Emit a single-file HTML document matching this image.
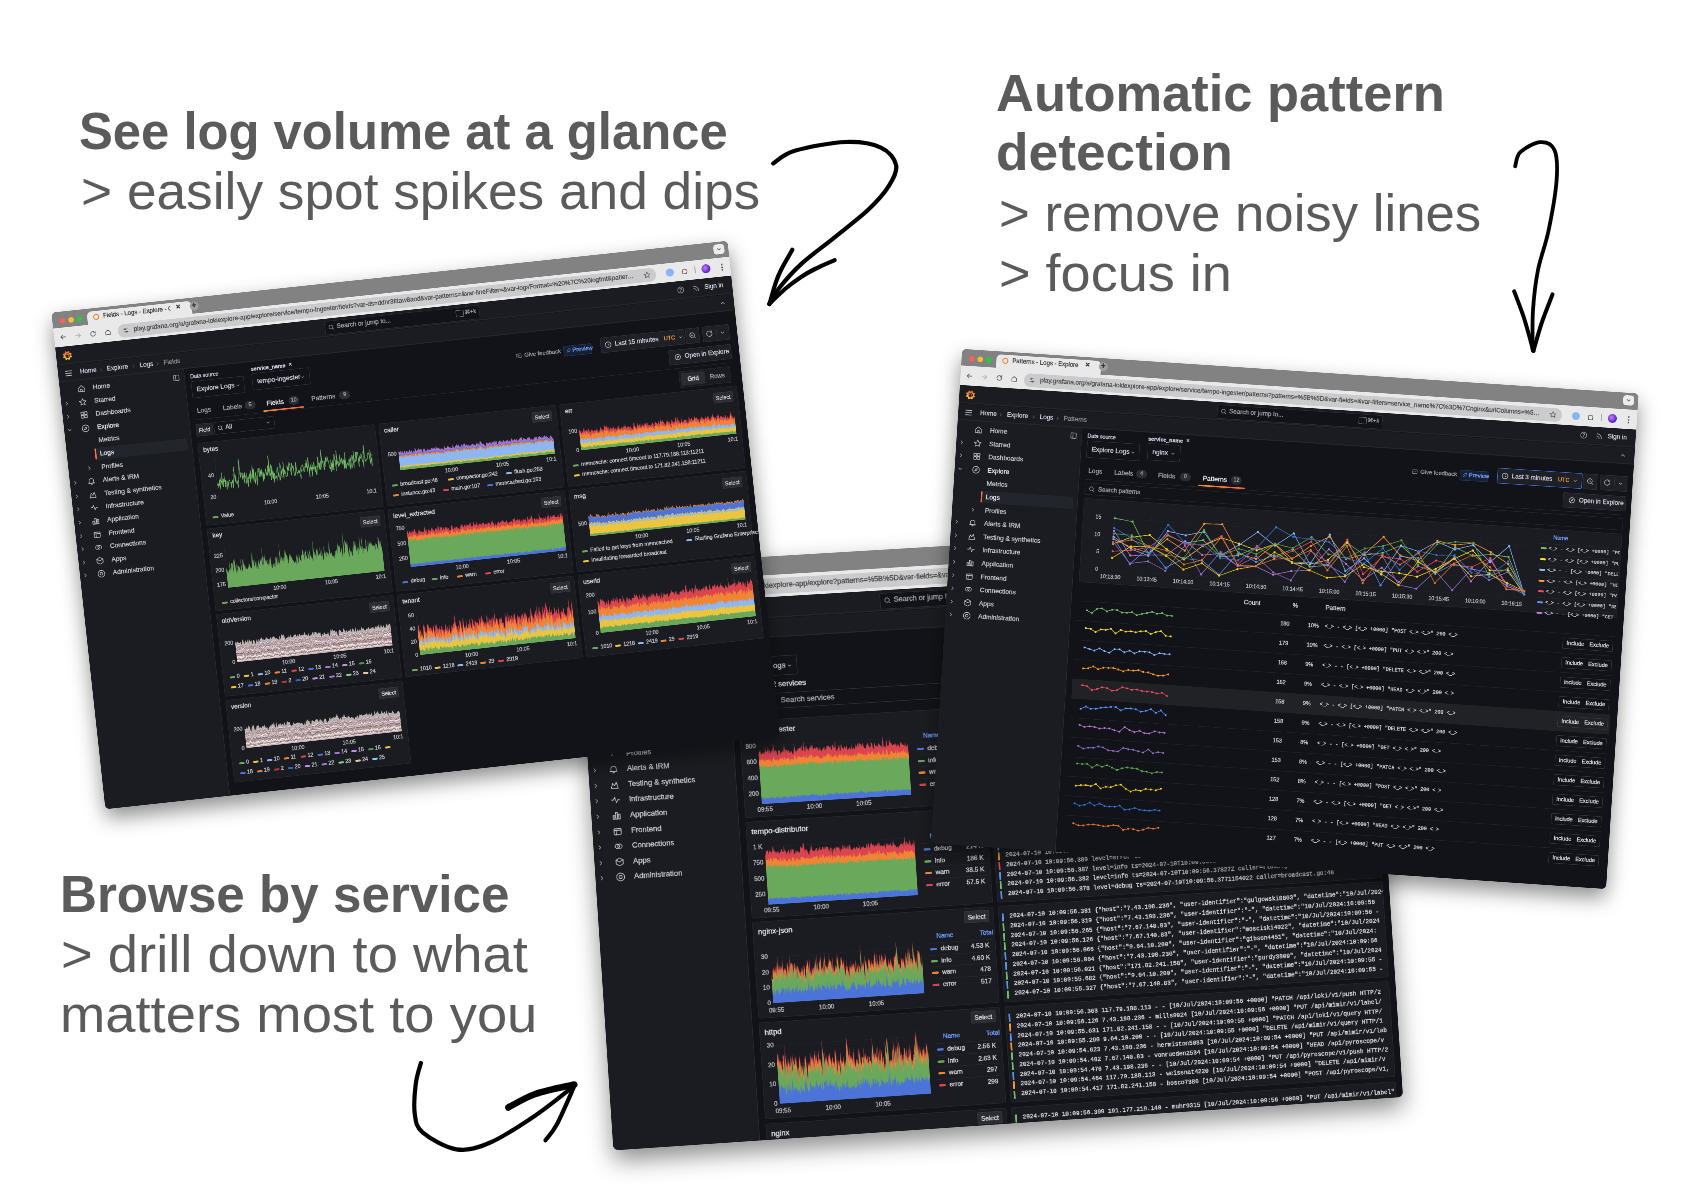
<!DOCTYPE html><html><head><meta charset="utf-8"><style>html,body{margin:0;padding:0;background:#fff}body{width:1684px;height:1190px;position:relative;overflow:hidden;font-family:"Liberation Sans",sans-serif}</style></head><body><div style="position:absolute;font-family:'Liberation Sans',sans-serif;color:#5b5b5b;white-space:nowrap;left:78.9px;top:105.6px;font-size:51.5px;line-height:51.5px;font-weight:700;transform-origin:0 0;transform:scaleX(0.9853)">See log volume at a glance</div><div style="position:absolute;font-family:'Liberation Sans',sans-serif;color:#5b5b5b;white-space:nowrap;left:81.2px;top:165.8px;font-size:51.5px;line-height:51.5px;font-weight:400;transform-origin:0 0;transform:scaleX(1.0338)">&gt; easily spot spikes and dips</div><div style="position:absolute;font-family:'Liberation Sans',sans-serif;color:#5b5b5b;white-space:nowrap;left:996.4px;top:68.1px;font-size:51.5px;line-height:51.5px;font-weight:700;transform-origin:0 0;transform:scaleX(1.0186)">Automatic pattern</div><div style="position:absolute;font-family:'Liberation Sans',sans-serif;color:#5b5b5b;white-space:nowrap;left:996.4px;top:127.4px;font-size:51.5px;line-height:51.5px;font-weight:700;transform-origin:0 0;transform:scaleX(1.0343)">detection</div><div style="position:absolute;font-family:'Liberation Sans',sans-serif;color:#5b5b5b;white-space:nowrap;left:998.9px;top:187.7px;font-size:51.5px;line-height:51.5px;font-weight:400;transform-origin:0 0;transform:scaleX(1.0241)">&gt; remove noisy lines</div><div style="position:absolute;font-family:'Liberation Sans',sans-serif;color:#5b5b5b;white-space:nowrap;left:998.8px;top:247.8px;font-size:51.5px;line-height:51.5px;font-weight:400;transform-origin:0 0;transform:scaleX(1.0498)">&gt; focus in</div><div style="position:absolute;font-family:'Liberation Sans',sans-serif;color:#5b5b5b;white-space:nowrap;left:60.4px;top:868.7px;font-size:51.5px;line-height:51.5px;font-weight:700;transform-origin:0 0;transform:scaleX(0.9935)">Browse by service</div><div style="position:absolute;font-family:'Liberation Sans',sans-serif;color:#5b5b5b;white-space:nowrap;left:61.3px;top:929.0px;font-size:51.5px;line-height:51.5px;font-weight:400;transform-origin:0 0;transform:scaleX(1.0557)">&gt; drill down to what</div><div style="position:absolute;font-family:'Liberation Sans',sans-serif;color:#5b5b5b;white-space:nowrap;left:60.2px;top:988.9px;font-size:51.5px;line-height:51.5px;font-weight:400;transform-origin:0 0;transform:scaleX(1.0556)">matters most to you</div><div style="position:absolute;left:0;top:0;width:1364px;height:1005px;transform-origin:0 0;transform:matrix3d(0.5902955433,-0.03021441675,0,8.144071518e-06,0.0381918541,0.5794704153,0,-2.78792397e-08,0,0,1,0,575,568,0,1);border-radius:9px;overflow:hidden;background:#121318;-webkit-text-stroke:0.45px currentColor;box-shadow:0 18px 40px rgba(0,0,0,0.45)"><div style="position:absolute;left:0px;top:0px;width:1364px;height:32px;background:#828282"></div><div style="position:absolute;left:15px;top:13px;width:11px;height:11px;background:#fe5f57;border-radius:50%"></div><div style="position:absolute;left:32px;top:13px;width:11px;height:11px;background:#febc2e;border-radius:50%"></div><div style="position:absolute;left:49px;top:13px;width:11px;height:11px;background:#28c840;border-radius:50%"></div><div style="position:absolute;left:70px;top:6px;width:210px;height:26px;background:#e9e9e9;border-radius:9px 9px 0 0"></div><div style="position:absolute;left:82px;top:12px;width:12px;height:12px;border:2.5px solid #f27a25;border-radius:50%;box-sizing:border-box"></div><div style="position:absolute;left:102px;top:10px;font-size:12px;line-height:14px;color:#3c3c3c;font-weight:400;white-space:nowrap;width:135px;overflow:hidden">Service - Logs - Explore - Grafana</div><div style="position:absolute;left:248px;top:8px;font-size:12px;line-height:14px;color:#444;font-weight:700;white-space:nowrap;">&#x2715;</div><div style="position:absolute;left:276px;top:8px;width:18px;height:18px;background:#9e9e9e;border-radius:50%"></div><div style="position:absolute;left:280px;top:6px;font-size:16px;line-height:18px;color:#333;font-weight:700;white-space:nowrap;">+</div><div style="position:absolute;left:1334px;top:5px;width:22px;height:20px;background:#ececec;border-radius:6px"></div><svg style="position:absolute;left:1339px;top:9px" width="12" height="12" viewBox="0 0 24 24" fill="none" stroke="#444" stroke-width="2.2" stroke-linecap="round" stroke-linejoin="round" ><path d="M6 9 L12 15 L18 9"/></svg><div style="position:absolute;left:0px;top:32px;width:1364px;height:38px;background:#e9e9e9"></div><svg style="position:absolute;left:10px;top:43.0px" width="16" height="16" viewBox="0 0 24 24" fill="none" stroke="#555" stroke-width="2" stroke-linecap="round" stroke-linejoin="round" ><path d="M19 12 H5"/><path d="M11 6 L5 12 L11 18"/></svg><svg style="position:absolute;left:40px;top:43.0px" width="16" height="16" viewBox="0 0 24 24" fill="none" stroke="#aaa" stroke-width="2" stroke-linecap="round" stroke-linejoin="round" ><path d="M5 12 H19"/><path d="M13 6 L19 12 L13 18"/></svg><svg style="position:absolute;left:70px;top:43.0px" width="16" height="16" viewBox="0 0 24 24" fill="none" stroke="#555" stroke-width="2" stroke-linecap="round" stroke-linejoin="round" ><path d="M19 12 A7 7 0 1 1 16.5 6.6"/><path d="M19 4 V9 H14"/></svg><svg style="position:absolute;left:100px;top:43.0px" width="16" height="16" viewBox="0 0 24 24" fill="none" stroke="#555" stroke-width="2" stroke-linecap="round" stroke-linejoin="round" ><path d="M5 11 L12 5 L19 11 V19 H5 Z"/></svg><div style="position:absolute;left:128px;top:38.0px;width:1086px;height:27px;background:#cbcbcd;border-radius:13px"></div><svg style="position:absolute;left:136px;top:43.0px" width="16" height="16" viewBox="0 0 24 24" fill="none" stroke="#555" stroke-width="1.8" stroke-linecap="round" stroke-linejoin="round" ><path d="M6 8 H18 M6 16 H18"/><circle cx="10" cy="8" r="2"/><circle cx="14" cy="16" r="2"/></svg><div style="position:absolute;left:160px;top:43.0px;font-size:12.5px;line-height:14.5px;color:#4a4a4a;font-weight:400;white-space:nowrap;width:1016px;overflow:hidden;text-overflow:ellipsis">play.grafana.org/a/grafana-lokiexplore-app/explore?patterns=%5B%5D&amp;var-fields=&amp;var-levels=&amp;var-patterns=&amp;var-lineFilter=&amp;var-logsFormat=&amp;var-ds=ddhr3fttaw8aod&amp;var-filters=&amp;var-all-fields=</div><svg style="position:absolute;left:1188px;top:43.0px" width="16" height="16" viewBox="0 0 24 24" fill="none" stroke="#555" stroke-width="1.8" stroke-linecap="round" stroke-linejoin="round" ><path d="M12 3 L14.7 9 L21 9.6 L16.2 13.8 L17.6 20 L12 16.7 L6.4 20 L7.8 13.8 L3 9.6 L9.3 9 Z"/></svg><div style="position:absolute;left:1234px;top:43.0px;width:16px;height:16px;background:#8ab4f8;border-radius:50%"></div><svg style="position:absolute;left:1264px;top:43.0px" width="16" height="16" viewBox="0 0 24 24" fill="none" stroke="#555" stroke-width="1.8" stroke-linecap="round" stroke-linejoin="round" ><path d="M5 8 H9 A2 2 0 0 1 13 8 H17 V12 A2 2 0 0 1 17 16 V20 H5 Z"/></svg><div style="position:absolute;left:1292px;top:44.0px;width:1.5px;height:14px;background:#aaa"></div><div style="position:absolute;left:1306px;top:42.0px;width:18px;height:18px;background:radial-gradient(circle at 40% 40%,#d07cf0,#5b2bd6 60%,#2a1a80);border-radius:50%"></div><div style="position:absolute;left:1340px;top:42.0px;font-size:15px;line-height:17px;color:#555;font-weight:700;white-space:nowrap;">&#8942;</div><div style="position:absolute;left:0px;top:70px;width:1364px;height:36px;background:#1b1c21;border-bottom:2px solid #24262b;box-sizing:border-box"></div><svg style="position:absolute;left:12px;top:78px" width="21" height="21" viewBox="0 0 24 24"><defs><linearGradient id="glg" gradientUnits="userSpaceOnUse" x1="0" y1="22" x2="0" y2="2"><stop offset="0" stop-color="#f5c342"/><stop offset="0.55" stop-color="#f99a36"/><stop offset="1" stop-color="#e8532b"/></linearGradient></defs><g fill="url(#glg)"><circle cx="12" cy="12" r="8"/><circle cx="19.70" cy="15.11" r="2.3"/><circle cx="15.24" cy="19.64" r="2.3"/><circle cx="8.89" cy="19.70" r="2.3"/><circle cx="4.36" cy="15.24" r="2.3"/><circle cx="4.30" cy="8.89" r="2.3"/><circle cx="8.76" cy="4.36" r="2.3"/><circle cx="15.11" cy="4.30" r="2.3"/><circle cx="19.64" cy="8.76" r="2.3"/></g><circle cx="12.4" cy="12.4" r="5.0" fill="#1b1c21"/><path d="M9.6 11.2 A3 3 0 1 1 12.6 15.4" fill="none" stroke="url(#glg)" stroke-width="1.4"/></svg><div style="position:absolute;left:517px;top:75px;width:330px;height:26px;background:#121318;border:1px solid #2b2d33;border-radius:2px"></div><svg style="position:absolute;left:523px;top:81px" width="14" height="14" viewBox="0 0 24 24" fill="none" stroke="#9fa3ab" stroke-width="2" stroke-linecap="round" stroke-linejoin="round" ><circle cx="11" cy="11" r="6.5"/><path d="M16 16 L20 20"/></svg><div style="position:absolute;left:541px;top:80px;font-size:12.5px;line-height:14.5px;color:#9fa3ab;font-weight:400;white-space:nowrap;">Search or jump to...</div><div style="position:absolute;left:801px;top:81px;width:14px;height:12px;border:1px solid #777;border-radius:2px"></div><div style="position:absolute;left:819px;top:80px;font-size:11px;line-height:13px;color:#9fa3ab;font-weight:400;white-space:nowrap;">&#8984;+k</div><svg style="position:absolute;left:1252px;top:80px" width="16" height="16" viewBox="0 0 24 24" fill="none" stroke="#9fa3ab" stroke-width="1.8" stroke-linecap="round" stroke-linejoin="round" ><circle cx="12" cy="12" r="9"/><path d="M9.5 9.5 A2.5 2.5 0 1 1 12 12 V13.5"/><circle cx="12" cy="17" r="0.6"/></svg><svg style="position:absolute;left:1283px;top:80px" width="16" height="16" viewBox="0 0 24 24" fill="none" stroke="#9fa3ab" stroke-width="2.2" stroke-linecap="round" stroke-linejoin="round" ><path d="M5 19 A0.5 0.5 0 0 0 5 19"/><path d="M5 12 A7 7 0 0 1 12 19"/><path d="M5 5 A14 14 0 0 1 19 19"/></svg><div style="position:absolute;left:1308px;top:80px;font-size:12.5px;line-height:14.5px;color:#ccccdc;font-weight:500;white-space:nowrap;">Sign in</div><div style="position:absolute;left:0px;top:107px;width:1364px;height:33px;background:#1b1c21;border-bottom:2px solid #24262b;box-sizing:border-box"></div><svg style="position:absolute;left:12px;top:115px" width="18" height="18" viewBox="0 0 24 24" fill="none" stroke="#ccccdc" stroke-width="2" stroke-linecap="round" stroke-linejoin="round" ><path d="M4 6 H20"/><path d="M4 12 H20"/><path d="M4 18 H20"/></svg><div style="position:absolute;left:44px;top:116px;font-size:12.5px;line-height:14.5px;color:#ccccdc;font-weight:500;white-space:nowrap;">Home</div><svg style="position:absolute;left:81px;top:119px" width="10" height="10" viewBox="0 0 24 24" fill="none" stroke="#888" stroke-width="2" stroke-linecap="round" stroke-linejoin="round" ><path d="M9 6 L15 12 L9 18"/></svg><div style="position:absolute;left:98px;top:116px;font-size:12.5px;line-height:14.5px;color:#ccccdc;font-weight:500;white-space:nowrap;">Explore</div><svg style="position:absolute;left:147px;top:119px" width="10" height="10" viewBox="0 0 24 24" fill="none" stroke="#888" stroke-width="2" stroke-linecap="round" stroke-linejoin="round" ><path d="M9 6 L15 12 L9 18"/></svg><div style="position:absolute;left:164px;top:116px;font-size:12.5px;line-height:14.5px;color:#ccccdc;font-weight:500;white-space:nowrap;">Logs</div><svg style="position:absolute;left:195px;top:119px" width="10" height="10" viewBox="0 0 24 24" fill="none" stroke="#888" stroke-width="2" stroke-linecap="round" stroke-linejoin="round" ><path d="M9 6 L15 12 L9 18"/></svg><div style="position:absolute;left:212px;top:116px;font-size:12.5px;line-height:14.5px;color:#8e8e8e;font-weight:400;white-space:nowrap;">Logs</div><svg style="position:absolute;left:1334px;top:116px" width="14" height="14" viewBox="0 0 24 24" fill="none" stroke="#9fa3ab" stroke-width="2" stroke-linecap="round" stroke-linejoin="round" ><path d="M6 15 L12 9 L18 15"/></svg><div style="position:absolute;left:250px;top:140px;width:1114px;height:865px;background:#121318"></div><div style="position:absolute;left:0px;top:140px;width:250px;height:865px;background:#1b1c21;border-right:1px solid #2b2d33"></div><svg style="position:absolute;left:226px;top:148px" width="16" height="16" viewBox="0 0 24 24" fill="none" stroke="#9fa3ab" stroke-width="1.8" stroke-linecap="round" stroke-linejoin="round" ><rect x="4" y="4" width="16" height="16" rx="2"/><path d="M10 4 V20"/></svg><svg style="position:absolute;left:34px;top:155.0px" width="18" height="18" viewBox="0 0 24 24" fill="none" stroke="#c0c4cc" stroke-width="1.7" stroke-linecap="round" stroke-linejoin="round" ><path d="M4 11 L12 4 L20 11 V20 H4 Z"/><path d="M10 20 V14 H14 V20"/></svg><div style="position:absolute;left:66px;top:156.0px;font-size:13px;line-height:15px;color:#c4c6cf;font-weight:400;white-space:nowrap;">Home</div><svg style="position:absolute;left:5px;top:184.6px" width="12" height="12" viewBox="0 0 24 24" fill="none" stroke="#9fa3ab" stroke-width="2.2" stroke-linecap="round" stroke-linejoin="round" ><path d="M9 6 L15 12 L9 18"/></svg><svg style="position:absolute;left:34px;top:181.6px" width="18" height="18" viewBox="0 0 24 24" fill="none" stroke="#c0c4cc" stroke-width="1.7" stroke-linecap="round" stroke-linejoin="round" ><path d="M12 3 L14.7 9 L21 9.6 L16.2 13.8 L17.6 20 L12 16.7 L6.4 20 L7.8 13.8 L3 9.6 L9.3 9 Z"/></svg><div style="position:absolute;left:66px;top:182.6px;font-size:13px;line-height:15px;color:#c4c6cf;font-weight:400;white-space:nowrap;">Starred</div><svg style="position:absolute;left:5px;top:211.2px" width="12" height="12" viewBox="0 0 24 24" fill="none" stroke="#9fa3ab" stroke-width="2.2" stroke-linecap="round" stroke-linejoin="round" ><path d="M9 6 L15 12 L9 18"/></svg><svg style="position:absolute;left:34px;top:208.2px" width="18" height="18" viewBox="0 0 24 24" fill="none" stroke="#c0c4cc" stroke-width="1.7" stroke-linecap="round" stroke-linejoin="round" ><rect x="4" y="4" width="7" height="7" rx="1"/><rect x="13" y="4" width="7" height="7" rx="1"/><rect x="4" y="13" width="7" height="7" rx="1"/><rect x="13" y="13" width="7" height="7" rx="1"/></svg><div style="position:absolute;left:66px;top:209.2px;font-size:13px;line-height:15px;color:#c4c6cf;font-weight:400;white-space:nowrap;">Dashboards</div><svg style="position:absolute;left:5px;top:237.8px" width="12" height="12" viewBox="0 0 24 24" fill="none" stroke="#9fa3ab" stroke-width="2.2" stroke-linecap="round" stroke-linejoin="round" ><path d="M6 9 L12 15 L18 9"/></svg><svg style="position:absolute;left:34px;top:234.8px" width="18" height="18" viewBox="0 0 24 24" fill="none" stroke="#c0c4cc" stroke-width="1.7" stroke-linecap="round" stroke-linejoin="round" ><circle cx="12" cy="12" r="9"/><path d="M15.5 8.5 L13.5 13.5 L8.5 15.5 L10.5 10.5 Z"/></svg><div style="position:absolute;left:66px;top:235.8px;font-size:13px;line-height:15px;color:#e6e6ef;font-weight:500;white-space:nowrap;">Explore</div><div style="position:absolute;left:66px;top:262.4px;font-size:13px;line-height:15px;color:#c4c6cf;font-weight:400;white-space:nowrap;">Metrics</div><div style="position:absolute;left:56px;top:285.0px;width:186px;height:24px;background:#22252b;border-radius:2px"></div><div style="position:absolute;left:56px;top:286.0px;width:3px;height:22px;background:linear-gradient(#ff8833,#f55f3e);border-radius:2px"></div><div style="position:absolute;left:66px;top:289.0px;font-size:13px;line-height:15px;color:#e6e6ef;font-weight:500;white-space:nowrap;">Logs</div><svg style="position:absolute;left:36px;top:317.6px" width="12" height="12" viewBox="0 0 24 24" fill="none" stroke="#9fa3ab" stroke-width="2.2" stroke-linecap="round" stroke-linejoin="round" ><path d="M9 6 L15 12 L9 18"/></svg><div style="position:absolute;left:66px;top:315.6px;font-size:13px;line-height:15px;color:#c4c6cf;font-weight:400;white-space:nowrap;">Profiles</div><svg style="position:absolute;left:5px;top:344.20000000000005px" width="12" height="12" viewBox="0 0 24 24" fill="none" stroke="#9fa3ab" stroke-width="2.2" stroke-linecap="round" stroke-linejoin="round" ><path d="M9 6 L15 12 L9 18"/></svg><svg style="position:absolute;left:34px;top:341.20000000000005px" width="18" height="18" viewBox="0 0 24 24" fill="none" stroke="#c0c4cc" stroke-width="1.7" stroke-linecap="round" stroke-linejoin="round" ><path d="M6 17 V11 A6 6 0 0 1 18 11 V17 Z"/><path d="M4 17 H20"/><path d="M10 20 H14"/></svg><div style="position:absolute;left:66px;top:342.20000000000005px;font-size:13px;line-height:15px;color:#c4c6cf;font-weight:400;white-space:nowrap;">Alerts &amp; IRM</div><svg style="position:absolute;left:5px;top:370.8px" width="12" height="12" viewBox="0 0 24 24" fill="none" stroke="#9fa3ab" stroke-width="2.2" stroke-linecap="round" stroke-linejoin="round" ><path d="M9 6 L15 12 L9 18"/></svg><svg style="position:absolute;left:34px;top:367.8px" width="18" height="18" viewBox="0 0 24 24" fill="none" stroke="#c0c4cc" stroke-width="1.7" stroke-linecap="round" stroke-linejoin="round" ><path d="M4 20 L8 8 L12 14 L16 6 L20 20 Z"/></svg><div style="position:absolute;left:66px;top:368.8px;font-size:13px;line-height:15px;color:#c4c6cf;font-weight:400;white-space:nowrap;">Testing &amp; synthetics</div><svg style="position:absolute;left:5px;top:397.4px" width="12" height="12" viewBox="0 0 24 24" fill="none" stroke="#9fa3ab" stroke-width="2.2" stroke-linecap="round" stroke-linejoin="round" ><path d="M9 6 L15 12 L9 18"/></svg><svg style="position:absolute;left:34px;top:394.4px" width="18" height="18" viewBox="0 0 24 24" fill="none" stroke="#c0c4cc" stroke-width="1.7" stroke-linecap="round" stroke-linejoin="round" ><path d="M3 12 H7 L10 6 L14 18 L17 12 H21"/></svg><div style="position:absolute;left:66px;top:395.4px;font-size:13px;line-height:15px;color:#c4c6cf;font-weight:400;white-space:nowrap;">Infrastructure</div><svg style="position:absolute;left:5px;top:424.0px" width="12" height="12" viewBox="0 0 24 24" fill="none" stroke="#9fa3ab" stroke-width="2.2" stroke-linecap="round" stroke-linejoin="round" ><path d="M9 6 L15 12 L9 18"/></svg><svg style="position:absolute;left:34px;top:421.0px" width="18" height="18" viewBox="0 0 24 24" fill="none" stroke="#c0c4cc" stroke-width="1.7" stroke-linecap="round" stroke-linejoin="round" ><rect x="4" y="12" width="4" height="8"/><rect x="10" y="5" width="4" height="15"/><rect x="16" y="9" width="4" height="11"/></svg><div style="position:absolute;left:66px;top:422.0px;font-size:13px;line-height:15px;color:#c4c6cf;font-weight:400;white-space:nowrap;">Application</div><svg style="position:absolute;left:5px;top:450.6px" width="12" height="12" viewBox="0 0 24 24" fill="none" stroke="#9fa3ab" stroke-width="2.2" stroke-linecap="round" stroke-linejoin="round" ><path d="M9 6 L15 12 L9 18"/></svg><svg style="position:absolute;left:34px;top:447.6px" width="18" height="18" viewBox="0 0 24 24" fill="none" stroke="#c0c4cc" stroke-width="1.7" stroke-linecap="round" stroke-linejoin="round" ><rect x="4" y="6" width="16" height="14" rx="2"/><path d="M4 10 H20"/><path d="M9 10 V20"/></svg><div style="position:absolute;left:66px;top:448.6px;font-size:13px;line-height:15px;color:#c4c6cf;font-weight:400;white-space:nowrap;">Frontend</div><svg style="position:absolute;left:5px;top:477.20000000000005px" width="12" height="12" viewBox="0 0 24 24" fill="none" stroke="#9fa3ab" stroke-width="2.2" stroke-linecap="round" stroke-linejoin="round" ><path d="M9 6 L15 12 L9 18"/></svg><svg style="position:absolute;left:34px;top:474.20000000000005px" width="18" height="18" viewBox="0 0 24 24" fill="none" stroke="#c0c4cc" stroke-width="1.7" stroke-linecap="round" stroke-linejoin="round" ><circle cx="9" cy="12" r="5"/><circle cx="15" cy="12" r="5"/></svg><div style="position:absolute;left:66px;top:475.20000000000005px;font-size:13px;line-height:15px;color:#c4c6cf;font-weight:400;white-space:nowrap;">Connections</div><svg style="position:absolute;left:5px;top:503.8px" width="12" height="12" viewBox="0 0 24 24" fill="none" stroke="#9fa3ab" stroke-width="2.2" stroke-linecap="round" stroke-linejoin="round" ><path d="M9 6 L15 12 L9 18"/></svg><svg style="position:absolute;left:34px;top:500.8px" width="18" height="18" viewBox="0 0 24 24" fill="none" stroke="#c0c4cc" stroke-width="1.7" stroke-linecap="round" stroke-linejoin="round" ><path d="M12 3 L20 7.5 V16.5 L12 21 L4 16.5 V7.5 Z"/><path d="M4 7.5 L12 12 L20 7.5"/></svg><div style="position:absolute;left:66px;top:501.8px;font-size:13px;line-height:15px;color:#c4c6cf;font-weight:400;white-space:nowrap;">Apps</div><svg style="position:absolute;left:5px;top:530.4000000000001px" width="12" height="12" viewBox="0 0 24 24" fill="none" stroke="#9fa3ab" stroke-width="2.2" stroke-linecap="round" stroke-linejoin="round" ><path d="M9 6 L15 12 L9 18"/></svg><svg style="position:absolute;left:34px;top:527.4000000000001px" width="18" height="18" viewBox="0 0 24 24" fill="none" stroke="#c0c4cc" stroke-width="1.7" stroke-linecap="round" stroke-linejoin="round" ><circle cx="12" cy="12" r="9"/><circle cx="12" cy="12" r="3.5"/></svg><div style="position:absolute;left:66px;top:528.4000000000001px;font-size:13px;line-height:15px;color:#c4c6cf;font-weight:400;white-space:nowrap;">Administration</div><div style="position:absolute;left:262px;top:154px;font-size:10.5px;line-height:12.5px;color:#ccccdc;font-weight:500;white-space:nowrap;">Data source</div><div style="position:absolute;left:262px;top:172px;width:106px;height:34px;background:#121318;border:1px solid #2f3137;border-radius:2px;box-sizing:border-box"></div><div style="position:absolute;left:272px;top:181px;font-size:13px;line-height:15px;color:#ccccdc;font-weight:500;white-space:nowrap;">Explore Logs</div><svg style="position:absolute;left:350px;top:185px" width="10" height="10" viewBox="0 0 24 24" fill="none" stroke="#ccccdc" stroke-width="2.4" stroke-linecap="round" stroke-linejoin="round" ><path d="M6 9 L12 15 L18 9"/></svg><div style="position:absolute;left:262px;top:213px;font-size:13px;line-height:15px;color:#e0e1e8;font-weight:500;white-space:nowrap;">Showing 22 services</div><div style="position:absolute;left:262px;top:236px;width:1091px;height:27px;background:#121318;border:1px solid #2f3137;border-radius:2px;box-sizing:border-box"></div><svg style="position:absolute;left:314px;top:242px" width="14" height="14" viewBox="0 0 24 24" fill="none" stroke="#9fa3ab" stroke-width="2" stroke-linecap="round" stroke-linejoin="round" ><circle cx="11" cy="11" r="6.5"/><path d="M16 16 L20 20"/></svg><div style="position:absolute;left:336px;top:241px;font-size:13px;line-height:15px;color:#9fa3ab;font-weight:400;white-space:nowrap;">Search services</div><div style="position:absolute;left:262px;top:281px;width:415px;height:167px;background:#1b1c21;border:1px solid #26282d;border-radius:3px;box-sizing:border-box"></div><div style="position:absolute;left:271px;top:291px;font-size:13px;line-height:15px;color:#e0e1e8;font-weight:500;white-space:nowrap;">tempo-ingester</div><div style="position:absolute;left:626px;top:286px;width:43px;height:21px;background:#2b2d33;border:1px solid #34363c;border-radius:2px;box-sizing:border-box;"><div style="position:absolute;left:0;right:0;top:0;bottom:0;display:flex;align-items:center;justify-content:center;font-size:11px;color:#d8d9e0;font-weight:500;white-space:nowrap">Select</div></div><div style="position:absolute;left:256px;top:318.9px;font-size:10.5px;line-height:12.5px;color:#b8bac2;font-weight:400;white-space:nowrap;width:32px;text-align:right">800</div><div style="position:absolute;left:292px;top:325.9px;width:257px;height:1px;background:#202226"></div><div style="position:absolute;left:256px;top:346.4px;font-size:10.5px;line-height:12.5px;color:#b8bac2;font-weight:400;white-space:nowrap;width:32px;text-align:right">600</div><div style="position:absolute;left:292px;top:353.4px;width:257px;height:1px;background:#202226"></div><div style="position:absolute;left:256px;top:373.9px;font-size:10.5px;line-height:12.5px;color:#b8bac2;font-weight:400;white-space:nowrap;width:32px;text-align:right">400</div><div style="position:absolute;left:292px;top:380.9px;width:257px;height:1px;background:#202226"></div><div style="position:absolute;left:256px;top:401.4px;font-size:10.5px;line-height:12.5px;color:#b8bac2;font-weight:400;white-space:nowrap;width:32px;text-align:right">200</div><div style="position:absolute;left:292px;top:408.4px;width:257px;height:1px;background:#202226"></div><div style="position:absolute;left:292px;top:316px;width:257px;height:110px"><svg width="257" height="110" viewBox="0 0 259 110" preserveAspectRatio="none" style="position:absolute;display:block;overflow:visible"><path d="M0,110 0,24 1,20 2,20 3,16 4,24 5,23 6,25 7,22 8,20 9,23 10,25 11,19 12,11 13,21 14,21 15,19 16,18 17,11 18,25 19,17 20,19 21,24 22,22 23,18 24,21 25,15 26,6 27,17 28,23 29,19 30,18 31,20 32,24 33,28 34,19 35,20 36,18 37,20 38,27 39,21 40,24 41,18 42,22 43,23 44,15 45,7 46,27 47,18 48,21 49,18 50,21 51,24 52,19 53,22 54,25 55,24 56,22 57,21 58,27 59,27 60,26 61,22 62,9 63,17 64,22 65,25 66,21 67,22 68,19 69,17 70,20 71,17 72,17 73,16 74,24 75,11 76,23 77,21 78,14 79,6 80,25 81,23 82,15 83,15 84,20 85,19 86,24 87,21 88,17 89,21 90,17 91,13 92,14 93,21 94,13 95,21 96,21 97,18 98,20 99,20 100,17 101,19 102,18 103,23 104,24 105,16 106,24 107,20 108,26 109,24 110,23 111,22 112,19 113,21 114,17 115,26 116,20 117,23 118,17 119,16 120,19 121,16 122,17 123,21 124,18 125,17 126,24 127,23 128,14 129,17 130,20 131,20 132,20 133,8 134,27 135,23 136,28 137,21 138,23 139,16 140,16 141,27 142,25 143,14 144,18 145,23 146,21 147,25 148,22 149,18 150,21 151,23 152,19 153,19 154,27 155,25 156,24 157,22 158,22 159,27 160,23 161,15 162,27 163,24 164,22 165,23 166,25 167,25 168,14 169,25 170,19 171,21 172,14 173,24 174,15 175,14 176,18 177,17 178,18 179,22 180,17 181,15 182,22 183,24 184,24 185,26 186,23 187,17 188,24 189,14 190,19 191,20 192,24 193,22 194,24 195,13 196,17 197,17 198,24 199,27 200,24 201,15 202,23 203,21 204,23 205,20 206,24 207,21 208,17 209,20 210,20 211,22 212,23 213,22 214,28 215,3 216,14 217,25 218,25 219,21 220,28 221,18 222,12 223,22 224,25 225,23 226,20 227,12 228,19 229,17 230,19 231,21 232,24 233,20 234,22 235,21 236,22 237,18 238,24 239,26 240,19 241,24 242,23 243,22 244,28 245,23 246,18 247,19 248,19 249,23 250,21 251,24 252,23 253,27 254,18 255,26 256,24 257,28 258,24 259,22 259,110Z" fill="#d9444f"/><path d="M0,110 0,35 1,34 2,33 3,35 4,33 5,33 6,34 7,33 8,34 9,35 10,37 11,32 12,35 13,35 14,34 15,35 16,34 17,34 18,36 19,33 20,36 21,40 22,37 23,33 24,36 25,31 26,30 27,35 28,37 29,34 30,36 31,34 32,37 33,39 34,35 35,35 36,34 37,31 38,35 39,34 40,34 41,32 42,34 43,37 44,31 45,31 46,37 47,35 48,34 49,33 50,34 51,34 52,32 53,38 54,39 55,34 56,36 57,36 58,35 59,37 60,37 61,33 62,29 63,30 64,34 65,36 66,37 67,32 68,29 69,33 70,33 71,31 72,33 73,34 74,33 75,33 76,34 77,34 78,29 79,32 80,34 81,38 82,29 83,35 84,36 85,32 86,36 87,30 88,30 89,33 90,31 91,29 92,31 93,38 94,32 95,36 96,35 97,35 98,34 99,34 100,33 101,32 102,33 103,33 104,38 105,34 106,38 107,36 108,39 109,37 110,35 111,37 112,31 113,35 114,34 115,37 116,32 117,32 118,33 119,29 120,31 121,30 122,31 123,35 124,37 125,30 126,38 127,37 128,36 129,34 130,36 131,33 132,36 133,29 134,36 135,37 136,39 137,33 138,36 139,33 140,32 141,37 142,32 143,32 144,31 145,38 146,35 147,34 148,35 149,34 150,31 151,37 152,34 153,32 154,37 155,36 156,36 157,33 158,36 159,38 160,37 161,33 162,38 163,34 164,36 165,33 166,36 167,38 168,31 169,38 170,35 171,34 172,30 173,33 174,34 175,32 176,34 177,32 178,35 179,35 180,36 181,35 182,38 183,34 184,35 185,37 186,38 187,33 188,36 189,30 190,32 191,35 192,35 193,36 194,35 195,31 196,34 197,30 198,35 199,37 200,37 201,30 202,35 203,36 204,38 205,33 206,37 207,32 208,31 209,35 210,38 211,36 212,39 213,33 214,37 215,28 216,32 217,39 218,36 219,38 220,37 221,30 222,28 223,35 224,38 225,41 226,37 227,38 228,32 229,34 230,32 231,33 232,37 233,36 234,36 235,36 236,35 237,30 238,39 239,36 240,31 241,35 242,37 243,34 244,38 245,36 246,35 247,34 248,33 249,39 250,31 251,33 252,37 253,35 254,32 255,39 256,37 257,36 258,38 259,34 259,110Z" fill="#ef8534"/><path d="M0,110 0,45 1,43 2,45 3,48 4,42 5,44 6,47 7,45 8,48 9,43 10,46 11,44 12,47 13,47 14,47 15,45 16,47 17,45 18,47 19,44 20,46 21,48 22,48 23,45 24,45 25,45 26,43 27,44 28,44 29,44 30,45 31,48 32,46 33,50 34,44 35,48 36,45 37,44 38,45 39,46 40,45 41,45 42,47 43,44 44,44 45,43 46,48 47,46 48,44 49,45 50,42 51,46 52,43 53,46 54,47 55,46 56,46 57,45 58,44 59,46 60,47 61,44 62,41 63,44 64,43 65,48 66,47 67,44 68,42 69,44 70,46 71,45 72,45 73,45 74,46 75,46 76,46 77,43 78,43 79,43 80,46 81,46 82,44 83,46 84,47 85,43 86,44 87,42 88,42 89,43 90,43 91,42 92,43 93,46 94,43 95,43 96,45 97,45 98,46 99,43 100,47 101,45 102,45 103,47 104,48 105,46 106,46 107,44 108,46 109,45 110,46 111,46 112,46 113,46 114,44 115,46 116,44 117,45 118,46 119,43 120,44 121,43 122,45 123,45 124,46 125,43 126,48 127,49 128,45 129,43 130,44 131,42 132,43 133,42 134,48 135,49 136,47 137,42 138,48 139,45 140,46 141,47 142,43 143,44 144,43 145,47 146,45 147,43 148,47 149,45 150,43 151,48 152,43 153,45 154,47 155,48 156,46 157,42 158,45 159,46 160,45 161,45 162,47 163,46 164,46 165,45 166,46 167,48 168,43 169,46 170,43 171,46 172,41 173,46 174,45 175,43 176,43 177,44 178,44 179,47 180,45 181,46 182,48 183,45 184,45 185,47 186,47 187,42 188,48 189,44 190,45 191,44 192,45 193,47 194,46 195,46 196,46 197,42 198,48 199,48 200,46 201,42 202,46 203,47 204,48 205,43 206,48 207,44 208,44 209,46 210,48 211,47 212,47 213,42 214,44 215,42 216,42 217,46 218,47 219,47 220,44 221,44 222,43 223,46 224,46 225,48 226,49 227,46 228,45 229,47 230,46 231,44 232,45 233,46 234,43 235,45 236,48 237,44 238,50 239,46 240,44 241,47 242,45 243,44 244,46 245,44 246,47 247,45 248,44 249,48 250,44 251,45 252,49 253,43 254,43 255,49 256,46 257,48 258,49 259,46 259,110Z" fill="#6aa85c"/><path d="M0,110 0,99 1,98 2,98 3,102 4,98 5,99 6,101 7,100 8,102 9,100 10,100 11,100 12,100 13,101 14,102 15,98 16,100 17,100 18,100 19,98 20,99 21,101 22,102 23,101 24,102 25,101 26,99 27,101 28,101 29,99 30,98 31,101 32,101 33,103 34,100 35,101 36,98 37,101 38,99 39,101 40,98 41,101 42,102 43,99 44,100 45,100 46,102 47,103 48,98 49,102 50,98 51,101 52,99 53,100 54,101 55,102 56,100 57,98 58,99 59,102 60,101 61,101 62,98 63,98 64,99 65,101 66,101 67,99 68,98 69,100 70,102 71,98 72,100 73,99 74,99 75,100 76,101 77,99 78,100 79,99 80,102 81,101 82,100 83,99 84,100 85,99 86,100 87,98 88,97 89,100 90,100 91,99 92,99 93,100 94,99 95,100 96,99 97,99 98,103 99,100 100,101 101,101 102,101 103,103 104,102 105,102 106,101 107,100 108,100 109,102 110,101 111,101 112,102 113,101 114,100 115,99 116,99 117,99 118,101 119,100 120,97 121,100 122,100 123,101 124,101 125,99 126,101 127,102 128,99 129,97 130,100 131,98 132,101 133,98 134,101 135,101 136,101 137,98 138,102 139,100 140,100 141,102 142,99 143,100 144,99 145,100 146,100 147,100 148,101 149,101 150,99 151,102 152,99 153,99 154,101 155,100 156,99 157,99 158,101 159,100 160,100 161,101 162,100 163,100 164,100 165,100 166,101 167,101 168,100 169,100 170,99 171,101 172,97 173,100 174,99 175,98 176,100 177,100 178,101 179,101 180,101 181,102 182,103 183,99 184,100 185,101 186,100 187,99 188,101 189,101 190,99 191,100 192,101 193,100 194,101 195,101 196,100 197,99 198,101 199,103 200,101 201,99 202,100 203,101 204,103 205,98 206,102 207,98 208,100 209,100 210,101 211,100 212,101 213,99 214,99 215,99 216,99 217,99 218,103 219,102 220,99 221,100 222,99 223,100 224,101 225,102 226,101 227,100 228,101 229,102 230,101 231,101 232,100 233,99 234,99 235,101 236,101 237,100 238,102 239,102 240,99 241,101 242,101 243,99 244,102 245,99 246,100 247,100 248,101 249,102 250,99 251,100 252,103 253,99 254,99 255,102 256,102 257,101 258,102 259,101 259,110Z" fill="#4c74d8"/></svg></div><div style="position:absolute;left:284.0px;top:429px;font-size:10.5px;line-height:12.5px;color:#b8bac2;font-weight:400;white-space:nowrap;">09:55</div><div style="position:absolute;left:368.81px;top:429px;font-size:10.5px;line-height:12.5px;color:#b8bac2;font-weight:400;white-space:nowrap;">10:00</div><div style="position:absolute;left:453.62px;top:429px;font-size:10.5px;line-height:12.5px;color:#b8bac2;font-weight:400;white-space:nowrap;">10:05</div><div style="position:absolute;left:576px;top:319px;font-size:11px;line-height:13px;color:#6e9fff;font-weight:500;white-space:nowrap;">Name</div><div style="position:absolute;left:642px;top:319px;font-size:11px;line-height:13px;color:#6e9fff;font-weight:500;white-space:nowrap;width:32px;text-align:right">Total</div><div style="position:absolute;left:562px;top:337.0px;width:110px;height:1px;background:#25272c"></div><div style="position:absolute;left:564px;top:346.0px;width:12px;height:4px;background:#4c74d8;border-radius:2px"></div><div style="position:absolute;left:582px;top:341.0px;font-size:11px;line-height:13px;color:#d0d1d8;font-weight:400;white-space:nowrap;">debug</div><div style="position:absolute;left:614px;top:341.0px;font-size:11px;line-height:13px;color:#d0d1d8;font-weight:400;white-space:nowrap;width:52px;text-align:right">204 K</div><div style="position:absolute;left:562px;top:357.5px;width:110px;height:1px;background:#25272c"></div><div style="position:absolute;left:564px;top:366.5px;width:12px;height:4px;background:#6aa85c;border-radius:2px"></div><div style="position:absolute;left:582px;top:361.5px;font-size:11px;line-height:13px;color:#d0d1d8;font-weight:400;white-space:nowrap;">info</div><div style="position:absolute;left:614px;top:361.5px;font-size:11px;line-height:13px;color:#d0d1d8;font-weight:400;white-space:nowrap;width:52px;text-align:right">1.2 M</div><div style="position:absolute;left:562px;top:378.0px;width:110px;height:1px;background:#25272c"></div><div style="position:absolute;left:564px;top:387.0px;width:12px;height:4px;background:#ef8534;border-radius:2px"></div><div style="position:absolute;left:582px;top:382.0px;font-size:11px;line-height:13px;color:#d0d1d8;font-weight:400;white-space:nowrap;">warn</div><div style="position:absolute;left:614px;top:382.0px;font-size:11px;line-height:13px;color:#d0d1d8;font-weight:400;white-space:nowrap;width:52px;text-align:right">41.1 K</div><div style="position:absolute;left:562px;top:398.5px;width:110px;height:1px;background:#25272c"></div><div style="position:absolute;left:564px;top:407.5px;width:12px;height:4px;background:#d9444f;border-radius:2px"></div><div style="position:absolute;left:582px;top:402.5px;font-size:11px;line-height:13px;color:#d0d1d8;font-weight:400;white-space:nowrap;">error</div><div style="position:absolute;left:614px;top:402.5px;font-size:11px;line-height:13px;color:#d0d1d8;font-weight:400;white-space:nowrap;width:52px;text-align:right">62.3 K</div><div style="position:absolute;left:685px;top:281px;width:668px;height:167px;background:#1b1c21;border:1px solid #26282d;border-radius:3px;box-sizing:border-box;overflow:hidden"><div style="position:absolute;left:5px;top:12.0px;width:3px;height:14px;background:#5794f2;border-radius:1px"></div><div style="position:absolute;left:18px;top:11.0px;font-size:10.25px;line-height:12.25px;color:#d8d9e0;font-weight:400;white-space:nowrap;font-family:'Liberation Mono',monospace">2024-07-10 10:09:56.392 level=debug ts=2024-07-10T10:09:56.391880334Z caller=broadcast.go:48 msg=&quot;Invalidating forwarded broadcast&quot;</div><div style="position:absolute;left:5px;top:28.75px;width:3px;height:14px;background:#73bf69;border-radius:1px"></div><div style="position:absolute;left:18px;top:27.75px;font-size:10.25px;line-height:12.25px;color:#d8d9e0;font-weight:400;white-space:nowrap;font-family:'Liberation Mono',monospace">2024-07-10 10:09:56.390 level=info ts=2024-07-10T10:09:56.389203Z caller=flush.go:253 msg=&quot;completing block&quot;</div><div style="position:absolute;left:5px;top:45.5px;width:3px;height:14px;background:#5794f2;border-radius:1px"></div><div style="position:absolute;left:18px;top:44.5px;font-size:10.25px;line-height:12.25px;color:#d8d9e0;font-weight:400;white-space:nowrap;font-family:'Liberation Mono',monospace">2024-07-10 10:09:56.388 level=debug ts=2024-07-10T10:09:56.38781Z caller=memcached.go:153 msg=&quot;Failed to get keys&quot;</div><div style="position:absolute;left:5px;top:62.25px;width:3px;height:14px;background:#f2495c;border-radius:1px"></div><div style="position:absolute;left:18px;top:61.25px;font-size:10.25px;line-height:12.25px;color:#d8d9e0;font-weight:400;white-space:nowrap;font-family:'Liberation Mono',monospace">2024-07-10 10:09:56.387 level=error ts=2024-07-10T10:09:56.38611Z caller=main.go:107 err=&quot;memcache: connect timeout&quot;</div><div style="position:absolute;left:5px;top:79.0px;width:3px;height:14px;background:#73bf69;border-radius:1px"></div><div style="position:absolute;left:18px;top:78.0px;font-size:10.25px;line-height:12.25px;color:#d8d9e0;font-weight:400;white-space:nowrap;font-family:'Liberation Mono',monospace">2024-07-10 10:09:56.386 level=info ts=2024-07-10T10:09:56.3851Z caller=compactor.go:242 msg=&quot;flushing&quot;</div><div style="position:absolute;left:5px;top:95.75px;width:3px;height:14px;background:#5794f2;border-radius:1px"></div><div style="position:absolute;left:18px;top:94.75px;font-size:10.25px;line-height:12.25px;color:#d8d9e0;font-weight:400;white-space:nowrap;font-family:'Liberation Mono',monospace">2024-07-10 10:09:56.385 level=debug ts=2024-07-10T10:09:56.3841Z caller=broadcast.go:48</div><div style="position:absolute;left:5px;top:112.5px;width:3px;height:14px;background:#ff9830;border-radius:1px"></div><div style="position:absolute;left:18px;top:111.5px;font-size:10.25px;line-height:12.25px;color:#d8d9e0;font-weight:400;white-space:nowrap;font-family:'Liberation Mono',monospace">2024-07-10 10:09:56.384 level=warn ts=2024-07-10T10:09:56.3831Z caller=instance.go:43</div><div style="position:absolute;left:5px;top:129.25px;width:3px;height:14px;background:#5794f2;border-radius:1px"></div><div style="position:absolute;left:18px;top:128.25px;font-size:10.25px;line-height:12.25px;color:#d8d9e0;font-weight:400;white-space:nowrap;font-family:'Liberation Mono',monospace">2024-07-10 10:09:56.383 level=debug ts=2024-07-10T10:09:56.3821Z caller=broadcast.go:48</div><div style="position:absolute;left:5px;top:146.0px;width:3px;height:14px;background:#73bf69;border-radius:1px"></div><div style="position:absolute;left:18px;top:145.0px;font-size:10.25px;line-height:12.25px;color:#d8d9e0;font-weight:400;white-space:nowrap;font-family:'Liberation Mono',monospace">2024-07-10 10:09:56.382 level=info ts=2024-07-10T10:09:56.3811Z caller=flush.go:253</div></div><div style="position:absolute;left:262px;top:455px;width:415px;height:167px;background:#1b1c21;border:1px solid #26282d;border-radius:3px;box-sizing:border-box"></div><div style="position:absolute;left:271px;top:465px;font-size:13px;line-height:15px;color:#e0e1e8;font-weight:500;white-space:nowrap;">tempo-distributor</div><div style="position:absolute;left:626px;top:460px;width:43px;height:21px;background:#2b2d33;border:1px solid #34363c;border-radius:2px;box-sizing:border-box;"><div style="position:absolute;left:0;right:0;top:0;bottom:0;display:flex;align-items:center;justify-content:center;font-size:11px;color:#d8d9e0;font-weight:500;white-space:nowrap">Select</div></div><div style="position:absolute;left:256px;top:492.9px;font-size:10.5px;line-height:12.5px;color:#b8bac2;font-weight:400;white-space:nowrap;width:32px;text-align:right">1 K</div><div style="position:absolute;left:292px;top:499.9px;width:257px;height:1px;background:#202226"></div><div style="position:absolute;left:256px;top:520.4px;font-size:10.5px;line-height:12.5px;color:#b8bac2;font-weight:400;white-space:nowrap;width:32px;text-align:right">750</div><div style="position:absolute;left:292px;top:527.4px;width:257px;height:1px;background:#202226"></div><div style="position:absolute;left:256px;top:547.9px;font-size:10.5px;line-height:12.5px;color:#b8bac2;font-weight:400;white-space:nowrap;width:32px;text-align:right">500</div><div style="position:absolute;left:292px;top:554.9px;width:257px;height:1px;background:#202226"></div><div style="position:absolute;left:256px;top:575.4px;font-size:10.5px;line-height:12.5px;color:#b8bac2;font-weight:400;white-space:nowrap;width:32px;text-align:right">250</div><div style="position:absolute;left:292px;top:582.4px;width:257px;height:1px;background:#202226"></div><div style="position:absolute;left:292px;top:490px;width:257px;height:110px"><svg width="257" height="110" viewBox="0 0 259 110" preserveAspectRatio="none" style="position:absolute;display:block;overflow:visible"><path d="M0,110 0,27 1,21 2,17 3,18 4,17 5,16 6,24 7,19 8,15 9,20 10,18 11,21 12,20 13,14 14,10 15,17 16,21 17,16 18,22 19,19 20,21 21,23 22,18 23,18 24,24 25,22 26,20 27,20 28,16 29,16 30,20 31,20 32,21 33,10 34,19 35,22 36,17 37,26 38,22 39,21 40,19 41,17 42,24 43,26 44,15 45,26 46,17 47,16 48,18 49,15 50,25 51,25 52,24 53,19 54,25 55,18 56,22 57,20 58,23 59,24 60,23 61,15 62,13 63,16 64,14 65,17 66,8 67,7 68,17 69,25 70,18 71,21 72,18 73,22 74,23 75,27 76,29 77,22 78,21 79,19 80,9 81,15 82,22 83,20 84,22 85,22 86,25 87,18 88,23 89,17 90,19 91,25 92,21 93,21 94,15 95,20 96,22 97,20 98,23 99,15 100,17 101,17 102,23 103,19 104,15 105,21 106,15 107,17 108,17 109,17 110,24 111,20 112,27 113,19 114,18 115,19 116,33 117,19 118,24 119,19 120,21 121,18 122,27 123,15 124,20 125,19 126,19 127,20 128,17 129,23 130,29 131,19 132,22 133,24 134,19 135,13 136,22 137,22 138,15 139,20 140,23 141,17 142,24 143,15 144,25 145,16 146,20 147,14 148,23 149,25 150,24 151,23 152,26 153,20 154,22 155,20 156,25 157,23 158,19 159,20 160,23 161,22 162,22 163,15 164,22 165,25 166,25 167,20 168,22 169,21 170,17 171,22 172,23 173,23 174,22 175,24 176,15 177,17 178,24 179,13 180,16 181,25 182,16 183,18 184,15 185,14 186,20 187,18 188,18 189,20 190,23 191,18 192,19 193,21 194,18 195,16 196,22 197,14 198,16 199,21 200,21 201,20 202,20 203,22 204,22 205,20 206,24 207,17 208,26 209,23 210,16 211,22 212,17 213,23 214,19 215,20 216,21 217,16 218,21 219,22 220,23 221,20 222,11 223,18 224,20 225,22 226,21 227,26 228,24 229,23 230,26 231,26 232,21 233,25 234,21 235,19 236,19 237,21 238,18 239,25 240,18 241,17 242,7 243,17 244,24 245,18 246,15 247,22 248,18 249,24 250,18 251,12 252,20 253,24 254,23 255,19 256,23 257,24 258,13 259,20 259,110Z" fill="#d9444f"/><path d="M0,110 0,39 1,34 2,32 3,33 4,33 5,28 6,36 7,34 8,30 9,30 10,31 11,34 12,36 13,31 14,29 15,30 16,33 17,30 18,30 19,32 20,33 21,35 22,34 23,34 24,37 25,32 26,30 27,36 28,36 29,30 30,39 31,33 32,30 33,33 34,33 35,36 36,36 37,37 38,38 39,35 40,33 41,33 42,35 43,38 44,29 45,39 46,33 47,31 48,33 49,30 50,37 51,38 52,37 53,33 54,33 55,33 56,40 57,34 58,34 59,37 60,36 61,33 62,30 63,32 64,32 65,32 66,34 67,33 68,33 69,36 70,34 71,34 72,33 73,35 74,33 75,36 76,36 77,35 78,34 79,34 80,35 81,35 82,32 83,32 84,33 85,31 86,34 87,33 88,32 89,29 90,33 91,36 92,37 93,35 94,28 95,33 96,35 97,34 98,34 99,28 100,30 101,32 102,36 103,35 104,33 105,32 106,33 107,36 108,32 109,32 110,35 111,29 112,37 113,34 114,31 115,33 116,42 117,32 118,34 119,33 120,37 121,34 122,37 123,32 124,32 125,34 126,31 127,35 128,34 129,34 130,38 131,32 132,35 133,32 134,35 135,33 136,38 137,35 138,31 139,35 140,36 141,34 142,34 143,33 144,35 145,33 146,36 147,29 148,36 149,37 150,33 151,37 152,36 153,29 154,35 155,35 156,38 157,38 158,35 159,35 160,37 161,34 162,32 163,29 164,34 165,35 166,38 167,33 168,37 169,35 170,34 171,36 172,36 173,34 174,36 175,34 176,37 177,32 178,35 179,29 180,28 181,35 182,33 183,31 184,35 185,33 186,37 187,33 188,32 189,32 190,36 191,31 192,34 193,31 194,28 195,31 196,39 197,29 198,28 199,34 200,35 201,35 202,33 203,34 204,30 205,32 206,36 207,34 208,37 209,40 210,35 211,32 212,32 213,33 214,36 215,33 216,33 217,31 218,33 219,36 220,33 221,32 222,33 223,31 224,29 225,33 226,36 227,35 228,36 229,38 230,40 231,36 232,35 233,33 234,34 235,37 236,36 237,36 238,39 239,34 240,32 241,30 242,32 243,33 244,35 245,32 246,30 247,34 248,34 249,34 250,33 251,34 252,31 253,33 254,32 255,34 256,35 257,39 258,36 259,34 259,110Z" fill="#ef8534"/><path d="M0,110 0,48 1,43 2,44 3,44 4,45 5,40 6,44 7,43 8,44 9,42 10,46 11,45 12,45 13,44 14,40 15,43 16,47 17,43 18,45 19,43 20,43 21,47 22,43 23,42 24,44 25,45 26,45 27,46 28,48 29,42 30,47 31,43 32,44 33,46 34,44 35,47 36,48 37,46 38,46 39,44 40,44 41,44 42,46 43,47 44,41 45,46 46,46 47,44 48,45 49,43 50,46 51,47 52,46 53,45 54,46 55,46 56,50 57,45 58,44 59,45 60,46 61,47 62,45 63,46 64,42 65,45 66,44 67,43 68,43 69,47 70,47 71,44 72,45 73,46 74,46 75,45 76,45 77,46 78,43 79,46 80,44 81,45 82,46 83,42 84,45 85,46 86,47 87,46 88,42 89,44 90,44 91,47 92,45 93,46 94,42 95,45 96,47 97,45 98,43 99,42 100,42 101,46 102,48 103,45 104,44 105,44 106,42 107,44 108,45 109,46 110,46 111,42 112,45 113,45 114,46 115,44 116,49 117,45 118,43 119,43 120,45 121,46 122,47 123,43 124,43 125,44 126,43 127,45 128,44 129,47 130,47 131,44 132,47 133,44 134,43 135,46 136,50 137,47 138,44 139,47 140,47 141,47 142,46 143,42 144,48 145,44 146,45 147,40 148,45 149,44 150,46 151,47 152,45 153,43 154,46 155,46 156,47 157,48 158,48 159,46 160,47 161,46 162,43 163,41 164,44 165,44 166,48 167,43 168,47 169,46 170,45 171,49 172,44 173,46 174,46 175,43 176,45 177,45 178,46 179,44 180,43 181,44 182,45 183,45 184,44 185,46 186,48 187,44 188,46 189,44 190,47 191,44 192,47 193,44 194,42 195,45 196,47 197,41 198,42 199,44 200,46 201,46 202,45 203,46 204,45 205,45 206,46 207,45 208,45 209,47 210,45 211,44 212,46 213,46 214,45 215,46 216,46 217,42 218,45 219,48 220,44 221,44 222,45 223,44 224,42 225,44 226,47 227,47 228,44 229,47 230,48 231,45 232,47 233,44 234,44 235,49 236,46 237,46 238,49 239,46 240,45 241,46 242,46 243,46 244,46 245,47 246,44 247,45 248,45 249,49 250,47 251,44 252,43 253,44 254,46 255,45 256,47 257,47 258,45 259,44 259,110Z" fill="#6aa85c"/><path d="M0,110 0,101 1,100 2,100 3,101 4,99 5,97 6,99 7,101 8,100 9,99 10,100 11,99 12,100 13,99 14,98 15,99 16,101 17,100 18,101 19,98 20,100 21,100 22,100 23,98 24,98 25,100 26,101 27,100 28,100 29,99 30,102 31,99 32,100 33,101 34,99 35,100 36,102 37,102 38,101 39,99 40,98 41,100 42,99 43,99 44,98 45,100 46,100 47,100 48,101 49,98 50,100 51,101 52,101 53,102 54,101 55,102 56,103 57,100 58,99 59,101 60,101 61,101 62,100 63,100 64,99 65,102 66,100 67,100 68,98 69,101 70,101 71,99 72,99 73,99 74,101 75,102 76,101 77,102 78,99 79,100 80,99 81,100 82,100 83,100 84,100 85,101 86,101 87,102 88,99 89,98 90,99 91,102 92,100 93,102 94,99 95,101 96,101 97,100 98,100 99,98 100,99 101,102 102,102 103,100 104,98 105,100 106,99 107,100 108,100 109,100 110,100 111,99 112,100 113,100 114,100 115,102 116,102 117,101 118,99 119,99 120,100 121,99 122,101 123,99 124,99 125,99 126,99 127,100 128,101 129,102 130,101 131,99 132,100 133,100 134,98 135,101 136,103 137,100 138,98 139,102 140,102 141,102 142,101 143,99 144,102 145,99 146,100 147,98 148,101 149,100 150,100 151,101 152,100 153,101 154,101 155,101 156,100 157,101 158,100 159,100 160,100 161,102 162,99 163,98 164,101 165,101 166,103 167,98 168,102 169,99 170,101 171,102 172,100 173,102 174,101 175,98 176,101 177,100 178,100 179,99 180,99 181,101 182,101 183,100 184,100 185,100 186,101 187,100 188,102 189,101 190,102 191,99 192,101 193,98 194,98 195,100 196,101 197,98 198,98 199,99 200,101 201,98 202,100 203,100 204,99 205,99 206,101 207,101 208,99 209,102 210,101 211,98 212,99 213,99 214,99 215,101 216,101 217,99 218,99 219,100 220,98 221,99 222,99 223,102 224,98 225,101 226,101 227,99 228,99 229,100 230,102 231,102 232,103 233,99 234,100 235,103 236,101 237,101 238,101 239,102 240,100 241,101 242,101 243,101 244,99 245,100 246,99 247,99 248,100 249,102 250,102 251,99 252,100 253,99 254,100 255,99 256,102 257,100 258,100 259,100 259,110Z" fill="#4c74d8"/></svg></div><div style="position:absolute;left:284.0px;top:603px;font-size:10.5px;line-height:12.5px;color:#b8bac2;font-weight:400;white-space:nowrap;">09:55</div><div style="position:absolute;left:368.81px;top:603px;font-size:10.5px;line-height:12.5px;color:#b8bac2;font-weight:400;white-space:nowrap;">10:00</div><div style="position:absolute;left:453.62px;top:603px;font-size:10.5px;line-height:12.5px;color:#b8bac2;font-weight:400;white-space:nowrap;">10:05</div><div style="position:absolute;left:576px;top:493px;font-size:11px;line-height:13px;color:#6e9fff;font-weight:500;white-space:nowrap;">Name</div><div style="position:absolute;left:642px;top:493px;font-size:11px;line-height:13px;color:#6e9fff;font-weight:500;white-space:nowrap;width:32px;text-align:right">Total</div><div style="position:absolute;left:562px;top:511.0px;width:110px;height:1px;background:#25272c"></div><div style="position:absolute;left:564px;top:520.0px;width:12px;height:4px;background:#4c74d8;border-radius:2px"></div><div style="position:absolute;left:582px;top:515.0px;font-size:11px;line-height:13px;color:#d0d1d8;font-weight:400;white-space:nowrap;">debug</div><div style="position:absolute;left:614px;top:515.0px;font-size:11px;line-height:13px;color:#d0d1d8;font-weight:400;white-space:nowrap;width:52px;text-align:right">214 K</div><div style="position:absolute;left:562px;top:531.5px;width:110px;height:1px;background:#25272c"></div><div style="position:absolute;left:564px;top:540.5px;width:12px;height:4px;background:#6aa85c;border-radius:2px"></div><div style="position:absolute;left:582px;top:535.5px;font-size:11px;line-height:13px;color:#d0d1d8;font-weight:400;white-space:nowrap;">info</div><div style="position:absolute;left:614px;top:535.5px;font-size:11px;line-height:13px;color:#d0d1d8;font-weight:400;white-space:nowrap;width:52px;text-align:right">186 K</div><div style="position:absolute;left:562px;top:552.0px;width:110px;height:1px;background:#25272c"></div><div style="position:absolute;left:564px;top:561.0px;width:12px;height:4px;background:#ef8534;border-radius:2px"></div><div style="position:absolute;left:582px;top:556.0px;font-size:11px;line-height:13px;color:#d0d1d8;font-weight:400;white-space:nowrap;">warn</div><div style="position:absolute;left:614px;top:556.0px;font-size:11px;line-height:13px;color:#d0d1d8;font-weight:400;white-space:nowrap;width:52px;text-align:right">38.5 K</div><div style="position:absolute;left:562px;top:572.5px;width:110px;height:1px;background:#25272c"></div><div style="position:absolute;left:564px;top:581.5px;width:12px;height:4px;background:#d9444f;border-radius:2px"></div><div style="position:absolute;left:582px;top:576.5px;font-size:11px;line-height:13px;color:#d0d1d8;font-weight:400;white-space:nowrap;">error</div><div style="position:absolute;left:614px;top:576.5px;font-size:11px;line-height:13px;color:#d0d1d8;font-weight:400;white-space:nowrap;width:52px;text-align:right">57.6 K</div><div style="position:absolute;left:685px;top:455px;width:668px;height:167px;background:#1b1c21;border:1px solid #26282d;border-radius:3px;box-sizing:border-box;overflow:hidden"><div style="position:absolute;left:5px;top:12.0px;width:3px;height:14px;background:#f2495c;border-radius:1px"></div><div style="position:absolute;left:18px;top:11.0px;font-size:10.25px;line-height:12.25px;color:#d8d9e0;font-weight:400;white-space:nowrap;font-family:'Liberation Mono',monospace">2024-07-10 10:09:56.398 level=error ts=2024-07-10T10:09:56.3971Z caller=main.go:107</div><div style="position:absolute;left:5px;top:28.75px;width:3px;height:14px;background:#5794f2;border-radius:1px"></div><div style="position:absolute;left:18px;top:27.75px;font-size:10.25px;line-height:12.25px;color:#d8d9e0;font-weight:400;white-space:nowrap;font-family:'Liberation Mono',monospace">2024-07-10 10:09:56.396 level=debug ts=2024-07-10T10:09:56.3951Z caller=broadcast.go:48</div><div style="position:absolute;left:5px;top:45.5px;width:3px;height:14px;background:#73bf69;border-radius:1px"></div><div style="position:absolute;left:18px;top:44.5px;font-size:10.25px;line-height:12.25px;color:#d8d9e0;font-weight:400;white-space:nowrap;font-family:'Liberation Mono',monospace">2024-07-10 10:09:56.394 level=info ts=2024-07-10T10:09:56.3931Z caller=flush.go:253</div><div style="position:absolute;left:5px;top:62.25px;width:3px;height:14px;background:#5794f2;border-radius:1px"></div><div style="position:absolute;left:18px;top:61.25px;font-size:10.25px;line-height:12.25px;color:#d8d9e0;font-weight:400;white-space:nowrap;font-family:'Liberation Mono',monospace">2024-07-10 10:09:56.392 level=debug ts=2024-07-10T10:09:56.3911Z caller=broadcast.go:48</div><div style="position:absolute;left:5px;top:79.0px;width:3px;height:14px;background:#ff9830;border-radius:1px"></div><div style="position:absolute;left:18px;top:78.0px;font-size:10.25px;line-height:12.25px;color:#d8d9e0;font-weight:400;white-space:nowrap;font-family:'Liberation Mono',monospace">2024-07-10 10:09:56.390 level=warn ts=2024-07-10T10:09:56.3891Z caller=instance.go:43</div><div style="position:absolute;left:5px;top:95.75px;width:3px;height:14px;background:#f2495c;border-radius:1px"></div><div style="position:absolute;left:18px;top:94.75px;font-size:10.25px;line-height:12.25px;color:#d8d9e0;font-weight:400;white-space:nowrap;font-family:'Liberation Mono',monospace">2024-07-10 10:09:56.389 level=error ts=2024-07-10T10:09:56.3881Z caller=main.go:107</div><div style="position:absolute;left:5px;top:112.5px;width:3px;height:14px;background:#5794f2;border-radius:1px"></div><div style="position:absolute;left:18px;top:111.5px;font-size:10.25px;line-height:12.25px;color:#d8d9e0;font-weight:400;white-space:nowrap;font-family:'Liberation Mono',monospace">2024-07-10 10:09:56.387 level=info ts=2024-07-10T10:09:56.37827Z caller=flush.go:253</div><div style="position:absolute;left:5px;top:129.25px;width:3px;height:14px;background:#73bf69;border-radius:1px"></div><div style="position:absolute;left:18px;top:128.25px;font-size:10.25px;line-height:12.25px;color:#d8d9e0;font-weight:400;white-space:nowrap;font-family:'Liberation Mono',monospace">2024-07-10 10:09:56.382 level=info ts=2024-07-10T10:09:56.37827Z caller=flush.go:253</div><div style="position:absolute;left:5px;top:146.0px;width:3px;height:14px;background:#5794f2;border-radius:1px"></div><div style="position:absolute;left:18px;top:145.0px;font-size:10.25px;line-height:12.25px;color:#d8d9e0;font-weight:400;white-space:nowrap;font-family:'Liberation Mono',monospace">2024-07-10 10:09:56.378 level=debug ts=2024-07-10T10:09:56.3771154022 caller=broadcast.go:48</div></div><div style="position:absolute;left:262px;top:628px;width:415px;height:167px;background:#1b1c21;border:1px solid #26282d;border-radius:3px;box-sizing:border-box"></div><div style="position:absolute;left:271px;top:638px;font-size:13px;line-height:15px;color:#e0e1e8;font-weight:500;white-space:nowrap;">nginx-json</div><div style="position:absolute;left:626px;top:633px;width:43px;height:21px;background:#2b2d33;border:1px solid #34363c;border-radius:2px;box-sizing:border-box;"><div style="position:absolute;left:0;right:0;top:0;bottom:0;display:flex;align-items:center;justify-content:center;font-size:11px;color:#d8d9e0;font-weight:500;white-space:nowrap">Select</div></div><div style="position:absolute;left:253px;top:683.0px;font-size:10.5px;line-height:12.5px;color:#b8bac2;font-weight:400;white-space:nowrap;width:32px;text-align:right">30</div><div style="position:absolute;left:289px;top:690.0px;width:260px;height:1px;background:#202226"></div><div style="position:absolute;left:253px;top:709.6666666666666px;font-size:10.5px;line-height:12.5px;color:#b8bac2;font-weight:400;white-space:nowrap;width:32px;text-align:right">20</div><div style="position:absolute;left:289px;top:716.6666666666666px;width:260px;height:1px;background:#202226"></div><div style="position:absolute;left:253px;top:736.3333333333334px;font-size:10.5px;line-height:12.5px;color:#b8bac2;font-weight:400;white-space:nowrap;width:32px;text-align:right">10</div><div style="position:absolute;left:289px;top:743.3333333333334px;width:260px;height:1px;background:#202226"></div><div style="position:absolute;left:253px;top:763.0px;font-size:10.5px;line-height:12.5px;color:#b8bac2;font-weight:400;white-space:nowrap;width:32px;text-align:right">0</div><div style="position:absolute;left:289px;top:770.0px;width:260px;height:1px;background:#202226"></div><div style="position:absolute;left:289px;top:678px;width:260px;height:92px"><svg width="260" height="92" viewBox="0 0 259 92" preserveAspectRatio="none" style="position:absolute;display:block;overflow:visible"><path d="M0,92 0,43 1,51 2,50 3,32 4,36 5,30 6,39 7,37 8,28 9,47 10,21 11,40 12,11 13,39 14,33 15,27 16,36 17,27 18,30 19,34 20,18 21,43 22,33 23,33 24,37 25,32 26,49 27,36 28,23 29,26 30,43 31,27 32,36 33,10 34,38 35,25 36,25 37,27 38,44 39,31 40,25 41,27 42,41 43,26 44,52 45,31 46,30 47,35 48,39 49,45 50,41 51,42 52,37 53,32 54,47 55,46 56,31 57,30 58,46 59,55 60,30 61,33 62,22 63,22 64,32 65,44 66,19 67,41 68,47 69,44 70,32 71,42 72,35 73,38 74,31 75,39 76,14 77,34 78,42 79,13 80,37 81,39 82,41 83,20 84,34 85,10 86,44 87,31 88,36 89,43 90,20 91,51 92,7 93,33 94,31 95,36 96,33 97,42 98,28 99,30 100,13 101,26 102,26 103,24 104,41 105,39 106,19 107,44 108,43 109,41 110,34 111,34 112,42 113,25 114,11 115,24 116,40 117,41 118,34 119,35 120,21 121,20 122,30 123,37 124,24 125,31 126,51 127,51 128,35 129,38 130,26 131,44 132,46 133,53 134,38 135,34 136,41 137,27 138,44 139,31 140,38 141,33 142,32 143,43 144,49 145,25 146,51 147,31 148,40 149,50 150,33 151,39 152,37 153,58 154,0 155,45 156,30 157,38 158,27 159,55 160,56 161,20 162,31 163,30 164,45 165,42 166,44 167,22 168,31 169,28 170,36 171,43 172,27 173,36 174,35 175,41 176,29 177,26 178,13 179,33 180,40 181,33 182,17 183,43 184,36 185,38 186,29 187,19 188,38 189,33 190,16 191,35 192,23 193,34 194,29 195,30 196,19 197,25 198,44 199,38 200,52 201,27 202,33 203,38 204,39 205,26 206,35 207,40 208,42 209,47 210,38 211,25 212,26 213,27 214,16 215,27 216,0 217,33 218,38 219,39 220,39 221,47 222,44 223,28 224,31 225,37 226,29 227,32 228,38 229,48 230,39 231,19 232,24 233,34 234,34 235,11 236,45 237,10 238,20 239,41 240,29 241,32 242,32 243,48 244,0 245,33 246,24 247,34 248,41 249,27 250,56 251,34 252,17 253,18 254,21 255,18 256,40 257,39 258,46 259,25 259,92Z" fill="#d9444f"/><path d="M0,92 0,47 1,51 2,51 3,36 4,44 5,34 6,43 7,41 8,39 9,47 10,27 11,48 12,19 13,51 14,37 15,34 16,44 17,34 18,37 19,39 20,24 21,46 22,47 23,36 24,39 25,34 26,50 27,47 28,29 29,35 30,48 31,37 32,46 33,15 34,43 35,29 36,26 37,28 38,48 39,35 40,33 41,34 42,45 43,30 44,59 45,37 46,35 47,38 48,41 49,49 50,47 51,49 52,40 53,36 54,49 55,50 56,34 57,34 58,52 59,56 60,36 61,38 62,27 63,26 64,38 65,48 66,30 67,46 68,50 69,49 70,37 71,49 72,45 73,44 74,39 75,42 76,19 77,39 78,46 79,19 80,42 81,45 82,43 83,26 84,40 85,15 86,47 87,31 88,40 89,52 90,27 91,56 92,20 93,39 94,36 95,40 96,39 97,44 98,33 99,36 100,21 101,31 102,29 103,27 104,49 105,44 106,24 107,52 108,45 109,47 110,40 111,37 112,43 113,26 114,19 115,32 116,47 117,47 118,38 119,38 120,24 121,26 122,33 123,45 124,31 125,40 126,55 127,54 128,42 129,45 130,35 131,47 132,53 133,59 134,43 135,36 136,48 137,33 138,52 139,37 140,45 141,39 142,35 143,45 144,56 145,29 146,53 147,36 148,42 149,53 150,37 151,45 152,39 153,61 154,2 155,49 156,38 157,43 158,31 159,62 160,63 161,27 162,35 163,36 164,46 165,50 166,51 167,26 168,32 169,36 170,42 171,46 172,34 173,41 174,37 175,46 176,36 177,34 178,18 179,40 180,44 181,37 182,20 183,46 184,39 185,45 186,33 187,21 188,40 189,39 190,21 191,43 192,33 193,42 194,32 195,33 196,26 197,29 198,44 199,41 200,56 201,35 202,41 203,40 204,43 205,32 206,44 207,45 208,46 209,55 210,43 211,30 212,31 213,32 214,22 215,34 216,0 217,39 218,41 219,44 220,47 221,47 222,47 223,33 224,34 225,42 226,33 227,37 228,40 229,54 230,45 231,28 232,28 233,39 234,42 235,19 236,48 237,20 238,22 239,44 240,35 241,40 242,34 243,53 244,2 245,34 246,31 247,38 248,49 249,29 250,61 251,46 252,18 253,19 254,25 255,22 256,43 257,45 258,51 259,26 259,92Z" fill="#ef8534"/><path d="M0,92 0,52 1,56 2,56 3,42 4,55 5,41 6,50 7,42 8,48 9,51 10,37 11,54 12,23 13,57 14,47 15,46 16,54 17,40 18,39 19,43 20,34 21,51 22,55 23,43 24,43 25,42 26,50 27,50 28,36 29,38 30,53 31,46 32,54 33,19 34,48 35,37 36,32 37,32 38,52 39,46 40,35 41,40 42,47 43,34 44,60 45,47 46,40 47,43 48,47 49,55 50,49 51,50 52,46 53,44 54,52 55,64 56,41 57,52 58,61 59,62 60,43 61,47 62,36 63,36 64,42 65,57 66,39 67,47 68,58 69,58 70,47 71,58 72,52 73,44 74,46 75,45 76,26 77,42 78,51 79,24 80,46 81,50 82,50 83,36 84,48 85,25 86,53 87,35 88,43 89,54 90,35 91,58 92,27 93,41 94,45 95,50 96,48 97,48 98,37 99,43 100,32 101,36 102,41 103,43 104,51 105,51 106,32 107,56 108,47 109,51 110,47 111,42 112,51 113,33 114,30 115,36 116,52 117,51 118,40 119,44 120,33 121,37 122,39 123,48 124,38 125,43 126,62 127,57 128,50 129,50 130,46 131,55 132,59 133,63 134,48 135,44 136,59 137,41 138,55 139,46 140,53 141,47 142,40 143,55 144,65 145,37 146,58 147,41 148,49 149,54 150,42 151,47 152,45 153,62 154,12 155,56 156,41 157,49 158,39 159,63 160,65 161,28 162,46 163,39 164,52 165,53 166,53 167,38 168,40 169,49 170,45 171,50 172,40 173,53 174,43 175,53 176,44 177,46 178,26 179,43 180,54 181,50 182,32 183,54 184,43 185,51 186,36 187,25 188,48 189,48 190,32 191,51 192,37 193,49 194,37 195,47 196,34 197,32 198,50 199,49 200,65 201,41 202,42 203,46 204,50 205,39 206,47 207,51 208,53 209,56 210,49 211,40 212,41 213,40 214,32 215,42 216,0 217,43 218,45 219,45 220,51 221,56 222,56 223,37 224,41 225,45 226,46 227,43 228,42 229,55 230,47 231,39 232,36 233,50 234,46 235,24 236,60 237,25 238,27 239,55 240,41 241,47 242,41 243,57 244,6 245,41 246,43 247,45 248,58 249,34 250,65 251,54 252,22 253,25 254,42 255,31 256,47 257,45 258,57 259,28 259,92Z" fill="#6aa85c"/><path d="M0,92 0,69 1,73 2,81 3,64 4,80 5,76 6,71 7,69 8,68 9,76 10,65 11,80 12,75 13,76 14,74 15,73 16,68 17,65 18,69 19,69 20,68 21,79 22,70 23,66 24,76 25,66 26,71 27,75 28,66 29,64 30,80 31,73 32,75 33,70 34,71 35,66 36,68 37,75 38,76 39,68 40,73 41,66 42,77 43,62 44,76 45,74 46,70 47,74 48,69 49,79 50,74 51,74 52,68 53,75 54,75 55,76 56,69 57,72 58,75 59,74 60,73 61,73 62,60 63,66 64,69 65,76 66,65 67,67 68,67 69,72 70,74 71,81 72,70 73,75 74,68 75,68 76,73 77,76 78,71 79,62 80,73 81,65 82,73 83,68 84,80 85,65 86,67 87,66 88,69 89,70 90,64 91,74 92,73 93,71 94,67 95,61 96,72 97,77 98,72 99,71 100,63 101,69 102,77 103,67 104,76 105,67 106,63 107,69 108,74 109,74 110,81 111,68 112,68 113,68 114,70 115,65 116,69 117,72 118,70 119,72 120,56 121,67 122,70 123,69 124,73 125,76 126,81 127,75 128,79 129,70 130,75 131,80 132,78 133,71 134,78 135,65 136,72 137,64 138,71 139,66 140,63 141,69 142,74 143,79 144,80 145,62 146,80 147,68 148,70 149,67 150,78 151,70 152,70 153,75 154,69 155,77 156,68 157,78 158,68 159,76 160,78 161,57 162,69 163,68 164,76 165,68 166,65 167,62 168,77 169,77 170,73 171,75 172,74 173,70 174,71 175,73 176,67 177,72 178,60 179,66 180,76 181,66 182,63 183,65 184,69 185,71 186,72 187,77 188,73 189,70 190,63 191,74 192,76 193,79 194,74 195,73 196,57 197,62 198,75 199,76 200,76 201,72 202,80 203,71 204,80 205,74 206,68 207,63 208,69 209,68 210,72 211,68 212,72 213,65 214,67 215,72 216,57 217,76 218,81 219,74 220,76 221,71 222,78 223,67 224,63 225,63 226,70 227,75 228,77 229,77 230,64 231,65 232,66 233,73 234,70 235,67 236,72 237,73 238,63 239,75 240,74 241,72 242,72 243,75 244,63 245,76 246,71 247,67 248,74 249,64 250,79 251,73 252,73 253,71 254,69 255,66 256,76 257,73 258,74 259,64 259,92Z" fill="#4c74d8"/></svg></div><div style="position:absolute;left:281.0px;top:776px;font-size:10.5px;line-height:12.5px;color:#b8bac2;font-weight:400;white-space:nowrap;">09:55</div><div style="position:absolute;left:366.8px;top:776px;font-size:10.5px;line-height:12.5px;color:#b8bac2;font-weight:400;white-space:nowrap;">10:00</div><div style="position:absolute;left:452.6px;top:776px;font-size:10.5px;line-height:12.5px;color:#b8bac2;font-weight:400;white-space:nowrap;">10:05</div><div style="position:absolute;left:576px;top:666px;font-size:11px;line-height:13px;color:#6e9fff;font-weight:500;white-space:nowrap;">Name</div><div style="position:absolute;left:642px;top:666px;font-size:11px;line-height:13px;color:#6e9fff;font-weight:500;white-space:nowrap;width:32px;text-align:right">Total</div><div style="position:absolute;left:562px;top:684.0px;width:110px;height:1px;background:#25272c"></div><div style="position:absolute;left:564px;top:693.0px;width:12px;height:4px;background:#4c74d8;border-radius:2px"></div><div style="position:absolute;left:582px;top:688.0px;font-size:11px;line-height:13px;color:#d0d1d8;font-weight:400;white-space:nowrap;">debug</div><div style="position:absolute;left:614px;top:688.0px;font-size:11px;line-height:13px;color:#d0d1d8;font-weight:400;white-space:nowrap;width:52px;text-align:right">4.53 K</div><div style="position:absolute;left:562px;top:704.5px;width:110px;height:1px;background:#25272c"></div><div style="position:absolute;left:564px;top:713.5px;width:12px;height:4px;background:#6aa85c;border-radius:2px"></div><div style="position:absolute;left:582px;top:708.5px;font-size:11px;line-height:13px;color:#d0d1d8;font-weight:400;white-space:nowrap;">info</div><div style="position:absolute;left:614px;top:708.5px;font-size:11px;line-height:13px;color:#d0d1d8;font-weight:400;white-space:nowrap;width:52px;text-align:right">4.60 K</div><div style="position:absolute;left:562px;top:725.0px;width:110px;height:1px;background:#25272c"></div><div style="position:absolute;left:564px;top:734.0px;width:12px;height:4px;background:#ef8534;border-radius:2px"></div><div style="position:absolute;left:582px;top:729.0px;font-size:11px;line-height:13px;color:#d0d1d8;font-weight:400;white-space:nowrap;">warn</div><div style="position:absolute;left:614px;top:729.0px;font-size:11px;line-height:13px;color:#d0d1d8;font-weight:400;white-space:nowrap;width:52px;text-align:right">478</div><div style="position:absolute;left:562px;top:745.5px;width:110px;height:1px;background:#25272c"></div><div style="position:absolute;left:564px;top:754.5px;width:12px;height:4px;background:#d9444f;border-radius:2px"></div><div style="position:absolute;left:582px;top:749.5px;font-size:11px;line-height:13px;color:#d0d1d8;font-weight:400;white-space:nowrap;">error</div><div style="position:absolute;left:614px;top:749.5px;font-size:11px;line-height:13px;color:#d0d1d8;font-weight:400;white-space:nowrap;width:52px;text-align:right">517</div><div style="position:absolute;left:685px;top:628px;width:668px;height:167px;background:#1b1c21;border:1px solid #26282d;border-radius:3px;box-sizing:border-box;overflow:hidden"><div style="position:absolute;left:5px;top:12.0px;width:3px;height:14px;background:#5794f2;border-radius:1px"></div><div style="position:absolute;left:18px;top:11.0px;font-size:10.25px;line-height:12.25px;color:#d8d9e0;font-weight:400;white-space:nowrap;font-family:'Liberation Mono',monospace">2024-07-10 10:09:56.381 {&quot;host&quot;:&quot;7.43.198.236&quot;, &quot;user-identifier&quot;:&quot;gulgowski8863&quot;, &quot;datetime&quot;:&quot;10/Jul/2024</div><div style="position:absolute;left:5px;top:28.75px;width:3px;height:14px;background:#73bf69;border-radius:1px"></div><div style="position:absolute;left:18px;top:27.75px;font-size:10.25px;line-height:12.25px;color:#d8d9e0;font-weight:400;white-space:nowrap;font-family:'Liberation Mono',monospace">2024-07-10 10:09:56.319 {&quot;host&quot;:&quot;7.43.198.236&quot;, &quot;user-identifier&quot;:&quot;-&quot;, &quot;datetime&quot;:&quot;10/Jul/2024:10:09:56</div><div style="position:absolute;left:5px;top:45.5px;width:3px;height:14px;background:#73bf69;border-radius:1px"></div><div style="position:absolute;left:18px;top:44.5px;font-size:10.25px;line-height:12.25px;color:#d8d9e0;font-weight:400;white-space:nowrap;font-family:'Liberation Mono',monospace">2024-07-10 10:09:56.265 {&quot;host&quot;:&quot;7.67.140.83&quot;, &quot;user-identifier&quot;:&quot;-&quot;, &quot;datetime&quot;:&quot;10/Jul/2024:10:09:56 -</div><div style="position:absolute;left:5px;top:62.25px;width:3px;height:14px;background:#73bf69;border-radius:1px"></div><div style="position:absolute;left:18px;top:61.25px;font-size:10.25px;line-height:12.25px;color:#d8d9e0;font-weight:400;white-space:nowrap;font-family:'Liberation Mono',monospace">2024-07-10 10:09:56.126 {&quot;host&quot;:&quot;7.67.140.83&quot;, &quot;user-identifier&quot;:&quot;mosciski4022&quot;, &quot;datetime&quot;:&quot;10/Jul/2024</div><div style="position:absolute;left:5px;top:79.0px;width:3px;height:14px;background:#5794f2;border-radius:1px"></div><div style="position:absolute;left:18px;top:78.0px;font-size:10.25px;line-height:12.25px;color:#d8d9e0;font-weight:400;white-space:nowrap;font-family:'Liberation Mono',monospace">2024-07-10 10:09:56.066 {&quot;host&quot;:&quot;9.64.10.200&quot;, &quot;user-identifier&quot;:&quot;gibson4451&quot;, &quot;datetime&quot;:&quot;10/Jul/2024:</div><div style="position:absolute;left:5px;top:95.75px;width:3px;height:14px;background:#5794f2;border-radius:1px"></div><div style="position:absolute;left:18px;top:94.75px;font-size:10.25px;line-height:12.25px;color:#d8d9e0;font-weight:400;white-space:nowrap;font-family:'Liberation Mono',monospace">2024-07-10 10:09:56.064 {&quot;host&quot;:&quot;7.43.198.236&quot;, &quot;user-identifier&quot;:&quot;-&quot;, &quot;datetime&quot;:&quot;10/Jul/2024:10:09:56</div><div style="position:absolute;left:5px;top:112.5px;width:3px;height:14px;background:#73bf69;border-radius:1px"></div><div style="position:absolute;left:18px;top:111.5px;font-size:10.25px;line-height:12.25px;color:#d8d9e0;font-weight:400;white-space:nowrap;font-family:'Liberation Mono',monospace">2024-07-10 10:09:56.021 {&quot;host&quot;:&quot;171.82.241.158&quot;, &quot;user-identifier&quot;:&quot;purdy3809&quot;, &quot;datetime&quot;:&quot;10/Jul/2024</div><div style="position:absolute;left:5px;top:129.25px;width:3px;height:14px;background:#5794f2;border-radius:1px"></div><div style="position:absolute;left:18px;top:128.25px;font-size:10.25px;line-height:12.25px;color:#d8d9e0;font-weight:400;white-space:nowrap;font-family:'Liberation Mono',monospace">2024-07-10 10:09:55.682 {&quot;host&quot;:&quot;9.64.10.200&quot;, &quot;user-identifier&quot;:&quot;-&quot;, &quot;datetime&quot;:&quot;10/Jul/2024:10:09:55 -</div><div style="position:absolute;left:5px;top:146.0px;width:3px;height:14px;background:#73bf69;border-radius:1px"></div><div style="position:absolute;left:18px;top:145.0px;font-size:10.25px;line-height:12.25px;color:#d8d9e0;font-weight:400;white-space:nowrap;font-family:'Liberation Mono',monospace">2024-07-10 10:09:55.327 {&quot;host&quot;:&quot;7.67.140.83&quot;, &quot;user-identifier&quot;:&quot;-&quot;, &quot;datetime&quot;:&quot;10/Jul/2024:10:09:55 -</div></div><div style="position:absolute;left:262px;top:802px;width:415px;height:167px;background:#1b1c21;border:1px solid #26282d;border-radius:3px;box-sizing:border-box"></div><div style="position:absolute;left:271px;top:812px;font-size:13px;line-height:15px;color:#e0e1e8;font-weight:500;white-space:nowrap;">httpd</div><div style="position:absolute;left:626px;top:807px;width:43px;height:21px;background:#2b2d33;border:1px solid #34363c;border-radius:2px;box-sizing:border-box;"><div style="position:absolute;left:0;right:0;top:0;bottom:0;display:flex;align-items:center;justify-content:center;font-size:11px;color:#d8d9e0;font-weight:500;white-space:nowrap">Select</div></div><div style="position:absolute;left:253px;top:836.0px;font-size:10.5px;line-height:12.5px;color:#b8bac2;font-weight:400;white-space:nowrap;width:32px;text-align:right">30</div><div style="position:absolute;left:289px;top:843.0px;width:260px;height:1px;background:#202226"></div><div style="position:absolute;left:253px;top:869.6666666666666px;font-size:10.5px;line-height:12.5px;color:#b8bac2;font-weight:400;white-space:nowrap;width:32px;text-align:right">20</div><div style="position:absolute;left:289px;top:876.6666666666666px;width:260px;height:1px;background:#202226"></div><div style="position:absolute;left:253px;top:903.3333333333334px;font-size:10.5px;line-height:12.5px;color:#b8bac2;font-weight:400;white-space:nowrap;width:32px;text-align:right">10</div><div style="position:absolute;left:289px;top:910.3333333333334px;width:260px;height:1px;background:#202226"></div><div style="position:absolute;left:253px;top:937.0px;font-size:10.5px;line-height:12.5px;color:#b8bac2;font-weight:400;white-space:nowrap;width:32px;text-align:right">0</div><div style="position:absolute;left:289px;top:944.0px;width:260px;height:1px;background:#202226"></div><div style="position:absolute;left:289px;top:831px;width:260px;height:113px"><svg width="260" height="113" viewBox="0 0 259 113" preserveAspectRatio="none" style="position:absolute;display:block;overflow:visible"><path d="M0,113 0,37 1,30 2,25 3,45 4,36 5,42 6,39 7,41 8,53 9,55 10,33 11,29 12,32 13,79 14,10 15,50 16,40 17,63 18,35 19,46 20,35 21,51 22,49 23,40 24,30 25,60 26,45 27,29 28,40 29,47 30,47 31,31 32,45 33,34 34,70 35,44 36,68 37,46 38,37 39,33 40,62 41,50 42,49 43,62 44,71 45,42 46,60 47,41 48,33 49,34 50,65 51,74 52,45 53,50 54,46 55,44 56,52 57,38 58,28 59,42 60,32 61,46 62,37 63,52 64,33 65,24 66,53 67,26 68,48 69,42 70,49 71,20 72,39 73,43 74,40 75,48 76,60 77,53 78,6 79,30 80,32 81,61 82,26 83,47 84,31 85,47 86,43 87,54 88,36 89,36 90,31 91,40 92,45 93,60 94,43 95,38 96,47 97,49 98,51 99,31 100,24 101,40 102,65 103,48 104,40 105,55 106,44 107,71 108,43 109,31 110,48 111,46 112,53 113,43 114,38 115,61 116,43 117,60 118,39 119,27 120,6 121,10 122,41 123,36 124,38 125,24 126,47 127,40 128,42 129,46 130,39 131,26 132,49 133,55 134,58 135,44 136,46 137,45 138,54 139,54 140,26 141,31 142,40 143,53 144,56 145,41 146,42 147,55 148,41 149,25 150,47 151,40 152,35 153,50 154,45 155,40 156,57 157,39 158,44 159,41 160,56 161,53 162,37 163,33 164,9 165,40 166,49 167,37 168,36 169,39 170,45 171,26 172,57 173,25 174,43 175,51 176,29 177,57 178,31 179,34 180,56 181,44 182,45 183,68 184,57 185,56 186,15 187,33 188,41 189,10 190,19 191,48 192,54 193,50 194,50 195,49 196,55 197,38 198,29 199,54 200,12 201,49 202,45 203,19 204,57 205,24 206,50 207,10 208,56 209,24 210,19 211,42 212,45 213,38 214,45 215,63 216,41 217,44 218,31 219,31 220,51 221,45 222,28 223,54 224,54 225,44 226,32 227,45 228,25 229,47 230,55 231,53 232,56 233,45 234,43 235,44 236,22 237,33 238,14 239,0 240,44 241,11 242,57 243,26 244,54 245,28 246,43 247,43 248,51 249,38 250,36 251,30 252,51 253,32 254,41 255,47 256,25 257,30 258,50 259,34 259,113Z" fill="#d9444f"/><path d="M0,113 0,40 1,41 2,28 3,48 4,41 5,52 6,42 7,47 8,59 9,57 10,40 11,40 12,42 13,83 14,24 15,54 16,43 17,71 18,41 19,48 20,43 21,66 22,52 23,47 24,35 25,64 26,53 27,33 28,43 29,48 30,50 31,34 32,53 33,42 34,74 35,51 36,75 37,54 38,41 39,42 40,65 41,54 42,51 43,63 44,71 45,45 46,66 47,46 48,39 49,38 50,68 51,82 52,47 53,55 54,51 55,51 56,58 57,49 58,40 59,49 60,35 61,56 62,45 63,61 64,34 65,31 66,55 67,35 68,50 69,47 70,51 71,39 72,43 73,48 74,45 75,52 76,73 77,62 78,13 79,34 80,39 81,69 82,32 83,52 84,38 85,56 86,47 87,60 88,39 89,43 90,37 91,47 92,45 93,60 94,50 95,39 96,50 97,55 98,60 99,45 100,27 101,49 102,69 103,59 104,46 105,58 106,53 107,80 108,45 109,38 110,54 111,50 112,53 113,49 114,47 115,67 116,45 117,63 118,47 119,36 120,17 121,20 122,42 123,47 124,47 125,31 126,50 127,44 128,50 129,53 130,54 131,36 132,54 133,59 134,61 135,53 136,50 137,51 138,54 139,69 140,35 141,37 142,51 143,55 144,59 145,42 146,43 147,55 148,43 149,39 150,52 151,42 152,41 153,52 154,53 155,44 156,59 157,43 158,54 159,45 160,65 161,55 162,48 163,38 164,18 165,43 166,49 167,46 168,44 169,42 170,46 171,40 172,65 173,33 174,51 175,59 176,40 177,66 178,40 179,38 180,63 181,52 182,50 183,70 184,61 185,61 186,20 187,36 188,45 189,11 190,20 191,53 192,65 193,55 194,51 195,51 196,60 197,52 198,39 199,64 200,17 201,53 202,56 203,25 204,62 205,34 206,62 207,21 208,59 209,30 210,23 211,50 212,55 213,50 214,50 215,67 216,49 217,50 218,37 219,36 220,53 221,47 222,45 223,55 224,55 225,47 226,42 227,51 228,32 229,53 230,64 231,59 232,59 233,50 234,50 235,47 236,24 237,42 238,34 239,3 240,44 241,20 242,58 243,34 244,56 245,35 246,44 247,47 248,54 249,43 250,39 251,33 252,59 253,41 254,51 255,56 256,33 257,30 258,52 259,39 259,113Z" fill="#ef8534"/><path d="M0,113 0,52 1,55 2,37 3,53 4,46 5,61 6,53 7,61 8,67 9,61 10,50 11,49 12,51 13,86 14,33 15,62 16,49 17,76 18,48 19,58 20,54 21,72 22,59 23,51 24,40 25,77 26,63 27,41 28,49 29,55 30,60 31,41 32,60 33,56 34,79 35,52 36,85 37,63 38,49 39,50 40,72 41,65 42,65 43,73 44,77 45,54 46,71 47,52 48,47 49,47 50,77 51,86 52,62 53,59 54,60 55,61 56,61 57,59 58,49 59,60 60,46 61,60 62,53 63,70 64,46 65,54 66,62 67,48 68,64 69,55 70,53 71,49 72,48 73,71 74,53 75,56 76,75 77,66 78,24 79,42 80,44 81,72 82,37 83,59 84,45 85,61 86,52 87,68 88,50 89,54 90,49 91,57 92,53 93,61 94,59 95,50 96,64 97,68 98,71 99,56 100,42 101,62 102,78 103,65 104,58 105,70 106,66 107,85 108,54 109,47 110,60 111,57 112,64 113,64 114,53 115,72 116,49 117,67 118,55 119,48 120,33 121,32 122,53 123,59 124,57 125,43 126,62 127,57 128,64 129,60 130,62 131,42 132,58 133,68 134,67 135,56 136,58 137,57 138,64 139,79 140,36 141,46 142,59 143,65 144,71 145,53 146,58 147,63 148,56 149,43 150,53 151,49 152,53 153,64 154,58 155,46 156,61 157,45 158,60 159,57 160,71 161,64 162,54 163,47 164,28 165,54 166,57 167,56 168,48 169,51 170,59 171,48 172,71 173,40 174,64 175,70 176,52 177,71 178,51 179,47 180,71 181,57 182,64 183,75 184,68 185,64 186,32 187,61 188,54 189,24 190,22 191,59 192,68 193,62 194,58 195,60 196,71 197,60 198,46 199,71 200,27 201,61 202,69 203,31 204,69 205,44 206,70 207,28 208,67 209,43 210,34 211,64 212,63 213,52 214,58 215,78 216,56 217,58 218,41 219,44 220,58 221,56 222,57 223,62 224,64 225,54 226,51 227,58 228,43 229,61 230,72 231,68 232,65 233,58 234,60 235,58 236,30 237,55 238,42 239,13 240,60 241,31 242,68 243,43 244,57 245,48 246,55 247,62 248,61 249,58 250,53 251,43 252,69 253,48 254,59 255,64 256,41 257,45 258,56 259,49 259,113Z" fill="#6aa85c"/><path d="M0,113 0,82 1,86 2,78 3,96 4,86 5,81 6,80 7,87 8,87 9,86 10,88 11,81 12,97 13,99 14,77 15,90 16,89 17,93 18,77 19,92 20,86 21,87 22,100 23,77 24,69 25,93 26,93 27,88 28,86 29,90 30,90 31,86 32,93 33,94 34,93 35,89 36,101 37,91 38,82 39,92 40,94 41,93 42,89 43,95 44,95 45,77 46,84 47,69 48,90 49,88 50,95 51,97 52,91 53,95 54,81 55,78 56,90 57,85 58,88 59,89 60,84 61,97 62,79 63,92 64,83 65,76 66,88 67,81 68,93 69,85 70,89 71,83 72,81 73,94 74,89 75,77 76,95 77,92 78,78 79,82 80,78 81,90 82,72 83,91 84,79 85,90 86,77 87,90 88,81 89,77 90,88 91,83 92,89 93,90 94,83 95,87 96,97 97,80 98,94 99,78 100,88 101,91 102,91 103,100 104,90 105,90 106,92 107,98 108,88 109,84 110,87 111,91 112,90 113,84 114,94 115,92 116,82 117,93 118,78 119,92 120,93 121,95 122,95 123,91 124,94 125,90 126,93 127,89 128,99 129,87 130,92 131,96 132,91 133,95 134,93 135,81 136,88 137,88 138,90 139,97 140,82 141,82 142,88 143,89 144,92 145,79 146,79 147,89 148,78 149,80 150,84 151,92 152,80 153,84 154,94 155,82 156,98 157,97 158,91 159,88 160,93 161,81 162,80 163,83 164,92 165,84 166,80 167,90 168,90 169,83 170,86 171,89 172,97 173,85 174,94 175,95 176,76 177,88 178,86 179,84 180,94 181,86 182,91 183,92 184,87 185,88 186,89 187,95 188,83 189,85 190,62 191,84 192,96 193,92 194,90 195,83 196,93 197,84 198,86 199,82 200,78 201,86 202,99 203,89 204,89 205,88 206,96 207,94 208,90 209,95 210,87 211,89 212,91 213,94 214,89 215,91 216,87 217,80 218,94 219,81 220,83 221,82 222,89 223,86 224,86 225,89 226,87 227,84 228,78 229,81 230,87 231,90 232,93 233,96 234,84 235,86 236,77 237,93 238,83 239,91 240,90 241,75 242,94 243,87 244,95 245,76 246,86 247,83 248,85 249,89 250,86 251,87 252,91 253,83 254,83 255,89 256,93 257,89 258,85 259,86 259,113Z" fill="#4c74d8"/></svg></div><div style="position:absolute;left:281.0px;top:950px;font-size:10.5px;line-height:12.5px;color:#b8bac2;font-weight:400;white-space:nowrap;">09:55</div><div style="position:absolute;left:366.8px;top:950px;font-size:10.5px;line-height:12.5px;color:#b8bac2;font-weight:400;white-space:nowrap;">10:00</div><div style="position:absolute;left:452.6px;top:950px;font-size:10.5px;line-height:12.5px;color:#b8bac2;font-weight:400;white-space:nowrap;">10:05</div><div style="position:absolute;left:576px;top:840px;font-size:11px;line-height:13px;color:#6e9fff;font-weight:500;white-space:nowrap;">Name</div><div style="position:absolute;left:642px;top:840px;font-size:11px;line-height:13px;color:#6e9fff;font-weight:500;white-space:nowrap;width:32px;text-align:right">Total</div><div style="position:absolute;left:562px;top:858.0px;width:110px;height:1px;background:#25272c"></div><div style="position:absolute;left:564px;top:867.0px;width:12px;height:4px;background:#4c74d8;border-radius:2px"></div><div style="position:absolute;left:582px;top:862.0px;font-size:11px;line-height:13px;color:#d0d1d8;font-weight:400;white-space:nowrap;">debug</div><div style="position:absolute;left:614px;top:862.0px;font-size:11px;line-height:13px;color:#d0d1d8;font-weight:400;white-space:nowrap;width:52px;text-align:right">2.56 K</div><div style="position:absolute;left:562px;top:878.5px;width:110px;height:1px;background:#25272c"></div><div style="position:absolute;left:564px;top:887.5px;width:12px;height:4px;background:#6aa85c;border-radius:2px"></div><div style="position:absolute;left:582px;top:882.5px;font-size:11px;line-height:13px;color:#d0d1d8;font-weight:400;white-space:nowrap;">info</div><div style="position:absolute;left:614px;top:882.5px;font-size:11px;line-height:13px;color:#d0d1d8;font-weight:400;white-space:nowrap;width:52px;text-align:right">2.63 K</div><div style="position:absolute;left:562px;top:899.0px;width:110px;height:1px;background:#25272c"></div><div style="position:absolute;left:564px;top:908.0px;width:12px;height:4px;background:#ef8534;border-radius:2px"></div><div style="position:absolute;left:582px;top:903.0px;font-size:11px;line-height:13px;color:#d0d1d8;font-weight:400;white-space:nowrap;">warn</div><div style="position:absolute;left:614px;top:903.0px;font-size:11px;line-height:13px;color:#d0d1d8;font-weight:400;white-space:nowrap;width:52px;text-align:right">297</div><div style="position:absolute;left:562px;top:919.5px;width:110px;height:1px;background:#25272c"></div><div style="position:absolute;left:564px;top:928.5px;width:12px;height:4px;background:#d9444f;border-radius:2px"></div><div style="position:absolute;left:582px;top:923.5px;font-size:11px;line-height:13px;color:#d0d1d8;font-weight:400;white-space:nowrap;">error</div><div style="position:absolute;left:614px;top:923.5px;font-size:11px;line-height:13px;color:#d0d1d8;font-weight:400;white-space:nowrap;width:52px;text-align:right">299</div><div style="position:absolute;left:685px;top:802px;width:668px;height:167px;background:#1b1c21;border:1px solid #26282d;border-radius:3px;box-sizing:border-box;overflow:hidden"><div style="position:absolute;left:5px;top:12.0px;width:3px;height:14px;background:#5794f2;border-radius:1px"></div><div style="position:absolute;left:18px;top:11.0px;font-size:10.25px;line-height:12.25px;color:#d8d9e0;font-weight:400;white-space:nowrap;font-family:'Liberation Mono',monospace">2024-07-10 10:09:56.363 117.79.188.113 - - [10/Jul/2024:10:09:56 +0000] &quot;PATCH /api/loki/v1/push HTTP/2</div><div style="position:absolute;left:5px;top:28.75px;width:3px;height:14px;background:#ff9830;border-radius:1px"></div><div style="position:absolute;left:18px;top:27.75px;font-size:10.25px;line-height:12.25px;color:#d8d9e0;font-weight:400;white-space:nowrap;font-family:'Liberation Mono',monospace">2024-07-10 10:09:56.126 7.43.198.236 - mills9924 [10/Jul/2024:10:09:56 +0000] &quot;PUT /api/mimir/v1/label/</div><div style="position:absolute;left:5px;top:45.5px;width:3px;height:14px;background:#5794f2;border-radius:1px"></div><div style="position:absolute;left:18px;top:44.5px;font-size:10.25px;line-height:12.25px;color:#d8d9e0;font-weight:400;white-space:nowrap;font-family:'Liberation Mono',monospace">2024-07-10 10:09:55.631 171.82.241.158 - - [10/Jul/2024:10:09:55 +0000] &quot;PATCH /api/loki/v1/query HTTP/</div><div style="position:absolute;left:5px;top:62.25px;width:3px;height:14px;background:#ff9830;border-radius:1px"></div><div style="position:absolute;left:18px;top:61.25px;font-size:10.25px;line-height:12.25px;color:#d8d9e0;font-weight:400;white-space:nowrap;font-family:'Liberation Mono',monospace">2024-07-10 10:09:55.290 9.64.10.200 - - [10/Jul/2024:10:09:55 +0000] &quot;DELETE /api/mimir/v1/query HTTP/1</div><div style="position:absolute;left:5px;top:79.0px;width:3px;height:14px;background:#73bf69;border-radius:1px"></div><div style="position:absolute;left:18px;top:78.0px;font-size:10.25px;line-height:12.25px;color:#d8d9e0;font-weight:400;white-space:nowrap;font-family:'Liberation Mono',monospace">2024-07-10 10:09:54.623 7.43.198.236 - hermiston5033 [10/Jul/2024:10:09:54 +0000] &quot;PUT /api/mimir/v1/lab</div><div style="position:absolute;left:5px;top:95.75px;width:3px;height:14px;background:#73bf69;border-radius:1px"></div><div style="position:absolute;left:18px;top:94.75px;font-size:10.25px;line-height:12.25px;color:#d8d9e0;font-weight:400;white-space:nowrap;font-family:'Liberation Mono',monospace">2024-07-10 10:09:54.482 7.67.140.83 - vonrueden2534 [10/Jul/2024:10:09:54 +0000] &quot;HEAD /api/pyroscope/v</div><div style="position:absolute;left:5px;top:112.5px;width:3px;height:14px;background:#5794f2;border-radius:1px"></div><div style="position:absolute;left:18px;top:111.5px;font-size:10.25px;line-height:12.25px;color:#d8d9e0;font-weight:400;white-space:nowrap;font-family:'Liberation Mono',monospace">2024-07-10 10:09:54.476 7.43.198.236 - - [10/Jul/2024:10:09:54 +0000] &quot;PUT /api/pyroscope/v1/push HTTP/2</div><div style="position:absolute;left:5px;top:129.25px;width:3px;height:14px;background:#ff9830;border-radius:1px"></div><div style="position:absolute;left:18px;top:128.25px;font-size:10.25px;line-height:12.25px;color:#d8d9e0;font-weight:400;white-space:nowrap;font-family:'Liberation Mono',monospace">2024-07-10 10:09:54.464 117.79.188.113 - weissnat4220 [10/Jul/2024:10:09:54 +0000] &quot;DELETE /api/mimir/v</div><div style="position:absolute;left:5px;top:146.0px;width:3px;height:14px;background:#73bf69;border-radius:1px"></div><div style="position:absolute;left:18px;top:145.0px;font-size:10.25px;line-height:12.25px;color:#d8d9e0;font-weight:400;white-space:nowrap;font-family:'Liberation Mono',monospace">2024-07-10 10:09:54.417 171.82.241.158 - bosco7380 [10/Jul/2024:10:09:54 +0000] &quot;POST /api/pyroscope/v1,</div></div><div style="position:absolute;left:262px;top:977px;width:415px;height:167px;background:#1b1c21;border:1px solid #26282d;border-radius:3px;box-sizing:border-box"></div><div style="position:absolute;left:271px;top:987px;font-size:13px;line-height:15px;color:#e0e1e8;font-weight:500;white-space:nowrap;">nginx</div><div style="position:absolute;left:626px;top:982px;width:43px;height:21px;background:#2b2d33;border:1px solid #34363c;border-radius:2px;box-sizing:border-box;"><div style="position:absolute;left:0;right:0;top:0;bottom:0;display:flex;align-items:center;justify-content:center;font-size:11px;color:#d8d9e0;font-weight:500;white-space:nowrap">Select</div></div><div style="position:absolute;left:253px;top:1011.0px;font-size:10.5px;line-height:12.5px;color:#b8bac2;font-weight:400;white-space:nowrap;width:32px;text-align:right">30</div><div style="position:absolute;left:289px;top:1018.0px;width:260px;height:1px;background:#202226"></div><div style="position:absolute;left:253px;top:1044.6666666666667px;font-size:10.5px;line-height:12.5px;color:#b8bac2;font-weight:400;white-space:nowrap;width:32px;text-align:right">20</div><div style="position:absolute;left:289px;top:1051.6666666666667px;width:260px;height:1px;background:#202226"></div><div style="position:absolute;left:253px;top:1078.3333333333333px;font-size:10.5px;line-height:12.5px;color:#b8bac2;font-weight:400;white-space:nowrap;width:32px;text-align:right">10</div><div style="position:absolute;left:289px;top:1085.3333333333333px;width:260px;height:1px;background:#202226"></div><div style="position:absolute;left:253px;top:1112.0px;font-size:10.5px;line-height:12.5px;color:#b8bac2;font-weight:400;white-space:nowrap;width:32px;text-align:right">0</div><div style="position:absolute;left:289px;top:1119.0px;width:260px;height:1px;background:#202226"></div><div style="position:absolute;left:289px;top:1006px;width:260px;height:113px"><svg width="260" height="113" viewBox="0 0 259 113" preserveAspectRatio="none" style="position:absolute;display:block;overflow:visible"><path d="M0,113 0,79 1,52 2,50 3,23 4,41 5,65 6,60 7,31 8,42 9,43 10,41 11,52 12,49 13,41 14,44 15,48 16,29 17,41 18,5 19,27 20,41 21,13 22,50 23,38 24,33 25,41 26,39 27,47 28,51 29,55 30,69 31,42 32,52 33,24 34,63 35,57 36,45 37,56 38,42 39,28 40,65 41,32 42,48 43,32 44,47 45,50 46,29 47,22 48,53 49,36 50,59 51,39 52,44 53,54 54,47 55,47 56,45 57,41 58,39 59,46 60,52 61,40 62,14 63,37 64,44 65,46 66,58 67,29 68,55 69,61 70,37 71,30 72,19 73,32 74,41 75,55 76,38 77,27 78,40 79,47 80,30 81,32 82,50 83,43 84,40 85,58 86,64 87,63 88,49 89,39 90,39 91,52 92,33 93,49 94,21 95,31 96,35 97,51 98,53 99,39 100,49 101,48 102,47 103,59 104,37 105,32 106,53 107,67 108,37 109,38 110,64 111,47 112,20 113,54 114,55 115,68 116,45 117,52 118,49 119,21 120,49 121,36 122,59 123,71 124,60 125,54 126,66 127,62 128,38 129,47 130,21 131,45 132,60 133,6 134,37 135,36 136,53 137,40 138,56 139,60 140,74 141,44 142,56 143,61 144,57 145,27 146,57 147,43 148,36 149,47 150,58 151,49 152,49 153,50 154,39 155,48 156,16 157,15 158,38 159,40 160,56 161,47 162,34 163,31 164,12 165,32 166,68 167,16 168,41 169,30 170,37 171,62 172,50 173,30 174,27 175,34 176,25 177,69 178,65 179,43 180,16 181,54 182,23 183,27 184,48 185,41 186,34 187,63 188,30 189,41 190,33 191,37 192,51 193,21 194,7 195,12 196,31 197,40 198,44 199,61 200,27 201,53 202,54 203,59 204,55 205,39 206,57 207,14 208,28 209,37 210,47 211,53 212,60 213,35 214,63 215,50 216,47 217,48 218,59 219,38 220,37 221,35 222,53 223,58 224,0 225,50 226,31 227,37 228,28 229,49 230,56 231,36 232,48 233,60 234,41 235,43 236,5 237,27 238,38 239,53 240,48 241,57 242,25 243,21 244,52 245,11 246,36 247,42 248,35 249,42 250,52 251,20 252,23 253,0 254,47 255,49 256,63 257,22 258,58 259,23 259,113Z" fill="#d9444f"/><path d="M0,113 0,81 1,58 2,56 3,28 4,45 5,74 6,67 7,38 8,51 9,46 10,42 11,59 12,59 13,51 14,50 15,58 16,36 17,50 18,9 19,32 20,46 21,18 22,54 23,42 24,38 25,48 26,41 27,50 28,56 29,64 30,74 31,47 32,60 33,31 34,66 35,64 36,50 37,59 38,48 39,30 40,67 41,35 42,58 43,39 44,54 45,60 46,34 47,32 48,57 49,43 50,66 51,42 52,48 53,62 54,52 55,59 56,47 57,41 58,50 59,49 60,57 61,46 62,19 63,43 64,45 65,53 66,62 67,35 68,58 69,62 70,39 71,41 72,28 73,38 74,49 75,64 76,44 77,35 78,43 79,49 80,33 81,42 82,51 83,48 84,50 85,66 86,69 87,66 88,51 89,49 90,47 91,55 92,38 93,58 94,28 95,40 96,43 97,57 98,61 99,49 100,56 101,60 102,55 103,68 104,42 105,39 106,55 107,70 108,46 109,45 110,70 111,52 112,30 113,62 114,63 115,71 116,59 117,54 118,57 119,25 120,50 121,45 122,67 123,72 124,63 125,57 126,75 127,65 128,42 129,55 130,24 131,52 132,62 133,12 134,47 135,41 136,55 137,44 138,65 139,60 140,82 141,52 142,56 143,63 144,61 145,36 146,65 147,46 148,44 149,49 150,63 151,53 152,54 153,54 154,50 155,51 156,22 157,22 158,48 159,47 160,63 161,53 162,35 163,33 164,16 165,41 166,72 167,25 168,48 169,41 170,43 171,69 172,57 173,36 174,32 175,41 176,35 177,73 178,71 179,49 180,19 181,60 182,31 183,29 184,51 185,48 186,43 187,66 188,35 189,52 190,37 191,44 192,58 193,28 194,19 195,18 196,33 197,49 198,47 199,66 200,34 201,61 202,57 203,76 204,58 205,41 206,59 207,21 208,28 209,53 210,53 211,56 212,62 213,41 214,70 215,53 216,60 217,51 218,70 219,43 220,38 221,35 222,55 223,63 224,3 225,56 226,43 227,43 228,31 229,52 230,60 231,47 232,51 233,65 234,44 235,43 236,9 237,32 238,45 239,57 240,49 241,64 242,45 243,37 244,56 245,27 246,42 247,48 248,40 249,49 250,59 251,31 252,30 253,6 254,53 255,53 256,69 257,28 258,64 259,32 259,113Z" fill="#ef8534"/><path d="M0,113 0,86 1,62 2,59 3,36 4,56 5,81 6,74 7,50 8,53 9,57 10,49 11,69 12,68 13,64 14,56 15,68 16,44 17,58 18,19 19,45 20,57 21,25 22,58 23,46 24,43 25,58 26,54 27,57 28,67 29,74 30,84 31,56 32,61 33,38 34,72 35,74 36,62 37,67 38,54 39,37 40,68 41,43 42,65 43,51 44,60 45,67 46,43 47,46 48,66 49,59 50,70 51,52 52,62 53,70 54,63 55,64 56,54 57,54 58,58 59,59 60,66 61,65 62,23 63,62 64,54 65,59 66,72 67,44 68,68 69,67 70,48 71,45 72,39 73,47 74,55 75,75 76,52 77,48 78,49 79,56 80,44 81,48 82,65 83,50 84,56 85,73 86,76 87,70 88,58 89,55 90,54 91,63 92,46 93,67 94,32 95,47 96,48 97,61 98,65 99,60 100,63 101,62 102,63 103,75 104,44 105,46 106,68 107,76 108,58 109,52 110,78 111,63 112,35 113,72 114,69 115,71 116,59 117,59 118,63 119,27 120,65 121,64 122,75 123,83 124,66 125,58 126,84 127,79 128,43 129,63 130,39 131,61 132,73 133,36 134,59 135,45 136,58 137,57 138,75 139,69 140,88 141,57 142,63 143,67 144,64 145,48 146,74 147,54 148,48 149,51 150,69 151,61 152,58 153,59 154,60 155,55 156,47 157,31 158,59 159,56 160,66 161,63 162,42 163,40 164,36 165,45 166,78 167,30 168,54 169,52 170,56 171,76 172,59 173,54 174,37 175,50 176,55 177,78 178,79 179,59 180,30 181,68 182,43 183,36 184,56 185,52 186,49 187,69 188,44 189,53 190,46 191,62 192,71 193,51 194,30 195,22 196,42 197,57 198,54 199,68 200,49 201,67 202,65 203,80 204,72 205,51 206,66 207,29 208,43 209,57 210,67 211,66 212,74 213,53 214,80 215,67 216,72 217,59 218,83 219,48 220,49 221,52 222,65 223,72 224,23 225,66 226,48 227,46 228,32 229,64 230,64 231,56 232,58 233,70 234,51 235,47 236,20 237,47 238,58 239,60 240,60 241,67 242,51 243,44 244,57 245,37 246,54 247,60 248,47 249,56 250,66 251,42 252,37 253,14 254,56 255,63 256,77 257,37 258,70 259,37 259,113Z" fill="#6aa85c"/><path d="M0,113 0,101 1,96 2,91 3,94 4,90 5,99 6,97 7,89 8,80 9,94 10,83 11,83 12,94 13,91 14,86 15,87 16,85 17,79 18,84 19,83 20,84 21,84 22,87 23,80 24,86 25,90 26,80 27,87 28,99 29,86 30,98 31,94 32,90 33,79 34,86 35,93 36,88 37,87 38,95 39,87 40,91 41,80 42,95 43,100 44,94 45,94 46,89 47,83 48,89 49,92 50,87 51,95 52,92 53,96 54,82 55,96 56,81 57,91 58,82 59,96 60,98 61,90 62,81 63,84 64,88 65,82 66,95 67,80 68,86 69,89 70,80 71,79 72,79 73,87 74,87 75,94 76,90 77,95 78,83 79,87 80,88 81,81 82,85 83,86 84,90 85,94 86,92 87,91 88,89 89,87 90,78 91,83 92,89 93,94 94,85 95,72 96,82 97,82 98,97 99,92 100,90 101,91 102,79 103,87 104,88 105,94 106,96 107,91 108,100 109,75 110,90 111,92 112,94 113,82 114,86 115,88 116,86 117,86 118,95 119,90 120,91 121,88 122,99 123,98 124,97 125,86 126,100 127,89 128,91 129,84 130,88 131,92 132,94 133,61 134,89 135,87 136,82 137,89 138,93 139,90 140,98 141,84 142,92 143,90 144,83 145,84 146,99 147,93 148,89 149,80 150,97 151,82 152,92 153,100 154,85 155,90 156,77 157,92 158,95 159,86 160,85 161,92 162,77 163,72 164,69 165,69 166,95 167,54 168,81 169,82 170,81 171,91 172,82 173,85 174,79 175,71 176,89 177,94 178,93 179,92 180,71 181,95 182,82 183,81 184,82 185,81 186,78 187,86 188,86 189,86 190,80 191,79 192,85 193,84 194,68 195,84 196,71 197,83 198,90 199,90 200,84 201,91 202,89 203,95 204,83 205,78 206,86 207,90 208,83 209,96 210,94 211,98 212,95 213,90 214,92 215,81 216,96 217,87 218,97 219,71 220,82 221,86 222,91 223,94 224,97 225,87 226,81 227,92 228,66 229,90 230,76 231,86 232,89 233,96 234,82 235,80 236,81 237,85 238,75 239,89 240,86 241,94 242,89 243,85 244,84 245,88 246,80 247,80 248,80 249,94 250,80 251,86 252,87 253,81 254,84 255,88 256,88 257,81 258,86 259,79 259,113Z" fill="#4c74d8"/></svg></div><div style="position:absolute;left:281.0px;top:1125px;font-size:10.5px;line-height:12.5px;color:#b8bac2;font-weight:400;white-space:nowrap;">09:55</div><div style="position:absolute;left:366.8px;top:1125px;font-size:10.5px;line-height:12.5px;color:#b8bac2;font-weight:400;white-space:nowrap;">10:00</div><div style="position:absolute;left:452.6px;top:1125px;font-size:10.5px;line-height:12.5px;color:#b8bac2;font-weight:400;white-space:nowrap;">10:05</div><div style="position:absolute;left:576px;top:1015px;font-size:11px;line-height:13px;color:#6e9fff;font-weight:500;white-space:nowrap;">Name</div><div style="position:absolute;left:642px;top:1015px;font-size:11px;line-height:13px;color:#6e9fff;font-weight:500;white-space:nowrap;width:32px;text-align:right">Total</div><div style="position:absolute;left:562px;top:1033.0px;width:110px;height:1px;background:#25272c"></div><div style="position:absolute;left:564px;top:1042.0px;width:12px;height:4px;background:#4c74d8;border-radius:2px"></div><div style="position:absolute;left:582px;top:1037.0px;font-size:11px;line-height:13px;color:#d0d1d8;font-weight:400;white-space:nowrap;">debug</div><div style="position:absolute;left:614px;top:1037.0px;font-size:11px;line-height:13px;color:#d0d1d8;font-weight:400;white-space:nowrap;width:52px;text-align:right">2.1 K</div><div style="position:absolute;left:562px;top:1053.5px;width:110px;height:1px;background:#25272c"></div><div style="position:absolute;left:564px;top:1062.5px;width:12px;height:4px;background:#6aa85c;border-radius:2px"></div><div style="position:absolute;left:582px;top:1057.5px;font-size:11px;line-height:13px;color:#d0d1d8;font-weight:400;white-space:nowrap;">info</div><div style="position:absolute;left:614px;top:1057.5px;font-size:11px;line-height:13px;color:#d0d1d8;font-weight:400;white-space:nowrap;width:52px;text-align:right">2.2 K</div><div style="position:absolute;left:562px;top:1074.0px;width:110px;height:1px;background:#25272c"></div><div style="position:absolute;left:564px;top:1083.0px;width:12px;height:4px;background:#ef8534;border-radius:2px"></div><div style="position:absolute;left:582px;top:1078.0px;font-size:11px;line-height:13px;color:#d0d1d8;font-weight:400;white-space:nowrap;">warn</div><div style="position:absolute;left:614px;top:1078.0px;font-size:11px;line-height:13px;color:#d0d1d8;font-weight:400;white-space:nowrap;width:52px;text-align:right">240</div><div style="position:absolute;left:562px;top:1094.5px;width:110px;height:1px;background:#25272c"></div><div style="position:absolute;left:564px;top:1103.5px;width:12px;height:4px;background:#d9444f;border-radius:2px"></div><div style="position:absolute;left:582px;top:1098.5px;font-size:11px;line-height:13px;color:#d0d1d8;font-weight:400;white-space:nowrap;">error</div><div style="position:absolute;left:614px;top:1098.5px;font-size:11px;line-height:13px;color:#d0d1d8;font-weight:400;white-space:nowrap;width:52px;text-align:right">251</div><div style="position:absolute;left:685px;top:977px;width:668px;height:167px;background:#1b1c21;border:1px solid #26282d;border-radius:3px;box-sizing:border-box;overflow:hidden"><div style="position:absolute;left:5px;top:12.0px;width:3px;height:14px;background:#73bf69;border-radius:1px"></div><div style="position:absolute;left:18px;top:11.0px;font-size:10.25px;line-height:12.25px;color:#d8d9e0;font-weight:400;white-space:nowrap;font-family:'Liberation Mono',monospace">2024-07-10 10:09:56.399 191.177.219.140 - muhr9315 [10/Jul/2024:10:09:56 +0000] &quot;PUT /api/mimir/v1/label&quot;</div><div style="position:absolute;left:5px;top:28.75px;width:3px;height:14px;background:#5794f2;border-radius:1px"></div><div style="position:absolute;left:18px;top:27.75px;font-size:10.25px;line-height:12.25px;color:#d8d9e0;font-weight:400;white-space:nowrap;font-family:'Liberation Mono',monospace">2024-07-10 10:09:56.301 7.43.198.236 - - [10/Jul/2024:10:09:56 +0000] &quot;GET /api/loki/v1/push HTTP/2&quot;</div></div></div><div style="position:absolute;left:0;top:0;width:1362px;height:998px;transform-origin:0 0;transform:matrix3d(0.4982716046,-0.05209787622,0,2.569422876e-06,0.05429854571,0.4990564281,0,1.805780617e-06,0,0,1,0,51.4,312.6,0,1);border-radius:9px;overflow:hidden;background:#121318;-webkit-text-stroke:0.45px currentColor;box-shadow:0 18px 40px rgba(0,0,0,0.45)"><div style="position:absolute;left:0px;top:0px;width:1362px;height:32px;background:#828282"></div><div style="position:absolute;left:15px;top:13px;width:11px;height:11px;background:#fe5f57;border-radius:50%"></div><div style="position:absolute;left:32px;top:13px;width:11px;height:11px;background:#febc2e;border-radius:50%"></div><div style="position:absolute;left:49px;top:13px;width:11px;height:11px;background:#28c840;border-radius:50%"></div><div style="position:absolute;left:70px;top:6px;width:210px;height:26px;background:#e9e9e9;border-radius:9px 9px 0 0"></div><div style="position:absolute;left:82px;top:12px;width:12px;height:12px;border:2.5px solid #f27a25;border-radius:50%;box-sizing:border-box"></div><div style="position:absolute;left:102px;top:10px;font-size:12px;line-height:14px;color:#3c3c3c;font-weight:400;white-space:nowrap;width:135px;overflow:hidden">Fields - Logs - Explore - Grafana</div><div style="position:absolute;left:248px;top:8px;font-size:12px;line-height:14px;color:#444;font-weight:700;white-space:nowrap;">&#x2715;</div><div style="position:absolute;left:276px;top:8px;width:18px;height:18px;background:#9e9e9e;border-radius:50%"></div><div style="position:absolute;left:280px;top:6px;font-size:16px;line-height:18px;color:#333;font-weight:700;white-space:nowrap;">+</div><div style="position:absolute;left:1332px;top:5px;width:22px;height:20px;background:#ececec;border-radius:6px"></div><svg style="position:absolute;left:1337px;top:9px" width="12" height="12" viewBox="0 0 24 24" fill="none" stroke="#444" stroke-width="2.2" stroke-linecap="round" stroke-linejoin="round" ><path d="M6 9 L12 15 L18 9"/></svg><div style="position:absolute;left:0px;top:32px;width:1362px;height:38px;background:#e9e9e9"></div><svg style="position:absolute;left:10px;top:43.0px" width="16" height="16" viewBox="0 0 24 24" fill="none" stroke="#555" stroke-width="2" stroke-linecap="round" stroke-linejoin="round" ><path d="M19 12 H5"/><path d="M11 6 L5 12 L11 18"/></svg><svg style="position:absolute;left:40px;top:43.0px" width="16" height="16" viewBox="0 0 24 24" fill="none" stroke="#aaa" stroke-width="2" stroke-linecap="round" stroke-linejoin="round" ><path d="M5 12 H19"/><path d="M13 6 L19 12 L13 18"/></svg><svg style="position:absolute;left:70px;top:43.0px" width="16" height="16" viewBox="0 0 24 24" fill="none" stroke="#555" stroke-width="2" stroke-linecap="round" stroke-linejoin="round" ><path d="M19 12 A7 7 0 1 1 16.5 6.6"/><path d="M19 4 V9 H14"/></svg><svg style="position:absolute;left:100px;top:43.0px" width="16" height="16" viewBox="0 0 24 24" fill="none" stroke="#555" stroke-width="2" stroke-linecap="round" stroke-linejoin="round" ><path d="M5 11 L12 5 L19 11 V19 H5 Z"/></svg><div style="position:absolute;left:128px;top:38.0px;width:1084px;height:27px;background:#cbcbcd;border-radius:13px"></div><svg style="position:absolute;left:136px;top:43.0px" width="16" height="16" viewBox="0 0 24 24" fill="none" stroke="#555" stroke-width="1.8" stroke-linecap="round" stroke-linejoin="round" ><path d="M6 8 H18 M6 16 H18"/><circle cx="10" cy="8" r="2"/><circle cx="14" cy="16" r="2"/></svg><div style="position:absolute;left:160px;top:43.0px;font-size:12.5px;line-height:14.5px;color:#4a4a4a;font-weight:400;white-space:nowrap;width:1014px;overflow:hidden;text-overflow:ellipsis">play.grafana.org/a/grafana-lokiexplore-app/explore/service/tempo-ingester/fields?var-ds=ddhr3fttaw8aod&amp;var-patterns=&amp;var-lineFilter=&amp;var-logsFormat=%20%7C%20logfmt&amp;patterns=%5B%5D&amp;var-fields=&amp;var-levels=&amp;var-filters=service</div><svg style="position:absolute;left:1186px;top:43.0px" width="16" height="16" viewBox="0 0 24 24" fill="none" stroke="#555" stroke-width="1.8" stroke-linecap="round" stroke-linejoin="round" ><path d="M12 3 L14.7 9 L21 9.6 L16.2 13.8 L17.6 20 L12 16.7 L6.4 20 L7.8 13.8 L3 9.6 L9.3 9 Z"/></svg><div style="position:absolute;left:1232px;top:43.0px;width:16px;height:16px;background:#8ab4f8;border-radius:50%"></div><svg style="position:absolute;left:1262px;top:43.0px" width="16" height="16" viewBox="0 0 24 24" fill="none" stroke="#555" stroke-width="1.8" stroke-linecap="round" stroke-linejoin="round" ><path d="M5 8 H9 A2 2 0 0 1 13 8 H17 V12 A2 2 0 0 1 17 16 V20 H5 Z"/></svg><div style="position:absolute;left:1290px;top:44.0px;width:1.5px;height:14px;background:#aaa"></div><div style="position:absolute;left:1304px;top:42.0px;width:18px;height:18px;background:radial-gradient(circle at 40% 40%,#d07cf0,#5b2bd6 60%,#2a1a80);border-radius:50%"></div><div style="position:absolute;left:1338px;top:42.0px;font-size:15px;line-height:17px;color:#555;font-weight:700;white-space:nowrap;">&#8942;</div><div style="position:absolute;left:0px;top:70px;width:1362px;height:36px;background:#1b1c21;border-bottom:2px solid #24262b;box-sizing:border-box"></div><svg style="position:absolute;left:12px;top:78px" width="21" height="21" viewBox="0 0 24 24"><defs><linearGradient id="glg" gradientUnits="userSpaceOnUse" x1="0" y1="22" x2="0" y2="2"><stop offset="0" stop-color="#f5c342"/><stop offset="0.55" stop-color="#f99a36"/><stop offset="1" stop-color="#e8532b"/></linearGradient></defs><g fill="url(#glg)"><circle cx="12" cy="12" r="8"/><circle cx="19.70" cy="15.11" r="2.3"/><circle cx="15.24" cy="19.64" r="2.3"/><circle cx="8.89" cy="19.70" r="2.3"/><circle cx="4.36" cy="15.24" r="2.3"/><circle cx="4.30" cy="8.89" r="2.3"/><circle cx="8.76" cy="4.36" r="2.3"/><circle cx="15.11" cy="4.30" r="2.3"/><circle cx="19.64" cy="8.76" r="2.3"/></g><circle cx="12.4" cy="12.4" r="5.0" fill="#1b1c21"/><path d="M9.6 11.2 A3 3 0 1 1 12.6 15.4" fill="none" stroke="url(#glg)" stroke-width="1.4"/></svg><div style="position:absolute;left:540px;top:75px;width:310px;height:26px;background:#121318;border:1px solid #2b2d33;border-radius:2px"></div><svg style="position:absolute;left:546px;top:81px" width="14" height="14" viewBox="0 0 24 24" fill="none" stroke="#9fa3ab" stroke-width="2" stroke-linecap="round" stroke-linejoin="round" ><circle cx="11" cy="11" r="6.5"/><path d="M16 16 L20 20"/></svg><div style="position:absolute;left:564px;top:80px;font-size:12.5px;line-height:14.5px;color:#9fa3ab;font-weight:400;white-space:nowrap;">Search or jump to...</div><div style="position:absolute;left:804px;top:81px;width:14px;height:12px;border:1px solid #777;border-radius:2px"></div><div style="position:absolute;left:822px;top:80px;font-size:11px;line-height:13px;color:#9fa3ab;font-weight:400;white-space:nowrap;">&#8984;+k</div><svg style="position:absolute;left:1250px;top:80px" width="16" height="16" viewBox="0 0 24 24" fill="none" stroke="#9fa3ab" stroke-width="1.8" stroke-linecap="round" stroke-linejoin="round" ><circle cx="12" cy="12" r="9"/><path d="M9.5 9.5 A2.5 2.5 0 1 1 12 12 V13.5"/><circle cx="12" cy="17" r="0.6"/></svg><svg style="position:absolute;left:1281px;top:80px" width="16" height="16" viewBox="0 0 24 24" fill="none" stroke="#9fa3ab" stroke-width="2.2" stroke-linecap="round" stroke-linejoin="round" ><path d="M5 19 A0.5 0.5 0 0 0 5 19"/><path d="M5 12 A7 7 0 0 1 12 19"/><path d="M5 5 A14 14 0 0 1 19 19"/></svg><div style="position:absolute;left:1306px;top:80px;font-size:12.5px;line-height:14.5px;color:#ccccdc;font-weight:500;white-space:nowrap;">Sign in</div><div style="position:absolute;left:0px;top:107px;width:1362px;height:33px;background:#1b1c21;border-bottom:2px solid #24262b;box-sizing:border-box"></div><svg style="position:absolute;left:12px;top:115px" width="18" height="18" viewBox="0 0 24 24" fill="none" stroke="#ccccdc" stroke-width="2" stroke-linecap="round" stroke-linejoin="round" ><path d="M4 6 H20"/><path d="M4 12 H20"/><path d="M4 18 H20"/></svg><div style="position:absolute;left:44px;top:116px;font-size:12.5px;line-height:14.5px;color:#ccccdc;font-weight:500;white-space:nowrap;">Home</div><svg style="position:absolute;left:81px;top:119px" width="10" height="10" viewBox="0 0 24 24" fill="none" stroke="#888" stroke-width="2" stroke-linecap="round" stroke-linejoin="round" ><path d="M9 6 L15 12 L9 18"/></svg><div style="position:absolute;left:98px;top:116px;font-size:12.5px;line-height:14.5px;color:#ccccdc;font-weight:500;white-space:nowrap;">Explore</div><svg style="position:absolute;left:147px;top:119px" width="10" height="10" viewBox="0 0 24 24" fill="none" stroke="#888" stroke-width="2" stroke-linecap="round" stroke-linejoin="round" ><path d="M9 6 L15 12 L9 18"/></svg><div style="position:absolute;left:164px;top:116px;font-size:12.5px;line-height:14.5px;color:#ccccdc;font-weight:500;white-space:nowrap;">Logs</div><svg style="position:absolute;left:195px;top:119px" width="10" height="10" viewBox="0 0 24 24" fill="none" stroke="#888" stroke-width="2" stroke-linecap="round" stroke-linejoin="round" ><path d="M9 6 L15 12 L9 18"/></svg><div style="position:absolute;left:212px;top:116px;font-size:12.5px;line-height:14.5px;color:#8e8e8e;font-weight:400;white-space:nowrap;">Fields</div><svg style="position:absolute;left:1332px;top:116px" width="14" height="14" viewBox="0 0 24 24" fill="none" stroke="#9fa3ab" stroke-width="2" stroke-linecap="round" stroke-linejoin="round" ><path d="M6 15 L12 9 L18 15"/></svg><div style="position:absolute;left:250px;top:140px;width:1112px;height:858px;background:#121318"></div><div style="position:absolute;left:0px;top:140px;width:250px;height:858px;background:#1b1c21;border-right:1px solid #2b2d33"></div><svg style="position:absolute;left:226px;top:148px" width="16" height="16" viewBox="0 0 24 24" fill="none" stroke="#9fa3ab" stroke-width="1.8" stroke-linecap="round" stroke-linejoin="round" ><rect x="4" y="4" width="16" height="16" rx="2"/><path d="M10 4 V20"/></svg><svg style="position:absolute;left:34px;top:148.0px" width="18" height="18" viewBox="0 0 24 24" fill="none" stroke="#c0c4cc" stroke-width="1.7" stroke-linecap="round" stroke-linejoin="round" ><path d="M4 11 L12 4 L20 11 V20 H4 Z"/><path d="M10 20 V14 H14 V20"/></svg><div style="position:absolute;left:66px;top:149.0px;font-size:13px;line-height:15px;color:#c4c6cf;font-weight:400;white-space:nowrap;">Home</div><svg style="position:absolute;left:5px;top:177.6px" width="12" height="12" viewBox="0 0 24 24" fill="none" stroke="#9fa3ab" stroke-width="2.2" stroke-linecap="round" stroke-linejoin="round" ><path d="M9 6 L15 12 L9 18"/></svg><svg style="position:absolute;left:34px;top:174.6px" width="18" height="18" viewBox="0 0 24 24" fill="none" stroke="#c0c4cc" stroke-width="1.7" stroke-linecap="round" stroke-linejoin="round" ><path d="M12 3 L14.7 9 L21 9.6 L16.2 13.8 L17.6 20 L12 16.7 L6.4 20 L7.8 13.8 L3 9.6 L9.3 9 Z"/></svg><div style="position:absolute;left:66px;top:175.6px;font-size:13px;line-height:15px;color:#c4c6cf;font-weight:400;white-space:nowrap;">Starred</div><svg style="position:absolute;left:5px;top:204.2px" width="12" height="12" viewBox="0 0 24 24" fill="none" stroke="#9fa3ab" stroke-width="2.2" stroke-linecap="round" stroke-linejoin="round" ><path d="M9 6 L15 12 L9 18"/></svg><svg style="position:absolute;left:34px;top:201.2px" width="18" height="18" viewBox="0 0 24 24" fill="none" stroke="#c0c4cc" stroke-width="1.7" stroke-linecap="round" stroke-linejoin="round" ><rect x="4" y="4" width="7" height="7" rx="1"/><rect x="13" y="4" width="7" height="7" rx="1"/><rect x="4" y="13" width="7" height="7" rx="1"/><rect x="13" y="13" width="7" height="7" rx="1"/></svg><div style="position:absolute;left:66px;top:202.2px;font-size:13px;line-height:15px;color:#c4c6cf;font-weight:400;white-space:nowrap;">Dashboards</div><svg style="position:absolute;left:5px;top:230.8px" width="12" height="12" viewBox="0 0 24 24" fill="none" stroke="#9fa3ab" stroke-width="2.2" stroke-linecap="round" stroke-linejoin="round" ><path d="M6 9 L12 15 L18 9"/></svg><svg style="position:absolute;left:34px;top:227.8px" width="18" height="18" viewBox="0 0 24 24" fill="none" stroke="#c0c4cc" stroke-width="1.7" stroke-linecap="round" stroke-linejoin="round" ><circle cx="12" cy="12" r="9"/><path d="M15.5 8.5 L13.5 13.5 L8.5 15.5 L10.5 10.5 Z"/></svg><div style="position:absolute;left:66px;top:228.8px;font-size:13px;line-height:15px;color:#e6e6ef;font-weight:500;white-space:nowrap;">Explore</div><div style="position:absolute;left:66px;top:255.39999999999998px;font-size:13px;line-height:15px;color:#c4c6cf;font-weight:400;white-space:nowrap;">Metrics</div><div style="position:absolute;left:56px;top:278.0px;width:186px;height:24px;background:#22252b;border-radius:2px"></div><div style="position:absolute;left:56px;top:279.0px;width:3px;height:22px;background:linear-gradient(#ff8833,#f55f3e);border-radius:2px"></div><div style="position:absolute;left:66px;top:282.0px;font-size:13px;line-height:15px;color:#e6e6ef;font-weight:500;white-space:nowrap;">Logs</div><svg style="position:absolute;left:36px;top:310.6px" width="12" height="12" viewBox="0 0 24 24" fill="none" stroke="#9fa3ab" stroke-width="2.2" stroke-linecap="round" stroke-linejoin="round" ><path d="M9 6 L15 12 L9 18"/></svg><div style="position:absolute;left:66px;top:308.6px;font-size:13px;line-height:15px;color:#c4c6cf;font-weight:400;white-space:nowrap;">Profiles</div><svg style="position:absolute;left:5px;top:337.20000000000005px" width="12" height="12" viewBox="0 0 24 24" fill="none" stroke="#9fa3ab" stroke-width="2.2" stroke-linecap="round" stroke-linejoin="round" ><path d="M9 6 L15 12 L9 18"/></svg><svg style="position:absolute;left:34px;top:334.20000000000005px" width="18" height="18" viewBox="0 0 24 24" fill="none" stroke="#c0c4cc" stroke-width="1.7" stroke-linecap="round" stroke-linejoin="round" ><path d="M6 17 V11 A6 6 0 0 1 18 11 V17 Z"/><path d="M4 17 H20"/><path d="M10 20 H14"/></svg><div style="position:absolute;left:66px;top:335.20000000000005px;font-size:13px;line-height:15px;color:#c4c6cf;font-weight:400;white-space:nowrap;">Alerts &amp; IRM</div><svg style="position:absolute;left:5px;top:363.8px" width="12" height="12" viewBox="0 0 24 24" fill="none" stroke="#9fa3ab" stroke-width="2.2" stroke-linecap="round" stroke-linejoin="round" ><path d="M9 6 L15 12 L9 18"/></svg><svg style="position:absolute;left:34px;top:360.8px" width="18" height="18" viewBox="0 0 24 24" fill="none" stroke="#c0c4cc" stroke-width="1.7" stroke-linecap="round" stroke-linejoin="round" ><path d="M4 20 L8 8 L12 14 L16 6 L20 20 Z"/></svg><div style="position:absolute;left:66px;top:361.8px;font-size:13px;line-height:15px;color:#c4c6cf;font-weight:400;white-space:nowrap;">Testing &amp; synthetics</div><svg style="position:absolute;left:5px;top:390.4px" width="12" height="12" viewBox="0 0 24 24" fill="none" stroke="#9fa3ab" stroke-width="2.2" stroke-linecap="round" stroke-linejoin="round" ><path d="M9 6 L15 12 L9 18"/></svg><svg style="position:absolute;left:34px;top:387.4px" width="18" height="18" viewBox="0 0 24 24" fill="none" stroke="#c0c4cc" stroke-width="1.7" stroke-linecap="round" stroke-linejoin="round" ><path d="M3 12 H7 L10 6 L14 18 L17 12 H21"/></svg><div style="position:absolute;left:66px;top:388.4px;font-size:13px;line-height:15px;color:#c4c6cf;font-weight:400;white-space:nowrap;">Infrastructure</div><svg style="position:absolute;left:5px;top:417.0px" width="12" height="12" viewBox="0 0 24 24" fill="none" stroke="#9fa3ab" stroke-width="2.2" stroke-linecap="round" stroke-linejoin="round" ><path d="M9 6 L15 12 L9 18"/></svg><svg style="position:absolute;left:34px;top:414.0px" width="18" height="18" viewBox="0 0 24 24" fill="none" stroke="#c0c4cc" stroke-width="1.7" stroke-linecap="round" stroke-linejoin="round" ><rect x="4" y="12" width="4" height="8"/><rect x="10" y="5" width="4" height="15"/><rect x="16" y="9" width="4" height="11"/></svg><div style="position:absolute;left:66px;top:415.0px;font-size:13px;line-height:15px;color:#c4c6cf;font-weight:400;white-space:nowrap;">Application</div><svg style="position:absolute;left:5px;top:443.6px" width="12" height="12" viewBox="0 0 24 24" fill="none" stroke="#9fa3ab" stroke-width="2.2" stroke-linecap="round" stroke-linejoin="round" ><path d="M9 6 L15 12 L9 18"/></svg><svg style="position:absolute;left:34px;top:440.6px" width="18" height="18" viewBox="0 0 24 24" fill="none" stroke="#c0c4cc" stroke-width="1.7" stroke-linecap="round" stroke-linejoin="round" ><rect x="4" y="6" width="16" height="14" rx="2"/><path d="M4 10 H20"/><path d="M9 10 V20"/></svg><div style="position:absolute;left:66px;top:441.6px;font-size:13px;line-height:15px;color:#c4c6cf;font-weight:400;white-space:nowrap;">Frontend</div><svg style="position:absolute;left:5px;top:470.20000000000005px" width="12" height="12" viewBox="0 0 24 24" fill="none" stroke="#9fa3ab" stroke-width="2.2" stroke-linecap="round" stroke-linejoin="round" ><path d="M9 6 L15 12 L9 18"/></svg><svg style="position:absolute;left:34px;top:467.20000000000005px" width="18" height="18" viewBox="0 0 24 24" fill="none" stroke="#c0c4cc" stroke-width="1.7" stroke-linecap="round" stroke-linejoin="round" ><circle cx="9" cy="12" r="5"/><circle cx="15" cy="12" r="5"/></svg><div style="position:absolute;left:66px;top:468.20000000000005px;font-size:13px;line-height:15px;color:#c4c6cf;font-weight:400;white-space:nowrap;">Connections</div><svg style="position:absolute;left:5px;top:496.8px" width="12" height="12" viewBox="0 0 24 24" fill="none" stroke="#9fa3ab" stroke-width="2.2" stroke-linecap="round" stroke-linejoin="round" ><path d="M9 6 L15 12 L9 18"/></svg><svg style="position:absolute;left:34px;top:493.8px" width="18" height="18" viewBox="0 0 24 24" fill="none" stroke="#c0c4cc" stroke-width="1.7" stroke-linecap="round" stroke-linejoin="round" ><path d="M12 3 L20 7.5 V16.5 L12 21 L4 16.5 V7.5 Z"/><path d="M4 7.5 L12 12 L20 7.5"/></svg><div style="position:absolute;left:66px;top:494.8px;font-size:13px;line-height:15px;color:#c4c6cf;font-weight:400;white-space:nowrap;">Apps</div><svg style="position:absolute;left:5px;top:523.4000000000001px" width="12" height="12" viewBox="0 0 24 24" fill="none" stroke="#9fa3ab" stroke-width="2.2" stroke-linecap="round" stroke-linejoin="round" ><path d="M9 6 L15 12 L9 18"/></svg><svg style="position:absolute;left:34px;top:520.4000000000001px" width="18" height="18" viewBox="0 0 24 24" fill="none" stroke="#c0c4cc" stroke-width="1.7" stroke-linecap="round" stroke-linejoin="round" ><circle cx="12" cy="12" r="9"/><circle cx="12" cy="12" r="3.5"/></svg><div style="position:absolute;left:66px;top:521.4000000000001px;font-size:13px;line-height:15px;color:#c4c6cf;font-weight:400;white-space:nowrap;">Administration</div><svg style="position:absolute;left:914px;top:178px" width="14" height="14" viewBox="0 0 24 24" fill="none" stroke="#8e8e8e" stroke-width="1.6" stroke-linecap="round" stroke-linejoin="round" ><rect x="4" y="5" width="16" height="13" rx="1.5"/><path d="M8 10 H16 M8 13 H13"/></svg><div style="position:absolute;left:932px;top:178px;font-size:11.5px;line-height:13.5px;color:#9a9ca3;font-weight:400;white-space:nowrap;">Give feedback</div><div style="position:absolute;left:1011px;top:175px;width:57px;height:21px;background:#172033;border:1px solid #23395c;border-radius:2px;box-sizing:border-box"></div><svg style="position:absolute;left:1015px;top:179px" width="12" height="12" viewBox="0 0 24 24" fill="none" stroke="#6e9fff" stroke-width="1.8" stroke-linecap="round" stroke-linejoin="round" ><path d="M5 19 L9 15"/><path d="M14 4 C19 4 20 5 20 10 L13 17 L7 11 Z"/></svg><div style="position:absolute;left:1029px;top:178px;font-size:11.5px;line-height:13.5px;color:#6e9fff;font-weight:500;white-space:nowrap;">Preview</div><div style="position:absolute;left:1086px;top:166px;width:170px;height:31px;background:#1e2025;border:1.5px solid #2f3137;border-radius:2px;box-sizing:border-box"></div><svg style="position:absolute;left:1094px;top:174px" width="15" height="15" viewBox="0 0 24 24" fill="none" stroke="#ccccdc" stroke-width="1.8" stroke-linecap="round" stroke-linejoin="round" ><circle cx="12" cy="12" r="9"/><path d="M12 7 V12 L15 14"/></svg><div style="position:absolute;left:1115px;top:174px;font-size:12.5px;line-height:14.5px;color:#ccccdc;font-weight:500;white-space:nowrap;">Last 15 minutes</div><div style="position:absolute;left:1214.0px;top:175px;font-size:11px;line-height:13px;color:#f5a33c;font-weight:500;white-space:nowrap;">UTC</div><svg style="position:absolute;left:1243.0px;top:177px" width="10" height="10" viewBox="0 0 24 24" fill="none" stroke="#ccccdc" stroke-width="2.4" stroke-linecap="round" stroke-linejoin="round" ><path d="M6 9 L12 15 L18 9"/></svg><div style="position:absolute;left:1258px;top:166px;width:28px;height:31px;background:#1e2025;border:1px solid #2f3137;box-sizing:border-box"></div><svg style="position:absolute;left:1264px;top:173px" width="16" height="16" viewBox="0 0 24 24" fill="none" stroke="#ccccdc" stroke-width="1.8" stroke-linecap="round" stroke-linejoin="round" ><circle cx="11" cy="11" r="7"/><path d="M8 11 H14"/><path d="M16 16 L20 20"/></svg><div style="position:absolute;left:1292px;top:166px;width:54px;height:31px;background:#1e2025;border:1px solid #2f3137;box-sizing:border-box"></div><svg style="position:absolute;left:1298px;top:173px" width="16" height="16" viewBox="0 0 24 24" fill="none" stroke="#ccccdc" stroke-width="1.8" stroke-linecap="round" stroke-linejoin="round" ><path d="M20 12 A8 8 0 1 1 17.5 6.2"/><path d="M20 4 V9 H15"/></svg><div style="position:absolute;left:1320px;top:168px;width:1px;height:27px;background:#2f3137"></div><svg style="position:absolute;left:1327px;top:176px" width="11" height="11" viewBox="0 0 24 24" fill="none" stroke="#ccccdc" stroke-width="2.4" stroke-linecap="round" stroke-linejoin="round" ><path d="M6 9 L12 15 L18 9"/></svg><div style="position:absolute;left:1220px;top:206px;width:126px;height:30px;background:#1e2025;border:1px solid #2f3137;border-radius:2px;box-sizing:border-box"></div><svg style="position:absolute;left:1230px;top:213px" width="16" height="16" viewBox="0 0 24 24" fill="none" stroke="#ccccdc" stroke-width="1.8" stroke-linecap="round" stroke-linejoin="round" ><circle cx="12" cy="12" r="8"/><path d="M15 9 L13 13 L9 15 L11 11 Z"/></svg><div style="position:absolute;left:1252px;top:213px;font-size:12.5px;line-height:14.5px;color:#ccccdc;font-weight:500;white-space:nowrap;">Open in Explore</div><div style="position:absolute;left:262px;top:150px;font-size:10.5px;line-height:12.5px;color:#ccccdc;font-weight:500;white-space:nowrap;">Data source</div><div style="position:absolute;left:262px;top:166px;width:106px;height:34px;background:#121318;border:1px solid #2f3137;border-radius:2px;box-sizing:border-box"></div><div style="position:absolute;left:272px;top:175px;font-size:13px;line-height:15px;color:#ccccdc;font-weight:500;white-space:nowrap;">Explore Logs</div><svg style="position:absolute;left:350px;top:179px" width="10" height="10" viewBox="0 0 24 24" fill="none" stroke="#ccccdc" stroke-width="2.4" stroke-linecap="round" stroke-linejoin="round" ><path d="M6 9 L12 15 L18 9"/></svg><div style="position:absolute;left:384px;top:148px;font-size:10.5px;line-height:12.5px;color:#ccccdc;font-weight:600;white-space:nowrap;">service_name</div><div style="position:absolute;left:460px;top:146px;font-size:12px;line-height:14px;color:#ccccdc;font-weight:400;white-space:nowrap;">&#215;</div><div style="position:absolute;left:384px;top:163px;width:116px;height:34px;background:#121318;border:1px solid #2f3137;border-radius:2px;box-sizing:border-box"></div><div style="position:absolute;left:394px;top:172px;font-size:13px;line-height:15px;color:#ccccdc;font-weight:500;white-space:nowrap;">tempo-ingester</div><svg style="position:absolute;left:480px;top:176px" width="10" height="10" viewBox="0 0 24 24" fill="none" stroke="#ccccdc" stroke-width="2.4" stroke-linecap="round" stroke-linejoin="round" ><path d="M6 9 L12 15 L18 9"/></svg><div style="position:absolute;left:268px;top:218px;font-size:13px;line-height:15px;color:#9fa3ab;font-weight:500;white-space:nowrap;">Logs</div><div style="position:absolute;left:320px;top:218px;font-size:13px;line-height:15px;color:#9fa3ab;font-weight:500;white-space:nowrap;">Labels</div><div style="position:absolute;left:363.8px;top:217px;width:22px;height:17px;background:#2b2d33;border-radius:9px"></div><div style="position:absolute;left:363.8px;top:218px;font-size:10.5px;line-height:12.5px;color:#9fa3ab;font-weight:500;white-space:nowrap;width:22px;text-align:center">5</div><div style="position:absolute;left:408px;top:218px;font-size:13px;line-height:15px;color:#e6e6ef;font-weight:500;white-space:nowrap;">Fields</div><div style="position:absolute;left:451.8px;top:217px;width:22px;height:17px;background:#2b2d33;border-radius:9px"></div><div style="position:absolute;left:451.8px;top:218px;font-size:10.5px;line-height:12.5px;color:#9fa3ab;font-weight:500;white-space:nowrap;width:22px;text-align:center">10</div><div style="position:absolute;left:400px;top:239px;width:81.8px;height:3px;background:linear-gradient(90deg,#ff8833,#f55f3e);border-radius:2px"></div><div style="position:absolute;left:498px;top:218px;font-size:13px;line-height:15px;color:#9fa3ab;font-weight:500;white-space:nowrap;">Patterns</div><div style="position:absolute;left:554.4px;top:217px;width:22px;height:17px;background:#2b2d33;border-radius:9px"></div><div style="position:absolute;left:554.4px;top:218px;font-size:10.5px;line-height:12.5px;color:#9fa3ab;font-weight:500;white-space:nowrap;width:22px;text-align:center">9</div><div style="position:absolute;left:262px;top:243px;width:1084px;height:1px;background:#25272c"></div><div style="position:absolute;left:262px;top:252px;width:34px;height:25px;background:#22252b;border:1px solid #2f3137;border-radius:2px;box-sizing:border-box;"><div style="position:absolute;left:0;right:0;top:0;bottom:0;display:flex;align-items:center;justify-content:center;font-size:10.5px;color:#ccccdc;font-weight:500;white-space:nowrap">Field</div></div><div style="position:absolute;left:298px;top:252px;width:122px;height:25px;background:#121318;border:1px solid #2f3137;border-radius:2px;box-sizing:border-box"></div><svg style="position:absolute;left:304px;top:258px" width="13" height="13" viewBox="0 0 24 24" fill="none" stroke="#ccccdc" stroke-width="2" stroke-linecap="round" stroke-linejoin="round" ><circle cx="11" cy="11" r="6.5"/><path d="M16 16 L20 20"/></svg><div style="position:absolute;left:321px;top:257px;font-size:12px;line-height:14px;color:#ccccdc;font-weight:500;white-space:nowrap;">All</div><svg style="position:absolute;left:402px;top:259px" width="10" height="10" viewBox="0 0 24 24" fill="none" stroke="#ccccdc" stroke-width="2.4" stroke-linecap="round" stroke-linejoin="round" ><path d="M6 9 L12 15 L18 9"/></svg><div style="position:absolute;left:1236px;top:250px;width:104px;height:33px;background:#1b1c21;border:1px solid #25272c;border-radius:2px;box-sizing:border-box"></div><div style="position:absolute;left:1240px;top:254px;width:48px;height:25px;background:#2b2d33;border:1px solid #2b2d33;border-radius:2px;box-sizing:border-box;"><div style="position:absolute;left:0;right:0;top:0;bottom:0;display:flex;align-items:center;justify-content:center;font-size:12px;color:#e6e6ef;font-weight:500;white-space:nowrap">Grid</div></div><div style="position:absolute;left:1298px;top:260px;font-size:12px;line-height:14px;color:#9fa3ab;font-weight:500;white-space:nowrap;">Rows</div><div style="position:absolute;left:262px;top:290px;width:357px;height:166px;background:#1b1c21;border:1px solid #26282d;border-radius:3px;box-sizing:border-box"></div><div style="position:absolute;left:272px;top:298px;font-size:12.5px;line-height:14.5px;color:#d8d9e0;font-weight:500;white-space:nowrap;">bytes</div><div style="position:absolute;left:292px;top:322px;width:315px;height:90px;border-left:1px solid #25272c"></div><div style="position:absolute;left:292px;top:322px;width:315px;height:90px"><svg width="315" height="90" viewBox="0 0 315 90" style="position:absolute;display:block;overflow:visible"><path d="M0.0,52.5 L0.9,53.0 L1.9,60.6 L2.8,51.5 L3.7,57.4 L4.6,56.7 L5.6,46.3 L6.5,64.4 L7.4,40.9 L8.4,47.8 L9.3,47.9 L10.2,56.4 L11.2,32.1 L12.1,60.5 L13.0,58.8 L13.9,44.4 L14.9,49.9 L15.8,40.0 L16.7,60.7 L17.7,47.6 L18.6,47.2 L19.5,66.0 L20.4,58.4 L21.4,50.8 L22.3,50.8 L23.2,62.3 L24.2,49.4 L25.1,49.7 L26.0,47.6 L26.9,53.1 L27.9,52.9 L28.8,63.7 L29.7,52.8 L30.7,54.5 L31.6,49.5 L32.5,64.8 L33.5,46.2 L34.4,35.5 L35.3,30.7 L36.2,23.1 L37.2,53.6 L38.1,39.6 L39.0,54.4 L40.0,56.5 L40.9,50.7 L41.8,65.9 L42.7,59.0 L43.7,51.9 L44.6,46.6 L45.5,41.9 L46.5,32.9 L47.4,8.1 L48.3,45.4 L49.2,42.8 L50.2,35.0 L51.1,38.0 L52.0,49.5 L53.0,40.3 L53.9,37.1 L54.8,50.0 L55.8,57.9 L56.7,34.9 L57.6,40.3 L58.5,46.1 L59.5,59.1 L60.4,53.0 L61.3,38.3 L62.3,65.0 L63.2,62.7 L64.1,45.2 L65.0,49.8 L66.0,44.9 L66.9,39.7 L67.8,58.7 L68.8,32.9 L69.7,38.9 L70.6,52.4 L71.5,47.9 L72.5,47.0 L73.4,23.2 L74.3,56.5 L75.3,31.0 L76.2,57.2 L77.1,60.8 L78.1,45.0 L79.0,37.5 L79.9,47.1 L80.8,64.1 L81.8,47.2 L82.7,47.5 L83.6,39.6 L84.6,31.7 L85.5,30.7 L86.4,45.3 L87.3,48.9 L88.3,31.0 L89.2,47.2 L90.1,35.2 L91.1,47.0 L92.0,33.1 L92.9,43.6 L93.8,57.9 L94.8,40.4 L95.7,53.7 L96.6,44.2 L97.6,44.0 L98.5,41.3 L99.4,33.0 L100.4,40.5 L101.3,48.1 L102.2,41.5 L103.1,47.1 L104.1,29.2 L105.0,27.4 L105.9,48.2 L106.9,8.1 L107.8,46.7 L108.7,43.8 L109.6,56.4 L110.6,26.0 L111.5,51.8 L112.4,29.6 L113.4,55.0 L114.3,40.0 L115.2,62.7 L116.2,43.5 L117.1,48.2 L118.0,54.7 L118.9,53.0 L119.9,50.0 L120.8,59.2 L121.7,40.7 L122.7,35.1 L123.6,32.3 L124.5,52.3 L125.4,43.7 L126.4,59.2 L127.3,58.3 L128.2,41.6 L129.2,24.9 L130.1,32.1 L131.0,54.1 L131.9,41.1 L132.9,36.1 L133.8,42.8 L134.7,57.5 L135.7,23.3 L136.6,47.1 L137.5,39.9 L138.5,44.0 L139.4,53.2 L140.3,53.6 L141.2,51.7 L142.2,51.4 L143.1,31.4 L144.0,40.8 L145.0,34.4 L145.9,42.5 L146.8,30.3 L147.7,25.1 L148.7,30.4 L149.6,43.7 L150.5,51.7 L151.5,36.8 L152.4,27.4 L153.3,36.4 L154.2,36.6 L155.2,32.6 L156.1,53.2 L157.0,51.3 L158.0,53.1 L158.9,42.5 L159.8,34.2 L160.8,26.2 L161.7,51.3 L162.6,47.5 L163.5,49.1 L164.5,46.5 L165.4,43.4 L166.3,49.2 L167.3,44.0 L168.2,55.5 L169.1,60.3 L170.0,38.3 L171.0,45.5 L171.9,46.7 L172.8,34.4 L173.8,33.1 L174.7,33.8 L175.6,45.0 L176.5,47.3 L177.5,46.8 L178.4,37.1 L179.3,39.8 L180.3,31.3 L181.2,38.9 L182.1,24.8 L183.1,47.9 L184.0,37.4 L184.9,38.9 L185.8,19.9 L186.8,60.0 L187.7,40.9 L188.6,46.7 L189.6,34.5 L190.5,43.8 L191.4,40.4 L192.3,58.5 L193.3,32.6 L194.2,46.1 L195.1,41.0 L196.1,44.0 L197.0,29.8 L197.9,43.7 L198.8,50.5 L199.8,38.6 L200.7,55.9 L201.6,54.9 L202.6,38.5 L203.5,39.2 L204.4,46.4 L205.4,20.8 L206.3,35.1 L207.2,46.0 L208.1,32.9 L209.1,44.6 L210.0,47.5 L210.9,30.3 L211.9,42.4 L212.8,6.5 L213.7,35.9 L214.6,29.2 L215.6,32.2 L216.5,45.9 L217.4,48.1 L218.4,29.8 L219.3,41.2 L220.2,33.3 L221.2,22.2 L222.1,32.7 L223.0,28.3 L223.9,26.9 L224.9,22.0 L225.8,33.3 L226.7,30.8 L227.7,43.0 L228.6,47.4 L229.5,43.6 L230.4,53.2 L231.4,29.4 L232.3,50.1 L233.2,34.9 L234.2,50.5 L235.1,30.2 L236.0,49.5 L236.9,33.9 L237.9,28.6 L238.8,19.0 L239.7,27.4 L240.7,52.4 L241.6,31.1 L242.5,40.0 L243.5,12.5 L244.4,35.0 L245.3,40.0 L246.2,45.6 L247.2,34.1 L248.1,42.4 L249.0,38.1 L250.0,21.1 L250.9,38.5 L251.8,37.7 L252.7,27.8 L253.7,29.7 L254.6,41.3 L255.5,35.0 L256.5,30.2 L257.4,50.5 L258.3,33.1 L259.2,48.3 L260.2,17.9 L261.1,50.6 L262.0,42.4 L263.0,41.0 L263.9,42.3 L264.8,38.7 L265.8,42.0 L266.7,47.5 L267.6,32.7 L268.5,32.4 L269.5,52.3 L270.4,27.3 L271.3,31.8 L272.3,51.1 L273.2,47.5 L274.1,25.3 L275.0,25.7 L276.0,40.7 L276.9,49.9 L277.8,17.2 L278.8,39.4 L279.7,36.2 L280.6,38.0 L281.5,23.9 L282.5,19.8 L283.4,38.0 L284.3,20.3 L285.3,22.3 L286.2,19.5 L287.1,49.3 L288.1,32.2 L289.0,38.2 L289.9,27.5 L290.8,31.0 L291.8,33.1 L292.7,23.7 L293.6,28.1 L294.6,39.0 L295.5,41.7 L296.4,52.3 L297.3,19.4 L298.3,24.1 L299.2,6.7 L300.1,40.2 L301.1,37.0 L302.0,38.4 L302.9,37.6 L303.8,34.7 L304.8,35.9 L305.7,23.4 L306.6,24.5 L307.6,24.7 L308.5,23.5 L309.4,33.1 L310.4,45.3 L311.3,17.9 L312.2,28.5 L313.1,50.4 L314.1,34.7 L315.0,26.6" fill="none" stroke="#73bf69" stroke-width="1.1" stroke-linejoin="round"/></svg></div><div style="position:absolute;left:262px;top:351.0px;font-size:10.5px;line-height:12.5px;color:#b8bac2;font-weight:400;white-space:nowrap;width:26px;text-align:right">40</div><div style="position:absolute;left:262px;top:394.2px;font-size:10.5px;line-height:12.5px;color:#b8bac2;font-weight:400;white-space:nowrap;width:26px;text-align:right">20</div><div style="position:absolute;left:381.95px;top:416px;font-size:10.5px;line-height:12.5px;color:#b8bac2;font-weight:400;white-space:nowrap;">10:00</div><div style="position:absolute;left:485.9px;top:416px;font-size:10.5px;line-height:12.5px;color:#b8bac2;font-weight:400;white-space:nowrap;">10:05</div><div style="position:absolute;left:588.275px;top:416px;font-size:10.5px;line-height:12.5px;color:#b8bac2;font-weight:400;white-space:nowrap;">10:1</div><div style="position:absolute;left:276px;top:439px;width:12px;height:4px;background:#6aa85c;border-radius:2px"></div><div style="position:absolute;left:293px;top:433px;font-size:10.5px;line-height:12.5px;color:#c4c6cf;font-weight:400;white-space:nowrap;">Value</div><div style="position:absolute;left:626px;top:290px;width:358px;height:166px;background:#1b1c21;border:1px solid #26282d;border-radius:3px;box-sizing:border-box"></div><div style="position:absolute;left:636px;top:298px;font-size:12.5px;line-height:14.5px;color:#d8d9e0;font-weight:500;white-space:nowrap;">caller</div><div style="position:absolute;left:934px;top:300px;width:40px;height:21px;background:#2b2d33;border:1px solid #34363c;border-radius:2px;box-sizing:border-box;"><div style="position:absolute;left:0;right:0;top:0;bottom:0;display:flex;align-items:center;justify-content:center;font-size:10.5px;color:#d0d1d8;font-weight:500;white-space:nowrap">Select</div></div><div style="position:absolute;left:660px;top:340px;width:312px;height:47px;border-left:1px solid #25272c"></div><div style="position:absolute;left:660px;top:340px;width:312px;height:47px"><svg width="312" height="47" viewBox="0 0 279 47" preserveAspectRatio="none" style="position:absolute;display:block;overflow:visible"><path d="M0,47 0,11 1,10 2,10 3,12 4,9 5,9 6,13 7,13 8,8 9,15 10,11 11,10 12,10 13,15 14,10 15,10 16,14 17,10 18,12 19,12 20,8 21,9 22,13 23,11 24,10 25,14 26,16 27,11 28,12 29,13 30,5 31,8 32,11 33,12 34,11 35,11 36,6 37,10 38,10 39,9 40,10 41,10 42,10 43,15 44,15 45,8 46,13 47,9 48,10 49,15 50,12 51,15 52,13 53,8 54,13 55,12 56,12 57,14 58,12 59,9 60,10 61,12 62,9 63,11 64,10 65,9 66,12 67,12 68,6 69,11 70,10 71,10 72,11 73,12 74,13 75,10 76,16 77,14 78,11 79,14 80,12 81,16 82,12 83,7 84,12 85,13 86,12 87,13 88,10 89,9 90,11 91,10 92,12 93,13 94,12 95,14 96,14 97,13 98,7 99,13 100,12 101,15 102,11 103,10 104,10 105,7 106,11 107,10 108,11 109,8 110,13 111,15 112,12 113,11 114,8 115,15 116,10 117,10 118,8 119,6 120,10 121,12 122,11 123,10 124,13 125,11 126,9 127,15 128,12 129,13 130,13 131,11 132,11 133,10 134,10 135,9 136,13 137,12 138,12 139,14 140,10 141,10 142,7 143,13 144,13 145,9 146,13 147,6 148,7 149,7 150,10 151,12 152,13 153,12 154,13 155,14 156,18 157,16 158,14 159,9 160,12 161,12 162,11 163,14 164,11 165,10 166,13 167,8 168,15 169,11 170,11 171,13 172,8 173,9 174,11 175,12 176,8 177,10 178,16 179,15 180,12 181,11 182,10 183,9 184,10 185,13 186,11 187,14 188,11 189,8 190,10 191,12 192,12 193,13 194,10 195,12 196,8 197,9 198,14 199,12 200,11 201,12 202,14 203,10 204,9 205,5 206,12 207,12 208,11 209,10 210,9 211,12 212,12 213,9 214,11 215,15 216,12 217,12 218,9 219,10 220,7 221,9 222,6 223,11 224,13 225,11 226,9 227,12 228,10 229,12 230,11 231,15 232,9 233,10 234,10 235,9 236,10 237,9 238,13 239,15 240,12 241,13 242,16 243,13 244,14 245,12 246,9 247,9 248,12 249,9 250,12 251,15 252,10 253,11 254,8 255,10 256,11 257,11 258,13 259,9 260,13 261,13 262,10 263,9 264,8 265,11 266,12 267,9 268,12 269,12 270,14 271,14 272,16 273,12 274,9 275,12 276,12 277,15 278,16 279,10 279,47Z" fill="#a874d4"/><path d="M0,47 0,15 1,16 2,17 3,15 4,16 5,15 6,16 7,19 8,15 9,18 10,16 11,16 12,13 13,19 14,15 15,14 16,19 17,17 18,17 19,17 20,13 21,16 22,19 23,16 24,15 25,16 26,21 27,15 28,16 29,17 30,12 31,15 32,18 33,18 34,15 35,15 36,12 37,15 38,14 39,15 40,16 41,15 42,16 43,19 44,19 45,15 46,17 47,14 48,15 49,18 50,15 51,18 52,17 53,14 54,18 55,16 56,17 57,18 58,18 59,15 60,16 61,17 62,16 63,16 64,17 65,16 66,16 67,15 68,12 69,17 70,16 71,16 72,17 73,16 74,18 75,17 76,20 77,18 78,16 79,19 80,18 81,21 82,16 83,14 84,17 85,17 86,17 87,16 88,15 89,15 90,17 91,15 92,18 93,16 94,16 95,17 96,18 97,17 98,13 99,19 100,17 101,19 102,16 103,15 104,14 105,11 106,15 107,15 108,16 109,16 110,18 111,17 112,17 113,13 114,13 115,18 116,12 117,14 118,15 119,12 120,17 121,16 122,15 123,17 124,17 125,16 126,13 127,18 128,18 129,18 130,19 131,17 132,18 133,15 134,14 135,11 136,16 137,16 138,17 139,18 140,17 141,15 142,13 143,18 144,18 145,13 146,17 147,12 148,13 149,13 150,16 151,16 152,19 153,18 154,18 155,19 156,21 157,20 158,19 159,13 160,17 161,18 162,17 163,17 164,14 165,17 166,18 167,12 168,18 169,15 170,17 171,17 172,12 173,13 174,16 175,18 176,14 177,15 178,19 179,18 180,17 181,16 182,15 183,15 184,18 185,20 186,17 187,17 188,16 189,14 190,16 191,15 192,18 193,17 194,14 195,18 196,15 197,16 198,19 199,17 200,17 201,17 202,17 203,15 204,15 205,13 206,18 207,16 208,13 209,16 210,16 211,16 212,15 213,15 214,16 215,18 216,15 217,17 218,15 219,16 220,12 221,14 222,13 223,16 224,20 225,15 226,15 227,17 228,15 229,17 230,15 231,18 232,15 233,16 234,16 235,14 236,15 237,14 238,17 239,20 240,16 241,17 242,20 243,17 244,19 245,18 246,16 247,17 248,18 249,14 250,16 251,19 252,15 253,16 254,14 255,14 256,15 257,16 258,17 259,14 260,17 261,18 262,16 263,15 264,14 265,15 266,14 267,12 268,15 269,15 270,18 271,18 272,19 273,16 274,15 275,16 276,17 277,20 278,20 279,14 279,47Z" fill="#4c74d8"/><path d="M0,47 0,17 1,18 2,19 3,18 4,18 5,17 6,17 7,21 8,17 9,19 10,18 11,19 12,15 13,21 14,17 15,16 16,20 17,18 18,18 19,18 20,16 21,17 22,20 23,17 24,17 25,17 26,22 27,17 28,18 29,18 30,14 31,17 32,19 33,20 34,18 35,18 36,14 37,17 38,16 39,16 40,18 41,17 42,19 43,20 44,20 45,18 46,20 47,15 48,16 49,18 50,17 51,20 52,18 53,16 54,20 55,18 56,19 57,19 58,19 59,18 60,18 61,17 62,18 63,18 64,19 65,19 66,19 67,18 68,14 69,19 70,18 71,18 72,19 73,18 74,21 75,18 76,22 77,20 78,18 79,20 80,21 81,23 82,18 83,15 84,20 85,18 86,18 87,20 88,16 89,17 90,18 91,16 92,20 93,20 94,19 95,18 96,20 97,19 98,15 99,20 100,19 101,21 102,17 103,18 104,16 105,15 106,17 107,18 108,18 109,18 110,20 111,19 112,18 113,17 114,17 115,21 116,14 117,17 118,17 119,14 120,19 121,19 122,17 123,19 124,19 125,19 126,16 127,19 128,20 129,18 130,20 131,18 132,20 133,18 134,16 135,14 136,18 137,17 138,19 139,21 140,20 141,18 142,17 143,20 144,20 145,16 146,18 147,14 148,16 149,16 150,19 151,19 152,20 153,20 154,19 155,21 156,22 157,21 158,21 159,16 160,18 161,18 162,19 163,19 164,16 165,18 166,20 167,15 168,20 169,18 170,18 171,20 172,15 173,15 174,18 175,19 176,16 177,18 178,20 179,20 180,19 181,18 182,18 183,18 184,20 185,21 186,17 187,19 188,18 189,15 190,17 191,18 192,20 193,19 194,17 195,20 196,17 197,18 198,21 199,19 200,19 201,19 202,19 203,16 204,18 205,14 206,19 207,18 208,16 209,18 210,17 211,17 212,17 213,17 214,18 215,19 216,17 217,19 218,17 219,18 220,14 221,17 222,14 223,18 224,21 225,17 226,16 227,18 228,17 229,19 230,16 231,20 232,17 233,17 234,18 235,16 236,18 237,16 238,19 239,21 240,18 241,18 242,22 243,20 244,22 245,20 246,18 247,17 248,20 249,16 250,18 251,20 252,17 253,19 254,16 255,15 256,17 257,19 258,19 259,17 260,19 261,19 262,18 263,17 264,16 265,19 266,18 267,14 268,17 269,18 270,20 271,20 272,20 273,19 274,18 275,18 276,19 277,22 278,21 279,15 279,47Z" fill="#ef8534"/><path d="M0,47 0,19 1,21 2,21 3,20 4,20 5,20 6,19 7,24 8,20 9,23 10,21 11,22 12,18 13,24 14,20 15,20 16,22 17,20 18,22 19,20 20,20 21,20 22,23 23,20 24,21 25,21 26,24 27,21 28,21 29,22 30,18 31,20 32,22 33,22 34,22 35,21 36,18 37,20 38,20 39,19 40,21 41,20 42,21 43,23 44,23 45,21 46,22 47,18 48,20 49,21 50,20 51,22 52,20 53,19 54,23 55,21 56,22 57,22 58,22 59,21 60,21 61,21 62,20 63,22 64,21 65,21 66,23 67,22 68,17 69,23 70,20 71,21 72,21 73,21 74,23 75,22 76,24 77,23 78,21 79,22 80,24 81,25 82,21 83,19 84,24 85,21 86,20 87,21 88,20 89,19 90,22 91,20 92,22 93,22 94,22 95,20 96,23 97,22 98,18 99,23 100,22 101,23 102,21 103,21 104,19 105,18 106,20 107,21 108,20 109,22 110,24 111,21 112,22 113,20 114,20 115,24 116,18 117,20 118,21 119,18 120,21 121,21 122,20 123,22 124,21 125,21 126,20 127,22 128,23 129,22 130,23 131,20 132,22 133,21 134,19 135,17 136,22 137,21 138,22 139,24 140,23 141,21 142,21 143,22 144,22 145,18 146,21 147,18 148,18 149,18 150,23 151,22 152,23 153,23 154,21 155,23 156,25 157,25 158,23 159,19 160,22 161,22 162,23 163,22 164,19 165,20 166,22 167,18 168,22 169,22 170,22 171,22 172,19 173,18 174,21 175,22 176,19 177,20 178,23 179,22 180,23 181,21 182,21 183,20 184,23 185,23 186,21 187,22 188,21 189,18 190,21 191,21 192,21 193,22 194,21 195,22 196,20 197,21 198,23 199,22 200,23 201,22 202,23 203,18 204,20 205,18 206,22 207,21 208,20 209,20 210,21 211,20 212,19 213,20 214,21 215,22 216,21 217,22 218,21 219,22 220,19 221,20 222,17 223,21 224,23 225,21 226,20 227,21 228,20 229,21 230,19 231,22 232,19 233,20 234,21 235,19 236,21 237,18 238,21 239,24 240,22 241,20 242,23 243,24 244,24 245,23 246,20 247,21 248,23 249,19 250,20 251,22 252,19 253,21 254,20 255,20 256,21 257,22 258,22 259,20 260,22 261,23 262,22 263,19 264,18 265,22 266,20 267,17 268,20 269,22 270,22 271,22 272,22 273,22 274,21 275,21 276,22 277,24 278,23 279,18 279,47Z" fill="#8db6f5"/><path d="M0,47 0,40 1,42 2,38 3,39 4,39 5,39 6,38 7,40 8,40 9,38 10,41 11,40 12,38 13,39 14,40 15,39 16,39 17,37 18,39 19,38 20,38 21,39 22,39 23,37 24,40 25,39 26,42 27,39 28,37 29,39 30,37 31,40 32,39 33,39 34,40 35,39 36,38 37,37 38,39 39,37 40,38 41,39 42,39 43,40 44,39 45,40 46,40 47,39 48,39 49,39 50,39 51,39 52,40 53,39 54,40 55,39 56,38 57,38 58,39 59,37 60,39 61,40 62,39 63,38 64,39 65,41 66,40 67,39 68,37 69,41 70,39 71,39 72,40 73,40 74,39 75,39 76,40 77,41 78,39 79,39 80,40 81,40 82,39 83,37 84,41 85,40 86,38 87,39 88,38 89,39 90,40 91,39 92,39 93,40 94,40 95,39 96,40 97,39 98,37 99,40 100,38 101,41 102,39 103,38 104,37 105,37 106,37 107,40 108,40 109,40 110,41 111,41 112,40 113,38 114,38 115,40 116,38 117,41 118,41 119,37 120,40 121,40 122,38 123,38 124,39 125,41 126,40 127,39 128,40 129,40 130,41 131,40 132,39 133,39 134,39 135,37 136,41 137,40 138,39 139,39 140,41 141,41 142,40 143,39 144,39 145,38 146,40 147,37 148,38 149,39 150,40 151,40 152,40 153,40 154,40 155,40 156,41 157,40 158,41 159,39 160,40 161,39 162,41 163,40 164,38 165,40 166,41 167,38 168,40 169,40 170,39 171,40 172,37 173,38 174,39 175,39 176,38 177,39 178,39 179,40 180,39 181,40 182,39 183,39 184,40 185,38 186,38 187,38 188,38 189,38 190,39 191,39 192,37 193,40 194,39 195,41 196,38 197,40 198,41 199,39 200,41 201,41 202,41 203,38 204,39 205,39 206,40 207,39 208,40 209,40 210,39 211,38 212,38 213,38 214,37 215,40 216,39 217,41 218,38 219,38 220,39 221,38 222,36 223,40 224,41 225,39 226,39 227,40 228,40 229,39 230,37 231,39 232,39 233,38 234,38 235,37 236,40 237,37 238,39 239,40 240,40 241,39 242,40 243,41 244,42 245,39 246,40 247,37 248,39 249,39 250,38 251,40 252,39 253,39 254,38 255,38 256,38 257,41 258,41 259,39 260,40 261,41 262,39 263,38 264,38 265,39 266,38 267,37 268,37 269,39 270,39 271,39 272,40 273,38 274,40 275,40 276,37 277,41 278,39 279,37 279,47Z" fill="#ecc53f"/><path d="M0,47 0,43 1,44 2,40 3,41 4,42 5,42 6,41 7,43 8,43 9,42 10,43 11,43 12,40 13,42 14,43 15,42 16,43 17,40 18,42 19,42 20,42 21,41 22,43 23,40 24,42 25,42 26,44 27,42 28,40 29,42 30,41 31,43 32,43 33,42 34,43 35,41 36,42 37,41 38,43 39,41 40,42 41,42 42,42 43,43 44,42 45,42 46,44 47,42 48,42 49,42 50,42 51,42 52,42 53,43 54,42 55,42 56,41 57,41 58,41 59,41 60,42 61,42 62,42 63,41 64,43 65,43 66,43 67,41 68,41 69,43 70,43 71,42 72,42 73,42 74,42 75,42 76,43 77,44 78,42 79,42 80,43 81,43 82,43 83,41 84,43 85,43 86,42 87,41 88,41 89,42 90,44 91,42 92,43 93,43 94,42 95,41 96,43 97,42 98,41 99,43 100,41 101,43 102,43 103,42 104,41 105,41 106,42 107,42 108,43 109,43 110,44 111,43 112,43 113,40 114,41 115,43 116,42 117,43 118,43 119,42 120,42 121,43 122,41 123,41 124,42 125,43 126,42 127,42 128,43 129,43 130,44 131,43 132,43 133,43 134,42 135,41 136,43 137,42 138,43 139,42 140,43 141,44 142,43 143,41 144,41 145,41 146,42 147,41 148,41 149,42 150,42 151,43 152,43 153,43 154,42 155,43 156,44 157,43 158,43 159,41 160,42 161,42 162,43 163,43 164,42 165,43 166,44 167,41 168,42 169,43 170,41 171,42 172,40 173,41 174,42 175,42 176,41 177,42 178,43 179,43 180,41 181,43 182,42 183,43 184,43 185,42 186,42 187,41 188,41 189,42 190,42 191,41 192,40 193,43 194,42 195,43 196,41 197,43 198,43 199,43 200,44 201,43 202,43 203,41 204,42 205,42 206,43 207,41 208,42 209,42 210,42 211,41 212,42 213,41 214,41 215,43 216,42 217,44 218,41 219,41 220,41 221,42 222,40 223,43 224,44 225,42 226,41 227,43 228,42 229,43 230,41 231,43 232,41 233,41 234,41 235,42 236,43 237,41 238,43 239,43 240,43 241,42 242,43 243,43 244,44 245,41 246,44 247,41 248,42 249,42 250,41 251,43 252,41 253,42 254,40 255,41 256,42 257,44 258,44 259,42 260,43 261,44 262,42 263,41 264,41 265,42 266,41 267,41 268,41 269,42 270,42 271,42 272,42 273,41 274,42 275,43 276,41 277,43 278,42 279,41 279,47Z" fill="#6aa85c"/></svg></div><div style="position:absolute;left:630px;top:347.1px;font-size:10.5px;line-height:12.5px;color:#b8bac2;font-weight:400;white-space:nowrap;width:26px;text-align:right">500</div><div style="position:absolute;left:748.96px;top:391px;font-size:10.5px;line-height:12.5px;color:#b8bac2;font-weight:400;white-space:nowrap;">10:00</div><div style="position:absolute;left:851.9200000000001px;top:391px;font-size:10.5px;line-height:12.5px;color:#b8bac2;font-weight:400;white-space:nowrap;">10:05</div><div style="position:absolute;left:953.3199999999999px;top:391px;font-size:10.5px;line-height:12.5px;color:#b8bac2;font-weight:400;white-space:nowrap;">10:1</div><div style="position:absolute;left:640px;top:414px;width:12px;height:4px;background:#6aa85c;border-radius:2px"></div><div style="position:absolute;left:657px;top:408px;font-size:10.5px;line-height:12.5px;color:#c4c6cf;font-weight:400;white-space:nowrap;">broadcast.go:48</div><div style="position:absolute;left:753px;top:414px;width:12px;height:4px;background:#ecc53f;border-radius:2px"></div><div style="position:absolute;left:770px;top:408px;font-size:10.5px;line-height:12.5px;color:#c4c6cf;font-weight:400;white-space:nowrap;">compactor.go:242</div><div style="position:absolute;left:870px;top:414px;width:12px;height:4px;background:#8db6f5;border-radius:2px"></div><div style="position:absolute;left:887px;top:408px;font-size:10.5px;line-height:12.5px;color:#c4c6cf;font-weight:400;white-space:nowrap;">flush.go:253</div><div style="position:absolute;left:640px;top:434px;width:12px;height:4px;background:#ef8534;border-radius:2px"></div><div style="position:absolute;left:657px;top:428px;font-size:10.5px;line-height:12.5px;color:#c4c6cf;font-weight:400;white-space:nowrap;">instance.go:43</div><div style="position:absolute;left:741px;top:434px;width:12px;height:4px;background:#d9444f;border-radius:2px"></div><div style="position:absolute;left:758px;top:428px;font-size:10.5px;line-height:12.5px;color:#c4c6cf;font-weight:400;white-space:nowrap;">main.go:107</div><div style="position:absolute;left:830px;top:434px;width:12px;height:4px;background:#4c74d8;border-radius:2px"></div><div style="position:absolute;left:847px;top:428px;font-size:10.5px;line-height:12.5px;color:#c4c6cf;font-weight:400;white-space:nowrap;">memcached.go:153</div><div style="position:absolute;left:991px;top:290px;width:359px;height:166px;background:#1b1c21;border:1px solid #26282d;border-radius:3px;box-sizing:border-box"></div><div style="position:absolute;left:1001px;top:298px;font-size:12.5px;line-height:14.5px;color:#d8d9e0;font-weight:500;white-space:nowrap;">err</div><div style="position:absolute;left:1300px;top:300px;width:40px;height:21px;background:#2b2d33;border:1px solid #34363c;border-radius:2px;box-sizing:border-box;"><div style="position:absolute;left:0;right:0;top:0;bottom:0;display:flex;align-items:center;justify-content:center;font-size:10.5px;color:#d0d1d8;font-weight:500;white-space:nowrap">Select</div></div><div style="position:absolute;left:1025px;top:340px;width:314px;height:46px;border-left:1px solid #25272c"></div><div style="position:absolute;left:1025px;top:340px;width:314px;height:46px"><svg width="314" height="46" viewBox="0 0 279 46" preserveAspectRatio="none" style="position:absolute;display:block;overflow:visible"><path d="M0,46 0,1 1,6 2,7 3,9 4,12 5,7 6,10 7,8 8,5 9,1 10,11 11,9 12,7 13,6 14,8 15,10 16,6 17,4 18,8 19,14 20,11 21,9 22,6 23,9 24,8 25,10 26,11 27,10 28,8 29,10 30,9 31,5 32,13 33,7 34,15 35,10 36,9 37,15 38,7 39,3 40,10 41,7 42,10 43,11 44,11 45,0 46,3 47,4 48,4 49,6 50,0 51,6 52,12 53,5 54,12 55,9 56,4 57,13 58,8 59,9 60,9 61,10 62,5 63,12 64,9 65,11 66,6 67,14 68,11 69,8 70,4 71,7 72,12 73,9 74,13 75,10 76,8 77,9 78,13 79,7 80,9 81,3 82,12 83,8 84,4 85,13 86,11 87,7 88,10 89,9 90,8 91,16 92,8 93,11 94,13 95,14 96,14 97,10 98,2 99,3 100,10 101,11 102,16 103,10 104,9 105,3 106,8 107,11 108,5 109,9 110,12 111,4 112,15 113,4 114,11 115,8 116,14 117,8 118,5 119,9 120,3 121,7 122,11 123,4 124,12 125,9 126,10 127,10 128,14 129,9 130,10 131,5 132,6 133,9 134,15 135,12 136,6 137,5 138,6 139,8 140,9 141,10 142,7 143,4 144,11 145,11 146,0 147,7 148,7 149,4 150,3 151,8 152,7 153,10 154,13 155,13 156,9 157,7 158,4 159,7 160,11 161,5 162,8 163,12 164,14 165,13 166,4 167,5 168,10 169,10 170,11 171,8 172,11 173,2 174,0 175,9 176,11 177,0 178,7 179,6 180,11 181,13 182,12 183,10 184,2 185,12 186,10 187,11 188,7 189,8 190,7 191,7 192,7 193,14 194,14 195,7 196,14 197,2 198,5 199,8 200,9 201,6 202,5 203,7 204,12 205,9 206,9 207,0 208,8 209,6 210,6 211,5 212,8 213,8 214,9 215,14 216,15 217,4 218,9 219,10 220,4 221,10 222,6 223,10 224,9 225,11 226,7 227,5 228,11 229,8 230,9 231,4 232,5 233,9 234,12 235,13 236,10 237,5 238,8 239,6 240,0 241,7 242,8 243,11 244,9 245,9 246,15 247,7 248,5 249,7 250,1 251,10 252,11 253,9 254,8 255,7 256,9 257,10 258,12 259,10 260,9 261,12 262,7 263,7 264,12 265,14 266,11 267,8 268,15 269,9 270,13 271,4 272,0 273,10 274,6 275,12 276,14 277,14 278,9 279,15 279,46Z" fill="#d9444f"/><path d="M0,46 0,14 1,12 2,11 3,14 4,15 5,15 6,16 7,14 8,11 9,10 10,16 11,16 12,14 13,10 14,11 15,17 16,13 17,15 18,16 19,19 20,20 21,18 22,14 23,15 24,14 25,16 26,16 27,15 28,16 29,15 30,15 31,9 32,17 33,12 34,16 35,15 36,14 37,17 38,12 39,5 40,16 41,14 42,14 43,18 44,15 45,5 46,15 47,12 48,12 49,13 50,10 51,15 52,17 53,12 54,18 55,19 56,10 57,17 58,14 59,16 60,13 61,14 62,13 63,20 64,16 65,20 66,15 67,18 68,15 69,14 70,12 71,14 72,14 73,15 74,16 75,15 76,13 77,16 78,17 79,13 80,15 81,12 82,17 83,15 84,13 85,17 86,18 87,13 88,18 89,15 90,17 91,19 92,16 93,19 94,16 95,17 96,20 97,17 98,16 99,11 100,13 101,15 102,19 103,18 104,16 105,10 106,14 107,17 108,13 109,14 110,16 111,11 112,19 113,11 114,14 115,15 116,17 117,14 118,7 119,13 120,15 121,13 122,18 123,13 124,19 125,15 126,14 127,12 128,17 129,17 130,17 131,15 132,15 133,18 134,19 135,18 136,13 137,13 138,11 139,14 140,15 141,15 142,14 143,15 144,18 145,15 146,3 147,14 148,16 149,14 150,13 151,16 152,15 153,17 154,17 155,16 156,16 157,12 158,10 159,14 160,18 161,12 162,16 163,19 164,19 165,21 166,11 167,13 168,15 169,16 170,16 171,12 172,18 173,11 174,9 175,19 176,17 177,11 178,15 179,12 180,15 181,16 182,16 183,12 184,11 185,15 186,19 187,14 188,13 189,17 190,12 191,14 192,15 193,18 194,17 195,12 196,18 197,14 198,13 199,14 200,13 201,15 202,11 203,12 204,17 205,13 206,13 207,3 208,12 209,14 210,16 211,10 212,16 213,14 214,13 215,19 216,19 217,10 218,15 219,14 220,10 221,13 222,11 223,13 224,17 225,20 226,14 227,10 228,16 229,16 230,13 231,11 232,13 233,15 234,16 235,16 236,16 237,14 238,12 239,13 240,6 241,9 242,13 243,17 244,13 245,17 246,18 247,15 248,11 249,13 250,12 251,19 252,15 253,17 254,13 255,15 256,15 257,15 258,18 259,16 260,15 261,16 262,15 263,17 264,18 265,19 266,15 267,16 268,17 269,14 270,19 271,12 272,6 273,17 274,15 275,16 276,21 277,19 278,15 279,18 279,46Z" fill="#ef8534"/><path d="M0,46 0,27 1,26 2,22 3,22 4,24 5,25 6,26 7,25 8,23 9,23 10,24 11,27 12,25 13,22 14,22 15,24 16,25 17,23 18,24 19,26 20,28 21,30 22,23 23,23 24,26 25,26 26,26 27,26 28,24 29,25 30,26 31,24 32,24 33,25 34,25 35,25 36,21 37,25 38,25 39,23 40,28 41,26 42,27 43,24 44,28 45,24 46,24 47,23 48,21 49,25 50,24 51,23 52,23 53,24 54,25 55,27 56,24 57,27 58,24 59,26 60,22 61,27 62,25 63,27 64,26 65,29 66,25 67,27 68,24 69,26 70,23 71,24 72,25 73,25 74,24 75,25 76,24 77,24 78,27 79,23 80,23 81,22 82,23 83,25 84,23 85,27 86,26 87,23 88,24 89,25 90,27 91,26 92,26 93,28 94,25 95,23 96,28 97,27 98,25 99,23 100,25 101,24 102,29 103,25 104,26 105,23 106,24 107,24 108,25 109,27 110,27 111,25 112,29 113,23 114,24 115,25 116,25 117,26 118,21 119,24 120,23 121,24 122,23 123,24 124,26 125,27 126,23 127,25 128,25 129,27 130,25 131,26 132,24 133,25 134,25 135,25 136,23 137,26 138,23 139,21 140,24 141,25 142,23 143,24 144,26 145,25 146,22 147,26 148,25 149,25 150,26 151,25 152,23 153,26 154,27 155,25 156,26 157,25 158,19 159,23 160,26 161,24 162,27 163,28 164,27 165,29 166,24 167,24 168,25 169,26 170,28 171,26 172,26 173,21 174,20 175,27 176,24 177,23 178,25 179,26 180,26 181,25 182,24 183,23 184,23 185,25 186,27 187,23 188,25 189,24 190,26 191,26 192,24 193,25 194,23 195,26 196,24 197,24 198,21 199,25 200,24 201,25 202,24 203,21 204,27 205,25 206,25 207,21 208,24 209,25 210,27 211,23 212,27 213,22 214,24 215,29 216,26 217,22 218,24 219,25 220,25 221,24 222,22 223,26 224,23 225,27 226,25 227,23 228,25 229,27 230,25 231,27 232,25 233,25 234,28 235,29 236,26 237,23 238,23 239,25 240,22 241,20 242,21 243,27 244,26 245,28 246,28 247,24 248,24 249,24 250,23 251,25 252,27 253,26 254,25 255,25 256,27 257,24 258,28 259,27 260,25 261,27 262,26 263,28 264,26 265,26 266,29 267,26 268,31 269,25 270,27 271,26 272,26 273,25 274,27 275,24 276,29 277,28 278,25 279,29 279,46Z" fill="#8db6f5"/><path d="M0,46 0,34 1,32 2,29 3,31 4,30 5,32 6,35 7,32 8,30 9,31 10,33 11,34 12,31 13,32 14,30 15,31 16,32 17,30 18,32 19,34 20,34 21,35 22,30 23,32 24,31 25,32 26,33 27,34 28,32 29,31 30,31 31,33 32,32 33,30 34,32 35,32 36,30 37,33 38,31 39,30 40,34 41,33 42,34 43,32 44,32 45,32 46,31 47,30 48,30 49,33 50,33 51,29 52,30 53,30 54,31 55,34 56,33 57,35 58,32 59,33 60,30 61,34 62,31 63,33 64,31 65,35 66,31 67,33 68,30 69,34 70,31 71,30 72,31 73,33 74,31 75,32 76,31 77,32 78,35 79,32 80,30 81,31 82,31 83,32 84,30 85,32 86,34 87,32 88,31 89,32 90,34 91,33 92,33 93,35 94,31 95,32 96,33 97,33 98,33 99,30 100,32 101,32 102,34 103,32 104,34 105,29 106,31 107,32 108,35 109,33 110,33 111,33 112,35 113,33 114,31 115,33 116,31 117,32 118,29 119,32 120,30 121,31 122,31 123,30 124,31 125,32 126,30 127,32 128,31 129,33 130,32 131,30 132,32 133,34 134,33 135,32 136,31 137,32 138,32 139,29 140,31 141,32 142,31 143,32 144,34 145,32 146,30 147,33 148,32 149,33 150,32 151,32 152,30 153,32 154,32 155,33 156,32 157,32 158,29 159,32 160,34 161,30 162,32 163,35 164,33 165,34 166,31 167,30 168,33 169,31 170,35 171,34 172,32 173,30 174,30 175,34 176,31 177,31 178,31 179,32 180,32 181,31 182,29 183,32 184,31 185,31 186,33 187,30 188,32 189,30 190,33 191,34 192,33 193,32 194,31 195,33 196,32 197,32 198,29 199,33 200,32 201,31 202,31 203,30 204,33 205,32 206,31 207,30 208,30 209,31 210,32 211,29 212,32 213,30 214,30 215,35 216,32 217,30 218,33 219,33 220,32 221,30 222,30 223,32 224,29 225,32 226,31 227,32 228,31 229,31 230,30 231,32 232,33 233,33 234,34 235,34 236,34 237,29 238,30 239,33 240,32 241,30 242,30 243,32 244,34 245,34 246,33 247,32 248,31 249,31 250,31 251,33 252,34 253,33 254,31 255,31 256,32 257,32 258,34 259,32 260,32 261,32 262,34 263,34 264,32 265,32 266,35 267,33 268,35 269,31 270,33 271,33 272,33 273,30 274,33 275,33 276,36 277,33 278,33 279,33 279,46Z" fill="#ecc53f"/><path d="M0,46 0,40 1,38 2,39 3,40 4,41 5,40 6,42 7,41 8,41 9,39 10,41 11,42 12,41 13,39 14,39 15,40 16,40 17,40 18,40 19,41 20,40 21,42 22,40 23,39 24,39 25,38 26,40 27,40 28,40 29,39 30,39 31,40 32,39 33,40 34,40 35,41 36,39 37,41 38,39 39,40 40,41 41,41 42,41 43,42 44,39 45,40 46,40 47,39 48,40 49,40 50,41 51,39 52,41 53,40 54,40 55,41 56,40 57,41 58,39 59,41 60,39 61,40 62,40 63,41 64,40 65,40 66,40 67,40 68,38 69,40 70,39 71,39 72,39 73,40 74,39 75,39 76,40 77,39 78,41 79,39 80,39 81,40 82,40 83,41 84,40 85,40 86,41 87,39 88,40 89,41 90,40 91,42 92,41 93,41 94,40 95,41 96,40 97,41 98,40 99,39 100,40 101,40 102,41 103,39 104,39 105,38 106,41 107,40 108,42 109,40 110,38 111,40 112,41 113,40 114,42 115,39 116,39 117,39 118,40 119,40 120,40 121,42 122,41 123,38 124,41 125,39 126,39 127,40 128,42 129,41 130,40 131,40 132,40 133,41 134,40 135,41 136,40 137,39 138,41 139,40 140,40 141,41 142,41 143,41 144,41 145,40 146,40 147,39 148,41 149,40 150,39 151,41 152,39 153,41 154,40 155,41 156,40 157,41 158,39 159,39 160,40 161,40 162,40 163,41 164,41 165,41 166,40 167,38 168,41 169,41 170,42 171,42 172,41 173,38 174,39 175,40 176,40 177,40 178,41 179,41 180,41 181,39 182,38 183,39 184,39 185,39 186,40 187,39 188,41 189,40 190,41 191,41 192,40 193,41 194,39 195,41 196,40 197,40 198,38 199,39 200,39 201,39 202,41 203,38 204,41 205,39 206,39 207,40 208,39 209,39 210,41 211,38 212,39 213,39 214,38 215,41 216,41 217,40 218,42 219,39 220,41 221,39 222,39 223,41 224,39 225,40 226,40 227,41 228,40 229,41 230,39 231,40 232,41 233,40 234,41 235,41 236,42 237,39 238,39 239,41 240,40 241,40 242,38 243,41 244,41 245,41 246,41 247,40 248,40 249,41 250,40 251,40 252,41 253,41 254,40 255,39 256,41 257,40 258,41 259,40 260,40 261,40 262,41 263,40 264,41 265,41 266,41 267,42 268,41 269,39 270,40 271,41 272,39 273,38 274,42 275,41 276,42 277,40 278,41 279,40 279,46Z" fill="#6aa85c"/></svg></div><div style="position:absolute;left:995px;top:339.9px;font-size:10.5px;line-height:12.5px;color:#b8bac2;font-weight:400;white-space:nowrap;width:26px;text-align:right">100</div><div style="position:absolute;left:995px;top:379.0px;font-size:10.5px;line-height:12.5px;color:#b8bac2;font-weight:400;white-space:nowrap;width:26px;text-align:right">0</div><div style="position:absolute;left:1114.62px;top:390px;font-size:10.5px;line-height:12.5px;color:#b8bac2;font-weight:400;white-space:nowrap;">10:00</div><div style="position:absolute;left:1218.24px;top:390px;font-size:10.5px;line-height:12.5px;color:#b8bac2;font-weight:400;white-space:nowrap;">10:05</div><div style="position:absolute;left:1320.29px;top:390px;font-size:10.5px;line-height:12.5px;color:#b8bac2;font-weight:400;white-space:nowrap;">10:1</div><div style="position:absolute;left:1005px;top:413px;width:12px;height:4px;background:#6aa85c;border-radius:2px"></div><div style="position:absolute;left:1022px;top:407px;font-size:10.5px;line-height:12.5px;color:#c4c6cf;font-weight:400;white-space:nowrap;">memcache: connect timeout to 117.79.188.113:11211</div><div style="position:absolute;left:1005px;top:433px;width:12px;height:4px;background:#ecc53f;border-radius:2px"></div><div style="position:absolute;left:1022px;top:427px;font-size:10.5px;line-height:12.5px;color:#c4c6cf;font-weight:400;white-space:nowrap;">memcache: connect timeout to 171.82.241.158:11211</div><div style="position:absolute;left:262px;top:462px;width:357px;height:166px;background:#1b1c21;border:1px solid #26282d;border-radius:3px;box-sizing:border-box"></div><div style="position:absolute;left:272px;top:470px;font-size:12.5px;line-height:14.5px;color:#d8d9e0;font-weight:500;white-space:nowrap;">key</div><div style="position:absolute;left:569px;top:472px;width:40px;height:21px;background:#2b2d33;border:1px solid #34363c;border-radius:2px;box-sizing:border-box;"><div style="position:absolute;left:0;right:0;top:0;bottom:0;display:flex;align-items:center;justify-content:center;font-size:10.5px;color:#d0d1d8;font-weight:500;white-space:nowrap">Select</div></div><div style="position:absolute;left:292px;top:494px;width:315px;height:90px;border-left:1px solid #25272c"></div><div style="position:absolute;left:292px;top:494px;width:315px;height:90px"><svg width="315" height="90" viewBox="0 0 279 90" preserveAspectRatio="none" style="position:absolute;display:block;overflow:visible"><path d="M0,90 0,48 1,57 2,54 3,61 4,58 5,54 6,54 7,37 8,59 9,53 10,42 11,41 12,42 13,63 14,34 15,39 16,32 17,51 18,66 19,42 20,62 21,46 22,51 23,48 24,53 25,56 26,61 27,34 28,55 29,61 30,41 31,35 32,49 33,47 34,56 35,49 36,58 37,54 38,58 39,52 40,55 41,44 42,48 43,53 44,57 45,56 46,54 47,20 48,43 49,31 50,48 51,57 52,39 53,46 54,59 55,42 56,59 57,59 58,32 59,52 60,48 61,44 62,43 63,39 64,37 65,55 66,15 67,55 68,35 69,42 70,30 71,48 72,39 73,50 74,52 75,42 76,55 77,53 78,42 79,43 80,36 81,58 82,60 83,54 84,47 85,60 86,50 87,59 88,51 89,40 90,37 91,43 92,57 93,36 94,56 95,50 96,55 97,12 98,49 99,45 100,38 101,43 102,51 103,41 104,49 105,40 106,31 107,26 108,36 109,38 110,39 111,56 112,47 113,46 114,38 115,36 116,39 117,44 118,41 119,49 120,50 121,52 122,55 123,54 124,51 125,59 126,43 127,38 128,45 129,57 130,45 131,37 132,49 133,51 134,53 135,41 136,40 137,37 138,30 139,31 140,55 141,35 142,43 143,30 144,44 145,47 146,50 147,32 148,42 149,53 150,31 151,44 152,42 153,49 154,47 155,58 156,39 157,13 158,45 159,37 160,42 161,53 162,37 163,31 164,31 165,43 166,48 167,39 168,46 169,27 170,49 171,44 172,32 173,56 174,53 175,49 176,26 177,43 178,38 179,51 180,39 181,41 182,42 183,42 184,53 185,15 186,36 187,45 188,44 189,41 190,49 191,51 192,50 193,45 194,55 195,47 196,39 197,43 198,35 199,48 200,34 201,23 202,32 203,30 204,29 205,45 206,42 207,26 208,54 209,49 210,36 211,0 212,53 213,39 214,19 215,22 216,27 217,30 218,21 219,48 220,56 221,29 222,47 223,42 224,42 225,50 226,55 227,36 228,41 229,32 230,23 231,34 232,23 233,40 234,47 235,28 236,53 237,39 238,37 239,44 240,14 241,39 242,31 243,50 244,10 245,52 246,40 247,40 248,41 249,42 250,42 251,20 252,39 253,50 254,37 255,27 256,44 257,24 258,39 259,25 260,39 261,31 262,34 263,39 264,36 265,38 266,37 267,47 268,31 269,37 270,34 271,43 272,47 273,21 274,22 275,37 276,29 277,28 278,44 279,40 279,90Z" fill="#6aa85c"/></svg></div><div style="position:absolute;left:262px;top:512.2px;font-size:10.5px;line-height:12.5px;color:#b8bac2;font-weight:400;white-space:nowrap;width:26px;text-align:right">225</div><div style="position:absolute;left:262px;top:541.0px;font-size:10.5px;line-height:12.5px;color:#b8bac2;font-weight:400;white-space:nowrap;width:26px;text-align:right">200</div><div style="position:absolute;left:262px;top:569.8px;font-size:10.5px;line-height:12.5px;color:#b8bac2;font-weight:400;white-space:nowrap;width:26px;text-align:right">175</div><div style="position:absolute;left:381.95px;top:588px;font-size:10.5px;line-height:12.5px;color:#b8bac2;font-weight:400;white-space:nowrap;">10:00</div><div style="position:absolute;left:485.9px;top:588px;font-size:10.5px;line-height:12.5px;color:#b8bac2;font-weight:400;white-space:nowrap;">10:05</div><div style="position:absolute;left:588.275px;top:588px;font-size:10.5px;line-height:12.5px;color:#b8bac2;font-weight:400;white-space:nowrap;">10:1</div><div style="position:absolute;left:276px;top:611px;width:12px;height:4px;background:#6aa85c;border-radius:2px"></div><div style="position:absolute;left:293px;top:605px;font-size:10.5px;line-height:12.5px;color:#c4c6cf;font-weight:400;white-space:nowrap;">collectors/compactor</div><div style="position:absolute;left:626px;top:462px;width:358px;height:166px;background:#1b1c21;border:1px solid #26282d;border-radius:3px;box-sizing:border-box"></div><div style="position:absolute;left:636px;top:470px;font-size:12.5px;line-height:14.5px;color:#d8d9e0;font-weight:500;white-space:nowrap;">level_extracted</div><div style="position:absolute;left:934px;top:472px;width:40px;height:21px;background:#2b2d33;border:1px solid #34363c;border-radius:2px;box-sizing:border-box;"><div style="position:absolute;left:0;right:0;top:0;bottom:0;display:flex;align-items:center;justify-content:center;font-size:10.5px;color:#d0d1d8;font-weight:500;white-space:nowrap">Select</div></div><div style="position:absolute;left:660px;top:494px;width:314px;height:88px;border-left:1px solid #25272c"></div><div style="position:absolute;left:660px;top:494px;width:314px;height:88px"><svg width="314" height="88" viewBox="0 0 279 88" preserveAspectRatio="none" style="position:absolute;display:block;overflow:visible"><path d="M0,88 0,17 1,15 2,19 3,23 4,17 5,16 6,18 7,22 8,16 9,22 10,16 11,15 12,19 13,12 14,14 15,17 16,25 17,18 18,24 19,23 20,20 21,16 22,13 23,21 24,18 25,21 26,18 27,22 28,20 29,20 30,20 31,15 32,10 33,16 34,23 35,15 36,25 37,23 38,14 39,19 40,17 41,21 42,21 43,18 44,13 45,21 46,15 47,17 48,21 49,21 50,21 51,17 52,15 53,17 54,23 55,14 56,11 57,16 58,22 59,14 60,16 61,14 62,15 63,17 64,24 65,14 66,19 67,20 68,20 69,16 70,16 71,16 72,21 73,17 74,18 75,20 76,24 77,21 78,23 79,15 80,15 81,12 82,22 83,22 84,20 85,18 86,22 87,18 88,17 89,18 90,19 91,20 92,21 93,22 94,23 95,21 96,16 97,16 98,16 99,11 100,17 101,19 102,20 103,15 104,15 105,19 106,19 107,15 108,15 109,18 110,15 111,19 112,12 113,18 114,11 115,21 116,19 117,20 118,20 119,13 120,11 121,18 122,17 123,17 124,19 125,12 126,15 127,23 128,18 129,17 130,16 131,18 132,18 133,13 134,22 135,14 136,17 137,16 138,15 139,21 140,16 141,18 142,19 143,18 144,21 145,14 146,16 147,17 148,17 149,19 150,22 151,14 152,17 153,12 154,17 155,18 156,22 157,24 158,17 159,22 160,23 161,23 162,18 163,19 164,15 165,20 166,20 167,16 168,19 169,17 170,16 171,12 172,17 173,16 174,19 175,19 176,18 177,19 178,14 179,17 180,21 181,17 182,25 183,19 184,19 185,19 186,18 187,17 188,21 189,21 190,14 191,14 192,15 193,11 194,20 195,18 196,16 197,18 198,17 199,14 200,19 201,18 202,15 203,23 204,17 205,21 206,16 207,24 208,14 209,18 210,16 211,20 212,19 213,16 214,24 215,25 216,12 217,15 218,19 219,19 220,18 221,12 222,17 223,12 224,11 225,18 226,27 227,19 228,18 229,17 230,19 231,22 232,19 233,17 234,20 235,22 236,20 237,8 238,17 239,18 240,18 241,19 242,16 243,22 244,22 245,17 246,20 247,20 248,15 249,21 250,25 251,17 252,17 253,12 254,15 255,22 256,20 257,15 258,18 259,19 260,16 261,18 262,15 263,16 264,14 265,17 266,19 267,20 268,19 269,20 270,18 271,14 272,20 273,21 274,19 275,7 276,16 277,19 278,12 279,22 279,88Z" fill="#d9444f"/><path d="M0,88 0,25 1,27 2,27 3,29 4,26 5,24 6,28 7,28 8,25 9,30 10,27 11,24 12,27 13,24 14,24 15,27 16,30 17,26 18,29 19,28 20,28 21,28 22,26 23,26 24,26 25,29 26,23 27,27 28,29 29,28 30,26 31,27 32,26 33,23 34,28 35,28 36,29 37,27 38,26 39,26 40,26 41,28 42,27 43,23 44,23 45,27 46,23 47,23 48,27 49,29 50,29 51,26 52,25 53,25 54,30 55,25 56,26 57,26 58,28 59,25 60,27 61,28 62,23 63,22 64,31 65,23 66,26 67,27 68,26 69,24 70,23 71,26 72,25 73,25 74,30 75,30 76,30 77,29 78,28 79,23 80,24 81,24 82,28 83,29 84,27 85,26 86,31 87,27 88,25 89,25 90,26 91,30 92,27 93,29 94,29 95,29 96,23 97,25 98,23 99,22 100,27 101,24 102,28 103,26 104,27 105,28 106,28 107,23 108,23 109,28 110,24 111,27 112,25 113,25 114,24 115,29 116,28 117,27 118,26 119,22 120,21 121,28 122,26 123,25 124,30 125,27 126,24 127,29 128,28 129,27 130,25 131,25 132,26 133,24 134,29 135,27 136,26 137,24 138,26 139,30 140,25 141,27 142,24 143,24 144,28 145,23 146,26 147,24 148,26 149,27 150,28 151,26 152,25 153,26 154,23 155,27 156,29 157,28 158,24 159,28 160,29 161,27 162,25 163,25 164,27 165,28 166,28 167,27 168,25 169,25 170,25 171,25 172,26 173,24 174,28 175,27 176,28 177,27 178,24 179,25 180,25 181,23 182,28 183,26 184,26 185,28 186,28 187,25 188,29 189,30 190,23 191,26 192,23 193,23 194,28 195,26 196,26 197,26 198,26 199,26 200,24 201,26 202,27 203,31 204,27 205,28 206,27 207,29 208,25 209,25 210,26 211,28 212,27 213,26 214,32 215,31 216,26 217,25 218,29 219,28 220,27 221,27 222,26 223,24 224,25 225,23 226,31 227,27 228,26 229,27 230,28 231,30 232,26 233,27 234,28 235,29 236,28 237,22 238,27 239,28 240,28 241,28 242,27 243,27 244,29 245,26 246,26 247,27 248,27 249,28 250,31 251,24 252,27 253,25 254,27 255,29 256,28 257,24 258,25 259,27 260,24 261,24 262,26 263,26 264,23 265,27 266,27 267,24 268,27 269,27 270,25 271,23 272,27 273,27 274,26 275,21 276,26 277,25 278,24 279,29 279,88Z" fill="#ef8534"/><path d="M0,88 0,33 1,33 2,32 3,36 4,33 5,31 6,34 7,35 8,34 9,35 10,35 11,34 12,33 13,32 14,33 15,36 16,37 17,35 18,38 19,36 20,37 21,35 22,34 23,35 24,36 25,37 26,33 27,35 28,38 29,35 30,34 31,34 32,34 33,32 34,35 35,33 36,34 37,34 38,35 39,35 40,35 41,35 42,34 43,32 44,32 45,35 46,32 47,31 48,35 49,36 50,36 51,33 52,32 53,33 54,36 55,33 56,35 57,35 58,34 59,34 60,36 61,36 62,32 63,30 64,37 65,34 66,36 67,34 68,36 69,33 70,32 71,34 72,35 73,35 74,36 75,35 76,37 77,36 78,36 79,32 80,33 81,34 82,36 83,35 84,34 85,34 86,37 87,36 88,34 89,33 90,34 91,35 92,34 93,35 94,35 95,37 96,33 97,34 98,32 99,31 100,33 101,34 102,34 103,35 104,33 105,36 106,36 107,33 108,32 109,35 110,32 111,34 112,34 113,33 114,33 115,35 116,35 117,36 118,36 119,31 120,30 121,35 122,35 123,31 124,35 125,33 126,32 127,34 128,34 129,34 130,33 131,32 132,35 133,34 134,36 135,34 136,32 137,34 138,36 139,36 140,34 141,33 142,32 143,33 144,36 145,32 146,32 147,34 148,33 149,34 150,36 151,34 152,33 153,33 154,32 155,38 156,36 157,34 158,33 159,36 160,36 161,33 162,35 163,34 164,35 165,36 166,36 167,36 168,35 169,32 170,31 171,33 172,35 173,33 174,36 175,35 176,36 177,36 178,33 179,34 180,34 181,33 182,35 183,33 184,34 185,34 186,36 187,32 188,36 189,37 190,33 191,34 192,33 193,32 194,34 195,33 196,34 197,34 198,34 199,32 200,33 201,32 202,34 203,37 204,35 205,35 206,35 207,36 208,33 209,33 210,34 211,35 212,36 213,32 214,39 215,37 216,35 217,34 218,35 219,36 220,33 221,33 222,32 223,33 224,34 225,32 226,37 227,34 228,33 229,34 230,35 231,36 232,34 233,34 234,34 235,37 236,35 237,31 238,35 239,35 240,35 241,35 242,35 243,33 244,36 245,35 246,35 247,37 248,36 249,36 250,37 251,33 252,33 253,33 254,34 255,37 256,37 257,33 258,35 259,33 260,33 261,31 262,34 263,34 264,33 265,33 266,34 267,33 268,36 269,33 270,33 271,33 272,34 273,34 274,34 275,29 276,34 277,32 278,33 279,35 279,88Z" fill="#6aa85c"/><path d="M0,88 0,83 1,83 2,81 3,83 4,82 5,81 6,83 7,83 8,82 9,82 10,83 11,83 12,83 13,81 14,81 15,82 16,83 17,81 18,83 19,82 20,83 21,82 22,82 23,82 24,83 25,83 26,82 27,81 28,83 29,81 30,81 31,82 32,83 33,81 34,83 35,83 36,81 37,83 38,83 39,83 40,81 41,82 42,82 43,81 44,81 45,83 46,82 47,81 48,82 49,82 50,83 51,80 52,82 53,82 54,83 55,82 56,82 57,81 58,82 59,82 60,82 61,83 62,82 63,81 64,83 65,82 66,82 67,82 68,84 69,82 70,82 71,81 72,83 73,83 74,82 75,82 76,83 77,82 78,83 79,81 80,82 81,81 82,83 83,83 84,80 85,82 86,83 87,82 88,83 89,83 90,81 91,82 92,84 93,83 94,82 95,84 96,81 97,81 98,82 99,81 100,81 101,82 102,82 103,82 104,83 105,83 106,83 107,82 108,80 109,83 110,82 111,80 112,83 113,81 114,81 115,83 116,82 117,83 118,83 119,81 120,80 121,82 122,82 123,80 124,82 125,82 126,81 127,82 128,82 129,82 130,83 131,82 132,83 133,80 134,82 135,83 136,81 137,81 138,83 139,82 140,82 141,82 142,82 143,81 144,84 145,80 146,82 147,82 148,82 149,82 150,84 151,81 152,81 153,81 154,81 155,84 156,82 157,82 158,81 159,84 160,83 161,81 162,83 163,83 164,83 165,82 166,83 167,83 168,82 169,80 170,81 171,82 172,82 173,81 174,83 175,81 176,83 177,83 178,82 179,82 180,82 181,82 182,83 183,82 184,81 185,81 186,83 187,82 188,83 189,83 190,83 191,82 192,81 193,81 194,81 195,81 196,82 197,82 198,83 199,83 200,84 201,81 202,84 203,83 204,83 205,82 206,82 207,82 208,81 209,82 210,82 211,83 212,84 213,83 214,84 215,84 216,82 217,83 218,82 219,83 220,81 221,82 222,80 223,81 224,82 225,81 226,83 227,81 228,82 229,82 230,83 231,82 232,82 233,82 234,80 235,84 236,82 237,81 238,82 239,82 240,83 241,81 242,81 243,84 244,83 245,83 246,82 247,82 248,81 249,83 250,83 251,81 252,81 253,81 254,84 255,84 256,82 257,82 258,82 259,82 260,82 261,82 262,82 263,82 264,80 265,82 266,83 267,83 268,84 269,82 270,83 271,81 272,82 273,81 274,82 275,80 276,82 277,80 278,81 279,81 279,88Z" fill="#4c74d8"/></svg></div><div style="position:absolute;left:630px;top:495.8px;font-size:10.5px;line-height:12.5px;color:#b8bac2;font-weight:400;white-space:nowrap;width:26px;text-align:right">750</div><div style="position:absolute;left:630px;top:526.6px;font-size:10.5px;line-height:12.5px;color:#b8bac2;font-weight:400;white-space:nowrap;width:26px;text-align:right">500</div><div style="position:absolute;left:630px;top:557.4px;font-size:10.5px;line-height:12.5px;color:#b8bac2;font-weight:400;white-space:nowrap;width:26px;text-align:right">250</div><div style="position:absolute;left:749.62px;top:586px;font-size:10.5px;line-height:12.5px;color:#b8bac2;font-weight:400;white-space:nowrap;">10:00</div><div style="position:absolute;left:853.24px;top:586px;font-size:10.5px;line-height:12.5px;color:#b8bac2;font-weight:400;white-space:nowrap;">10:05</div><div style="position:absolute;left:955.29px;top:586px;font-size:10.5px;line-height:12.5px;color:#b8bac2;font-weight:400;white-space:nowrap;">10:1</div><div style="position:absolute;left:640px;top:609px;width:12px;height:4px;background:#4c74d8;border-radius:2px"></div><div style="position:absolute;left:657px;top:603px;font-size:10.5px;line-height:12.5px;color:#c4c6cf;font-weight:400;white-space:nowrap;">debug</div><div style="position:absolute;left:699px;top:609px;width:12px;height:4px;background:#6aa85c;border-radius:2px"></div><div style="position:absolute;left:716px;top:603px;font-size:10.5px;line-height:12.5px;color:#c4c6cf;font-weight:400;white-space:nowrap;">info</div><div style="position:absolute;left:750px;top:609px;width:12px;height:4px;background:#ef8534;border-radius:2px"></div><div style="position:absolute;left:767px;top:603px;font-size:10.5px;line-height:12.5px;color:#c4c6cf;font-weight:400;white-space:nowrap;">warn</div><div style="position:absolute;left:807px;top:609px;width:12px;height:4px;background:#d9444f;border-radius:2px"></div><div style="position:absolute;left:824px;top:603px;font-size:10.5px;line-height:12.5px;color:#c4c6cf;font-weight:400;white-space:nowrap;">error</div><div style="position:absolute;left:991px;top:462px;width:359px;height:166px;background:#1b1c21;border:1px solid #26282d;border-radius:3px;box-sizing:border-box"></div><div style="position:absolute;left:1001px;top:470px;font-size:12.5px;line-height:14.5px;color:#d8d9e0;font-weight:500;white-space:nowrap;">msg</div><div style="position:absolute;left:1300px;top:472px;width:40px;height:21px;background:#2b2d33;border:1px solid #34363c;border-radius:2px;box-sizing:border-box;"><div style="position:absolute;left:0;right:0;top:0;bottom:0;display:flex;align-items:center;justify-content:center;font-size:10.5px;color:#d0d1d8;font-weight:500;white-space:nowrap">Select</div></div><div style="position:absolute;left:1025px;top:512px;width:314px;height:47px;border-left:1px solid #25272c"></div><div style="position:absolute;left:1025px;top:512px;width:314px;height:47px"><svg width="314" height="47" viewBox="0 0 279 47" preserveAspectRatio="none" style="position:absolute;display:block;overflow:visible"><path d="M0,47 0,8 1,6 2,8 3,7 4,3 5,3 6,7 7,11 8,6 9,11 10,6 11,10 12,7 13,10 14,5 15,5 16,3 17,7 18,7 19,4 20,10 21,6 22,13 23,9 24,10 25,7 26,9 27,9 28,10 29,7 30,13 31,9 32,10 33,13 34,10 35,6 36,10 37,3 38,8 39,11 40,8 41,11 42,8 43,7 44,7 45,6 46,10 47,11 48,10 49,4 50,6 51,10 52,8 53,9 54,11 55,8 56,12 57,13 58,7 59,9 60,10 61,7 62,7 63,8 64,8 65,12 66,8 67,12 68,14 69,9 70,9 71,9 72,7 73,6 74,11 75,7 76,9 77,8 78,9 79,11 80,4 81,5 82,8 83,8 84,8 85,4 86,9 87,8 88,7 89,9 90,7 91,7 92,7 93,10 94,8 95,12 96,10 97,10 98,6 99,7 100,8 101,9 102,8 103,8 104,5 105,3 106,9 107,8 108,5 109,8 110,10 111,9 112,8 113,7 114,8 115,7 116,10 117,6 118,7 119,6 120,12 121,9 122,11 123,10 124,5 125,6 126,8 127,10 128,10 129,8 130,7 131,9 132,11 133,7 134,12 135,11 136,9 137,5 138,6 139,8 140,7 141,3 142,6 143,9 144,9 145,3 146,10 147,4 148,7 149,8 150,6 151,3 152,6 153,8 154,10 155,7 156,10 157,11 158,7 159,3 160,8 161,7 162,9 163,7 164,5 165,11 166,8 167,8 168,8 169,6 170,6 171,9 172,11 173,7 174,7 175,9 176,13 177,4 178,8 179,8 180,9 181,10 182,9 183,3 184,7 185,10 186,8 187,12 188,11 189,6 190,8 191,6 192,7 193,8 194,8 195,9 196,9 197,6 198,8 199,7 200,9 201,10 202,6 203,6 204,9 205,5 206,9 207,7 208,9 209,12 210,7 211,10 212,11 213,9 214,8 215,8 216,7 217,4 218,8 219,10 220,8 221,8 222,11 223,7 224,9 225,11 226,8 227,6 228,9 229,8 230,5 231,7 232,7 233,9 234,7 235,6 236,9 237,9 238,8 239,5 240,11 241,7 242,8 243,11 244,10 245,10 246,8 247,12 248,8 249,9 250,7 251,8 252,8 253,8 254,9 255,11 256,7 257,8 258,9 259,9 260,10 261,12 262,9 263,7 264,7 265,8 266,9 267,7 268,7 269,7 270,6 271,9 272,10 273,8 274,7 275,9 276,7 277,4 278,8 279,8 279,47Z" fill="#ef8534"/><path d="M0,47 0,11 1,8 2,9 3,8 4,6 5,6 6,8 7,13 8,8 9,12 10,8 11,13 12,8 13,12 14,7 15,7 16,6 17,10 18,9 19,6 20,12 21,9 22,14 23,11 24,12 25,10 26,11 27,11 28,12 29,9 30,15 31,10 32,12 33,15 34,12 35,7 36,11 37,5 38,10 39,13 40,10 41,14 42,10 43,9 44,9 45,8 46,12 47,13 48,13 49,6 50,8 51,12 52,9 53,11 54,11 55,10 56,14 57,15 58,9 59,10 60,12 61,9 62,9 63,11 64,11 65,14 66,11 67,15 68,15 69,12 70,12 71,11 72,9 73,9 74,14 75,8 76,10 77,11 78,12 79,11 80,7 81,7 82,9 83,9 84,10 85,8 86,11 87,10 88,10 89,11 90,9 91,8 92,9 93,12 94,10 95,14 96,11 97,11 98,9 99,9 100,10 101,11 102,9 103,9 104,8 105,5 106,11 107,10 108,7 109,10 110,11 111,10 112,11 113,9 114,11 115,10 116,11 117,8 118,9 119,9 120,14 121,11 122,13 123,11 124,6 125,7 126,9 127,11 128,11 129,10 130,8 131,11 132,12 133,9 134,14 135,13 136,10 137,7 138,8 139,10 140,10 141,4 142,8 143,11 144,12 145,6 146,11 147,6 148,9 149,9 150,8 151,6 152,7 153,9 154,13 155,9 156,12 157,12 158,9 159,6 160,10 161,10 162,10 163,9 164,8 165,12 166,10 167,10 168,9 169,9 170,8 171,11 172,13 173,8 174,9 175,10 176,14 177,7 178,10 179,10 180,10 181,11 182,10 183,5 184,9 185,11 186,10 187,14 188,12 189,8 190,10 191,9 192,9 193,9 194,10 195,11 196,10 197,9 198,10 199,9 200,12 201,12 202,8 203,8 204,11 205,8 206,12 207,10 208,10 209,13 210,10 211,13 212,13 213,10 214,10 215,9 216,9 217,7 218,10 219,11 220,9 221,10 222,14 223,9 224,12 225,11 226,10 227,8 228,11 229,9 230,8 231,9 232,9 233,10 234,9 235,8 236,11 237,11 238,11 239,7 240,12 241,9 242,9 243,13 244,13 245,13 246,11 247,14 248,10 249,11 250,10 251,11 252,11 253,9 254,12 255,12 256,9 257,11 258,11 259,10 260,13 261,13 262,11 263,8 264,10 265,10 266,11 267,10 268,9 269,9 270,9 271,12 272,14 273,10 274,9 275,10 276,10 277,7 278,11 279,10 279,47Z" fill="#4c74d8"/><path d="M0,47 0,23 1,21 2,22 3,21 4,19 5,19 6,22 7,22 8,19 9,22 10,19 11,22 12,21 13,22 14,21 15,20 16,19 17,23 18,22 19,19 20,24 21,22 22,25 23,22 24,23 25,24 26,21 27,22 28,24 29,22 30,26 31,22 32,22 33,26 34,24 35,21 36,21 37,20 38,23 39,23 40,21 41,25 42,22 43,21 44,22 45,20 46,24 47,24 48,24 49,20 50,20 51,22 52,22 53,23 54,23 55,23 56,24 57,25 58,22 59,21 60,24 61,21 62,19 63,21 64,24 65,25 66,21 67,25 68,25 69,22 70,23 71,22 72,23 73,22 74,25 75,22 76,21 77,23 78,24 79,24 80,21 81,20 82,23 83,23 84,22 85,19 86,23 87,22 88,23 89,23 90,21 91,20 92,20 93,23 94,23 95,25 96,23 97,22 98,20 99,21 100,22 101,22 102,23 103,23 104,21 105,19 106,24 107,21 108,21 109,25 110,23 111,22 112,21 113,21 114,23 115,24 116,21 117,23 118,22 119,22 120,25 121,25 122,24 123,22 124,18 125,20 126,23 127,22 128,21 129,19 130,21 131,23 132,23 133,22 134,26 135,22 136,22 137,19 138,22 139,21 140,22 141,19 142,20 143,22 144,22 145,21 146,24 147,21 148,20 149,20 150,18 151,19 152,22 153,22 154,23 155,21 156,22 157,23 158,23 159,19 160,23 161,21 162,22 163,21 164,19 165,24 166,22 167,21 168,20 169,21 170,22 171,23 172,24 173,20 174,21 175,22 176,24 177,20 178,21 179,23 180,22 181,24 182,22 183,18 184,21 185,22 186,20 187,23 188,23 189,22 190,22 191,20 192,23 193,23 194,23 195,21 196,21 197,22 198,21 199,22 200,23 201,21 202,18 203,20 204,23 205,22 206,24 207,21 208,22 209,25 210,22 211,23 212,24 213,21 214,23 215,21 216,21 217,19 218,20 219,24 220,21 221,23 222,24 223,23 224,23 225,23 226,23 227,22 228,25 229,22 230,20 231,20 232,23 233,24 234,23 235,22 236,24 237,25 238,24 239,21 240,23 241,22 242,21 243,23 244,24 245,26 246,25 247,23 248,23 249,24 250,22 251,22 252,22 253,19 254,23 255,23 256,23 257,23 258,22 259,24 260,24 261,23 262,23 263,23 264,21 265,23 266,23 267,21 268,22 269,20 270,20 271,24 272,23 273,21 274,21 275,23 276,23 277,20 278,22 279,23 279,47Z" fill="#ecc53f"/><path d="M0,47 0,25 1,23 2,24 3,24 4,22 5,21 6,25 7,24 8,22 9,24 10,21 11,23 12,23 13,25 14,23 15,22 16,22 17,25 18,24 19,21 20,25 21,24 22,26 23,25 24,25 25,26 26,23 27,25 28,25 29,24 30,27 31,24 32,24 33,27 34,26 35,23 36,24 37,23 38,25 39,25 40,23 41,27 42,23 43,23 44,24 45,22 46,26 47,25 48,25 49,22 50,21 51,23 52,23 53,25 54,24 55,25 56,25 57,27 58,24 59,23 60,26 61,24 62,22 63,23 64,25 65,26 66,23 67,27 68,27 69,24 70,25 71,24 72,25 73,24 74,26 75,23 76,23 77,25 78,26 79,24 80,23 81,23 82,25 83,24 84,24 85,21 86,26 87,24 88,24 89,24 90,24 91,21 92,22 93,25 94,25 95,26 96,25 97,23 98,23 99,24 100,24 101,23 102,24 103,25 104,24 105,21 106,27 107,23 108,23 109,28 110,24 111,24 112,24 113,23 114,24 115,26 116,23 117,25 118,24 119,24 120,27 121,26 122,25 123,24 124,21 125,23 126,25 127,24 128,22 129,22 130,24 131,26 132,25 133,24 134,27 135,25 136,23 137,21 138,24 139,24 140,23 141,20 142,22 143,24 144,24 145,23 146,25 147,24 148,22 149,23 150,21 151,20 152,23 153,25 154,25 155,23 156,24 157,24 158,24 159,21 160,25 161,24 162,24 163,23 164,21 165,25 166,24 167,24 168,22 169,22 170,24 171,25 172,25 173,22 174,24 175,23 176,25 177,21 178,22 179,25 180,24 181,26 182,23 183,21 184,22 185,24 186,23 187,24 188,24 189,24 190,24 191,22 192,24 193,25 194,24 195,23 196,23 197,24 198,24 199,24 200,25 201,23 202,21 203,23 204,25 205,24 206,27 207,23 208,24 209,26 210,24 211,26 212,26 213,24 214,25 215,23 216,23 217,21 218,23 219,25 220,24 221,25 222,26 223,25 224,25 225,25 226,24 227,24 228,27 229,24 230,22 231,22 232,24 233,26 234,25 235,23 236,25 237,26 238,25 239,24 240,26 241,23 242,23 243,25 244,26 245,27 246,26 247,25 248,25 249,26 250,24 251,24 252,23 253,23 254,24 255,25 256,25 257,26 258,23 259,25 260,26 261,25 262,26 263,24 264,24 265,26 266,25 267,23 268,24 269,22 270,23 271,25 272,25 273,23 274,23 275,24 276,26 277,21 278,25 279,25 279,47Z" fill="#8db6f5"/><path d="M0,47 0,28 1,26 2,27 3,26 4,25 5,25 6,28 7,27 8,25 9,26 10,24 11,27 12,27 13,28 14,27 15,26 16,25 17,27 18,27 19,24 20,28 21,28 22,29 23,28 24,27 25,28 26,26 27,28 28,27 29,26 30,29 31,27 32,28 33,30 34,28 35,26 36,26 37,26 38,27 39,28 40,27 41,29 42,26 43,26 44,28 45,24 46,28 47,27 48,27 49,25 50,26 51,26 52,26 53,27 54,27 55,28 56,27 57,29 58,26 59,27 60,29 61,26 62,25 63,27 64,27 65,28 66,25 67,30 68,29 69,27 70,28 71,28 72,29 73,27 74,29 75,27 76,26 77,27 78,29 79,28 80,25 81,27 82,27 83,27 84,27 85,24 86,28 87,28 88,27 89,27 90,27 91,25 92,24 93,28 94,27 95,29 96,27 97,28 98,26 99,26 100,26 101,26 102,28 103,28 104,26 105,25 106,29 107,27 108,26 109,30 110,27 111,28 112,27 113,26 114,28 115,28 116,26 117,28 118,28 119,27 120,30 121,29 122,28 123,28 124,24 125,25 126,28 127,28 128,25 129,26 130,27 131,28 132,28 133,27 134,29 135,29 136,26 137,24 138,28 139,28 140,26 141,24 142,25 143,26 144,26 145,26 146,28 147,26 148,26 149,26 150,25 151,23 152,26 153,28 154,28 155,27 156,26 157,28 158,28 159,25 160,28 161,26 162,27 163,27 164,26 165,27 166,26 167,28 168,26 169,25 170,28 171,27 172,27 173,25 174,26 175,25 176,29 177,24 178,26 179,27 180,27 181,28 182,27 183,25 184,26 185,28 186,25 187,27 188,27 189,28 190,27 191,24 192,27 193,28 194,26 195,26 196,26 197,28 198,28 199,26 200,27 201,26 202,25 203,26 204,29 205,27 206,29 207,27 208,27 209,28 210,27 211,30 212,28 213,26 214,28 215,26 216,27 217,24 218,26 219,26 220,27 221,28 222,28 223,27 224,28 225,27 226,27 227,27 228,29 229,26 230,25 231,25 232,28 233,29 234,29 235,26 236,27 237,30 238,28 239,26 240,28 241,25 242,26 243,27 244,28 245,30 246,28 247,27 248,27 249,30 250,26 251,27 252,27 253,26 254,28 255,27 256,27 257,28 258,27 259,28 260,30 261,28 262,28 263,27 264,26 265,30 266,29 267,27 268,26 269,25 270,26 271,27 272,27 273,26 274,26 275,26 276,29 277,25 278,28 279,29 279,47Z" fill="#ecc53f"/><path d="M0,47 0,43 1,42 2,43 3,42 4,43 5,42 6,43 7,43 8,42 9,42 10,42 11,43 12,43 13,43 14,42 15,43 16,42 17,42 18,42 19,42 20,43 21,43 22,43 23,43 24,43 25,43 26,42 27,43 28,44 29,43 30,44 31,43 32,44 33,44 34,42 35,42 36,42 37,43 38,43 39,44 40,43 41,43 42,43 43,43 44,44 45,42 46,43 47,43 48,43 49,42 50,43 51,44 52,43 53,43 54,43 55,42 56,43 57,44 58,43 59,44 60,43 61,43 62,42 63,42 64,43 65,43 66,43 67,44 68,44 69,44 70,44 71,42 72,44 73,43 74,43 75,43 76,42 77,43 78,43 79,43 80,43 81,43 82,43 83,42 84,43 85,42 86,44 87,42 88,42 89,43 90,42 91,42 92,43 93,43 94,42 95,43 96,43 97,43 98,43 99,43 100,42 101,42 102,42 103,44 104,42 105,42 106,43 107,42 108,43 109,44 110,43 111,43 112,43 113,43 114,43 115,44 116,42 117,43 118,43 119,43 120,43 121,44 122,42 123,44 124,43 125,43 126,43 127,43 128,43 129,43 130,43 131,43 132,43 133,43 134,43 135,43 136,43 137,42 138,43 139,43 140,42 141,42 142,43 143,43 144,44 145,44 146,43 147,42 148,44 149,44 150,42 151,42 152,43 153,44 154,43 155,43 156,44 157,43 158,44 159,43 160,44 161,44 162,44 163,43 164,43 165,44 166,42 167,43 168,42 169,42 170,43 171,44 172,42 173,43 174,43 175,42 176,44 177,43 178,43 179,43 180,43 181,43 182,44 183,42 184,44 185,43 186,43 187,42 188,44 189,42 190,43 191,42 192,43 193,43 194,43 195,43 196,43 197,43 198,44 199,43 200,42 201,43 202,43 203,43 204,44 205,43 206,43 207,43 208,42 209,43 210,44 211,44 212,43 213,43 214,43 215,43 216,43 217,42 218,43 219,44 220,44 221,42 222,44 223,42 224,43 225,42 226,43 227,43 228,43 229,43 230,42 231,44 232,43 233,43 234,43 235,44 236,43 237,44 238,44 239,44 240,43 241,42 242,44 243,44 244,43 245,43 246,43 247,44 248,43 249,44 250,42 251,43 252,42 253,43 254,43 255,42 256,42 257,43 258,42 259,43 260,44 261,43 262,44 263,43 264,44 265,44 266,43 267,44 268,43 269,43 270,43 271,43 272,43 273,43 274,42 275,42 276,43 277,43 278,43 279,44 279,47Z" fill="#6aa85c"/></svg></div><div style="position:absolute;left:995px;top:526.15px;font-size:10.5px;line-height:12.5px;color:#b8bac2;font-weight:400;white-space:nowrap;width:26px;text-align:right">500</div><div style="position:absolute;left:1114.62px;top:563px;font-size:10.5px;line-height:12.5px;color:#b8bac2;font-weight:400;white-space:nowrap;">10:00</div><div style="position:absolute;left:1218.24px;top:563px;font-size:10.5px;line-height:12.5px;color:#b8bac2;font-weight:400;white-space:nowrap;">10:05</div><div style="position:absolute;left:1320.29px;top:563px;font-size:10.5px;line-height:12.5px;color:#b8bac2;font-weight:400;white-space:nowrap;">10:1</div><div style="position:absolute;left:1005px;top:586px;width:12px;height:4px;background:#6aa85c;border-radius:2px"></div><div style="position:absolute;left:1022px;top:580px;font-size:10.5px;line-height:12.5px;color:#c4c6cf;font-weight:400;white-space:nowrap;">Failed to get keys from memcached</div><div style="position:absolute;left:1216px;top:586px;width:12px;height:4px;background:#8db6f5;border-radius:2px"></div><div style="position:absolute;left:1233px;top:580px;font-size:10.5px;line-height:12.5px;color:#c4c6cf;font-weight:400;white-space:nowrap;">Starting Grafana Enterprise</div><div style="position:absolute;left:1005px;top:606px;width:12px;height:4px;background:#ecc53f;border-radius:2px"></div><div style="position:absolute;left:1022px;top:600px;font-size:10.5px;line-height:12.5px;color:#c4c6cf;font-weight:400;white-space:nowrap;">Invalidating forwarded broadcast</div><div style="position:absolute;left:262px;top:634px;width:357px;height:166px;background:#1b1c21;border:1px solid #26282d;border-radius:3px;box-sizing:border-box"></div><div style="position:absolute;left:272px;top:642px;font-size:12.5px;line-height:14.5px;color:#d8d9e0;font-weight:500;white-space:nowrap;">oldVersion</div><div style="position:absolute;left:569px;top:644px;width:40px;height:21px;background:#2b2d33;border:1px solid #34363c;border-radius:2px;box-sizing:border-box;"><div style="position:absolute;left:0;right:0;top:0;bottom:0;display:flex;align-items:center;justify-content:center;font-size:10.5px;color:#d0d1d8;font-weight:500;white-space:nowrap">Select</div></div><div style="position:absolute;left:294px;top:682px;width:313px;height:52px;border-left:1px solid #25272c"></div><div style="position:absolute;left:294px;top:682px;width:313px;height:52px"><svg width="313" height="52" viewBox="0 0 199 52" preserveAspectRatio="none" style="position:absolute;display:block;overflow:visible"><path d="M0,52 0,9 1,17 2,12 3,11 4,13 5,14 6,14 7,12 8,19 9,11 10,8 11,15 12,17 13,9 14,14 15,15 16,9 17,16 18,7 19,13 20,14 21,11 22,20 23,12 24,11 25,15 26,20 27,14 28,10 29,21 30,10 31,16 32,10 33,10 34,8 35,13 36,11 37,14 38,13 39,12 40,8 41,11 42,12 43,12 44,14 45,9 46,11 47,13 48,10 49,7 50,12 51,9 52,14 53,12 54,15 55,14 56,18 57,8 58,16 59,9 60,5 61,10 62,6 63,10 64,18 65,14 66,15 67,13 68,14 69,9 70,16 71,8 72,13 73,14 74,15 75,11 76,10 77,9 78,10 79,17 80,10 81,14 82,9 83,9 84,14 85,12 86,11 87,13 88,11 89,5 90,12 91,12 92,12 93,16 94,8 95,16 96,15 97,13 98,13 99,9 100,8 101,15 102,8 103,9 104,9 105,13 106,12 107,10 108,12 109,10 110,22 111,14 112,14 113,17 114,10 115,14 116,16 117,15 118,15 119,11 120,19 121,19 122,11 123,5 124,12 125,7 126,10 127,10 128,10 129,14 130,11 131,22 132,21 133,9 134,10 135,11 136,14 137,14 138,14 139,7 140,10 141,17 142,11 143,13 144,16 145,13 146,13 147,14 148,10 149,17 150,11 151,9 152,14 153,17 154,7 155,18 156,15 157,12 158,16 159,15 160,11 161,18 162,7 163,13 164,11 165,13 166,17 167,15 168,14 169,11 170,16 171,9 172,14 173,15 174,11 175,14 176,11 177,12 178,16 179,13 180,10 181,13 182,9 183,13 184,7 185,15 186,13 187,7 188,13 189,14 190,9 191,14 192,16 193,13 194,7 195,11 196,12 197,9 198,8 199,12 199,52Z" fill="#c9b89a"/><path d="M0,52 0,11 1,18 2,15 3,14 4,15 5,16 6,16 7,14 8,20 9,14 10,12 11,18 12,21 13,10 14,17 15,17 16,12 17,19 18,11 19,15 20,16 21,15 22,21 23,15 24,14 25,18 26,22 27,17 28,14 29,23 30,14 31,19 32,13 33,13 34,10 35,15 36,12 37,16 38,14 39,13 40,9 41,14 42,15 43,13 44,16 45,11 46,12 47,15 48,12 49,11 50,15 51,10 52,15 53,15 54,17 55,16 56,21 57,10 58,17 59,11 60,6 61,11 62,9 63,14 64,20 65,17 66,17 67,15 68,16 69,11 70,18 71,10 72,15 73,16 74,19 75,14 76,13 77,11 78,11 79,18 80,11 81,16 82,11 83,12 84,15 85,13 86,11 87,15 88,12 89,7 90,15 91,16 92,14 93,18 94,11 95,18 96,19 97,16 98,15 99,12 100,10 101,16 102,12 103,11 104,12 105,15 106,14 107,12 108,12 109,13 110,23 111,15 112,14 113,19 114,12 115,16 116,17 117,19 118,17 119,13 120,22 121,20 122,13 123,8 124,15 125,8 126,12 127,12 128,12 129,18 130,12 131,22 132,22 133,10 134,12 135,14 136,14 137,16 138,16 139,10 140,13 141,20 142,12 143,16 144,17 145,17 146,17 147,15 148,11 149,19 150,14 151,12 152,15 153,19 154,10 155,19 156,16 157,14 158,19 159,18 160,13 161,22 162,10 163,15 164,13 165,15 166,19 167,18 168,16 169,14 170,17 171,11 172,16 173,16 174,13 175,16 176,12 177,13 178,18 179,16 180,12 181,14 182,11 183,15 184,9 185,18 186,14 187,10 188,15 189,16 190,13 191,15 192,17 193,15 194,10 195,14 196,15 197,11 198,11 199,15 199,52Z" fill="#a9b3c9"/><path d="M0,52 0,15 1,22 2,17 3,17 4,15 5,16 6,17 7,15 8,21 9,16 10,14 11,21 12,23 13,13 14,20 15,20 16,15 17,20 18,15 19,17 20,19 21,17 22,22 23,18 24,16 25,19 26,24 27,19 28,16 29,25 30,17 31,21 32,15 33,15 34,12 35,17 36,14 37,19 38,17 39,16 40,12 41,16 42,19 43,17 44,19 45,14 46,15 47,17 48,14 49,13 50,17 51,12 52,16 53,18 54,20 55,18 56,22 57,13 58,19 59,14 60,10 61,13 62,12 63,16 64,22 65,17 66,17 67,15 68,20 69,13 70,21 71,14 72,17 73,18 74,21 75,16 76,14 77,14 78,13 79,21 80,15 81,19 82,14 83,14 84,17 85,15 86,13 87,17 88,13 89,10 90,17 91,16 92,16 93,20 94,14 95,19 96,22 97,19 98,17 99,13 100,12 101,18 102,15 103,14 104,13 105,18 106,16 107,15 108,16 109,16 110,24 111,17 112,15 113,22 114,13 115,18 116,17 117,20 118,19 119,16 120,24 121,23 122,14 123,12 124,18 125,12 126,16 127,13 128,14 129,19 130,16 131,25 132,24 133,12 134,15 135,15 136,15 137,18 138,19 139,13 140,16 141,22 142,15 143,17 144,18 145,19 146,20 147,19 148,13 149,19 150,17 151,14 152,18 153,21 154,12 155,21 156,19 157,17 158,21 159,20 160,16 161,24 162,14 163,17 164,16 165,17 166,21 167,18 168,18 169,16 170,18 171,12 172,19 173,19 174,15 175,19 176,12 177,15 178,19 179,16 180,14 181,16 182,13 183,17 184,9 185,20 186,15 187,12 188,17 189,19 190,15 191,17 192,20 193,17 194,13 195,17 196,18 197,13 198,13 199,17 199,52Z" fill="#b8a0a8"/><path d="M0,52 0,17 1,22 2,19 3,19 4,19 5,18 6,19 7,16 8,23 9,16 10,17 11,23 12,25 13,15 14,22 15,22 16,19 17,21 18,17 19,19 20,21 21,19 22,23 23,19 24,18 25,21 26,26 27,20 28,18 29,27 30,19 31,23 32,17 33,17 34,15 35,21 36,18 37,20 38,19 39,18 40,15 41,19 42,20 43,19 44,22 45,17 46,18 47,19 48,15 49,14 50,19 51,14 52,18 53,21 54,22 55,21 56,25 57,17 58,21 59,16 60,11 61,16 62,15 63,20 64,23 65,20 66,19 67,18 68,22 69,16 70,24 71,16 72,21 73,20 74,23 75,20 76,16 77,17 78,16 79,23 80,17 81,20 82,16 83,16 84,18 85,17 86,14 87,19 88,17 89,13 90,19 91,18 92,17 93,21 94,18 95,21 96,24 97,22 98,20 99,16 100,14 101,21 102,16 103,16 104,16 105,20 106,17 107,16 108,19 109,17 110,26 111,20 112,17 113,24 114,15 115,20 116,20 117,23 118,21 119,17 120,25 121,26 122,17 123,14 124,19 125,15 126,18 127,16 128,17 129,20 130,18 131,27 132,25 133,15 134,19 135,18 136,18 137,19 138,20 139,16 140,17 141,23 142,17 143,19 144,19 145,22 146,22 147,21 148,15 149,22 150,20 151,17 152,19 153,22 154,14 155,23 156,21 157,18 158,22 159,24 160,19 161,25 162,16 163,19 164,19 165,18 166,22 167,20 168,20 169,18 170,21 171,15 172,19 173,20 174,17 175,21 176,14 177,17 178,22 179,18 180,16 181,18 182,15 183,19 184,12 185,22 186,17 187,15 188,19 189,20 190,17 191,18 192,21 193,19 194,15 195,19 196,19 197,16 198,16 199,19 199,52Z" fill="#e4d4d0"/><path d="M0,52 0,19 1,24 2,23 3,20 4,22 5,21 6,20 7,18 8,24 9,18 10,20 11,25 12,28 13,18 14,23 15,24 16,22 17,24 18,18 19,21 20,23 21,20 22,25 23,23 24,19 25,22 26,27 27,23 28,21 29,28 30,22 31,25 32,20 33,21 34,16 35,22 36,19 37,22 38,23 39,19 40,18 41,21 42,21 43,20 44,24 45,17 46,21 47,22 48,18 49,18 50,21 51,18 52,19 53,23 54,26 55,25 56,27 57,20 58,22 59,19 60,15 61,19 62,18 63,23 64,25 65,22 66,23 67,20 68,22 69,19 70,26 71,20 72,23 73,22 74,27 75,23 76,19 77,18 78,19 79,26 80,20 81,21 82,19 83,18 84,21 85,20 86,17 87,22 88,18 89,16 90,20 91,22 92,20 93,23 94,19 95,21 96,27 97,25 98,23 99,17 100,17 101,24 102,18 103,17 104,19 105,21 106,20 107,18 108,21 109,20 110,27 111,22 112,20 113,26 114,18 115,21 116,21 117,24 118,23 119,19 120,28 121,29 122,19 123,16 124,23 125,18 126,20 127,20 128,18 129,22 130,22 131,29 132,26 133,19 134,21 135,21 136,20 137,22 138,20 139,17 140,20 141,26 142,20 143,20 144,21 145,24 146,24 147,25 148,18 149,24 150,21 151,21 152,22 153,24 154,17 155,25 156,23 157,21 158,24 159,25 160,22 161,27 162,19 163,19 164,21 165,20 166,24 167,22 168,22 169,18 170,23 171,17 172,22 173,22 174,20 175,23 176,17 177,19 178,23 179,20 180,18 181,20 182,19 183,21 184,15 185,23 186,20 187,17 188,23 189,23 190,20 191,19 192,22 193,22 194,18 195,21 196,20 197,16 198,18 199,21 199,52Z" fill="#8a7a86"/><path d="M0,52 0,21 1,25 2,25 3,23 4,24 5,23 6,23 7,20 8,25 9,20 10,22 11,27 12,29 13,21 14,25 15,25 16,23 17,27 18,20 19,24 20,25 21,25 22,28 23,27 24,21 25,24 26,28 27,25 28,24 29,29 30,26 31,27 32,21 33,22 34,18 35,25 36,21 37,24 38,23 39,22 40,20 41,22 42,22 43,22 44,25 45,20 46,23 47,25 48,20 49,20 50,23 51,21 52,21 53,27 54,27 55,27 56,29 57,21 58,24 59,21 60,18 61,19 62,20 63,26 64,27 65,23 66,26 67,22 68,25 69,22 70,27 71,21 72,27 73,26 74,29 75,26 76,22 77,20 78,21 79,28 80,22 81,23 82,21 83,21 84,23 85,22 86,19 87,23 88,20 89,18 90,23 91,23 92,23 93,24 94,22 95,23 96,31 97,26 98,24 99,19 100,19 101,26 102,20 103,20 104,22 105,22 106,23 107,20 108,23 109,22 110,29 111,24 112,23 113,27 114,21 115,24 116,23 117,26 118,25 119,21 120,29 121,30 122,21 123,19 124,25 125,20 126,24 127,22 128,22 129,23 130,25 131,30 132,27 133,22 134,23 135,23 136,23 137,25 138,22 139,21 140,21 141,28 142,22 143,21 144,25 145,25 146,25 147,26 148,20 149,26 150,24 151,23 152,25 153,25 154,20 155,27 156,25 157,24 158,26 159,27 160,22 161,29 162,21 163,22 164,22 165,24 166,27 167,24 168,23 169,21 170,25 171,21 172,24 173,23 174,21 175,24 176,19 177,22 178,25 179,21 180,20 181,23 182,20 183,24 184,17 185,25 186,22 187,21 188,24 189,25 190,23 191,22 192,24 193,23 194,21 195,22 196,22 197,20 198,21 199,23 199,52Z" fill="#cdb5b8"/><path d="M0,52 0,23 1,27 2,27 3,27 4,27 5,24 6,26 7,22 8,27 9,21 10,23 11,29 12,31 13,22 14,27 15,27 16,25 17,29 18,23 19,25 20,27 21,27 22,29 23,28 24,22 25,27 26,31 27,27 28,27 29,31 30,28 31,30 32,22 33,25 34,20 35,26 36,23 37,25 38,26 39,23 40,23 41,25 42,25 43,23 44,27 45,22 46,27 47,28 48,23 49,23 50,25 51,24 52,24 53,28 54,29 55,29 56,31 57,24 58,26 59,23 60,20 61,23 62,23 63,27 64,29 65,25 66,29 67,24 68,27 69,24 70,29 71,25 72,28 73,28 74,33 75,27 76,25 77,24 78,24 79,30 80,25 81,25 82,23 83,23 84,24 85,24 86,21 87,26 88,24 89,21 90,25 91,27 92,26 93,27 94,24 95,25 96,33 97,27 98,27 99,21 100,22 101,28 102,23 103,22 104,24 105,25 106,25 107,22 108,25 109,24 110,31 111,26 112,25 113,28 114,22 115,25 116,26 117,29 118,26 119,24 120,30 121,31 122,25 123,22 124,26 125,22 126,25 127,25 128,25 129,25 130,28 131,31 132,29 133,24 134,25 135,24 136,26 137,27 138,25 139,23 140,24 141,30 142,24 143,25 144,26 145,25 146,28 147,26 148,22 149,28 150,26 151,24 152,26 153,27 154,23 155,29 156,25 157,27 158,28 159,28 160,24 161,31 162,24 163,25 164,25 165,26 166,30 167,26 168,24 169,22 170,26 171,23 172,25 173,25 174,23 175,25 176,21 177,25 178,28 179,24 180,23 181,27 182,23 183,25 184,20 185,28 186,24 187,24 188,28 189,28 190,25 191,25 192,26 193,27 194,24 195,26 196,26 197,23 198,24 199,24 199,52Z" fill="#967e84"/><path d="M0,52 0,26 1,30 2,30 3,28 4,29 5,28 6,28 7,23 8,28 9,25 10,25 11,31 12,33 13,25 14,29 15,29 16,27 17,31 18,26 19,28 20,28 21,30 22,30 23,30 24,24 25,30 26,32 27,28 28,29 29,32 30,31 31,33 32,25 33,27 34,22 35,27 36,25 37,27 38,29 39,26 40,26 41,27 42,27 43,26 44,29 45,25 46,29 47,31 48,26 49,24 50,28 51,27 52,25 53,30 54,31 55,32 56,33 57,27 58,28 59,24 60,23 61,25 62,25 63,29 64,32 65,28 66,30 67,26 68,28 69,26 70,31 71,27 72,30 73,29 74,36 75,29 76,26 77,26 78,26 79,32 80,26 81,28 82,26 83,26 84,28 85,26 86,24 87,28 88,26 89,24 90,29 91,29 92,28 93,30 94,25 95,28 96,35 97,30 98,28 99,24 100,23 101,29 102,25 103,25 104,25 105,27 106,27 107,26 108,28 109,27 110,32 111,27 112,27 113,30 114,25 115,26 116,27 117,31 118,28 119,27 120,32 121,32 122,26 123,25 124,29 125,25 126,27 127,28 128,27 129,29 130,31 131,32 132,30 133,27 134,28 135,28 136,28 137,30 138,28 139,25 140,25 141,32 142,27 143,27 144,30 145,27 146,30 147,28 148,24 149,29 150,27 151,28 152,27 153,29 154,26 155,30 156,28 157,30 158,30 159,29 160,28 161,32 162,25 163,25 164,28 165,27 166,33 167,28 168,25 169,24 170,28 171,26 172,26 173,26 174,26 175,29 176,25 177,27 178,29 179,26 180,26 181,30 182,26 183,27 184,22 185,30 186,26 187,24 188,29 189,31 190,27 191,28 192,28 193,28 194,26 195,28 196,28 197,26 198,27 199,26 199,52Z" fill="#f0e8e6"/><path d="M0,52 0,28 1,32 2,31 3,29 4,31 5,31 6,32 7,26 8,31 9,26 10,29 11,33 12,34 13,28 14,32 15,32 16,30 17,31 18,28 19,31 20,31 21,34 22,32 23,31 24,27 25,32 26,34 27,31 28,31 29,34 30,33 31,34 32,28 33,29 34,24 35,30 36,28 37,28 38,32 39,29 40,28 41,30 42,28 43,27 44,31 45,27 46,32 47,34 48,29 49,26 50,29 51,30 52,27 53,32 54,34 55,35 56,35 57,28 58,29 59,27 60,25 61,26 62,27 63,30 64,35 65,30 66,33 67,27 68,31 69,28 70,33 71,28 72,32 73,31 74,37 75,32 76,28 77,27 78,28 79,33 80,28 81,30 82,29 83,28 84,29 85,27 86,26 87,29 88,29 89,26 90,31 91,30 92,31 93,32 94,27 95,30 96,37 97,32 98,30 99,26 100,26 101,32 102,28 103,28 104,29 105,28 106,30 107,28 108,30 109,30 110,33 111,31 112,29 113,32 114,27 115,27 116,29 117,34 118,31 119,29 120,34 121,35 122,29 123,28 124,31 125,29 126,30 127,29 128,30 129,31 130,33 131,33 132,33 133,29 134,30 135,30 136,29 137,32 138,31 139,28 140,28 141,34 142,30 143,29 144,31 145,29 146,31 147,31 148,26 149,31 150,29 151,28 152,29 153,31 154,28 155,33 156,30 157,32 158,33 159,32 160,30 161,35 162,28 163,29 164,28 165,30 166,35 167,30 168,27 169,27 170,30 171,29 172,29 173,29 174,28 175,30 176,27 177,28 178,31 179,28 180,26 181,33 182,29 183,28 184,25 185,32 186,27 187,25 188,32 189,34 190,30 191,31 192,32 193,29 194,29 195,32 196,32 197,28 198,30 199,30 199,52Z" fill="#b09597"/><path d="M0,52 0,31 1,32 2,33 3,32 4,33 5,32 6,34 7,29 8,32 9,29 10,31 11,37 12,36 13,32 14,35 15,34 16,31 17,34 18,31 19,35 20,33 21,36 22,35 23,32 24,28 25,34 26,36 27,33 28,32 29,35 30,34 31,36 32,32 33,32 34,27 35,34 36,29 37,31 38,34 39,31 40,29 41,31 42,28 43,30 44,33 45,29 46,34 47,35 48,30 49,29 50,31 51,31 52,29 53,34 54,36 55,36 56,37 57,31 58,31 59,30 60,28 61,30 62,30 63,33 64,37 65,33 66,35 67,29 68,33 69,30 70,35 71,30 72,34 73,35 74,39 75,34 76,31 77,29 78,30 79,36 80,29 81,32 82,30 83,30 84,31 85,31 86,27 87,31 88,31 89,28 90,34 91,33 92,35 93,36 94,30 95,33 96,38 97,33 98,32 99,30 100,29 101,33 102,31 103,31 104,32 105,29 106,33 107,30 108,32 109,33 110,36 111,33 112,31 113,34 114,29 115,28 116,33 117,36 118,35 119,32 120,36 121,36 122,32 123,31 124,33 125,31 126,31 127,31 128,33 129,33 130,34 131,35 132,36 133,32 134,31 135,32 136,32 137,36 138,32 139,30 140,31 141,37 142,32 143,31 144,35 145,32 146,33 147,34 148,27 149,33 150,32 151,31 152,31 153,34 154,32 155,35 156,32 157,34 158,34 159,33 160,32 161,36 162,31 163,32 164,31 165,33 166,37 167,32 168,30 169,30 170,33 171,31 172,33 173,32 174,30 175,32 176,30 177,32 178,32 179,30 180,28 181,34 182,32 183,31 184,28 185,33 186,30 187,26 188,32 189,36 190,32 191,33 192,34 193,31 194,31 195,34 196,36 197,31 198,33 199,33 199,52Z" fill="#dccbca"/><path d="M0,52 0,33 1,34 2,34 3,34 4,35 5,34 6,34 7,33 8,35 9,32 10,33 11,38 12,37 13,35 14,37 15,35 16,32 17,36 18,32 19,36 20,35 21,37 22,37 23,35 24,31 25,36 26,38 27,36 28,34 29,37 30,37 31,39 32,34 33,34 34,30 35,37 36,31 37,35 38,37 39,35 40,31 41,33 42,31 43,33 44,35 45,32 46,37 47,36 48,33 49,32 50,33 51,35 52,32 53,36 54,39 55,38 56,38 57,32 58,32 59,34 60,31 61,33 62,32 63,35 64,40 65,35 66,36 67,33 68,34 69,32 70,36 71,32 72,37 73,38 74,40 75,34 76,32 77,32 78,32 79,39 80,32 81,35 82,33 83,32 84,33 85,33 86,29 87,33 88,33 89,31 90,36 91,35 92,37 93,38 94,33 95,34 96,40 97,36 98,35 99,32 100,30 101,35 102,33 103,33 104,35 105,32 106,35 107,32 108,35 109,34 110,37 111,36 112,33 113,37 114,31 115,31 116,36 117,37 118,36 119,35 120,40 121,37 122,34 123,32 124,36 125,33 126,33 127,34 128,37 129,34 130,36 131,35 132,37 133,34 134,35 135,34 136,34 137,38 138,34 139,33 140,33 141,38 142,33 143,33 144,37 145,35 146,35 147,35 148,29 149,34 150,34 151,34 152,34 153,36 154,33 155,35 156,33 157,37 158,35 159,34 160,35 161,38 162,34 163,35 164,32 165,34 166,38 167,35 168,33 169,31 170,36 171,34 172,34 173,34 174,33 175,35 176,32 177,33 178,36 179,33 180,30 181,35 182,35 183,34 184,30 185,35 186,33 187,28 188,33 189,38 190,34 191,35 192,37 193,35 194,31 195,36 196,36 197,34 198,36 199,35 199,52Z" fill="#7a686c"/><path d="M0,52 0,36 1,35 2,37 3,36 4,36 5,36 6,36 7,36 8,37 9,35 10,35 11,40 12,38 13,36 14,39 15,37 16,36 17,38 18,34 19,39 20,38 21,38 22,41 23,37 24,34 25,38 26,40 27,38 28,37 29,39 30,39 31,40 32,37 33,36 34,33 35,38 36,34 37,37 38,38 39,37 40,34 41,37 42,35 43,35 44,38 45,36 46,39 47,38 48,36 49,33 50,34 51,37 52,35 53,38 54,39 55,39 56,38 57,35 58,34 59,36 60,32 61,35 62,36 63,37 64,40 65,36 66,40 67,35 68,36 69,34 70,37 71,35 72,39 73,39 74,42 75,36 76,34 77,35 78,35 79,40 80,35 81,36 82,35 83,36 84,35 85,36 86,32 87,34 88,36 89,33 90,38 91,38 92,39 93,39 94,33 95,36 96,42 97,37 98,36 99,34 100,33 101,36 102,36 103,35 104,37 105,34 106,38 107,34 108,36 109,37 110,40 111,37 112,37 113,39 114,34 115,34 116,37 117,38 118,39 119,36 120,41 121,39 122,35 123,34 124,39 125,36 126,35 127,36 128,39 129,36 130,37 131,37 132,40 133,37 134,37 135,37 136,36 137,41 138,35 139,35 140,35 141,40 142,36 143,36 144,38 145,37 146,37 147,36 148,31 149,38 150,36 151,36 152,37 153,39 154,37 155,37 156,36 157,38 158,38 159,35 160,36 161,40 162,37 163,36 164,35 165,38 166,40 167,37 168,35 169,35 170,36 171,37 172,36 173,38 174,36 175,36 176,34 177,34 178,38 179,36 180,32 181,37 182,37 183,38 184,33 185,38 186,36 187,31 188,36 189,40 190,36 191,38 192,41 193,38 194,33 195,39 196,38 197,35 198,40 199,39 199,52Z" fill="#bca3a6"/><path d="M0,52 0,38 1,38 2,40 3,38 4,39 5,37 6,38 7,39 8,38 9,39 10,39 11,42 12,41 13,40 14,40 15,39 16,39 17,41 18,37 19,43 20,41 21,40 22,41 23,40 24,36 25,41 26,42 27,41 28,39 29,41 30,41 31,42 32,39 33,38 34,34 35,40 36,37 37,41 38,41 39,37 40,36 41,39 42,37 43,38 44,42 45,39 46,42 47,41 48,37 49,35 50,37 51,39 52,38 53,40 54,40 55,42 56,41 57,37 58,36 59,38 60,34 61,37 62,39 63,40 64,42 65,40 66,43 67,39 68,39 69,36 70,40 71,38 72,41 73,41 74,43 75,39 76,37 77,39 78,38 79,41 80,38 81,38 82,38 83,37 84,38 85,38 86,36 87,37 88,39 89,37 90,40 91,40 92,41 93,41 94,36 95,38 96,43 97,39 98,40 99,37 100,36 101,39 102,38 103,38 104,39 105,38 106,40 107,37 108,39 109,39 110,42 111,39 112,38 113,41 114,38 115,36 116,39 117,40 118,41 119,40 120,43 121,41 122,36 123,37 124,40 125,37 126,37 127,37 128,41 129,38 130,40 131,39 132,42 133,38 134,38 135,39 136,39 137,43 138,37 139,38 140,38 141,41 142,39 143,39 144,39 145,38 146,38 147,38 148,34 149,41 150,38 151,39 152,40 153,40 154,40 155,38 156,39 157,40 158,41 159,36 160,39 161,41 162,39 163,38 164,37 165,40 166,41 167,38 168,38 169,37 170,40 171,39 172,40 173,40 174,37 175,38 176,38 177,36 178,38 179,38 180,35 181,38 182,39 183,39 184,35 185,41 186,38 187,33 188,38 189,42 190,38 191,39 192,42 193,41 194,37 195,41 196,39 197,38 198,41 199,41 199,52Z" fill="#a48a8d"/><path d="M0,52 0,41 1,40 2,41 3,39 4,41 5,41 6,41 7,43 8,39 9,39 10,41 11,45 12,43 13,40 14,42 15,41 16,41 17,42 18,40 19,44 20,43 21,42 22,43 23,41 24,39 25,43 26,44 27,43 28,41 29,42 30,43 31,43 32,42 33,40 34,36 35,42 36,40 37,41 38,42 39,40 40,39 41,42 42,40 43,40 44,42 45,42 46,43 47,44 48,40 49,38 50,39 51,42 52,39 53,41 54,43 55,44 56,43 57,38 58,39 59,40 60,38 61,41 62,41 63,41 64,45 65,41 66,45 67,40 68,41 69,40 70,41 71,39 72,42 73,43 74,45 75,41 76,40 77,41 78,41 79,42 80,40 81,41 82,41 83,38 84,39 85,41 86,38 87,39 88,41 89,39 90,44 91,43 92,43 93,43 94,40 95,42 96,44 97,41 98,41 99,40 100,39 101,42 102,41 103,40 104,42 105,39 106,43 107,40 108,42 109,41 110,44 111,41 112,40 113,41 114,41 115,39 116,40 117,41 118,41 119,42 120,43 121,44 122,38 123,39 124,41 125,40 126,41 127,40 128,43 129,41 130,43 131,42 132,44 133,40 134,40 135,40 136,40 137,43 138,40 139,39 140,40 141,43 142,42 143,40 144,40 145,41 146,40 147,41 148,37 149,42 150,41 151,42 152,43 153,42 154,43 155,39 156,40 157,42 158,43 159,39 160,40 161,42 162,41 163,41 164,41 165,41 166,42 167,40 168,41 169,40 170,42 171,42 172,41 173,43 174,40 175,41 176,39 177,38 178,41 179,41 180,38 181,42 182,41 183,41 184,38 185,43 186,41 187,36 188,41 189,44 190,41 191,42 192,43 193,42 194,38 195,43 196,42 197,41 198,43 199,42 199,52Z" fill="#f5f0f0"/><path d="M0,52 0,43 1,44 2,43 3,41 4,44 5,44 6,44 7,44 8,43 9,42 10,42 11,47 12,46 13,42 14,42 15,43 16,42 17,43 18,43 19,45 20,44 21,44 22,45 23,44 24,42 25,45 26,45 27,45 28,44 29,44 30,45 31,45 32,44 33,43 34,40 35,44 36,42 37,44 38,44 39,42 40,41 41,44 42,42 43,43 44,44 45,44 46,45 47,46 48,43 49,42 50,42 51,45 52,40 53,43 54,45 55,45 56,45 57,40 58,42 59,43 60,41 61,42 62,44 63,44 64,47 65,43 66,46 67,41 68,43 69,42 70,44 71,41 72,44 73,44 74,47 75,43 76,43 77,44 78,43 79,44 80,43 81,43 82,42 83,40 84,41 85,44 86,40 87,41 88,43 89,42 90,46 91,46 92,45 93,45 94,43 95,43 96,46 97,43 98,44 99,42 100,43 101,45 102,44 103,43 104,43 105,42 106,46 107,42 108,44 109,45 110,45 111,44 112,42 113,44 114,42 115,41 116,42 117,42 118,43 119,44 120,45 121,45 122,42 123,42 124,42 125,42 126,42 127,42 128,45 129,41 130,45 131,44 132,45 133,42 134,43 135,44 136,43 137,45 138,42 139,42 140,44 141,45 142,43 143,42 144,44 145,42 146,43 147,44 148,41 149,45 150,43 151,44 152,45 153,43 154,44 155,41 156,43 157,44 158,44 159,42 160,42 161,43 162,43 163,43 164,43 165,43 166,43 167,42 168,42 169,40 170,44 171,43 172,43 173,45 174,43 175,42 176,43 177,41 178,44 179,44 180,40 181,44 182,44 183,43 184,40 185,43 186,43 187,39 188,43 189,44 190,44 191,45 192,45 193,44 194,41 195,45 196,45 197,43 198,45 199,45 199,52Z" fill="#d6c0bd"/><path d="M0,52 0,45 1,46 2,46 3,44 4,46 5,47 6,46 7,47 8,44 9,45 10,44 11,49 12,47 13,44 14,45 15,45 16,44 17,46 18,44 19,47 20,47 21,45 22,46 23,46 24,45 25,47 26,46 27,48 28,45 29,45 30,48 31,46 32,47 33,44 34,42 35,45 36,45 37,47 38,46 39,44 40,43 41,46 42,44 43,46 44,46 45,47 46,47 47,48 48,45 49,43 50,44 51,45 52,43 53,45 54,47 55,47 56,46 57,43 58,44 59,46 60,43 61,45 62,45 63,46 64,49 65,46 66,47 67,45 68,46 69,45 70,46 71,44 72,46 73,46 74,48 75,45 76,46 77,45 78,46 79,46 80,46 81,46 82,46 83,44 84,44 85,46 86,42 87,44 88,46 89,44 90,48 91,48 92,45 93,47 94,45 95,45 96,47 97,45 98,47 99,44 100,45 101,46 102,45 103,46 104,45 105,44 106,47 107,45 108,46 109,46 110,49 111,46 112,44 113,45 114,45 115,43 116,44 117,45 118,45 119,45 120,47 121,49 122,45 123,45 124,44 125,44 126,45 127,45 128,48 129,44 130,47 131,47 132,47 133,44 134,46 135,46 136,44 137,46 138,43 139,45 140,47 141,47 142,46 143,44 144,46 145,46 146,45 147,46 148,43 149,46 150,45 151,46 152,47 153,46 154,45 155,43 156,45 157,46 158,47 159,44 160,44 161,46 162,46 163,45 164,45 165,45 166,47 167,46 168,46 169,43 170,45 171,45 172,47 173,47 174,44 175,44 176,46 177,45 178,45 179,46 180,42 181,46 182,46 183,46 184,44 185,45 186,46 187,43 188,45 189,47 190,47 191,45 192,46 193,47 194,44 195,47 196,47 197,46 198,47 199,45 199,52Z" fill="#8c7678"/><path d="M0,52 0,48 1,48 2,47 3,47 4,48 5,49 6,47 7,49 8,47 9,47 10,46 11,49 12,49 13,47 14,49 15,46 16,47 17,49 18,45 19,49 20,50 21,47 22,49 23,48 24,48 25,48 26,47 27,50 28,48 29,47 30,49 31,47 32,49 33,46 34,46 35,49 36,46 37,48 38,49 39,47 40,46 41,48 42,46 43,49 44,49 45,48 46,50 47,48 48,47 49,46 50,46 51,47 52,47 53,46 54,49 55,49 56,48 57,46 58,47 59,49 60,47 61,47 62,46 63,47 64,50 65,47 66,49 67,47 68,49 69,48 70,48 71,46 72,47 73,48 74,49 75,48 76,48 77,46 78,46 79,48 80,48 81,48 82,48 83,47 84,47 85,49 86,44 87,48 88,49 89,46 90,50 91,49 92,49 93,49 94,47 95,47 96,47 97,48 98,49 99,47 100,47 101,49 102,47 103,47 104,49 105,47 106,49 107,48 108,48 109,47 110,50 111,48 112,47 113,47 114,48 115,46 116,47 117,48 118,48 119,47 120,49 121,50 122,47 123,47 124,48 125,47 126,47 127,48 128,50 129,47 130,47 131,49 132,50 133,47 134,48 135,48 136,47 137,48 138,46 139,48 140,48 141,49 142,47 143,47 144,49 145,47 146,48 147,49 148,46 149,47 150,47 151,49 152,49 153,48 154,48 155,46 156,46 157,48 158,49 159,46 160,45 161,47 162,48 163,47 164,47 165,47 166,50 167,48 168,48 169,45 170,48 171,47 172,49 173,50 174,46 175,48 176,47 177,48 178,47 179,47 180,45 181,49 182,49 183,48 184,47 185,48 186,47 187,45 188,47 189,49 190,48 191,48 192,47 193,48 194,48 195,48 196,49 197,48 198,49 199,48 199,52Z" fill="#eadfe0"/><path d="M0,52 0,50 1,50 2,51 3,50 4,50 5,50 6,48 7,50 8,50 9,50 10,48 11,51 12,51 13,49 14,51 15,49 16,50 17,50 18,49 19,50 20,51 21,48 22,50 23,50 24,50 25,51 26,50 27,51 28,50 29,50 30,51 31,50 32,51 33,49 34,50 35,51 36,49 37,50 38,50 39,50 40,48 41,49 42,48 43,51 44,51 45,51 46,51 47,51 48,49 49,49 50,49 51,49 52,50 53,49 54,50 55,51 56,49 57,49 58,49 59,51 60,50 61,50 62,50 63,49 64,51 65,48 66,50 67,50 68,50 69,49 70,51 71,49 72,50 73,50 74,50 75,49 76,50 77,49 78,49 79,51 80,50 81,50 82,49 83,50 84,49 85,49 86,48 87,49 88,50 89,50 90,52 91,50 92,51 93,51 94,48 95,48 96,51 97,50 98,50 99,49 100,49 101,50 102,50 103,49 104,50 105,49 106,50 107,50 108,50 109,50 110,51 111,49 112,48 113,50 114,50 115,48 116,50 117,50 118,50 119,49 120,50 121,50 122,49 123,49 124,49 125,50 126,51 127,50 128,51 129,49 130,49 131,50 132,51 133,50 134,50 135,50 136,51 137,50 138,48 139,51 140,51 141,50 142,50 143,48 144,51 145,50 146,49 147,50 148,49 149,50 150,49 151,50 152,50 153,51 154,48 155,49 156,50 157,50 158,50 159,49 160,48 161,49 162,49 163,51 164,49 165,49 166,51 167,51 168,50 169,49 170,50 171,50 172,50 173,51 174,49 175,49 176,49 177,51 178,50 179,50 180,49 181,51 182,50 183,50 184,49 185,50 186,50 187,48 188,49 189,50 190,49 191,50 192,50 193,49 194,51 195,49 196,50 197,49 198,50 199,50 199,52Z" fill="#c4aeb0"/></svg></div><div style="position:absolute;left:264px;top:688.0px;font-size:10.5px;line-height:12.5px;color:#b8bac2;font-weight:400;white-space:nowrap;width:26px;text-align:right">200</div><div style="position:absolute;left:264px;top:727.0px;font-size:10.5px;line-height:12.5px;color:#b8bac2;font-weight:400;white-space:nowrap;width:26px;text-align:right">0</div><div style="position:absolute;left:383.29px;top:738px;font-size:10.5px;line-height:12.5px;color:#b8bac2;font-weight:400;white-space:nowrap;">10:00</div><div style="position:absolute;left:486.58000000000004px;top:738px;font-size:10.5px;line-height:12.5px;color:#b8bac2;font-weight:400;white-space:nowrap;">10:05</div><div style="position:absolute;left:588.3050000000001px;top:738px;font-size:10.5px;line-height:12.5px;color:#b8bac2;font-weight:400;white-space:nowrap;">10:1</div><div style="position:absolute;left:276px;top:761px;width:11px;height:4px;background:#6aa85c;border-radius:2px"></div><div style="position:absolute;left:290px;top:755px;font-size:10.5px;line-height:12.5px;color:#c4c6cf;font-weight:400;white-space:nowrap;">0</div><div style="position:absolute;left:304px;top:761px;width:11px;height:4px;background:#ecc53f;border-radius:2px"></div><div style="position:absolute;left:318px;top:755px;font-size:10.5px;line-height:12.5px;color:#c4c6cf;font-weight:400;white-space:nowrap;">1</div><div style="position:absolute;left:332px;top:761px;width:11px;height:4px;background:#8db6f5;border-radius:2px"></div><div style="position:absolute;left:346px;top:755px;font-size:10.5px;line-height:12.5px;color:#c4c6cf;font-weight:400;white-space:nowrap;">10</div><div style="position:absolute;left:366px;top:761px;width:11px;height:4px;background:#ef8534;border-radius:2px"></div><div style="position:absolute;left:380px;top:755px;font-size:10.5px;line-height:12.5px;color:#c4c6cf;font-weight:400;white-space:nowrap;">11</div><div style="position:absolute;left:400px;top:761px;width:11px;height:4px;background:#d9444f;border-radius:2px"></div><div style="position:absolute;left:414px;top:755px;font-size:10.5px;line-height:12.5px;color:#c4c6cf;font-weight:400;white-space:nowrap;">12</div><div style="position:absolute;left:434px;top:761px;width:11px;height:4px;background:#4c74d8;border-radius:2px"></div><div style="position:absolute;left:448px;top:755px;font-size:10.5px;line-height:12.5px;color:#c4c6cf;font-weight:400;white-space:nowrap;">13</div><div style="position:absolute;left:468px;top:761px;width:11px;height:4px;background:#a874d4;border-radius:2px"></div><div style="position:absolute;left:482px;top:755px;font-size:10.5px;line-height:12.5px;color:#c4c6cf;font-weight:400;white-space:nowrap;">14</div><div style="position:absolute;left:502px;top:761px;width:11px;height:4px;background:#bf8fe0;border-radius:2px"></div><div style="position:absolute;left:516px;top:755px;font-size:10.5px;line-height:12.5px;color:#c4c6cf;font-weight:400;white-space:nowrap;">15</div><div style="position:absolute;left:536px;top:761px;width:11px;height:4px;background:#4f9a47;border-radius:2px"></div><div style="position:absolute;left:550px;top:755px;font-size:10.5px;line-height:12.5px;color:#c4c6cf;font-weight:400;white-space:nowrap;">16</div><div style="position:absolute;left:276px;top:781px;width:11px;height:4px;background:#ecc53f;border-radius:2px"></div><div style="position:absolute;left:290px;top:775px;font-size:10.5px;line-height:12.5px;color:#c4c6cf;font-weight:400;white-space:nowrap;">17</div><div style="position:absolute;left:310px;top:781px;width:11px;height:4px;background:#4c74d8;border-radius:2px"></div><div style="position:absolute;left:324px;top:775px;font-size:10.5px;line-height:12.5px;color:#c4c6cf;font-weight:400;white-space:nowrap;">18</div><div style="position:absolute;left:344px;top:781px;width:11px;height:4px;background:#ef8534;border-radius:2px"></div><div style="position:absolute;left:358px;top:775px;font-size:10.5px;line-height:12.5px;color:#c4c6cf;font-weight:400;white-space:nowrap;">19</div><div style="position:absolute;left:378px;top:781px;width:11px;height:4px;background:#c4303f;border-radius:2px"></div><div style="position:absolute;left:392px;top:775px;font-size:10.5px;line-height:12.5px;color:#c4c6cf;font-weight:400;white-space:nowrap;">2</div><div style="position:absolute;left:406px;top:781px;width:11px;height:4px;background:#2f66c4;border-radius:2px"></div><div style="position:absolute;left:420px;top:775px;font-size:10.5px;line-height:12.5px;color:#c4c6cf;font-weight:400;white-space:nowrap;">20</div><div style="position:absolute;left:440px;top:781px;width:11px;height:4px;background:#bf8fe0;border-radius:2px"></div><div style="position:absolute;left:454px;top:775px;font-size:10.5px;line-height:12.5px;color:#c4c6cf;font-weight:400;white-space:nowrap;">21</div><div style="position:absolute;left:474px;top:781px;width:11px;height:4px;background:#a874d4;border-radius:2px"></div><div style="position:absolute;left:488px;top:775px;font-size:10.5px;line-height:12.5px;color:#c4c6cf;font-weight:400;white-space:nowrap;">22</div><div style="position:absolute;left:508px;top:781px;width:11px;height:4px;background:#8ccf86;border-radius:2px"></div><div style="position:absolute;left:522px;top:775px;font-size:10.5px;line-height:12.5px;color:#c4c6cf;font-weight:400;white-space:nowrap;">23</div><div style="position:absolute;left:542px;top:781px;width:11px;height:4px;background:#e9cb92;border-radius:2px"></div><div style="position:absolute;left:556px;top:775px;font-size:10.5px;line-height:12.5px;color:#c4c6cf;font-weight:400;white-space:nowrap;">24</div><div style="position:absolute;left:626px;top:634px;width:358px;height:166px;background:#1b1c21;border:1px solid #26282d;border-radius:3px;box-sizing:border-box"></div><div style="position:absolute;left:636px;top:642px;font-size:12.5px;line-height:14.5px;color:#d8d9e0;font-weight:500;white-space:nowrap;">tenant</div><div style="position:absolute;left:934px;top:644px;width:40px;height:21px;background:#2b2d33;border:1px solid #34363c;border-radius:2px;box-sizing:border-box;"><div style="position:absolute;left:0;right:0;top:0;bottom:0;display:flex;align-items:center;justify-content:center;font-size:10.5px;color:#d0d1d8;font-weight:500;white-space:nowrap">Select</div></div><div style="position:absolute;left:660px;top:679px;width:314px;height:80px;border-left:1px solid #25272c"></div><div style="position:absolute;left:660px;top:679px;width:314px;height:80px"><svg width="314" height="80" viewBox="0 0 279 80" preserveAspectRatio="none" style="position:absolute;display:block;overflow:visible"><path d="M0,80 0,32 1,29 2,18 3,24 4,44 5,29 6,31 7,45 8,36 9,51 10,37 11,17 12,24 13,24 14,35 15,38 16,36 17,32 18,16 19,22 20,22 21,29 22,29 23,28 24,27 25,30 26,37 27,33 28,24 29,25 30,37 31,46 32,19 33,31 34,21 35,26 36,33 37,29 38,39 39,24 40,36 41,33 42,34 43,26 44,29 45,40 46,32 47,42 48,35 49,33 50,27 51,22 52,39 53,36 54,28 55,41 56,32 57,25 58,44 59,37 60,39 61,27 62,29 63,33 64,26 65,25 66,23 67,21 68,6 69,28 70,31 71,32 72,44 73,29 74,31 75,37 76,17 77,22 78,22 79,45 80,38 81,29 82,14 83,22 84,38 85,34 86,33 87,35 88,19 89,37 90,37 91,29 92,29 93,32 94,16 95,25 96,34 97,41 98,18 99,19 100,25 101,35 102,34 103,23 104,23 105,28 106,29 107,26 108,27 109,31 110,36 111,16 112,22 113,32 114,19 115,22 116,14 117,22 118,27 119,27 120,30 121,33 122,28 123,34 124,28 125,13 126,31 127,17 128,39 129,17 130,32 131,23 132,35 133,16 134,40 135,23 136,19 137,25 138,30 139,2 140,35 141,23 142,24 143,23 144,29 145,42 146,34 147,24 148,26 149,22 150,28 151,20 152,34 153,34 154,33 155,45 156,38 157,31 158,14 159,25 160,18 161,33 162,26 163,13 164,26 165,32 166,19 167,26 168,31 169,22 170,20 171,27 172,31 173,21 174,19 175,16 176,34 177,40 178,30 179,25 180,22 181,20 182,29 183,26 184,24 185,34 186,23 187,21 188,29 189,19 190,22 191,30 192,14 193,21 194,23 195,18 196,25 197,39 198,27 199,31 200,28 201,25 202,41 203,25 204,10 205,12 206,30 207,25 208,32 209,33 210,20 211,27 212,19 213,16 214,29 215,2 216,28 217,28 218,20 219,9 220,20 221,9 222,37 223,24 224,29 225,17 226,8 227,25 228,13 229,11 230,38 231,1 232,6 233,10 234,16 235,22 236,23 237,25 238,6 239,24 240,23 241,17 242,27 243,32 244,24 245,31 246,13 247,15 248,26 249,20 250,18 251,27 252,28 253,21 254,10 255,33 256,39 257,26 258,24 259,24 260,19 261,29 262,16 263,18 264,31 265,32 266,30 267,34 268,30 269,27 270,16 271,18 272,17 273,0 274,22 275,24 276,34 277,19 278,0 279,22 279,80Z" fill="#d9444f"/><path d="M0,80 0,39 1,33 2,30 3,36 4,48 5,32 6,43 7,45 8,41 9,51 10,44 11,26 12,35 13,31 14,44 15,47 16,36 17,43 18,26 19,30 20,35 21,33 22,40 23,34 24,33 25,37 26,42 27,35 28,31 29,35 30,48 31,47 32,33 33,43 34,33 35,48 36,41 37,39 38,48 39,30 40,41 41,49 42,44 43,36 44,34 45,40 46,46 47,47 48,41 49,39 50,36 51,36 52,43 53,47 54,37 55,43 56,35 57,39 58,47 59,46 60,43 61,38 62,36 63,38 64,35 65,33 66,33 67,33 68,24 69,38 70,36 71,46 72,51 73,39 74,44 75,40 76,35 77,25 78,29 79,46 80,49 81,42 82,29 83,32 84,38 85,42 86,39 87,41 88,30 89,40 90,37 91,35 92,38 93,39 94,27 95,40 96,36 97,43 98,40 99,29 100,33 101,38 102,46 103,43 104,34 105,46 106,51 107,29 108,37 109,34 110,41 111,26 112,36 113,40 114,30 115,28 116,25 117,34 118,37 119,34 120,41 121,37 122,38 123,46 124,41 125,27 126,38 127,31 128,45 129,31 130,38 131,35 132,42 133,32 134,50 135,31 136,24 137,36 138,40 139,27 140,43 141,30 142,24 143,35 144,33 145,47 146,43 147,43 148,35 149,32 150,38 151,31 152,41 153,42 154,45 155,47 156,47 157,44 158,29 159,34 160,30 161,46 162,28 163,32 164,32 165,39 166,26 167,29 168,41 169,35 170,34 171,37 172,39 173,32 174,27 175,26 176,39 177,41 178,47 179,40 180,33 181,30 182,45 183,39 184,41 185,47 186,38 187,30 188,37 189,34 190,28 191,42 192,29 193,32 194,33 195,24 196,32 197,48 198,38 199,40 200,39 201,31 202,45 203,34 204,23 205,26 206,43 207,41 208,40 209,40 210,33 211,39 212,25 213,27 214,36 215,31 216,40 217,44 218,31 219,38 220,31 221,34 222,41 223,34 224,34 225,35 226,23 227,33 228,31 229,34 230,42 231,23 232,22 233,26 234,31 235,28 236,33 237,39 238,31 239,29 240,29 241,30 242,43 243,46 244,32 245,47 246,36 247,47 248,39 249,36 250,31 251,39 252,37 253,37 254,27 255,37 256,44 257,37 258,42 259,38 260,27 261,39 262,34 263,30 264,37 265,36 266,36 267,39 268,44 269,40 270,31 271,41 272,34 273,29 274,30 275,25 276,43 277,30 278,21 279,39 279,80Z" fill="#ef8534"/><path d="M0,80 0,53 1,53 2,49 3,50 4,57 5,41 6,53 7,55 8,53 9,57 10,54 11,39 12,47 13,52 14,54 15,57 16,48 17,54 18,43 19,48 20,48 21,55 22,47 23,48 24,48 25,48 26,48 27,50 28,43 29,46 30,55 31,58 32,47 33,52 34,46 35,55 36,55 37,46 38,54 39,51 40,53 41,54 42,55 43,48 44,50 45,50 46,58 47,60 48,49 49,56 50,50 51,50 52,58 53,59 54,50 55,52 56,47 57,54 58,58 59,56 60,53 61,45 62,45 63,48 64,50 65,52 66,46 67,46 68,43 69,52 70,49 71,52 72,60 73,53 74,54 75,52 76,47 77,41 78,49 79,53 80,58 81,60 82,43 83,40 84,55 85,48 86,52 87,53 88,43 89,58 90,47 91,47 92,53 93,51 94,49 95,53 96,44 97,53 98,49 99,42 100,52 101,52 102,55 103,52 104,47 105,59 106,61 107,49 108,49 109,46 110,53 111,42 112,48 113,45 114,47 115,48 116,40 117,53 118,48 119,47 120,51 121,49 122,47 123,51 124,60 125,47 126,51 127,46 128,56 129,45 130,51 131,47 132,54 133,44 134,61 135,51 136,43 137,49 138,52 139,45 140,53 141,48 142,43 143,51 144,47 145,55 146,56 147,55 148,51 149,45 150,51 151,51 152,54 153,55 154,58 155,62 156,60 157,55 158,47 159,47 160,46 161,58 162,48 163,48 164,44 165,55 166,40 167,43 168,54 169,53 170,54 171,49 172,48 173,43 174,50 175,45 176,54 177,52 178,59 179,53 180,50 181,50 182,54 183,52 184,51 185,54 186,54 187,47 188,49 189,46 190,42 191,52 192,41 193,49 194,47 195,45 196,47 197,58 198,56 199,60 200,55 201,49 202,53 203,53 204,53 205,44 206,55 207,49 208,50 209,53 210,50 211,53 212,41 213,47 214,42 215,41 216,51 217,54 218,41 219,54 220,47 221,50 222,56 223,52 224,51 225,49 226,49 227,50 228,47 229,45 230,54 231,40 232,43 233,43 234,50 235,47 236,54 237,53 238,52 239,39 240,48 241,47 242,53 243,57 244,54 245,56 246,46 247,57 248,53 249,49 250,43 251,55 252,54 253,50 254,41 255,52 256,58 257,56 258,54 259,47 260,42 261,48 262,47 263,46 264,52 265,50 266,51 267,52 268,55 269,51 270,45 271,59 272,49 273,42 274,50 275,48 276,54 277,48 278,48 279,49 279,80Z" fill="#8db6f5"/><path d="M0,80 0,56 1,60 2,54 3,53 4,62 5,50 6,61 7,60 8,61 9,63 10,65 11,48 12,56 13,58 14,55 15,63 16,55 17,60 18,50 19,58 20,55 21,57 22,52 23,57 24,58 25,57 26,54 27,57 28,54 29,51 30,57 31,62 32,53 33,62 34,52 35,59 36,58 37,54 38,58 39,61 40,55 41,56 42,59 43,52 44,58 45,56 46,60 47,65 48,56 49,62 50,57 51,55 52,63 53,62 54,61 55,63 56,58 57,63 58,60 59,63 60,58 61,55 62,55 63,58 64,56 65,61 66,52 67,51 68,53 69,57 70,59 71,55 72,66 73,56 74,61 75,59 76,58 77,51 78,59 79,59 80,63 81,63 82,51 83,48 84,62 85,56 86,58 87,60 88,53 89,62 90,55 91,53 92,57 93,56 94,57 95,61 96,54 97,56 98,53 99,49 100,58 101,60 102,57 103,59 104,59 105,65 106,65 107,56 108,57 109,53 110,56 111,54 112,53 113,54 114,55 115,60 116,52 117,60 118,52 119,56 120,56 121,54 122,50 123,56 124,63 125,55 126,56 127,58 128,60 129,54 130,58 131,57 132,62 133,55 134,65 135,60 136,53 137,59 138,60 139,51 140,58 141,54 142,53 143,54 144,57 145,59 146,58 147,63 148,62 149,54 150,60 151,60 152,56 153,58 154,66 155,65 156,64 157,60 158,54 159,57 160,52 161,66 162,55 163,54 164,49 165,64 166,50 167,49 168,63 169,64 170,59 171,58 172,59 173,52 174,59 175,56 176,57 177,61 178,63 179,63 180,60 181,57 182,62 183,58 184,60 185,58 186,61 187,54 188,57 189,55 190,51 191,60 192,47 193,58 194,57 195,52 196,54 197,63 198,60 199,64 200,60 201,53 202,58 203,62 204,57 205,49 206,61 207,60 208,56 209,63 210,57 211,60 212,51 213,54 214,50 215,52 216,56 217,63 218,49 219,58 220,56 221,58 222,60 223,57 224,59 225,58 226,57 227,58 228,57 229,57 230,58 231,49 232,51 233,50 234,60 235,55 236,56 237,57 238,61 239,48 240,57 241,55 242,58 243,62 244,60 245,60 246,56 247,61 248,59 249,60 250,51 251,57 252,60 253,56 254,54 255,61 256,64 257,61 258,60 259,55 260,50 261,56 262,56 263,56 264,60 265,58 266,59 267,62 268,61 269,60 270,56 271,64 272,56 273,53 274,60 275,57 276,61 277,51 278,55 279,53 279,80Z" fill="#ecc53f"/><path d="M0,80 0,71 1,71 2,70 3,70 4,73 5,67 6,73 7,70 8,73 9,72 10,73 11,65 12,67 13,69 14,66 15,73 16,72 17,70 18,68 19,67 20,68 21,72 22,65 23,72 24,69 25,69 26,68 27,72 28,66 29,65 30,71 31,70 32,69 33,74 34,71 35,72 36,71 37,68 38,67 39,69 40,69 41,71 42,71 43,69 44,70 45,67 46,70 47,73 48,70 49,70 50,69 51,70 52,71 53,72 54,70 55,72 56,68 57,70 58,74 59,75 60,70 61,69 62,71 63,69 64,70 65,73 66,70 67,68 68,68 69,68 70,70 71,72 72,73 73,72 74,73 75,70 76,69 77,67 78,68 79,72 80,72 81,71 82,70 83,66 84,74 85,69 86,70 87,70 88,68 89,72 90,67 91,71 92,70 93,66 94,67 95,69 96,69 97,67 98,72 99,67 100,71 101,69 102,67 103,68 104,70 105,74 106,74 107,72 108,73 109,71 110,68 111,68 112,69 113,66 114,70 115,74 116,69 117,72 118,71 119,67 120,72 121,69 122,69 123,72 124,74 125,69 126,72 127,67 128,73 129,70 130,67 131,71 132,73 133,73 134,73 135,74 136,70 137,69 138,71 139,69 140,68 141,70 142,69 143,69 144,70 145,66 146,69 147,73 148,71 149,68 150,73 151,71 152,71 153,68 154,73 155,75 156,73 157,72 158,69 159,69 160,69 161,73 162,72 163,68 164,68 165,73 166,65 167,65 168,70 169,72 170,67 171,72 172,75 173,67 174,68 175,66 176,68 177,72 178,72 179,72 180,72 181,70 182,75 183,66 184,72 185,73 186,72 187,71 188,71 189,67 190,70 191,71 192,66 193,70 194,73 195,69 196,67 197,74 198,68 199,72 200,70 201,67 202,67 203,71 204,68 205,68 206,68 207,70 208,66 209,72 210,69 211,71 212,67 213,70 214,67 215,68 216,69 217,72 218,65 219,70 220,67 221,72 222,70 223,72 224,68 225,71 226,67 227,68 228,67 229,69 230,72 231,67 232,67 233,66 234,71 235,73 236,71 237,71 238,69 239,65 240,67 241,73 242,71 243,71 244,68 245,71 246,72 247,69 248,68 249,74 250,69 251,73 252,69 253,70 254,70 255,70 256,73 257,73 258,70 259,69 260,66 261,69 262,71 263,68 264,68 265,69 266,70 267,75 268,70 269,73 270,69 271,73 272,70 273,67 274,68 275,69 276,74 277,68 278,67 279,67 279,80Z" fill="#6aa85c"/></svg></div><div style="position:absolute;left:630px;top:672.0px;font-size:10.5px;line-height:12.5px;color:#b8bac2;font-weight:400;white-space:nowrap;width:26px;text-align:right">60</div><div style="position:absolute;left:630px;top:698.64px;font-size:10.5px;line-height:12.5px;color:#b8bac2;font-weight:400;white-space:nowrap;width:26px;text-align:right">40</div><div style="position:absolute;left:630px;top:725.36px;font-size:10.5px;line-height:12.5px;color:#b8bac2;font-weight:400;white-space:nowrap;width:26px;text-align:right">20</div><div style="position:absolute;left:630px;top:752.0px;font-size:10.5px;line-height:12.5px;color:#b8bac2;font-weight:400;white-space:nowrap;width:26px;text-align:right">0</div><div style="position:absolute;left:749.62px;top:763px;font-size:10.5px;line-height:12.5px;color:#b8bac2;font-weight:400;white-space:nowrap;">10:00</div><div style="position:absolute;left:853.24px;top:763px;font-size:10.5px;line-height:12.5px;color:#b8bac2;font-weight:400;white-space:nowrap;">10:05</div><div style="position:absolute;left:955.29px;top:763px;font-size:10.5px;line-height:12.5px;color:#b8bac2;font-weight:400;white-space:nowrap;">10:1</div><div style="position:absolute;left:640px;top:786px;width:12px;height:4px;background:#6aa85c;border-radius:2px"></div><div style="position:absolute;left:657px;top:780px;font-size:10.5px;line-height:12.5px;color:#c4c6cf;font-weight:400;white-space:nowrap;">1010</div><div style="position:absolute;left:686px;top:786px;width:12px;height:4px;background:#ecc53f;border-radius:2px"></div><div style="position:absolute;left:703px;top:780px;font-size:10.5px;line-height:12.5px;color:#c4c6cf;font-weight:400;white-space:nowrap;">1218</div><div style="position:absolute;left:732px;top:786px;width:12px;height:4px;background:#8db6f5;border-radius:2px"></div><div style="position:absolute;left:749px;top:780px;font-size:10.5px;line-height:12.5px;color:#c4c6cf;font-weight:400;white-space:nowrap;">2419</div><div style="position:absolute;left:778px;top:786px;width:12px;height:4px;background:#ef8534;border-radius:2px"></div><div style="position:absolute;left:795px;top:780px;font-size:10.5px;line-height:12.5px;color:#c4c6cf;font-weight:400;white-space:nowrap;">29</div><div style="position:absolute;left:814px;top:786px;width:12px;height:4px;background:#d9444f;border-radius:2px"></div><div style="position:absolute;left:831px;top:780px;font-size:10.5px;line-height:12.5px;color:#c4c6cf;font-weight:400;white-space:nowrap;">2919</div><div style="position:absolute;left:991px;top:634px;width:359px;height:166px;background:#1b1c21;border:1px solid #26282d;border-radius:3px;box-sizing:border-box"></div><div style="position:absolute;left:1001px;top:642px;font-size:12.5px;line-height:14.5px;color:#d8d9e0;font-weight:500;white-space:nowrap;">userid</div><div style="position:absolute;left:1300px;top:644px;width:40px;height:21px;background:#2b2d33;border:1px solid #34363c;border-radius:2px;box-sizing:border-box;"><div style="position:absolute;left:0;right:0;top:0;bottom:0;display:flex;align-items:center;justify-content:center;font-size:10.5px;color:#d0d1d8;font-weight:500;white-space:nowrap">Select</div></div><div style="position:absolute;left:1025px;top:668px;width:314px;height:86px;border-left:1px solid #25272c"></div><div style="position:absolute;left:1025px;top:668px;width:314px;height:86px"><svg width="314" height="86" viewBox="0 0 279 86" preserveAspectRatio="none" style="position:absolute;display:block;overflow:visible"><path d="M0,86 0,29 1,20 2,22 3,31 4,27 5,21 6,17 7,22 8,20 9,24 10,17 11,24 12,20 13,27 14,32 15,26 16,24 17,30 18,30 19,20 20,22 21,33 22,29 23,31 24,24 25,25 26,21 27,26 28,20 29,19 30,28 31,25 32,19 33,25 34,27 35,18 36,21 37,28 38,31 39,24 40,21 41,22 42,22 43,30 44,20 45,31 46,15 47,25 48,22 49,33 50,27 51,35 52,24 53,21 54,17 55,30 56,24 57,23 58,25 59,26 60,26 61,29 62,22 63,23 64,23 65,23 66,24 67,14 68,22 69,20 70,20 71,16 72,21 73,23 74,28 75,28 76,17 77,24 78,26 79,27 80,21 81,25 82,16 83,17 84,26 85,21 86,28 87,18 88,26 89,32 90,27 91,19 92,26 93,18 94,27 95,26 96,21 97,17 98,27 99,22 100,18 101,19 102,25 103,23 104,21 105,30 106,19 107,18 108,25 109,18 110,28 111,21 112,27 113,32 114,22 115,17 116,30 117,28 118,27 119,21 120,19 121,23 122,24 123,25 124,22 125,23 126,20 127,26 128,31 129,26 130,23 131,22 132,21 133,13 134,19 135,21 136,19 137,20 138,26 139,21 140,23 141,18 142,26 143,18 144,28 145,25 146,26 147,27 148,21 149,22 150,19 151,20 152,23 153,16 154,22 155,16 156,21 157,24 158,20 159,9 160,10 161,23 162,24 163,17 164,24 165,21 166,19 167,16 168,24 169,25 170,16 171,17 172,17 173,30 174,22 175,14 176,25 177,8 178,19 179,18 180,18 181,22 182,23 183,21 184,19 185,23 186,25 187,19 188,21 189,20 190,19 191,14 192,25 193,17 194,21 195,15 196,16 197,15 198,18 199,24 200,24 201,23 202,9 203,22 204,19 205,22 206,25 207,15 208,18 209,16 210,19 211,15 212,11 213,22 214,15 215,20 216,14 217,16 218,20 219,22 220,18 221,20 222,10 223,19 224,16 225,18 226,22 227,21 228,23 229,25 230,16 231,19 232,22 233,18 234,23 235,23 236,2 237,22 238,19 239,16 240,21 241,17 242,20 243,18 244,16 245,14 246,18 247,4 248,24 249,16 250,14 251,24 252,19 253,17 254,17 255,9 256,16 257,14 258,14 259,17 260,28 261,17 262,15 263,20 264,12 265,25 266,25 267,16 268,27 269,21 270,12 271,15 272,20 273,20 274,16 275,19 276,9 277,14 278,14 279,21 279,86Z" fill="#d9444f"/><path d="M0,86 0,43 1,34 2,32 3,43 4,40 5,36 6,31 7,35 8,33 9,39 10,36 11,36 12,37 13,39 14,41 15,36 16,37 17,39 18,38 19,34 20,34 21,42 22,40 23,42 24,40 25,40 26,38 27,36 28,34 29,33 30,37 31,36 32,37 33,38 34,38 35,35 36,41 37,39 38,42 39,37 40,36 41,36 42,33 43,38 44,31 45,40 46,32 47,40 48,36 49,41 50,37 51,44 52,41 53,37 54,34 55,42 56,39 57,39 58,36 59,40 60,38 61,39 62,34 63,36 64,35 65,38 66,36 67,34 68,35 69,38 70,37 71,33 72,33 73,33 74,43 75,40 76,34 77,36 78,40 79,41 80,34 81,39 82,32 83,31 84,37 85,32 86,37 87,41 88,39 89,44 90,43 91,37 92,36 93,40 94,38 95,38 96,35 97,33 98,43 99,33 100,34 101,36 102,38 103,35 104,36 105,38 106,39 107,34 108,38 109,32 110,36 111,36 112,38 113,41 114,36 115,31 116,41 117,40 118,37 119,30 120,37 121,38 122,37 123,39 124,36 125,37 126,37 127,36 128,40 129,39 130,37 131,32 132,38 133,32 134,33 135,38 136,35 137,34 138,43 139,36 140,40 141,34 142,41 143,30 144,41 145,35 146,38 147,38 148,32 149,37 150,36 151,33 152,41 153,29 154,40 155,33 156,33 157,35 158,34 159,26 160,37 161,38 162,38 163,33 164,37 165,36 166,35 167,36 168,38 169,39 170,34 171,31 172,35 173,40 174,34 175,35 176,37 177,31 178,33 179,34 180,37 181,40 182,35 183,34 184,36 185,35 186,38 187,36 188,36 189,33 190,35 191,30 192,36 193,35 194,35 195,31 196,31 197,33 198,33 199,34 200,36 201,35 202,32 203,34 204,37 205,35 206,38 207,32 208,34 209,35 210,33 211,32 212,29 213,36 214,33 215,34 216,32 217,29 218,36 219,34 220,28 221,33 222,30 223,33 224,33 225,33 226,36 227,38 228,39 229,37 230,30 231,32 232,38 233,29 234,34 235,34 236,26 237,36 238,34 239,32 240,37 241,37 242,36 243,33 244,29 245,30 246,34 247,31 248,35 249,42 250,34 251,36 252,31 253,34 254,35 255,29 256,31 257,31 258,28 259,34 260,40 261,33 262,33 263,31 264,36 265,40 266,38 267,32 268,37 269,37 270,27 271,27 272,36 273,32 274,31 275,35 276,35 277,33 278,30 279,38 279,86Z" fill="#ef8534"/><path d="M0,86 0,59 1,51 2,48 3,57 4,54 5,54 6,47 7,51 8,47 9,50 10,54 11,51 12,50 13,54 14,53 15,53 16,53 17,54 18,53 19,50 20,48 21,55 22,55 23,55 24,54 25,54 26,55 27,53 28,48 29,51 30,51 31,53 32,51 33,55 34,56 35,50 36,56 37,54 38,53 39,49 40,52 41,49 42,51 43,54 44,48 45,56 46,48 47,54 48,52 49,53 50,53 51,56 52,58 53,49 54,51 55,55 56,54 57,54 58,53 59,55 60,53 61,54 62,47 63,49 64,52 65,55 66,52 67,50 68,50 69,53 70,49 71,51 72,51 73,51 74,55 75,54 76,50 77,53 78,53 79,55 80,51 81,51 82,48 83,50 84,53 85,48 86,53 87,54 88,52 89,55 90,55 91,50 92,52 93,51 94,52 95,53 96,54 97,51 98,56 99,51 100,47 101,50 102,53 103,53 104,52 105,50 106,52 107,50 108,52 109,48 110,51 111,55 112,53 113,54 114,51 115,51 116,55 117,53 118,54 119,51 120,51 121,53 122,55 123,54 124,53 125,52 126,50 127,51 128,54 129,53 130,53 131,52 132,51 133,46 134,51 135,52 136,50 137,50 138,55 139,50 140,55 141,53 142,54 143,49 144,55 145,52 146,54 147,52 148,50 149,52 150,49 151,50 152,55 153,47 154,54 155,50 156,50 157,49 158,47 159,46 160,54 161,54 162,50 163,50 164,51 165,51 166,55 167,50 168,50 169,56 170,50 171,47 172,52 173,53 174,49 175,52 176,54 177,49 178,49 179,51 180,52 181,56 182,51 183,49 184,53 185,52 186,55 187,52 188,51 189,48 190,54 191,45 192,52 193,54 194,54 195,50 196,49 197,53 198,48 199,48 200,51 201,52 202,53 203,54 204,52 205,52 206,52 207,50 208,52 209,54 210,53 211,51 212,48 213,53 214,48 215,49 216,50 217,47 218,51 219,51 220,45 221,48 222,49 223,49 224,51 225,49 226,55 227,53 228,55 229,54 230,49 231,52 232,52 233,48 234,50 235,52 236,45 237,51 238,52 239,50 240,55 241,50 242,52 243,49 244,47 245,49 246,53 247,48 248,53 249,57 250,49 251,51 252,48 253,52 254,52 255,50 256,52 257,50 258,48 259,52 260,54 261,51 262,51 263,51 264,53 265,55 266,52 267,50 268,55 269,52 270,47 271,46 272,53 273,50 274,48 275,52 276,53 277,50 278,51 279,53 279,86Z" fill="#8db6f5"/><path d="M0,86 0,67 1,60 2,60 3,64 4,65 5,63 6,58 7,59 8,59 9,60 10,62 11,60 12,60 13,61 14,63 15,61 16,63 17,63 18,62 19,59 20,60 21,65 22,65 23,63 24,61 25,62 26,63 27,63 28,58 29,59 30,62 31,64 32,61 33,65 34,65 35,60 36,65 37,62 38,62 39,61 40,62 41,57 42,62 43,62 44,60 45,64 46,60 47,66 48,62 49,61 50,59 51,63 52,66 53,60 54,62 55,64 56,66 57,63 58,62 59,62 60,61 61,62 62,59 63,62 64,61 65,65 66,62 67,60 68,60 69,64 70,60 71,60 72,58 73,61 74,65 75,62 76,62 77,62 78,64 79,63 80,61 81,60 82,60 83,60 84,61 85,59 86,64 87,64 88,61 89,65 90,64 91,61 92,63 93,62 94,64 95,63 96,61 97,63 98,63 99,60 100,58 101,63 102,63 103,62 104,63 105,63 106,63 107,61 108,61 109,61 110,62 111,64 112,64 113,65 114,63 115,60 116,64 117,66 118,64 119,59 120,63 121,65 122,65 123,64 124,63 125,60 126,59 127,60 128,64 129,64 130,63 131,63 132,61 133,57 134,60 135,65 136,62 137,61 138,64 139,61 140,65 141,62 142,63 143,61 144,64 145,62 146,66 147,62 148,61 149,59 150,59 151,59 152,63 153,60 154,63 155,60 156,63 157,60 158,58 159,59 160,62 161,62 162,59 163,62 164,61 165,63 166,63 167,58 168,60 169,66 170,60 171,59 172,62 173,62 174,61 175,62 176,63 177,63 178,62 179,63 180,64 181,64 182,62 183,61 184,63 185,63 186,64 187,64 188,64 189,61 190,63 191,59 192,62 193,63 194,64 195,61 196,61 197,65 198,60 199,62 200,62 201,61 202,63 203,66 204,63 205,62 206,65 207,64 208,64 209,65 210,63 211,63 212,59 213,63 214,62 215,63 216,62 217,59 218,62 219,61 220,59 221,62 222,62 223,61 224,61 225,59 226,64 227,64 228,63 229,63 230,61 231,63 232,65 233,63 234,62 235,63 236,59 237,63 238,63 239,63 240,66 241,61 242,65 243,60 244,61 245,63 246,64 247,61 248,65 249,66 250,61 251,64 252,60 253,63 254,62 255,60 256,64 257,64 258,62 259,63 260,65 261,64 262,62 263,64 264,63 265,64 266,63 267,62 268,64 269,65 270,62 271,59 272,64 273,62 274,61 275,63 276,64 277,63 278,65 279,62 279,86Z" fill="#ecc53f"/><path d="M0,86 0,77 1,74 2,76 3,77 4,76 5,75 6,74 7,73 8,73 9,76 10,77 11,75 12,74 13,75 14,75 15,76 16,76 17,73 18,74 19,74 20,74 21,76 22,77 23,76 24,76 25,76 26,76 27,76 28,72 29,73 30,75 31,74 32,76 33,76 34,76 35,75 36,76 37,77 38,75 39,76 40,74 41,72 42,76 43,75 44,73 45,76 46,75 47,77 48,75 49,74 50,75 51,75 52,76 53,73 54,74 55,75 56,77 57,74 58,75 59,75 60,76 61,75 62,74 63,74 64,75 65,77 66,75 67,74 68,75 69,75 70,75 71,75 72,73 73,74 74,77 75,73 76,75 77,76 78,76 79,75 80,74 81,75 82,74 83,72 84,75 85,75 86,76 87,78 88,77 89,76 90,77 91,76 92,74 93,75 94,76 95,77 96,74 97,76 98,75 99,73 100,73 101,74 102,73 103,75 104,75 105,76 106,75 107,73 108,74 109,74 110,76 111,76 112,76 113,75 114,73 115,75 116,76 117,77 118,76 119,75 120,76 121,77 122,76 123,77 124,74 125,72 126,75 127,74 128,76 129,75 130,76 131,76 132,73 133,73 134,75 135,76 136,74 137,76 138,76 139,75 140,77 141,75 142,76 143,75 144,76 145,74 146,76 147,75 148,74 149,72 150,75 151,73 152,76 153,74 154,75 155,74 156,77 157,76 158,74 159,75 160,75 161,73 162,74 163,75 164,75 165,75 166,76 167,74 168,75 169,77 170,75 171,74 172,74 173,75 174,75 175,76 176,76 177,77 178,77 179,75 180,75 181,75 182,77 183,76 184,75 185,75 186,76 187,76 188,75 189,76 190,76 191,74 192,76 193,75 194,75 195,74 196,73 197,78 198,73 199,74 200,75 201,74 202,73 203,76 204,76 205,75 206,75 207,75 208,75 209,77 210,75 211,77 212,74 213,76 214,76 215,73 216,73 217,73 218,74 219,74 220,73 221,77 222,74 223,76 224,75 225,73 226,75 227,76 228,75 229,75 230,76 231,77 232,77 233,76 234,75 235,75 236,74 237,76 238,74 239,76 240,76 241,73 242,76 243,75 244,75 245,75 246,76 247,74 248,75 249,76 250,76 251,74 252,74 253,76 254,74 255,74 256,75 257,74 258,76 259,76 260,76 261,73 262,76 263,74 264,75 265,76 266,74 267,75 268,74 269,76 270,75 271,74 272,75 273,75 274,73 275,75 276,76 277,74 278,77 279,76 279,86Z" fill="#6aa85c"/></svg></div><div style="position:absolute;left:995px;top:669.6px;font-size:10.5px;line-height:12.5px;color:#b8bac2;font-weight:400;white-space:nowrap;width:26px;text-align:right">200</div><div style="position:absolute;left:995px;top:704.0px;font-size:10.5px;line-height:12.5px;color:#b8bac2;font-weight:400;white-space:nowrap;width:26px;text-align:right">100</div><div style="position:absolute;left:995px;top:747.0px;font-size:10.5px;line-height:12.5px;color:#b8bac2;font-weight:400;white-space:nowrap;width:26px;text-align:right">0</div><div style="position:absolute;left:1114.62px;top:758px;font-size:10.5px;line-height:12.5px;color:#b8bac2;font-weight:400;white-space:nowrap;">10:00</div><div style="position:absolute;left:1218.24px;top:758px;font-size:10.5px;line-height:12.5px;color:#b8bac2;font-weight:400;white-space:nowrap;">10:05</div><div style="position:absolute;left:1320.29px;top:758px;font-size:10.5px;line-height:12.5px;color:#b8bac2;font-weight:400;white-space:nowrap;">10:1</div><div style="position:absolute;left:1005px;top:781px;width:12px;height:4px;background:#6aa85c;border-radius:2px"></div><div style="position:absolute;left:1022px;top:775px;font-size:10.5px;line-height:12.5px;color:#c4c6cf;font-weight:400;white-space:nowrap;">1010</div><div style="position:absolute;left:1051px;top:781px;width:12px;height:4px;background:#ecc53f;border-radius:2px"></div><div style="position:absolute;left:1068px;top:775px;font-size:10.5px;line-height:12.5px;color:#c4c6cf;font-weight:400;white-space:nowrap;">1218</div><div style="position:absolute;left:1097px;top:781px;width:12px;height:4px;background:#8db6f5;border-radius:2px"></div><div style="position:absolute;left:1114px;top:775px;font-size:10.5px;line-height:12.5px;color:#c4c6cf;font-weight:400;white-space:nowrap;">2419</div><div style="position:absolute;left:1143px;top:781px;width:12px;height:4px;background:#ef8534;border-radius:2px"></div><div style="position:absolute;left:1160px;top:775px;font-size:10.5px;line-height:12.5px;color:#c4c6cf;font-weight:400;white-space:nowrap;">29</div><div style="position:absolute;left:1179px;top:781px;width:12px;height:4px;background:#d9444f;border-radius:2px"></div><div style="position:absolute;left:1196px;top:775px;font-size:10.5px;line-height:12.5px;color:#c4c6cf;font-weight:400;white-space:nowrap;">2919</div><div style="position:absolute;left:262px;top:807px;width:357px;height:166px;background:#1b1c21;border:1px solid #26282d;border-radius:3px;box-sizing:border-box"></div><div style="position:absolute;left:272px;top:815px;font-size:12.5px;line-height:14.5px;color:#d8d9e0;font-weight:500;white-space:nowrap;">version</div><div style="position:absolute;left:569px;top:817px;width:40px;height:21px;background:#2b2d33;border:1px solid #34363c;border-radius:2px;box-sizing:border-box;"><div style="position:absolute;left:0;right:0;top:0;bottom:0;display:flex;align-items:center;justify-content:center;font-size:10.5px;color:#d0d1d8;font-weight:500;white-space:nowrap">Select</div></div><div style="position:absolute;left:294px;top:855px;width:313px;height:52px;border-left:1px solid #25272c"></div><div style="position:absolute;left:294px;top:855px;width:313px;height:52px"><svg width="313" height="52" viewBox="0 0 199 52" preserveAspectRatio="none" style="position:absolute;display:block;overflow:visible"><path d="M0,52 0,13 1,14 2,14 3,10 4,14 5,11 6,6 7,12 8,22 9,16 10,6 11,13 12,6 13,21 14,16 15,15 16,9 17,10 18,8 19,15 20,13 21,14 22,15 23,11 24,12 25,13 26,9 27,15 28,16 29,14 30,21 31,16 32,15 33,11 34,15 35,10 36,10 37,11 38,6 39,18 40,15 41,5 42,17 43,13 44,11 45,12 46,9 47,14 48,12 49,11 50,15 51,9 52,10 53,18 54,12 55,5 56,10 57,9 58,9 59,17 60,17 61,16 62,16 63,10 64,14 65,14 66,13 67,13 68,12 69,13 70,12 71,14 72,15 73,13 74,15 75,17 76,20 77,13 78,19 79,7 80,13 81,8 82,12 83,10 84,16 85,21 86,12 87,10 88,13 89,13 90,14 91,11 92,10 93,9 94,11 95,15 96,14 97,8 98,13 99,13 100,16 101,19 102,9 103,12 104,10 105,15 106,19 107,16 108,15 109,9 110,14 111,8 112,13 113,11 114,8 115,11 116,10 117,9 118,7 119,3 120,9 121,13 122,15 123,11 124,17 125,10 126,11 127,10 128,4 129,11 130,11 131,13 132,13 133,9 134,11 135,13 136,15 137,12 138,15 139,12 140,17 141,18 142,13 143,17 144,11 145,11 146,16 147,12 148,9 149,11 150,9 151,13 152,11 153,12 154,11 155,10 156,11 157,8 158,12 159,13 160,7 161,13 162,12 163,8 164,16 165,14 166,15 167,5 168,13 169,7 170,13 171,5 172,11 173,13 174,12 175,13 176,6 177,11 178,13 179,9 180,10 181,14 182,7 183,11 184,19 185,9 186,13 187,13 188,12 189,14 190,8 191,12 192,16 193,14 194,16 195,14 196,12 197,11 198,11 199,15 199,52Z" fill="#c9b89a"/><path d="M0,52 0,16 1,17 2,16 3,12 4,17 5,15 6,8 7,14 8,24 9,19 10,10 11,16 12,9 13,22 14,17 15,16 16,13 17,12 18,10 19,17 20,15 21,17 22,16 23,12 24,15 25,14 26,12 27,17 28,17 29,17 30,23 31,18 32,17 33,12 34,18 35,12 36,12 37,14 38,9 39,20 40,18 41,7 42,19 43,15 44,12 45,13 46,10 47,15 48,14 49,13 50,17 51,12 52,13 53,20 54,15 55,7 56,13 57,11 58,9 59,18 60,18 61,18 62,18 63,11 64,17 65,15 66,14 67,14 68,14 69,15 70,14 71,16 72,18 73,15 74,17 75,19 76,23 77,15 78,22 79,11 80,14 81,10 82,14 83,14 84,19 85,23 86,15 87,13 88,16 89,16 90,17 91,15 92,13 93,13 94,13 95,18 96,15 97,10 98,13 99,16 100,19 101,21 102,11 103,15 104,13 105,17 106,20 107,19 108,17 109,12 110,16 111,9 112,15 113,14 114,11 115,13 116,12 117,11 118,10 119,6 120,12 121,14 122,16 123,15 124,19 125,12 126,13 127,12 128,8 129,13 130,14 131,16 132,16 133,12 134,15 135,16 136,18 137,14 138,17 139,14 140,17 141,20 142,15 143,18 144,13 145,13 146,18 147,15 148,12 149,14 150,10 151,16 152,12 153,16 154,13 155,13 156,14 157,9 158,13 159,14 160,9 161,15 162,15 163,11 164,18 165,15 166,16 167,9 168,16 169,10 170,14 171,8 172,14 173,15 174,14 175,14 176,8 177,14 178,16 179,11 180,12 181,17 182,10 183,14 184,19 185,11 186,15 187,15 188,13 189,16 190,10 191,12 192,18 193,17 194,17 195,16 196,15 197,14 198,14 199,17 199,52Z" fill="#a9b3c9"/><path d="M0,52 0,17 1,20 2,17 3,13 4,19 5,16 6,12 7,16 8,28 9,21 10,12 11,17 12,13 13,25 14,18 15,19 16,14 17,15 18,12 19,18 20,17 21,18 22,18 23,15 24,17 25,15 26,14 27,20 28,19 29,21 30,23 31,19 32,18 33,13 34,21 35,14 36,14 37,16 38,11 39,21 40,19 41,11 42,23 43,17 44,15 45,14 46,12 47,17 48,16 49,14 50,19 51,14 52,15 53,21 54,18 55,10 56,15 57,13 58,12 59,20 60,21 61,19 62,20 63,14 64,19 65,17 66,17 67,16 68,15 69,17 70,16 71,19 72,21 73,18 74,19 75,20 76,25 77,17 78,24 79,14 80,17 81,12 82,16 83,16 84,22 85,26 86,17 87,16 88,18 89,19 90,19 91,17 92,14 93,14 94,16 95,19 96,18 97,13 98,14 99,18 100,21 101,23 102,14 103,18 104,16 105,18 106,22 107,21 108,20 109,15 110,19 111,13 112,18 113,17 114,15 115,15 116,15 117,15 118,13 119,9 120,13 121,17 122,17 123,17 124,22 125,16 126,15 127,14 128,9 129,14 130,15 131,19 132,17 133,13 134,16 135,18 136,19 137,15 138,19 139,16 140,20 141,23 142,18 143,20 144,15 145,17 146,18 147,16 148,15 149,16 150,12 151,17 152,13 153,17 154,16 155,16 156,16 157,12 158,14 159,15 160,12 161,18 162,18 163,13 164,22 165,18 166,19 167,12 168,19 169,13 170,16 171,11 172,16 173,18 174,15 175,16 176,10 177,17 178,20 179,15 180,14 181,19 182,11 183,16 184,21 185,13 186,16 187,15 188,16 189,18 190,11 191,14 192,19 193,19 194,20 195,19 196,16 197,17 198,15 199,19 199,52Z" fill="#b8a0a8"/><path d="M0,52 0,18 1,21 2,19 3,14 4,21 5,17 6,14 7,19 8,30 9,22 10,14 11,21 12,15 13,26 14,21 15,21 16,16 17,18 18,15 19,20 20,21 21,21 22,20 23,17 24,18 25,16 26,16 27,21 28,21 29,23 30,25 31,22 32,21 33,15 34,22 35,15 36,15 37,18 38,14 39,23 40,21 41,13 42,25 43,18 44,16 45,17 46,15 47,18 48,18 49,17 50,20 51,18 52,18 53,24 54,20 55,13 56,18 57,16 58,15 59,23 60,22 61,21 62,23 63,16 64,21 65,17 66,20 67,19 68,18 69,18 70,19 71,22 72,22 73,21 74,21 75,23 76,26 77,19 78,26 79,17 80,20 81,15 82,17 83,17 84,23 85,28 86,19 87,19 88,20 89,21 90,20 91,18 92,17 93,16 94,18 95,21 96,21 97,16 98,17 99,19 100,23 101,26 102,17 103,19 104,18 105,21 106,24 107,23 108,21 109,17 110,20 111,15 112,20 113,18 114,17 115,19 116,17 117,17 118,16 119,11 120,16 121,18 122,20 123,20 124,24 125,18 126,17 127,16 128,11 129,16 130,18 131,22 132,20 133,16 134,19 135,19 136,21 137,18 138,22 139,18 140,22 141,25 142,20 143,23 144,18 145,20 146,20 147,19 148,18 149,18 150,14 151,19 152,17 153,18 154,19 155,19 156,19 157,15 158,17 159,17 160,13 161,19 162,20 163,16 164,23 165,20 166,21 167,14 168,20 169,16 170,19 171,14 172,18 173,20 174,18 175,19 176,13 177,20 178,21 179,18 180,17 181,21 182,14 183,18 184,23 185,14 186,17 187,19 188,19 189,21 190,15 191,17 192,20 193,21 194,23 195,20 196,19 197,19 198,17 199,21 199,52Z" fill="#e4d4d0"/><path d="M0,52 0,22 1,23 2,21 3,17 4,23 5,19 6,16 7,21 8,31 9,24 10,16 11,23 12,18 13,27 14,22 15,22 16,19 17,19 18,18 19,20 20,23 21,24 22,23 23,18 24,20 25,18 26,18 27,23 28,22 29,26 30,27 31,23 32,24 33,17 34,26 35,17 36,18 37,20 38,16 39,25 40,23 41,15 42,26 43,20 44,19 45,19 46,19 47,20 48,20 49,19 50,22 51,21 52,19 53,26 54,22 55,15 56,21 57,19 58,19 59,27 60,24 61,23 62,26 63,19 64,23 65,18 66,22 67,21 68,19 69,21 70,20 71,23 72,25 73,23 74,23 75,24 76,27 77,20 78,28 79,19 80,23 81,18 82,19 83,18 84,24 85,29 86,22 87,22 88,23 89,24 90,23 91,21 92,21 93,19 94,19 95,22 96,22 97,20 98,18 99,22 100,24 101,29 102,18 103,21 104,21 105,22 106,25 107,26 108,23 109,20 110,21 111,18 112,22 113,19 114,19 115,21 116,18 117,20 118,18 119,14 120,17 121,20 122,22 123,21 124,27 125,21 126,21 127,18 128,13 129,18 130,21 131,24 132,21 133,18 134,22 135,22 136,24 137,20 138,24 139,20 140,23 141,26 142,23 143,25 144,19 145,21 146,22 147,20 148,21 149,19 150,17 151,22 152,20 153,19 154,22 155,20 156,21 157,18 158,19 159,19 160,14 161,20 162,23 163,19 164,25 165,22 166,22 167,16 168,24 169,19 170,22 171,16 172,20 173,22 174,22 175,21 176,15 177,22 178,22 179,21 180,20 181,23 182,17 183,20 184,24 185,16 186,19 187,20 188,21 189,23 190,17 191,20 192,24 193,23 194,24 195,23 196,21 197,21 198,20 199,22 199,52Z" fill="#8a7a86"/><path d="M0,52 0,24 1,26 2,24 3,18 4,25 5,22 6,18 7,24 8,32 9,24 10,19 11,27 12,19 13,29 14,23 15,24 16,22 17,21 18,21 19,23 20,26 21,26 22,25 23,20 24,23 25,20 26,21 27,25 28,25 29,29 30,29 31,25 32,26 33,19 34,27 35,19 36,21 37,24 38,19 39,26 40,24 41,17 42,28 43,23 44,22 45,23 46,20 47,22 48,21 49,21 50,24 51,23 52,21 53,28 54,25 55,16 56,22 57,22 58,22 59,28 60,25 61,23 62,28 63,21 64,24 65,21 66,25 67,22 68,20 69,23 70,23 71,27 72,29 73,26 74,25 75,27 76,28 77,23 78,29 79,23 80,25 81,19 82,22 83,21 84,27 85,31 86,25 87,25 88,24 89,25 90,26 91,24 92,22 93,22 94,20 95,24 96,24 97,21 98,19 99,23 100,26 101,31 102,19 103,24 104,22 105,24 106,26 107,27 108,25 109,22 110,24 111,20 112,24 113,21 114,22 115,21 116,21 117,22 118,21 119,18 120,18 121,23 122,24 123,23 124,29 125,24 126,22 127,20 128,15 129,19 130,25 131,26 132,24 133,20 134,23 135,24 136,24 137,24 138,25 139,21 140,24 141,27 142,25 143,27 144,21 145,24 146,24 147,22 148,23 149,22 150,20 151,24 152,22 153,21 154,25 155,23 156,23 157,20 158,20 159,22 160,17 161,22 162,24 163,22 164,28 165,24 166,24 167,20 168,25 169,22 170,24 171,20 172,23 173,24 174,24 175,23 176,16 177,25 178,26 179,24 180,22 181,24 182,20 183,22 184,27 185,18 186,22 187,23 188,24 189,24 190,19 191,21 192,25 193,25 194,26 195,25 196,23 197,22 198,23 199,24 199,52Z" fill="#cdb5b8"/><path d="M0,52 0,27 1,29 2,27 3,21 4,27 5,24 6,20 7,27 8,33 9,27 10,23 11,28 12,22 13,32 14,24 15,25 16,25 17,23 18,24 19,26 20,28 21,27 22,26 23,23 24,26 25,24 26,23 27,26 28,26 29,29 30,30 31,27 32,28 33,20 34,29 35,22 36,23 37,25 38,22 39,28 40,26 41,20 42,30 43,23 44,25 45,24 46,23 47,23 48,24 49,24 50,25 51,26 52,24 53,32 54,27 55,19 56,25 57,24 58,24 59,30 60,27 61,25 62,31 63,24 64,25 65,24 66,27 67,26 68,23 69,26 70,25 71,29 72,31 73,28 74,26 75,28 76,31 77,26 78,30 79,25 80,27 81,22 82,24 83,23 84,29 85,34 86,26 87,27 88,28 89,28 90,28 91,26 92,25 93,23 94,23 95,26 96,25 97,25 98,21 99,24 100,27 101,31 102,21 103,25 104,26 105,26 106,27 107,28 108,28 109,24 110,25 111,22 112,25 113,23 114,24 115,25 116,23 117,25 118,23 119,20 120,21 121,25 122,26 123,26 124,31 125,26 126,24 127,22 128,19 129,22 130,27 131,28 132,26 133,23 134,26 135,25 136,27 137,26 138,27 139,24 140,27 141,29 142,26 143,30 144,24 145,27 146,26 147,25 148,25 149,25 150,22 151,26 152,23 153,23 154,27 155,26 156,26 157,22 158,23 159,25 160,20 161,24 162,27 163,23 164,30 165,25 166,28 167,23 168,28 169,23 170,27 171,24 172,25 173,26 174,26 175,25 176,18 177,26 178,27 179,25 180,23 181,26 182,23 183,24 184,28 185,21 186,23 187,25 188,26 189,27 190,20 191,23 192,27 193,26 194,26 195,27 196,24 197,24 198,25 199,25 199,52Z" fill="#967e84"/><path d="M0,52 0,28 1,30 2,29 3,24 4,29 5,25 6,22 7,29 8,35 9,30 10,25 11,30 12,23 13,33 14,25 15,28 16,27 17,27 18,26 19,27 20,29 21,29 22,27 23,26 24,29 25,26 26,25 27,27 28,28 29,31 30,33 31,30 32,29 33,24 34,30 35,25 36,26 37,28 38,24 39,31 40,29 41,23 42,32 43,26 44,27 45,27 46,26 47,26 48,27 49,24 50,28 51,28 52,26 53,33 54,31 55,21 56,27 57,26 58,26 59,33 60,29 61,26 62,33 63,26 64,27 65,27 66,29 67,27 68,24 69,29 70,29 71,31 72,34 73,30 74,28 75,30 76,33 77,28 78,32 79,26 80,30 81,24 82,26 83,25 84,31 85,35 86,30 87,30 88,30 89,31 90,29 91,26 92,27 93,26 94,27 95,27 96,29 97,27 98,24 99,26 100,31 101,32 102,23 103,28 104,29 105,29 106,29 107,30 108,31 109,26 110,29 111,25 112,26 113,25 114,25 115,28 116,25 117,27 118,26 119,23 120,25 121,28 122,28 123,28 124,33 125,29 126,27 127,24 128,22 129,25 130,28 131,30 132,30 133,26 134,29 135,26 136,30 137,28 138,28 139,25 140,30 141,30 142,27 143,32 144,25 145,29 146,28 147,27 148,28 149,25 150,24 151,30 152,26 153,26 154,29 155,26 156,29 157,24 158,25 159,27 160,24 161,28 162,29 163,24 164,31 165,27 166,31 167,27 168,29 169,26 170,29 171,26 172,28 173,29 174,28 175,26 176,21 177,27 178,28 179,28 180,26 181,29 182,26 183,27 184,31 185,25 186,27 187,27 188,28 189,28 190,22 191,26 192,28 193,28 194,28 195,28 196,27 197,27 198,26 199,25 199,52Z" fill="#f0e8e6"/><path d="M0,52 0,31 1,32 2,30 3,26 4,31 5,27 6,25 7,32 8,36 9,33 10,26 11,34 12,27 13,35 14,27 15,30 16,29 17,29 18,28 19,29 20,32 21,31 22,31 23,29 24,31 25,28 26,28 27,31 28,31 29,32 30,33 31,32 32,31 33,27 34,32 35,28 36,28 37,30 38,26 39,32 40,30 41,26 42,33 43,29 44,31 45,30 46,29 47,29 48,28 49,28 50,31 51,29 52,28 53,36 54,32 55,24 56,31 57,29 58,29 59,35 60,30 61,27 62,34 63,27 64,28 65,29 66,31 67,30 68,26 69,31 70,32 71,34 72,35 73,32 74,31 75,31 76,36 77,32 78,33 79,30 80,31 81,26 82,29 83,28 84,32 85,37 86,32 87,33 88,32 89,33 90,29 91,28 92,29 93,28 94,29 95,30 96,32 97,29 98,26 99,28 100,33 101,33 102,26 103,31 104,32 105,31 106,32 107,31 108,32 109,30 110,30 111,28 112,28 113,29 114,29 115,30 116,28 117,30 118,28 119,24 120,28 121,30 122,30 123,30 124,35 125,31 126,29 127,27 128,26 129,27 130,30 131,33 132,32 133,28 134,31 135,29 136,31 137,30 138,30 139,26 140,31 141,31 142,29 143,33 144,28 145,30 146,31 147,29 148,30 149,29 150,26 151,32 152,30 153,29 154,31 155,29 156,30 157,26 158,27 159,29 160,27 161,30 162,31 163,27 164,33 165,29 166,33 167,29 168,31 169,28 170,31 171,28 172,30 173,31 174,30 175,28 176,23 177,28 178,29 179,30 180,28 181,31 182,27 183,27 184,32 185,28 186,30 187,30 188,30 189,30 190,23 191,27 192,32 193,30 194,31 195,30 196,30 197,29 198,28 199,27 199,52Z" fill="#b09597"/><path d="M0,52 0,33 1,33 2,31 3,28 4,34 5,30 6,27 7,32 8,38 9,34 10,29 11,36 12,30 13,36 14,29 15,31 16,31 17,31 18,31 19,30 20,33 21,32 22,32 23,32 24,32 25,31 26,30 27,33 28,34 29,35 30,35 31,35 32,33 33,30 34,34 35,30 36,30 37,32 38,29 39,35 40,32 41,28 42,36 43,32 44,33 45,33 46,33 47,32 48,31 49,30 50,32 51,32 52,31 53,37 54,33 55,26 56,34 57,31 58,32 59,38 60,33 61,31 62,37 63,31 64,29 65,31 66,33 67,33 68,30 69,32 70,35 71,36 72,36 73,34 74,31 75,32 76,39 77,34 78,35 79,31 80,33 81,28 82,33 83,32 84,33 85,38 86,34 87,36 88,34 89,36 90,33 91,31 92,32 93,30 94,31 95,32 96,35 97,31 98,28 99,31 100,36 101,34 102,29 103,32 104,32 105,32 106,35 107,34 108,35 109,32 110,32 111,31 112,31 113,31 114,31 115,31 116,31 117,32 118,29 119,28 120,30 121,32 122,32 123,33 124,37 125,33 126,30 127,29 128,27 129,30 130,32 131,34 132,33 133,32 134,34 135,32 136,33 137,34 138,32 139,29 140,33 141,34 142,29 143,34 144,29 145,32 146,33 147,31 148,32 149,32 150,28 151,35 152,32 153,31 154,34 155,31 156,32 157,28 158,30 159,32 160,31 161,32 162,35 163,28 164,36 165,33 166,34 167,31 168,32 169,31 170,33 171,31 172,32 173,32 174,33 175,31 176,26 177,31 178,30 179,32 180,31 181,34 182,30 183,31 184,35 185,30 186,32 187,31 188,31 189,31 190,26 191,29 192,33 193,33 194,32 195,33 196,32 197,32 198,30 199,28 199,52Z" fill="#dccbca"/><path d="M0,52 0,36 1,36 2,33 3,31 4,35 5,33 6,30 7,36 8,39 9,36 10,31 11,37 12,33 13,38 14,31 15,34 16,33 17,34 18,34 19,32 20,35 21,35 22,33 23,33 24,35 25,34 26,33 27,35 28,35 29,36 30,36 31,37 32,34 33,32 34,35 35,32 36,32 37,34 38,31 39,36 40,34 41,32 42,37 43,34 44,35 45,36 46,34 47,35 48,33 49,31 50,35 51,33 52,32 53,39 54,37 55,29 56,36 57,33 58,35 59,41 60,37 61,33 62,37 63,33 64,32 65,33 66,34 67,35 68,32 69,36 70,36 71,38 72,40 73,35 74,33 75,35 76,40 77,36 78,37 79,33 80,35 81,31 82,33 83,33 84,37 85,40 86,38 87,39 88,35 89,37 90,35 91,34 92,34 93,33 94,33 95,35 96,37 97,33 98,30 99,34 100,38 101,36 102,31 103,35 104,35 105,35 106,36 107,35 108,37 109,35 110,35 111,34 112,34 113,33 114,33 115,34 116,34 117,33 118,31 119,30 120,34 121,34 122,33 123,34 124,39 125,34 126,33 127,31 128,29 129,32 130,33 131,35 132,35 133,34 134,36 135,33 136,35 137,36 138,35 139,31 140,34 141,38 142,32 143,35 144,32 145,35 146,35 147,33 148,34 149,35 150,31 151,36 152,33 153,33 154,36 155,32 156,35 157,30 158,33 159,34 160,33 161,34 162,37 163,30 164,37 165,35 166,36 167,33 168,35 169,34 170,37 171,33 172,34 173,34 174,35 175,34 176,29 177,33 178,32 179,35 180,34 181,37 182,33 183,34 184,37 185,33 186,34 187,33 188,34 189,33 190,30 191,32 192,35 193,35 194,34 195,36 196,34 197,35 198,33 199,30 199,52Z" fill="#7a686c"/><path d="M0,52 0,38 1,38 2,36 3,35 4,37 5,33 6,33 7,37 8,40 9,38 10,35 11,39 12,36 13,41 14,34 15,37 16,35 17,36 18,37 19,36 20,37 21,35 22,35 23,35 24,38 25,36 26,36 27,37 28,37 29,37 30,38 31,39 32,34 33,34 34,37 35,34 36,34 37,34 38,35 39,37 40,36 41,34 42,39 43,37 44,37 45,37 46,35 47,37 48,36 49,34 50,37 51,37 52,35 53,40 54,37 55,32 56,37 57,35 58,37 59,42 60,39 61,34 62,39 63,34 64,34 65,35 66,37 67,36 68,34 69,38 70,37 71,41 72,41 73,39 74,36 75,37 76,41 77,37 78,38 79,35 80,37 81,34 82,36 83,37 84,39 85,42 86,40 87,41 88,36 89,39 90,38 91,36 92,38 93,36 94,35 95,38 96,38 97,35 98,33 99,35 100,40 101,37 102,33 103,38 104,37 105,38 106,38 107,38 108,39 109,37 110,36 111,36 112,36 113,35 114,37 115,36 116,36 117,35 118,35 119,33 120,36 121,37 122,36 123,37 124,40 125,36 126,35 127,33 128,31 129,34 130,34 131,37 132,38 133,35 134,37 135,35 136,37 137,38 138,37 139,33 140,36 141,39 142,35 143,37 144,36 145,37 146,37 147,35 148,36 149,37 150,35 151,38 152,36 153,36 154,38 155,34 156,37 157,34 158,35 159,38 160,37 161,36 162,38 163,32 164,39 165,36 166,39 167,36 168,37 169,35 170,37 171,35 172,36 173,37 174,37 175,36 176,32 177,35 178,33 179,36 180,35 181,39 182,37 183,37 184,39 185,36 186,35 187,35 188,36 189,35 190,32 191,34 192,37 193,39 194,37 195,39 196,36 197,38 198,35 199,32 199,52Z" fill="#bca3a6"/><path d="M0,52 0,39 1,39 2,38 3,38 4,40 5,36 6,35 7,38 8,41 9,38 10,38 11,42 12,39 13,42 14,37 15,40 16,36 17,39 18,40 19,39 20,39 21,37 22,37 23,38 24,41 25,39 26,36 27,39 28,39 29,41 30,39 31,40 32,37 33,37 34,40 35,36 36,36 37,36 38,38 39,40 40,37 41,37 42,40 43,39 44,40 45,38 46,38 47,38 48,37 49,37 50,39 51,39 52,38 53,43 54,39 55,35 56,39 57,37 58,40 59,44 60,41 61,36 62,41 63,37 64,36 65,36 66,40 67,39 68,37 69,40 70,40 71,42 72,44 73,41 74,38 75,38 76,43 77,39 78,41 79,36 80,38 81,37 82,38 83,39 84,42 85,44 86,42 87,42 88,38 89,41 90,40 91,39 92,40 93,39 94,39 95,39 96,41 97,36 98,37 99,38 100,42 101,39 102,36 103,41 104,39 105,39 106,40 107,39 108,41 109,40 110,40 111,38 112,39 113,37 114,38 115,37 116,38 117,38 118,38 119,36 120,39 121,40 122,39 123,40 124,41 125,38 126,37 127,37 128,35 129,37 130,37 131,40 132,39 133,38 134,38 135,38 136,40 137,39 138,39 139,34 140,39 141,41 142,38 143,38 144,39 145,38 146,40 147,38 148,39 149,41 150,38 151,40 152,39 153,39 154,40 155,36 156,38 157,37 158,39 159,39 160,39 161,38 162,41 163,34 164,41 165,38 166,40 167,38 168,39 169,38 170,41 171,39 172,40 173,38 174,40 175,39 176,35 177,39 178,35 179,39 180,38 181,41 182,40 183,40 184,42 185,39 186,38 187,37 188,39 189,38 190,35 191,37 192,39 193,41 194,39 195,41 196,39 197,39 198,39 199,35 199,52Z" fill="#a48a8d"/><path d="M0,52 0,42 1,41 2,40 3,41 4,43 5,38 6,37 7,41 8,42 9,42 10,40 11,44 12,42 13,43 14,39 15,41 16,39 17,42 18,42 19,40 20,40 21,40 22,40 23,40 24,43 25,42 26,39 27,41 28,40 29,43 30,41 31,43 32,40 33,39 34,42 35,39 36,38 37,40 38,40 39,43 40,40 41,39 42,44 43,42 44,41 45,39 46,39 47,39 48,40 49,39 50,42 51,42 52,40 53,44 54,41 55,37 56,43 57,39 58,43 59,47 60,42 61,38 62,43 63,39 64,38 65,38 66,41 67,42 68,39 69,42 70,42 71,43 72,45 73,44 74,41 75,41 76,46 77,42 78,43 79,38 80,41 81,39 82,42 83,41 84,43 85,44 86,43 87,43 88,40 89,42 90,42 91,40 92,42 93,40 94,40 95,41 96,44 97,39 98,40 99,40 100,43 101,41 102,39 103,42 104,42 105,41 106,41 107,41 108,44 109,42 110,43 111,40 112,43 113,39 114,40 115,41 116,42 117,39 118,40 119,38 120,41 121,42 122,41 123,41 124,42 125,38 126,39 127,40 128,37 129,39 130,40 131,43 132,40 133,39 134,41 135,41 136,42 137,43 138,41 139,37 140,42 141,43 142,41 143,40 144,41 145,40 146,42 147,41 148,41 149,42 150,39 151,43 152,41 153,40 154,42 155,39 156,40 157,40 158,42 159,42 160,41 161,39 162,43 163,36 164,43 165,40 166,41 167,40 168,41 169,41 170,45 171,42 172,42 173,41 174,42 175,41 176,38 177,42 178,38 179,42 180,39 181,43 182,42 183,41 184,43 185,42 186,42 187,40 188,41 189,40 190,37 191,41 192,41 193,43 194,42 195,42 196,41 197,42 198,41 199,38 199,52Z" fill="#f5f0f0"/><path d="M0,52 0,44 1,44 2,41 3,44 4,45 5,40 6,41 7,43 8,44 9,43 10,41 11,46 12,43 13,45 14,42 15,44 16,42 17,44 18,44 19,41 20,42 21,42 22,42 23,43 24,45 25,44 26,41 27,42 28,43 29,44 30,44 31,45 32,42 33,41 34,43 35,41 36,40 37,42 38,42 39,44 40,42 41,43 42,46 43,44 44,44 45,42 46,42 47,42 48,42 49,41 50,44 51,44 52,44 53,44 54,43 55,40 56,45 57,40 58,44 59,48 60,44 61,41 62,44 63,42 64,41 65,40 66,42 67,45 68,42 69,44 70,44 71,44 72,46 73,46 74,43 75,43 76,48 77,43 78,44 79,40 80,42 81,42 82,43 83,42 84,46 85,47 86,45 87,44 88,43 89,44 90,45 91,42 92,43 93,43 94,43 95,43 96,46 97,41 98,42 99,43 100,45 101,43 102,41 103,45 104,44 105,43 106,43 107,42 108,45 109,44 110,45 111,42 112,44 113,41 114,43 115,42 116,44 117,42 118,43 119,41 120,43 121,44 122,43 123,44 124,45 125,40 126,41 127,42 128,40 129,42 130,41 131,44 132,42 133,41 134,43 135,43 136,43 137,43 138,44 139,40 140,43 141,44 142,42 143,41 144,44 145,42 146,42 147,44 148,43 149,43 150,42 151,44 152,44 153,43 154,45 155,41 156,42 157,44 158,44 159,44 160,45 161,42 162,44 163,40 164,46 165,42 166,43 167,42 168,44 169,44 170,46 171,43 172,44 173,43 174,45 175,43 176,39 177,44 178,41 179,44 180,42 181,44 182,43 183,42 184,45 185,43 186,44 187,43 188,43 189,42 190,40 191,42 192,44 193,47 194,44 195,46 196,41 197,44 198,43 199,41 199,52Z" fill="#d6c0bd"/><path d="M0,52 0,47 1,45 2,45 3,46 4,46 5,43 6,43 7,44 8,46 9,46 10,44 11,48 12,46 13,49 14,45 15,46 16,44 17,46 18,45 19,44 20,44 21,44 22,45 23,44 24,47 25,46 26,45 27,44 28,44 29,46 30,45 31,47 32,45 33,44 34,47 35,45 36,44 37,43 38,45 39,45 40,45 41,45 42,48 43,46 44,45 45,45 46,45 47,45 48,45 49,43 50,47 51,46 52,45 53,45 54,45 55,43 56,46 57,42 58,45 59,48 60,48 61,44 62,46 63,44 64,44 65,44 66,46 67,47 68,44 69,46 70,47 71,47 72,47 73,46 74,45 75,45 76,49 77,46 78,45 79,43 80,45 81,45 82,46 83,44 84,47 85,49 86,47 87,46 88,45 89,45 90,46 91,46 92,47 93,46 94,45 95,45 96,48 97,43 98,44 99,46 100,46 101,45 102,44 103,46 104,48 105,45 106,45 107,45 108,46 109,48 110,47 111,45 112,47 113,44 114,45 115,44 116,47 117,45 118,45 119,45 120,45 121,46 122,45 123,46 124,47 125,44 126,44 127,45 128,44 129,45 130,45 131,44 132,43 133,43 134,45 135,46 136,46 137,46 138,47 139,43 140,45 141,47 142,44 143,44 144,46 145,46 146,45 147,46 148,46 149,45 150,45 151,45 152,47 153,45 154,47 155,43 156,45 157,46 158,45 159,46 160,46 161,45 162,46 163,42 164,47 165,44 166,45 167,45 168,46 169,46 170,47 171,46 172,46 173,45 174,47 175,45 176,42 177,47 178,45 179,47 180,45 181,45 182,46 183,44 184,47 185,46 186,47 187,45 188,45 189,44 190,43 191,45 192,46 193,48 194,45 195,49 196,45 197,46 198,46 199,44 199,52Z" fill="#8c7678"/><path d="M0,52 0,48 1,46 2,48 3,48 4,48 5,46 6,46 7,46 8,46 9,48 10,48 11,50 12,49 13,50 14,47 15,47 16,48 17,48 18,47 19,48 20,46 21,47 22,46 23,46 24,48 25,47 26,47 27,46 28,46 29,47 30,48 31,48 32,47 33,46 34,48 35,46 36,47 37,46 38,47 39,46 40,47 41,48 42,48 43,48 44,49 45,47 46,47 47,46 48,47 49,46 50,48 51,49 52,47 53,49 54,48 55,46 56,48 57,46 58,48 59,49 60,48 61,48 62,48 63,46 64,47 65,47 66,48 67,48 68,48 69,47 70,49 71,48 72,49 73,48 74,47 75,47 76,50 77,49 78,47 79,46 80,48 81,46 82,49 83,47 84,49 85,49 86,49 87,49 88,47 89,49 90,48 91,47 92,48 93,49 94,48 95,47 96,48 97,46 98,47 99,48 100,48 101,48 102,46 103,48 104,50 105,48 106,47 107,46 108,48 109,49 110,48 111,47 112,49 113,46 114,48 115,47 116,48 117,47 118,46 119,49 120,48 121,49 122,47 123,47 124,48 125,46 126,46 127,48 128,47 129,47 130,47 131,46 132,45 133,45 134,48 135,48 136,48 137,49 138,49 139,47 140,47 141,49 142,48 143,46 144,49 145,49 146,49 147,48 148,49 149,48 150,47 151,48 152,48 153,48 154,49 155,46 156,48 157,48 158,47 159,47 160,48 161,48 162,47 163,45 164,48 165,47 166,47 167,48 168,50 169,48 170,47 171,48 172,50 173,49 174,50 175,47 176,46 177,49 178,47 179,49 180,48 181,47 182,49 183,47 184,49 185,48 186,50 187,48 188,47 189,45 190,46 191,48 192,47 193,48 194,47 195,50 196,48 197,47 198,49 199,47 199,52Z" fill="#eadfe0"/><path d="M0,52 0,51 1,48 2,49 3,50 4,50 5,49 6,49 7,50 8,50 9,50 10,50 11,51 12,51 13,51 14,50 15,50 16,50 17,50 18,49 19,49 20,49 21,50 22,50 23,49 24,50 25,50 26,50 27,49 28,49 29,49 30,50 31,50 32,49 33,49 34,50 35,50 36,51 37,49 38,49 39,49 40,49 41,49 42,50 43,51 44,51 45,50 46,50 47,50 48,50 49,50 50,50 51,51 52,49 53,51 54,50 55,49 56,51 57,50 58,49 59,51 60,50 61,49 62,49 63,50 64,50 65,49 66,49 67,50 68,51 69,49 70,49 71,49 72,51 73,50 74,48 75,50 76,51 77,52 78,50 79,49 80,51 81,49 82,50 83,48 84,50 85,51 86,49 87,50 88,50 89,51 90,51 91,49 92,51 93,50 94,49 95,50 96,49 97,50 98,49 99,50 100,50 101,49 102,49 103,50 104,51 105,50 106,49 107,49 108,50 109,50 110,51 111,50 112,50 113,49 114,49 115,50 116,49 117,50 118,49 119,51 120,50 121,51 122,49 123,49 124,49 125,49 126,49 127,51 128,50 129,50 130,48 131,49 132,48 133,49 134,50 135,50 136,50 137,50 138,50 139,48 140,49 141,51 142,50 143,50 144,50 145,50 146,51 147,50 148,52 149,50 150,49 151,50 152,49 153,50 154,50 155,49 156,50 157,49 158,50 159,49 160,51 161,50 162,50 163,49 164,49 165,50 166,48 167,48 168,51 169,49 170,50 171,50 172,51 173,50 174,51 175,49 176,49 177,50 178,50 179,50 180,49 181,50 182,49 183,50 184,51 185,49 186,51 187,50 188,49 189,48 190,50 191,50 192,49 193,51 194,50 195,51 196,50 197,49 198,50 199,50 199,52Z" fill="#c4aeb0"/></svg></div><div style="position:absolute;left:264px;top:861.0px;font-size:10.5px;line-height:12.5px;color:#b8bac2;font-weight:400;white-space:nowrap;width:26px;text-align:right">200</div><div style="position:absolute;left:264px;top:900.0px;font-size:10.5px;line-height:12.5px;color:#b8bac2;font-weight:400;white-space:nowrap;width:26px;text-align:right">0</div><div style="position:absolute;left:383.29px;top:911px;font-size:10.5px;line-height:12.5px;color:#b8bac2;font-weight:400;white-space:nowrap;">10:00</div><div style="position:absolute;left:486.58000000000004px;top:911px;font-size:10.5px;line-height:12.5px;color:#b8bac2;font-weight:400;white-space:nowrap;">10:05</div><div style="position:absolute;left:588.3050000000001px;top:911px;font-size:10.5px;line-height:12.5px;color:#b8bac2;font-weight:400;white-space:nowrap;">10:1</div><div style="position:absolute;left:276px;top:934px;width:11px;height:4px;background:#6aa85c;border-radius:2px"></div><div style="position:absolute;left:290px;top:928px;font-size:10.5px;line-height:12.5px;color:#c4c6cf;font-weight:400;white-space:nowrap;">0</div><div style="position:absolute;left:304px;top:934px;width:11px;height:4px;background:#ecc53f;border-radius:2px"></div><div style="position:absolute;left:318px;top:928px;font-size:10.5px;line-height:12.5px;color:#c4c6cf;font-weight:400;white-space:nowrap;">1</div><div style="position:absolute;left:332px;top:934px;width:11px;height:4px;background:#8db6f5;border-radius:2px"></div><div style="position:absolute;left:346px;top:928px;font-size:10.5px;line-height:12.5px;color:#c4c6cf;font-weight:400;white-space:nowrap;">10</div><div style="position:absolute;left:366px;top:934px;width:11px;height:4px;background:#ef8534;border-radius:2px"></div><div style="position:absolute;left:380px;top:928px;font-size:10.5px;line-height:12.5px;color:#c4c6cf;font-weight:400;white-space:nowrap;">11</div><div style="position:absolute;left:400px;top:934px;width:11px;height:4px;background:#d9444f;border-radius:2px"></div><div style="position:absolute;left:414px;top:928px;font-size:10.5px;line-height:12.5px;color:#c4c6cf;font-weight:400;white-space:nowrap;">12</div><div style="position:absolute;left:434px;top:934px;width:11px;height:4px;background:#4c74d8;border-radius:2px"></div><div style="position:absolute;left:448px;top:928px;font-size:10.5px;line-height:12.5px;color:#c4c6cf;font-weight:400;white-space:nowrap;">13</div><div style="position:absolute;left:468px;top:934px;width:11px;height:4px;background:#a874d4;border-radius:2px"></div><div style="position:absolute;left:482px;top:928px;font-size:10.5px;line-height:12.5px;color:#c4c6cf;font-weight:400;white-space:nowrap;">14</div><div style="position:absolute;left:502px;top:934px;width:11px;height:4px;background:#bf8fe0;border-radius:2px"></div><div style="position:absolute;left:516px;top:928px;font-size:10.5px;line-height:12.5px;color:#c4c6cf;font-weight:400;white-space:nowrap;">15</div><div style="position:absolute;left:536px;top:934px;width:11px;height:4px;background:#4f9a47;border-radius:2px"></div><div style="position:absolute;left:550px;top:928px;font-size:10.5px;line-height:12.5px;color:#c4c6cf;font-weight:400;white-space:nowrap;">16</div><div style="position:absolute;left:570px;top:934px;width:11px;height:4px;background:#ecc53f;border-radius:2px"></div><div style="position:absolute;left:584px;top:928px;font-size:10.5px;line-height:12.5px;color:#c4c6cf;font-weight:400;white-space:nowrap;"></div><div style="position:absolute;left:276px;top:954px;width:11px;height:4px;background:#4c74d8;border-radius:2px"></div><div style="position:absolute;left:290px;top:948px;font-size:10.5px;line-height:12.5px;color:#c4c6cf;font-weight:400;white-space:nowrap;">18</div><div style="position:absolute;left:310px;top:954px;width:11px;height:4px;background:#ef8534;border-radius:2px"></div><div style="position:absolute;left:324px;top:948px;font-size:10.5px;line-height:12.5px;color:#c4c6cf;font-weight:400;white-space:nowrap;">19</div><div style="position:absolute;left:344px;top:954px;width:11px;height:4px;background:#c4303f;border-radius:2px"></div><div style="position:absolute;left:358px;top:948px;font-size:10.5px;line-height:12.5px;color:#c4c6cf;font-weight:400;white-space:nowrap;">2</div><div style="position:absolute;left:372px;top:954px;width:11px;height:4px;background:#2f66c4;border-radius:2px"></div><div style="position:absolute;left:386px;top:948px;font-size:10.5px;line-height:12.5px;color:#c4c6cf;font-weight:400;white-space:nowrap;">20</div><div style="position:absolute;left:406px;top:954px;width:11px;height:4px;background:#bf8fe0;border-radius:2px"></div><div style="position:absolute;left:420px;top:948px;font-size:10.5px;line-height:12.5px;color:#c4c6cf;font-weight:400;white-space:nowrap;">21</div><div style="position:absolute;left:440px;top:954px;width:11px;height:4px;background:#a874d4;border-radius:2px"></div><div style="position:absolute;left:454px;top:948px;font-size:10.5px;line-height:12.5px;color:#c4c6cf;font-weight:400;white-space:nowrap;">22</div><div style="position:absolute;left:474px;top:954px;width:11px;height:4px;background:#8ccf86;border-radius:2px"></div><div style="position:absolute;left:488px;top:948px;font-size:10.5px;line-height:12.5px;color:#c4c6cf;font-weight:400;white-space:nowrap;">23</div><div style="position:absolute;left:508px;top:954px;width:11px;height:4px;background:#e9cb92;border-radius:2px"></div><div style="position:absolute;left:522px;top:948px;font-size:10.5px;line-height:12.5px;color:#c4c6cf;font-weight:400;white-space:nowrap;">24</div><div style="position:absolute;left:542px;top:954px;width:11px;height:4px;background:#80d4f2;border-radius:2px"></div><div style="position:absolute;left:556px;top:948px;font-size:10.5px;line-height:12.5px;color:#c4c6cf;font-weight:400;white-space:nowrap;">25</div></div><div style="position:absolute;left:0;top:0;width:1357px;height:990px;transform-origin:0 0;transform:matrix3d(0.4955701858,0.03217445452,0,-1.758991158e-06,-0.0299138588,0.5009360513,0,1.828663464e-06,0,0,1,0,962.2,348.9,0,1);border-radius:9px;overflow:hidden;background:#121318;-webkit-text-stroke:0.45px currentColor;box-shadow:0 18px 40px rgba(0,0,0,0.45)"><div style="position:absolute;left:0px;top:0px;width:1357px;height:33px;background:#828282"></div><div style="position:absolute;left:15px;top:13px;width:11px;height:11px;background:#fe5f57;border-radius:50%"></div><div style="position:absolute;left:32px;top:13px;width:11px;height:11px;background:#febc2e;border-radius:50%"></div><div style="position:absolute;left:49px;top:13px;width:11px;height:11px;background:#28c840;border-radius:50%"></div><div style="position:absolute;left:70px;top:6px;width:210px;height:27px;background:#e9e9e9;border-radius:9px 9px 0 0"></div><div style="position:absolute;left:82px;top:12px;width:12px;height:12px;border:2.5px solid #f27a25;border-radius:50%;box-sizing:border-box"></div><div style="position:absolute;left:102px;top:10px;font-size:12px;line-height:14px;color:#3c3c3c;font-weight:400;white-space:nowrap;width:135px;overflow:hidden">Patterns - Logs - Explore - Grafana</div><div style="position:absolute;left:248px;top:8px;font-size:12px;line-height:14px;color:#444;font-weight:700;white-space:nowrap;">&#x2715;</div><div style="position:absolute;left:276px;top:8px;width:18px;height:18px;background:#9e9e9e;border-radius:50%"></div><div style="position:absolute;left:280px;top:6px;font-size:16px;line-height:18px;color:#333;font-weight:700;white-space:nowrap;">+</div><div style="position:absolute;left:1327px;top:5px;width:22px;height:20px;background:#ececec;border-radius:6px"></div><svg style="position:absolute;left:1332px;top:9px" width="12" height="12" viewBox="0 0 24 24" fill="none" stroke="#444" stroke-width="2.2" stroke-linecap="round" stroke-linejoin="round" ><path d="M6 9 L12 15 L18 9"/></svg><div style="position:absolute;left:0px;top:33px;width:1357px;height:39px;background:#e9e9e9"></div><svg style="position:absolute;left:10px;top:44.5px" width="16" height="16" viewBox="0 0 24 24" fill="none" stroke="#555" stroke-width="2" stroke-linecap="round" stroke-linejoin="round" ><path d="M19 12 H5"/><path d="M11 6 L5 12 L11 18"/></svg><svg style="position:absolute;left:40px;top:44.5px" width="16" height="16" viewBox="0 0 24 24" fill="none" stroke="#aaa" stroke-width="2" stroke-linecap="round" stroke-linejoin="round" ><path d="M5 12 H19"/><path d="M13 6 L19 12 L13 18"/></svg><svg style="position:absolute;left:70px;top:44.5px" width="16" height="16" viewBox="0 0 24 24" fill="none" stroke="#555" stroke-width="2" stroke-linecap="round" stroke-linejoin="round" ><path d="M19 12 A7 7 0 1 1 16.5 6.6"/><path d="M19 4 V9 H14"/></svg><svg style="position:absolute;left:100px;top:44.5px" width="16" height="16" viewBox="0 0 24 24" fill="none" stroke="#555" stroke-width="2" stroke-linecap="round" stroke-linejoin="round" ><path d="M5 11 L12 5 L19 11 V19 H5 Z"/></svg><div style="position:absolute;left:128px;top:39.5px;width:1079px;height:27px;background:#cbcbcd;border-radius:13px"></div><svg style="position:absolute;left:136px;top:44.5px" width="16" height="16" viewBox="0 0 24 24" fill="none" stroke="#555" stroke-width="1.8" stroke-linecap="round" stroke-linejoin="round" ><path d="M6 8 H18 M6 16 H18"/><circle cx="10" cy="8" r="2"/><circle cx="14" cy="16" r="2"/></svg><div style="position:absolute;left:160px;top:44.5px;font-size:12.5px;line-height:14.5px;color:#4a4a4a;font-weight:400;white-space:nowrap;width:1009px;overflow:hidden;text-overflow:ellipsis">play.grafana.org/a/grafana-lokiexplore-app/explore/service/tempo-ingester/patterns?patterns=%5B%5D&amp;var-fields=&amp;var-filters=service_name%7C%3D%7Cnginx&amp;urlColumns=%5B%5D&amp;var-levels=&amp;var-patterns=&amp;var-lineFilter=</div><svg style="position:absolute;left:1181px;top:44.5px" width="16" height="16" viewBox="0 0 24 24" fill="none" stroke="#555" stroke-width="1.8" stroke-linecap="round" stroke-linejoin="round" ><path d="M12 3 L14.7 9 L21 9.6 L16.2 13.8 L17.6 20 L12 16.7 L6.4 20 L7.8 13.8 L3 9.6 L9.3 9 Z"/></svg><div style="position:absolute;left:1227px;top:44.5px;width:16px;height:16px;background:#8ab4f8;border-radius:50%"></div><svg style="position:absolute;left:1257px;top:44.5px" width="16" height="16" viewBox="0 0 24 24" fill="none" stroke="#555" stroke-width="1.8" stroke-linecap="round" stroke-linejoin="round" ><path d="M5 8 H9 A2 2 0 0 1 13 8 H17 V12 A2 2 0 0 1 17 16 V20 H5 Z"/></svg><div style="position:absolute;left:1285px;top:45.5px;width:1.5px;height:14px;background:#aaa"></div><div style="position:absolute;left:1299px;top:43.5px;width:18px;height:18px;background:radial-gradient(circle at 40% 40%,#d07cf0,#5b2bd6 60%,#2a1a80);border-radius:50%"></div><div style="position:absolute;left:1333px;top:43.5px;font-size:15px;line-height:17px;color:#555;font-weight:700;white-space:nowrap;">&#8942;</div><div style="position:absolute;left:0px;top:72px;width:1357px;height:36px;background:#1b1c21;border-bottom:2px solid #24262b;box-sizing:border-box"></div><svg style="position:absolute;left:12px;top:80px" width="21" height="21" viewBox="0 0 24 24"><defs><linearGradient id="glg" gradientUnits="userSpaceOnUse" x1="0" y1="22" x2="0" y2="2"><stop offset="0" stop-color="#f5c342"/><stop offset="0.55" stop-color="#f99a36"/><stop offset="1" stop-color="#e8532b"/></linearGradient></defs><g fill="url(#glg)"><circle cx="12" cy="12" r="8"/><circle cx="19.70" cy="15.11" r="2.3"/><circle cx="15.24" cy="19.64" r="2.3"/><circle cx="8.89" cy="19.70" r="2.3"/><circle cx="4.36" cy="15.24" r="2.3"/><circle cx="4.30" cy="8.89" r="2.3"/><circle cx="8.76" cy="4.36" r="2.3"/><circle cx="15.11" cy="4.30" r="2.3"/><circle cx="19.64" cy="8.76" r="2.3"/></g><circle cx="12.4" cy="12.4" r="5.0" fill="#1b1c21"/><path d="M9.6 11.2 A3 3 0 1 1 12.6 15.4" fill="none" stroke="url(#glg)" stroke-width="1.4"/></svg><div style="position:absolute;left:518px;top:77px;width:330px;height:26px;background:#121318;border:1px solid #2b2d33;border-radius:2px"></div><svg style="position:absolute;left:524px;top:83px" width="14" height="14" viewBox="0 0 24 24" fill="none" stroke="#9fa3ab" stroke-width="2" stroke-linecap="round" stroke-linejoin="round" ><circle cx="11" cy="11" r="6.5"/><path d="M16 16 L20 20"/></svg><div style="position:absolute;left:542px;top:82px;font-size:12.5px;line-height:14.5px;color:#9fa3ab;font-weight:400;white-space:nowrap;">Search or jump to...</div><div style="position:absolute;left:802px;top:83px;width:14px;height:12px;border:1px solid #777;border-radius:2px"></div><div style="position:absolute;left:820px;top:82px;font-size:11px;line-height:13px;color:#9fa3ab;font-weight:400;white-space:nowrap;">&#8984;+k</div><svg style="position:absolute;left:1245px;top:82px" width="16" height="16" viewBox="0 0 24 24" fill="none" stroke="#9fa3ab" stroke-width="1.8" stroke-linecap="round" stroke-linejoin="round" ><circle cx="12" cy="12" r="9"/><path d="M9.5 9.5 A2.5 2.5 0 1 1 12 12 V13.5"/><circle cx="12" cy="17" r="0.6"/></svg><svg style="position:absolute;left:1276px;top:82px" width="16" height="16" viewBox="0 0 24 24" fill="none" stroke="#9fa3ab" stroke-width="2.2" stroke-linecap="round" stroke-linejoin="round" ><path d="M5 19 A0.5 0.5 0 0 0 5 19"/><path d="M5 12 A7 7 0 0 1 12 19"/><path d="M5 5 A14 14 0 0 1 19 19"/></svg><div style="position:absolute;left:1301px;top:82px;font-size:12.5px;line-height:14.5px;color:#ccccdc;font-weight:500;white-space:nowrap;">Sign in</div><div style="position:absolute;left:0px;top:109px;width:1357px;height:33px;background:#1b1c21;border-bottom:2px solid #24262b;box-sizing:border-box"></div><svg style="position:absolute;left:12px;top:117px" width="18" height="18" viewBox="0 0 24 24" fill="none" stroke="#ccccdc" stroke-width="2" stroke-linecap="round" stroke-linejoin="round" ><path d="M4 6 H20"/><path d="M4 12 H20"/><path d="M4 18 H20"/></svg><div style="position:absolute;left:44px;top:118px;font-size:12.5px;line-height:14.5px;color:#ccccdc;font-weight:500;white-space:nowrap;">Home</div><svg style="position:absolute;left:81px;top:121px" width="10" height="10" viewBox="0 0 24 24" fill="none" stroke="#888" stroke-width="2" stroke-linecap="round" stroke-linejoin="round" ><path d="M9 6 L15 12 L9 18"/></svg><div style="position:absolute;left:98px;top:118px;font-size:12.5px;line-height:14.5px;color:#ccccdc;font-weight:500;white-space:nowrap;">Explore</div><svg style="position:absolute;left:147px;top:121px" width="10" height="10" viewBox="0 0 24 24" fill="none" stroke="#888" stroke-width="2" stroke-linecap="round" stroke-linejoin="round" ><path d="M9 6 L15 12 L9 18"/></svg><div style="position:absolute;left:164px;top:118px;font-size:12.5px;line-height:14.5px;color:#ccccdc;font-weight:500;white-space:nowrap;">Logs</div><svg style="position:absolute;left:195px;top:121px" width="10" height="10" viewBox="0 0 24 24" fill="none" stroke="#888" stroke-width="2" stroke-linecap="round" stroke-linejoin="round" ><path d="M9 6 L15 12 L9 18"/></svg><div style="position:absolute;left:212px;top:118px;font-size:12.5px;line-height:14.5px;color:#8e8e8e;font-weight:400;white-space:nowrap;">Patterns</div><svg style="position:absolute;left:1327px;top:118px" width="14" height="14" viewBox="0 0 24 24" fill="none" stroke="#9fa3ab" stroke-width="2" stroke-linecap="round" stroke-linejoin="round" ><path d="M6 15 L12 9 L18 15"/></svg><div style="position:absolute;left:250px;top:142px;width:1107px;height:848px;background:#121318"></div><div style="position:absolute;left:0px;top:142px;width:250px;height:848px;background:#1b1c21;border-right:1px solid #2b2d33"></div><svg style="position:absolute;left:226px;top:150px" width="16" height="16" viewBox="0 0 24 24" fill="none" stroke="#9fa3ab" stroke-width="1.8" stroke-linecap="round" stroke-linejoin="round" ><rect x="4" y="4" width="16" height="16" rx="2"/><path d="M10 4 V20"/></svg><svg style="position:absolute;left:34px;top:150.0px" width="18" height="18" viewBox="0 0 24 24" fill="none" stroke="#c0c4cc" stroke-width="1.7" stroke-linecap="round" stroke-linejoin="round" ><path d="M4 11 L12 4 L20 11 V20 H4 Z"/><path d="M10 20 V14 H14 V20"/></svg><div style="position:absolute;left:66px;top:151.0px;font-size:13px;line-height:15px;color:#c4c6cf;font-weight:400;white-space:nowrap;">Home</div><svg style="position:absolute;left:5px;top:179.6px" width="12" height="12" viewBox="0 0 24 24" fill="none" stroke="#9fa3ab" stroke-width="2.2" stroke-linecap="round" stroke-linejoin="round" ><path d="M9 6 L15 12 L9 18"/></svg><svg style="position:absolute;left:34px;top:176.6px" width="18" height="18" viewBox="0 0 24 24" fill="none" stroke="#c0c4cc" stroke-width="1.7" stroke-linecap="round" stroke-linejoin="round" ><path d="M12 3 L14.7 9 L21 9.6 L16.2 13.8 L17.6 20 L12 16.7 L6.4 20 L7.8 13.8 L3 9.6 L9.3 9 Z"/></svg><div style="position:absolute;left:66px;top:177.6px;font-size:13px;line-height:15px;color:#c4c6cf;font-weight:400;white-space:nowrap;">Starred</div><svg style="position:absolute;left:5px;top:206.2px" width="12" height="12" viewBox="0 0 24 24" fill="none" stroke="#9fa3ab" stroke-width="2.2" stroke-linecap="round" stroke-linejoin="round" ><path d="M9 6 L15 12 L9 18"/></svg><svg style="position:absolute;left:34px;top:203.2px" width="18" height="18" viewBox="0 0 24 24" fill="none" stroke="#c0c4cc" stroke-width="1.7" stroke-linecap="round" stroke-linejoin="round" ><rect x="4" y="4" width="7" height="7" rx="1"/><rect x="13" y="4" width="7" height="7" rx="1"/><rect x="4" y="13" width="7" height="7" rx="1"/><rect x="13" y="13" width="7" height="7" rx="1"/></svg><div style="position:absolute;left:66px;top:204.2px;font-size:13px;line-height:15px;color:#c4c6cf;font-weight:400;white-space:nowrap;">Dashboards</div><svg style="position:absolute;left:5px;top:232.8px" width="12" height="12" viewBox="0 0 24 24" fill="none" stroke="#9fa3ab" stroke-width="2.2" stroke-linecap="round" stroke-linejoin="round" ><path d="M6 9 L12 15 L18 9"/></svg><svg style="position:absolute;left:34px;top:229.8px" width="18" height="18" viewBox="0 0 24 24" fill="none" stroke="#c0c4cc" stroke-width="1.7" stroke-linecap="round" stroke-linejoin="round" ><circle cx="12" cy="12" r="9"/><path d="M15.5 8.5 L13.5 13.5 L8.5 15.5 L10.5 10.5 Z"/></svg><div style="position:absolute;left:66px;top:230.8px;font-size:13px;line-height:15px;color:#e6e6ef;font-weight:500;white-space:nowrap;">Explore</div><div style="position:absolute;left:66px;top:257.4px;font-size:13px;line-height:15px;color:#c4c6cf;font-weight:400;white-space:nowrap;">Metrics</div><div style="position:absolute;left:56px;top:280.0px;width:186px;height:24px;background:#22252b;border-radius:2px"></div><div style="position:absolute;left:56px;top:281.0px;width:3px;height:22px;background:linear-gradient(#ff8833,#f55f3e);border-radius:2px"></div><div style="position:absolute;left:66px;top:284.0px;font-size:13px;line-height:15px;color:#e6e6ef;font-weight:500;white-space:nowrap;">Logs</div><svg style="position:absolute;left:36px;top:312.6px" width="12" height="12" viewBox="0 0 24 24" fill="none" stroke="#9fa3ab" stroke-width="2.2" stroke-linecap="round" stroke-linejoin="round" ><path d="M9 6 L15 12 L9 18"/></svg><div style="position:absolute;left:66px;top:310.6px;font-size:13px;line-height:15px;color:#c4c6cf;font-weight:400;white-space:nowrap;">Profiles</div><svg style="position:absolute;left:5px;top:339.20000000000005px" width="12" height="12" viewBox="0 0 24 24" fill="none" stroke="#9fa3ab" stroke-width="2.2" stroke-linecap="round" stroke-linejoin="round" ><path d="M9 6 L15 12 L9 18"/></svg><svg style="position:absolute;left:34px;top:336.20000000000005px" width="18" height="18" viewBox="0 0 24 24" fill="none" stroke="#c0c4cc" stroke-width="1.7" stroke-linecap="round" stroke-linejoin="round" ><path d="M6 17 V11 A6 6 0 0 1 18 11 V17 Z"/><path d="M4 17 H20"/><path d="M10 20 H14"/></svg><div style="position:absolute;left:66px;top:337.20000000000005px;font-size:13px;line-height:15px;color:#c4c6cf;font-weight:400;white-space:nowrap;">Alerts &amp; IRM</div><svg style="position:absolute;left:5px;top:365.8px" width="12" height="12" viewBox="0 0 24 24" fill="none" stroke="#9fa3ab" stroke-width="2.2" stroke-linecap="round" stroke-linejoin="round" ><path d="M9 6 L15 12 L9 18"/></svg><svg style="position:absolute;left:34px;top:362.8px" width="18" height="18" viewBox="0 0 24 24" fill="none" stroke="#c0c4cc" stroke-width="1.7" stroke-linecap="round" stroke-linejoin="round" ><path d="M4 20 L8 8 L12 14 L16 6 L20 20 Z"/></svg><div style="position:absolute;left:66px;top:363.8px;font-size:13px;line-height:15px;color:#c4c6cf;font-weight:400;white-space:nowrap;">Testing &amp; synthetics</div><svg style="position:absolute;left:5px;top:392.4px" width="12" height="12" viewBox="0 0 24 24" fill="none" stroke="#9fa3ab" stroke-width="2.2" stroke-linecap="round" stroke-linejoin="round" ><path d="M9 6 L15 12 L9 18"/></svg><svg style="position:absolute;left:34px;top:389.4px" width="18" height="18" viewBox="0 0 24 24" fill="none" stroke="#c0c4cc" stroke-width="1.7" stroke-linecap="round" stroke-linejoin="round" ><path d="M3 12 H7 L10 6 L14 18 L17 12 H21"/></svg><div style="position:absolute;left:66px;top:390.4px;font-size:13px;line-height:15px;color:#c4c6cf;font-weight:400;white-space:nowrap;">Infrastructure</div><svg style="position:absolute;left:5px;top:419.0px" width="12" height="12" viewBox="0 0 24 24" fill="none" stroke="#9fa3ab" stroke-width="2.2" stroke-linecap="round" stroke-linejoin="round" ><path d="M9 6 L15 12 L9 18"/></svg><svg style="position:absolute;left:34px;top:416.0px" width="18" height="18" viewBox="0 0 24 24" fill="none" stroke="#c0c4cc" stroke-width="1.7" stroke-linecap="round" stroke-linejoin="round" ><rect x="4" y="12" width="4" height="8"/><rect x="10" y="5" width="4" height="15"/><rect x="16" y="9" width="4" height="11"/></svg><div style="position:absolute;left:66px;top:417.0px;font-size:13px;line-height:15px;color:#c4c6cf;font-weight:400;white-space:nowrap;">Application</div><svg style="position:absolute;left:5px;top:445.6px" width="12" height="12" viewBox="0 0 24 24" fill="none" stroke="#9fa3ab" stroke-width="2.2" stroke-linecap="round" stroke-linejoin="round" ><path d="M9 6 L15 12 L9 18"/></svg><svg style="position:absolute;left:34px;top:442.6px" width="18" height="18" viewBox="0 0 24 24" fill="none" stroke="#c0c4cc" stroke-width="1.7" stroke-linecap="round" stroke-linejoin="round" ><rect x="4" y="6" width="16" height="14" rx="2"/><path d="M4 10 H20"/><path d="M9 10 V20"/></svg><div style="position:absolute;left:66px;top:443.6px;font-size:13px;line-height:15px;color:#c4c6cf;font-weight:400;white-space:nowrap;">Frontend</div><svg style="position:absolute;left:5px;top:472.20000000000005px" width="12" height="12" viewBox="0 0 24 24" fill="none" stroke="#9fa3ab" stroke-width="2.2" stroke-linecap="round" stroke-linejoin="round" ><path d="M9 6 L15 12 L9 18"/></svg><svg style="position:absolute;left:34px;top:469.20000000000005px" width="18" height="18" viewBox="0 0 24 24" fill="none" stroke="#c0c4cc" stroke-width="1.7" stroke-linecap="round" stroke-linejoin="round" ><circle cx="9" cy="12" r="5"/><circle cx="15" cy="12" r="5"/></svg><div style="position:absolute;left:66px;top:470.20000000000005px;font-size:13px;line-height:15px;color:#c4c6cf;font-weight:400;white-space:nowrap;">Connections</div><svg style="position:absolute;left:5px;top:498.8px" width="12" height="12" viewBox="0 0 24 24" fill="none" stroke="#9fa3ab" stroke-width="2.2" stroke-linecap="round" stroke-linejoin="round" ><path d="M9 6 L15 12 L9 18"/></svg><svg style="position:absolute;left:34px;top:495.8px" width="18" height="18" viewBox="0 0 24 24" fill="none" stroke="#c0c4cc" stroke-width="1.7" stroke-linecap="round" stroke-linejoin="round" ><path d="M12 3 L20 7.5 V16.5 L12 21 L4 16.5 V7.5 Z"/><path d="M4 7.5 L12 12 L20 7.5"/></svg><div style="position:absolute;left:66px;top:496.8px;font-size:13px;line-height:15px;color:#c4c6cf;font-weight:400;white-space:nowrap;">Apps</div><svg style="position:absolute;left:5px;top:525.4000000000001px" width="12" height="12" viewBox="0 0 24 24" fill="none" stroke="#9fa3ab" stroke-width="2.2" stroke-linecap="round" stroke-linejoin="round" ><path d="M9 6 L15 12 L9 18"/></svg><svg style="position:absolute;left:34px;top:522.4000000000001px" width="18" height="18" viewBox="0 0 24 24" fill="none" stroke="#c0c4cc" stroke-width="1.7" stroke-linecap="round" stroke-linejoin="round" ><circle cx="12" cy="12" r="9"/><circle cx="12" cy="12" r="3.5"/></svg><div style="position:absolute;left:66px;top:523.4000000000001px;font-size:13px;line-height:15px;color:#c4c6cf;font-weight:400;white-space:nowrap;">Administration</div><svg style="position:absolute;left:914px;top:178px" width="14" height="14" viewBox="0 0 24 24" fill="none" stroke="#8e8e8e" stroke-width="1.6" stroke-linecap="round" stroke-linejoin="round" ><rect x="4" y="5" width="16" height="13" rx="1.5"/><path d="M8 10 H16 M8 13 H13"/></svg><div style="position:absolute;left:932px;top:178px;font-size:11.5px;line-height:13.5px;color:#9a9ca3;font-weight:400;white-space:nowrap;">Give feedback</div><div style="position:absolute;left:1011px;top:175px;width:57px;height:21px;background:#172033;border:1px solid #23395c;border-radius:2px;box-sizing:border-box"></div><svg style="position:absolute;left:1015px;top:179px" width="12" height="12" viewBox="0 0 24 24" fill="none" stroke="#6e9fff" stroke-width="1.8" stroke-linecap="round" stroke-linejoin="round" ><path d="M5 19 L9 15"/><path d="M14 4 C19 4 20 5 20 10 L13 17 L7 11 Z"/></svg><div style="position:absolute;left:1029px;top:178px;font-size:11.5px;line-height:13.5px;color:#6e9fff;font-weight:500;white-space:nowrap;">Preview</div><div style="position:absolute;left:1086px;top:166px;width:170px;height:31px;background:#1e2025;border:1.5px solid #3d71d9;border-radius:2px;box-sizing:border-box"></div><svg style="position:absolute;left:1094px;top:174px" width="15" height="15" viewBox="0 0 24 24" fill="none" stroke="#ccccdc" stroke-width="1.8" stroke-linecap="round" stroke-linejoin="round" ><circle cx="12" cy="12" r="9"/><path d="M12 7 V12 L15 14"/></svg><div style="position:absolute;left:1115px;top:174px;font-size:12.5px;line-height:14.5px;color:#ccccdc;font-weight:500;white-space:nowrap;">Last 3 minutes</div><div style="position:absolute;left:1207.8px;top:175px;font-size:11px;line-height:13px;color:#f5a33c;font-weight:500;white-space:nowrap;">UTC</div><svg style="position:absolute;left:1236.8px;top:177px" width="10" height="10" viewBox="0 0 24 24" fill="none" stroke="#ccccdc" stroke-width="2.4" stroke-linecap="round" stroke-linejoin="round" ><path d="M6 9 L12 15 L18 9"/></svg><div style="position:absolute;left:1258px;top:166px;width:28px;height:31px;background:#1e2025;border:1px solid #2f3137;box-sizing:border-box"></div><svg style="position:absolute;left:1264px;top:173px" width="16" height="16" viewBox="0 0 24 24" fill="none" stroke="#ccccdc" stroke-width="1.8" stroke-linecap="round" stroke-linejoin="round" ><circle cx="11" cy="11" r="7"/><path d="M8 11 H14"/><path d="M16 16 L20 20"/></svg><div style="position:absolute;left:1292px;top:166px;width:54px;height:31px;background:#1e2025;border:1px solid #2f3137;box-sizing:border-box"></div><svg style="position:absolute;left:1298px;top:173px" width="16" height="16" viewBox="0 0 24 24" fill="none" stroke="#ccccdc" stroke-width="1.8" stroke-linecap="round" stroke-linejoin="round" ><path d="M20 12 A8 8 0 1 1 17.5 6.2"/><path d="M20 4 V9 H15"/></svg><div style="position:absolute;left:1320px;top:168px;width:1px;height:27px;background:#2f3137"></div><svg style="position:absolute;left:1327px;top:176px" width="11" height="11" viewBox="0 0 24 24" fill="none" stroke="#ccccdc" stroke-width="2.4" stroke-linecap="round" stroke-linejoin="round" ><path d="M6 9 L12 15 L18 9"/></svg><div style="position:absolute;left:1220px;top:206px;width:126px;height:30px;background:#1e2025;border:1px solid #2f3137;border-radius:2px;box-sizing:border-box"></div><svg style="position:absolute;left:1230px;top:213px" width="16" height="16" viewBox="0 0 24 24" fill="none" stroke="#ccccdc" stroke-width="1.8" stroke-linecap="round" stroke-linejoin="round" ><circle cx="12" cy="12" r="8"/><path d="M15 9 L13 13 L9 15 L11 11 Z"/></svg><div style="position:absolute;left:1252px;top:213px;font-size:12.5px;line-height:14.5px;color:#ccccdc;font-weight:500;white-space:nowrap;">Open in Explore</div><div style="position:absolute;left:262px;top:150px;font-size:10.5px;line-height:12.5px;color:#ccccdc;font-weight:500;white-space:nowrap;">Data source</div><div style="position:absolute;left:262px;top:166px;width:106px;height:34px;background:#121318;border:1px solid #2f3137;border-radius:2px;box-sizing:border-box"></div><div style="position:absolute;left:272px;top:175px;font-size:13px;line-height:15px;color:#ccccdc;font-weight:500;white-space:nowrap;">Explore Logs</div><svg style="position:absolute;left:350px;top:179px" width="10" height="10" viewBox="0 0 24 24" fill="none" stroke="#ccccdc" stroke-width="2.4" stroke-linecap="round" stroke-linejoin="round" ><path d="M6 9 L12 15 L18 9"/></svg><div style="position:absolute;left:384px;top:148px;font-size:10.5px;line-height:12.5px;color:#ccccdc;font-weight:600;white-space:nowrap;">service_name</div><div style="position:absolute;left:460px;top:146px;font-size:12px;line-height:14px;color:#ccccdc;font-weight:400;white-space:nowrap;">&#215;</div><div style="position:absolute;left:384px;top:163px;width:66px;height:34px;background:#121318;border:1px solid #2f3137;border-radius:2px;box-sizing:border-box"></div><div style="position:absolute;left:394px;top:172px;font-size:13px;line-height:15px;color:#ccccdc;font-weight:500;white-space:nowrap;">nginx</div><svg style="position:absolute;left:430px;top:176px" width="10" height="10" viewBox="0 0 24 24" fill="none" stroke="#ccccdc" stroke-width="2.4" stroke-linecap="round" stroke-linejoin="round" ><path d="M6 9 L12 15 L18 9"/></svg><div style="position:absolute;left:268px;top:218px;font-size:13px;line-height:15px;color:#9fa3ab;font-weight:500;white-space:nowrap;">Logs</div><div style="position:absolute;left:320px;top:218px;font-size:13px;line-height:15px;color:#9fa3ab;font-weight:500;white-space:nowrap;">Labels</div><div style="position:absolute;left:363.8px;top:217px;width:22px;height:17px;background:#2b2d33;border-radius:9px"></div><div style="position:absolute;left:363.8px;top:218px;font-size:10.5px;line-height:12.5px;color:#9fa3ab;font-weight:500;white-space:nowrap;width:22px;text-align:center">4</div><div style="position:absolute;left:408px;top:218px;font-size:13px;line-height:15px;color:#9fa3ab;font-weight:500;white-space:nowrap;">Fields</div><div style="position:absolute;left:451.8px;top:217px;width:22px;height:17px;background:#2b2d33;border-radius:9px"></div><div style="position:absolute;left:451.8px;top:218px;font-size:10.5px;line-height:12.5px;color:#9fa3ab;font-weight:500;white-space:nowrap;width:22px;text-align:center">0</div><div style="position:absolute;left:498px;top:218px;font-size:13px;line-height:15px;color:#e6e6ef;font-weight:500;white-space:nowrap;">Patterns</div><div style="position:absolute;left:554.4px;top:217px;width:22px;height:17px;background:#2b2d33;border-radius:9px"></div><div style="position:absolute;left:554.4px;top:218px;font-size:10.5px;line-height:12.5px;color:#9fa3ab;font-weight:500;white-space:nowrap;width:22px;text-align:center">12</div><div style="position:absolute;left:490px;top:239px;width:94.4px;height:3px;background:linear-gradient(90deg,#ff8833,#f55f3e);border-radius:2px"></div><div style="position:absolute;left:262px;top:243px;width:1079px;height:1px;background:#25272c"></div><div style="position:absolute;left:263px;top:250px;width:1080px;height:24px;background:#121318;border:1px solid #25272c;border-radius:2px;box-sizing:border-box"></div><svg style="position:absolute;left:270px;top:255px" width="14" height="14" viewBox="0 0 24 24" fill="none" stroke="#9fa3ab" stroke-width="2" stroke-linecap="round" stroke-linejoin="round" ><circle cx="11" cy="11" r="6.5"/><path d="M16 16 L20 20"/></svg><div style="position:absolute;left:290px;top:255px;font-size:12px;line-height:14px;color:#9fa3ab;font-weight:400;white-space:nowrap;">Search patterns</div><div style="position:absolute;left:263px;top:281px;width:1080px;height:168px;background:#1b1c21;border:1px solid #25272c;border-radius:3px;box-sizing:border-box"></div><div style="position:absolute;left:270px;top:310.0px;font-size:10.5px;line-height:12.5px;color:#b8bac2;font-weight:400;white-space:nowrap;width:30px;text-align:right">15</div><div style="position:absolute;left:327px;top:317.0px;width:828px;height:1px;background:#202226"></div><div style="position:absolute;left:270px;top:344.66666666666663px;font-size:10.5px;line-height:12.5px;color:#b8bac2;font-weight:400;white-space:nowrap;width:30px;text-align:right">10</div><div style="position:absolute;left:327px;top:351.66666666666663px;width:828px;height:1px;background:#202226"></div><div style="position:absolute;left:270px;top:379.3333333333333px;font-size:10.5px;line-height:12.5px;color:#b8bac2;font-weight:400;white-space:nowrap;width:30px;text-align:right">5</div><div style="position:absolute;left:327px;top:386.3333333333333px;width:828px;height:1px;background:#202226"></div><div style="position:absolute;left:270px;top:414.0px;font-size:10.5px;line-height:12.5px;color:#b8bac2;font-weight:400;white-space:nowrap;width:30px;text-align:right">0</div><div style="position:absolute;left:327px;top:421.0px;width:828px;height:1px;background:#202226"></div><div style="position:absolute;left:327.0px;top:307px;width:1px;height:114px;background:#202226"></div><div style="position:absolute;left:305.0px;top:428px;font-size:10.5px;line-height:12.5px;color:#b8bac2;font-weight:400;white-space:nowrap;">10:13:30</div><div style="position:absolute;left:400.27433628318585px;top:307px;width:1px;height:114px;background:#202226"></div><div style="position:absolute;left:378.27433628318585px;top:428px;font-size:10.5px;line-height:12.5px;color:#b8bac2;font-weight:400;white-space:nowrap;">10:13:45</div><div style="position:absolute;left:473.5486725663717px;top:307px;width:1px;height:114px;background:#202226"></div><div style="position:absolute;left:451.5486725663717px;top:428px;font-size:10.5px;line-height:12.5px;color:#b8bac2;font-weight:400;white-space:nowrap;">10:14:00</div><div style="position:absolute;left:546.8230088495575px;top:307px;width:1px;height:114px;background:#202226"></div><div style="position:absolute;left:524.8230088495575px;top:428px;font-size:10.5px;line-height:12.5px;color:#b8bac2;font-weight:400;white-space:nowrap;">10:14:15</div><div style="position:absolute;left:620.0973451327434px;top:307px;width:1px;height:114px;background:#202226"></div><div style="position:absolute;left:598.0973451327434px;top:428px;font-size:10.5px;line-height:12.5px;color:#b8bac2;font-weight:400;white-space:nowrap;">10:14:30</div><div style="position:absolute;left:693.3716814159292px;top:307px;width:1px;height:114px;background:#202226"></div><div style="position:absolute;left:671.3716814159292px;top:428px;font-size:10.5px;line-height:12.5px;color:#b8bac2;font-weight:400;white-space:nowrap;">10:14:45</div><div style="position:absolute;left:766.646017699115px;top:307px;width:1px;height:114px;background:#202226"></div><div style="position:absolute;left:744.646017699115px;top:428px;font-size:10.5px;line-height:12.5px;color:#b8bac2;font-weight:400;white-space:nowrap;">10:15:00</div><div style="position:absolute;left:839.9203539823009px;top:307px;width:1px;height:114px;background:#202226"></div><div style="position:absolute;left:817.9203539823009px;top:428px;font-size:10.5px;line-height:12.5px;color:#b8bac2;font-weight:400;white-space:nowrap;">10:15:15</div><div style="position:absolute;left:913.1946902654867px;top:307px;width:1px;height:114px;background:#202226"></div><div style="position:absolute;left:891.1946902654867px;top:428px;font-size:10.5px;line-height:12.5px;color:#b8bac2;font-weight:400;white-space:nowrap;">10:15:30</div><div style="position:absolute;left:986.4690265486726px;top:307px;width:1px;height:114px;background:#202226"></div><div style="position:absolute;left:964.4690265486726px;top:428px;font-size:10.5px;line-height:12.5px;color:#b8bac2;font-weight:400;white-space:nowrap;">10:15:45</div><div style="position:absolute;left:1059.7433628318583px;top:307px;width:1px;height:114px;background:#202226"></div><div style="position:absolute;left:1037.7433628318583px;top:428px;font-size:10.5px;line-height:12.5px;color:#b8bac2;font-weight:400;white-space:nowrap;">10:16:00</div><div style="position:absolute;left:1133.0176991150443px;top:307px;width:1px;height:114px;background:#202226"></div><div style="position:absolute;left:1111.0176991150443px;top:428px;font-size:10.5px;line-height:12.5px;color:#b8bac2;font-weight:400;white-space:nowrap;">10:16:15</div><div style="position:absolute;left:327px;top:281px;width:828px;height:168px"><svg width="828" height="168" viewBox="0 0 828 168" style="position:absolute;display:block;overflow:visible"><path d="M0.0,36.1 L36.0,40.4 L72.0,102.1 L108.0,63.3 L144.0,76.1 L180.0,68.0 L216.0,98.5 L252.0,93.8 L288.0,74.6 L324.0,91.6 L360.0,73.8 L396.0,106.6 L432.0,101.9 L468.0,54.3 L504.0,76.3 L540.0,69.4 L576.0,52.5 L612.0,81.1 L648.0,104.1 L684.0,48.7 L720.0,63.5 L756.0,58.3 L792.0,61.1 L828.0,132.8" fill="none" stroke="#73bf69" stroke-width="1.3" stroke-linejoin="round"/><circle cx="0.0" cy="36.1" r="2.2" fill="#73bf69"/><circle cx="36.0" cy="40.4" r="2.2" fill="#73bf69"/><circle cx="72.0" cy="102.1" r="2.2" fill="#73bf69"/><circle cx="108.0" cy="63.3" r="2.2" fill="#73bf69"/><circle cx="144.0" cy="76.1" r="2.2" fill="#73bf69"/><circle cx="180.0" cy="68.0" r="2.2" fill="#73bf69"/><circle cx="216.0" cy="98.5" r="2.2" fill="#73bf69"/><circle cx="252.0" cy="93.8" r="2.2" fill="#73bf69"/><circle cx="288.0" cy="74.6" r="2.2" fill="#73bf69"/><circle cx="324.0" cy="91.6" r="2.2" fill="#73bf69"/><circle cx="360.0" cy="73.8" r="2.2" fill="#73bf69"/><circle cx="396.0" cy="106.6" r="2.2" fill="#73bf69"/><circle cx="432.0" cy="101.9" r="2.2" fill="#73bf69"/><circle cx="468.0" cy="54.3" r="2.2" fill="#73bf69"/><circle cx="504.0" cy="76.3" r="2.2" fill="#73bf69"/><circle cx="540.0" cy="69.4" r="2.2" fill="#73bf69"/><circle cx="576.0" cy="52.5" r="2.2" fill="#73bf69"/><circle cx="612.0" cy="81.1" r="2.2" fill="#73bf69"/><circle cx="648.0" cy="104.1" r="2.2" fill="#73bf69"/><circle cx="684.0" cy="48.7" r="2.2" fill="#73bf69"/><circle cx="720.0" cy="63.5" r="2.2" fill="#73bf69"/><circle cx="756.0" cy="58.3" r="2.2" fill="#73bf69"/><circle cx="792.0" cy="61.1" r="2.2" fill="#73bf69"/><circle cx="828.0" cy="132.8" r="2.2" fill="#73bf69"/><path d="M0.0,87.2 L36.0,71.7 L72.0,64.9 L108.0,91.3 L144.0,108.8 L180.0,79.2 L216.0,60.6 L252.0,70.3 L288.0,81.2 L324.0,66.3 L360.0,101.4 L396.0,101.7 L432.0,90.7 L468.0,53.1 L504.0,100.4 L540.0,106.6 L576.0,107.8 L612.0,112.4 L648.0,94.3 L684.0,71.6 L720.0,52.7 L756.0,90.1 L792.0,87.1 L828.0,133.4" fill="none" stroke="#fade2a" stroke-width="1.3" stroke-linejoin="round"/><circle cx="0.0" cy="87.2" r="2.2" fill="#fade2a"/><circle cx="36.0" cy="71.7" r="2.2" fill="#fade2a"/><circle cx="72.0" cy="64.9" r="2.2" fill="#fade2a"/><circle cx="108.0" cy="91.3" r="2.2" fill="#fade2a"/><circle cx="144.0" cy="108.8" r="2.2" fill="#fade2a"/><circle cx="180.0" cy="79.2" r="2.2" fill="#fade2a"/><circle cx="216.0" cy="60.6" r="2.2" fill="#fade2a"/><circle cx="252.0" cy="70.3" r="2.2" fill="#fade2a"/><circle cx="288.0" cy="81.2" r="2.2" fill="#fade2a"/><circle cx="324.0" cy="66.3" r="2.2" fill="#fade2a"/><circle cx="360.0" cy="101.4" r="2.2" fill="#fade2a"/><circle cx="396.0" cy="101.7" r="2.2" fill="#fade2a"/><circle cx="432.0" cy="90.7" r="2.2" fill="#fade2a"/><circle cx="468.0" cy="53.1" r="2.2" fill="#fade2a"/><circle cx="504.0" cy="100.4" r="2.2" fill="#fade2a"/><circle cx="540.0" cy="106.6" r="2.2" fill="#fade2a"/><circle cx="576.0" cy="107.8" r="2.2" fill="#fade2a"/><circle cx="612.0" cy="112.4" r="2.2" fill="#fade2a"/><circle cx="648.0" cy="94.3" r="2.2" fill="#fade2a"/><circle cx="684.0" cy="71.6" r="2.2" fill="#fade2a"/><circle cx="720.0" cy="52.7" r="2.2" fill="#fade2a"/><circle cx="756.0" cy="90.1" r="2.2" fill="#fade2a"/><circle cx="792.0" cy="87.1" r="2.2" fill="#fade2a"/><circle cx="828.0" cy="133.4" r="2.2" fill="#fade2a"/><path d="M0.0,72.7 L36.0,94.9 L72.0,106.4 L108.0,54.8 L144.0,60.7 L180.0,51.4 L216.0,96.4 L252.0,73.0 L288.0,44.5 L324.0,69.4 L360.0,42.5 L396.0,101.8 L432.0,40.2 L468.0,110.3 L504.0,82.8 L540.0,112.8 L576.0,52.8 L612.0,62.2 L648.0,40.3 L684.0,53.2 L720.0,42.2 L756.0,73.5 L792.0,39.2 L828.0,132.9" fill="none" stroke="#8ab8ff" stroke-width="1.3" stroke-linejoin="round"/><circle cx="0.0" cy="72.7" r="2.2" fill="#8ab8ff"/><circle cx="36.0" cy="94.9" r="2.2" fill="#8ab8ff"/><circle cx="72.0" cy="106.4" r="2.2" fill="#8ab8ff"/><circle cx="108.0" cy="54.8" r="2.2" fill="#8ab8ff"/><circle cx="144.0" cy="60.7" r="2.2" fill="#8ab8ff"/><circle cx="180.0" cy="51.4" r="2.2" fill="#8ab8ff"/><circle cx="216.0" cy="96.4" r="2.2" fill="#8ab8ff"/><circle cx="252.0" cy="73.0" r="2.2" fill="#8ab8ff"/><circle cx="288.0" cy="44.5" r="2.2" fill="#8ab8ff"/><circle cx="324.0" cy="69.4" r="2.2" fill="#8ab8ff"/><circle cx="360.0" cy="42.5" r="2.2" fill="#8ab8ff"/><circle cx="396.0" cy="101.8" r="2.2" fill="#8ab8ff"/><circle cx="432.0" cy="40.2" r="2.2" fill="#8ab8ff"/><circle cx="468.0" cy="110.3" r="2.2" fill="#8ab8ff"/><circle cx="504.0" cy="82.8" r="2.2" fill="#8ab8ff"/><circle cx="540.0" cy="112.8" r="2.2" fill="#8ab8ff"/><circle cx="576.0" cy="52.8" r="2.2" fill="#8ab8ff"/><circle cx="612.0" cy="62.2" r="2.2" fill="#8ab8ff"/><circle cx="648.0" cy="40.3" r="2.2" fill="#8ab8ff"/><circle cx="684.0" cy="53.2" r="2.2" fill="#8ab8ff"/><circle cx="720.0" cy="42.2" r="2.2" fill="#8ab8ff"/><circle cx="756.0" cy="73.5" r="2.2" fill="#8ab8ff"/><circle cx="792.0" cy="39.2" r="2.2" fill="#8ab8ff"/><circle cx="828.0" cy="132.9" r="2.2" fill="#8ab8ff"/><path d="M0.0,77.6 L36.0,91.7 L72.0,100.6 L108.0,70.9 L144.0,91.4 L180.0,35.2 L216.0,33.9 L252.0,89.9 L288.0,98.5 L324.0,66.1 L360.0,93.5 L396.0,64.9 L432.0,44.4 L468.0,87.1 L504.0,74.2 L540.0,37.7 L576.0,72.5 L612.0,80.3 L648.0,38.3 L684.0,44.3 L720.0,38.1 L756.0,53.9 L792.0,74.9 L828.0,127.9" fill="none" stroke="#ff9830" stroke-width="1.3" stroke-linejoin="round"/><circle cx="0.0" cy="77.6" r="2.2" fill="#ff9830"/><circle cx="36.0" cy="91.7" r="2.2" fill="#ff9830"/><circle cx="72.0" cy="100.6" r="2.2" fill="#ff9830"/><circle cx="108.0" cy="70.9" r="2.2" fill="#ff9830"/><circle cx="144.0" cy="91.4" r="2.2" fill="#ff9830"/><circle cx="180.0" cy="35.2" r="2.2" fill="#ff9830"/><circle cx="216.0" cy="33.9" r="2.2" fill="#ff9830"/><circle cx="252.0" cy="89.9" r="2.2" fill="#ff9830"/><circle cx="288.0" cy="98.5" r="2.2" fill="#ff9830"/><circle cx="324.0" cy="66.1" r="2.2" fill="#ff9830"/><circle cx="360.0" cy="93.5" r="2.2" fill="#ff9830"/><circle cx="396.0" cy="64.9" r="2.2" fill="#ff9830"/><circle cx="432.0" cy="44.4" r="2.2" fill="#ff9830"/><circle cx="468.0" cy="87.1" r="2.2" fill="#ff9830"/><circle cx="504.0" cy="74.2" r="2.2" fill="#ff9830"/><circle cx="540.0" cy="37.7" r="2.2" fill="#ff9830"/><circle cx="576.0" cy="72.5" r="2.2" fill="#ff9830"/><circle cx="612.0" cy="80.3" r="2.2" fill="#ff9830"/><circle cx="648.0" cy="38.3" r="2.2" fill="#ff9830"/><circle cx="684.0" cy="44.3" r="2.2" fill="#ff9830"/><circle cx="720.0" cy="38.1" r="2.2" fill="#ff9830"/><circle cx="756.0" cy="53.9" r="2.2" fill="#ff9830"/><circle cx="792.0" cy="74.9" r="2.2" fill="#ff9830"/><circle cx="828.0" cy="127.9" r="2.2" fill="#ff9830"/><path d="M0.0,102.1 L36.0,97.8 L72.0,89.1 L108.0,61.5 L144.0,77.8 L180.0,78.4 L216.0,57.3 L252.0,112.1 L288.0,72.2 L324.0,95.0 L360.0,77.7 L396.0,56.6 L432.0,101.4 L468.0,47.8 L504.0,114.3 L540.0,77.5 L576.0,79.0 L612.0,102.4 L648.0,77.6 L684.0,84.4 L720.0,86.0 L756.0,65.5 L792.0,120.0 L828.0,128.4" fill="none" stroke="#f2495c" stroke-width="1.3" stroke-linejoin="round"/><circle cx="0.0" cy="102.1" r="2.2" fill="#f2495c"/><circle cx="36.0" cy="97.8" r="2.2" fill="#f2495c"/><circle cx="72.0" cy="89.1" r="2.2" fill="#f2495c"/><circle cx="108.0" cy="61.5" r="2.2" fill="#f2495c"/><circle cx="144.0" cy="77.8" r="2.2" fill="#f2495c"/><circle cx="180.0" cy="78.4" r="2.2" fill="#f2495c"/><circle cx="216.0" cy="57.3" r="2.2" fill="#f2495c"/><circle cx="252.0" cy="112.1" r="2.2" fill="#f2495c"/><circle cx="288.0" cy="72.2" r="2.2" fill="#f2495c"/><circle cx="324.0" cy="95.0" r="2.2" fill="#f2495c"/><circle cx="360.0" cy="77.7" r="2.2" fill="#f2495c"/><circle cx="396.0" cy="56.6" r="2.2" fill="#f2495c"/><circle cx="432.0" cy="101.4" r="2.2" fill="#f2495c"/><circle cx="468.0" cy="47.8" r="2.2" fill="#f2495c"/><circle cx="504.0" cy="114.3" r="2.2" fill="#f2495c"/><circle cx="540.0" cy="77.5" r="2.2" fill="#f2495c"/><circle cx="576.0" cy="79.0" r="2.2" fill="#f2495c"/><circle cx="612.0" cy="102.4" r="2.2" fill="#f2495c"/><circle cx="648.0" cy="77.6" r="2.2" fill="#f2495c"/><circle cx="684.0" cy="84.4" r="2.2" fill="#f2495c"/><circle cx="720.0" cy="86.0" r="2.2" fill="#f2495c"/><circle cx="756.0" cy="65.5" r="2.2" fill="#f2495c"/><circle cx="792.0" cy="120.0" r="2.2" fill="#f2495c"/><circle cx="828.0" cy="128.4" r="2.2" fill="#f2495c"/><path d="M0.0,74.9 L36.0,125.5 L72.0,89.1 L108.0,127.8 L144.0,106.8 L180.0,108.8 L216.0,134.8 L252.0,87.7 L288.0,104.4 L324.0,88.5 L360.0,99.9 L396.0,98.6 L432.0,100.9 L468.0,118.3 L504.0,72.5 L540.0,134.4 L576.0,74.2 L612.0,75.2 L648.0,103.1 L684.0,81.8 L720.0,89.7 L756.0,94.9 L792.0,118.8 L828.0,132.9" fill="none" stroke="#5794f2" stroke-width="1.3" stroke-linejoin="round"/><circle cx="0.0" cy="74.9" r="2.2" fill="#5794f2"/><circle cx="36.0" cy="125.5" r="2.2" fill="#5794f2"/><circle cx="72.0" cy="89.1" r="2.2" fill="#5794f2"/><circle cx="108.0" cy="127.8" r="2.2" fill="#5794f2"/><circle cx="144.0" cy="106.8" r="2.2" fill="#5794f2"/><circle cx="180.0" cy="108.8" r="2.2" fill="#5794f2"/><circle cx="216.0" cy="134.8" r="2.2" fill="#5794f2"/><circle cx="252.0" cy="87.7" r="2.2" fill="#5794f2"/><circle cx="288.0" cy="104.4" r="2.2" fill="#5794f2"/><circle cx="324.0" cy="88.5" r="2.2" fill="#5794f2"/><circle cx="360.0" cy="99.9" r="2.2" fill="#5794f2"/><circle cx="396.0" cy="98.6" r="2.2" fill="#5794f2"/><circle cx="432.0" cy="100.9" r="2.2" fill="#5794f2"/><circle cx="468.0" cy="118.3" r="2.2" fill="#5794f2"/><circle cx="504.0" cy="72.5" r="2.2" fill="#5794f2"/><circle cx="540.0" cy="134.4" r="2.2" fill="#5794f2"/><circle cx="576.0" cy="74.2" r="2.2" fill="#5794f2"/><circle cx="612.0" cy="75.2" r="2.2" fill="#5794f2"/><circle cx="648.0" cy="103.1" r="2.2" fill="#5794f2"/><circle cx="684.0" cy="81.8" r="2.2" fill="#5794f2"/><circle cx="720.0" cy="89.7" r="2.2" fill="#5794f2"/><circle cx="756.0" cy="94.9" r="2.2" fill="#5794f2"/><circle cx="792.0" cy="118.8" r="2.2" fill="#5794f2"/><circle cx="828.0" cy="132.9" r="2.2" fill="#5794f2"/><path d="M0.0,61.2 L36.0,108.3 L72.0,104.8 L108.0,102.4 L144.0,72.1 L180.0,97.9 L216.0,92.1 L252.0,114.9 L288.0,113.2 L324.0,127.6 L360.0,117.8 L396.0,114.2 L432.0,69.4 L468.0,96.0 L504.0,125.9 L540.0,99.1 L576.0,125.1 L612.0,91.2 L648.0,100.6 L684.0,68.9 L720.0,114.6 L756.0,69.5 L792.0,115.5 L828.0,129.9" fill="none" stroke="#b877d9" stroke-width="1.3" stroke-linejoin="round"/><circle cx="0.0" cy="61.2" r="2.2" fill="#b877d9"/><circle cx="36.0" cy="108.3" r="2.2" fill="#b877d9"/><circle cx="72.0" cy="104.8" r="2.2" fill="#b877d9"/><circle cx="108.0" cy="102.4" r="2.2" fill="#b877d9"/><circle cx="144.0" cy="72.1" r="2.2" fill="#b877d9"/><circle cx="180.0" cy="97.9" r="2.2" fill="#b877d9"/><circle cx="216.0" cy="92.1" r="2.2" fill="#b877d9"/><circle cx="252.0" cy="114.9" r="2.2" fill="#b877d9"/><circle cx="288.0" cy="113.2" r="2.2" fill="#b877d9"/><circle cx="324.0" cy="127.6" r="2.2" fill="#b877d9"/><circle cx="360.0" cy="117.8" r="2.2" fill="#b877d9"/><circle cx="396.0" cy="114.2" r="2.2" fill="#b877d9"/><circle cx="432.0" cy="69.4" r="2.2" fill="#b877d9"/><circle cx="468.0" cy="96.0" r="2.2" fill="#b877d9"/><circle cx="504.0" cy="125.9" r="2.2" fill="#b877d9"/><circle cx="540.0" cy="99.1" r="2.2" fill="#b877d9"/><circle cx="576.0" cy="125.1" r="2.2" fill="#b877d9"/><circle cx="612.0" cy="91.2" r="2.2" fill="#b877d9"/><circle cx="648.0" cy="100.6" r="2.2" fill="#b877d9"/><circle cx="684.0" cy="68.9" r="2.2" fill="#b877d9"/><circle cx="720.0" cy="114.6" r="2.2" fill="#b877d9"/><circle cx="756.0" cy="69.5" r="2.2" fill="#b877d9"/><circle cx="792.0" cy="115.5" r="2.2" fill="#b877d9"/><circle cx="828.0" cy="129.9" r="2.2" fill="#b877d9"/><path d="M0.0,83.6 L36.0,124.1 L72.0,117.5 L108.0,134.0 L144.0,81.3 L180.0,136.5 L216.0,88.9 L252.0,115.0 L288.0,93.3 L324.0,122.8 L360.0,136.5 L396.0,75.4 L432.0,95.2 L468.0,132.2 L504.0,70.7 L540.0,75.6 L576.0,131.2 L612.0,136.5 L648.0,98.6 L684.0,134.5 L720.0,89.3 L756.0,109.4 L792.0,91.1 L828.0,128.5" fill="none" stroke="#8f6ec7" stroke-width="1.3" stroke-linejoin="round"/><circle cx="0.0" cy="83.6" r="2.2" fill="#8f6ec7"/><circle cx="36.0" cy="124.1" r="2.2" fill="#8f6ec7"/><circle cx="72.0" cy="117.5" r="2.2" fill="#8f6ec7"/><circle cx="108.0" cy="134.0" r="2.2" fill="#8f6ec7"/><circle cx="144.0" cy="81.3" r="2.2" fill="#8f6ec7"/><circle cx="180.0" cy="136.5" r="2.2" fill="#8f6ec7"/><circle cx="216.0" cy="88.9" r="2.2" fill="#8f6ec7"/><circle cx="252.0" cy="115.0" r="2.2" fill="#8f6ec7"/><circle cx="288.0" cy="93.3" r="2.2" fill="#8f6ec7"/><circle cx="324.0" cy="122.8" r="2.2" fill="#8f6ec7"/><circle cx="360.0" cy="136.5" r="2.2" fill="#8f6ec7"/><circle cx="396.0" cy="75.4" r="2.2" fill="#8f6ec7"/><circle cx="432.0" cy="95.2" r="2.2" fill="#8f6ec7"/><circle cx="468.0" cy="132.2" r="2.2" fill="#8f6ec7"/><circle cx="504.0" cy="70.7" r="2.2" fill="#8f6ec7"/><circle cx="540.0" cy="75.6" r="2.2" fill="#8f6ec7"/><circle cx="576.0" cy="131.2" r="2.2" fill="#8f6ec7"/><circle cx="612.0" cy="136.5" r="2.2" fill="#8f6ec7"/><circle cx="648.0" cy="98.6" r="2.2" fill="#8f6ec7"/><circle cx="684.0" cy="134.5" r="2.2" fill="#8f6ec7"/><circle cx="720.0" cy="89.3" r="2.2" fill="#8f6ec7"/><circle cx="756.0" cy="109.4" r="2.2" fill="#8f6ec7"/><circle cx="792.0" cy="91.1" r="2.2" fill="#8f6ec7"/><circle cx="828.0" cy="128.5" r="2.2" fill="#8f6ec7"/><path d="M0.0,66.8 L36.0,67.6 L72.0,87.8 L108.0,102.5 L144.0,105.7 L180.0,47.4 L216.0,97.0 L252.0,80.2 L288.0,88.6 L324.0,65.5 L360.0,72.1 L396.0,47.2 L432.0,79.5 L468.0,85.2 L504.0,63.1 L540.0,55.9 L576.0,42.2 L612.0,89.0 L648.0,45.1 L684.0,37.9 L720.0,37.8 L756.0,102.9 L792.0,83.8 L828.0,127.9" fill="none" stroke="#56a64b" stroke-width="1.3" stroke-linejoin="round"/><circle cx="0.0" cy="66.8" r="2.2" fill="#56a64b"/><circle cx="36.0" cy="67.6" r="2.2" fill="#56a64b"/><circle cx="72.0" cy="87.8" r="2.2" fill="#56a64b"/><circle cx="108.0" cy="102.5" r="2.2" fill="#56a64b"/><circle cx="144.0" cy="105.7" r="2.2" fill="#56a64b"/><circle cx="180.0" cy="47.4" r="2.2" fill="#56a64b"/><circle cx="216.0" cy="97.0" r="2.2" fill="#56a64b"/><circle cx="252.0" cy="80.2" r="2.2" fill="#56a64b"/><circle cx="288.0" cy="88.6" r="2.2" fill="#56a64b"/><circle cx="324.0" cy="65.5" r="2.2" fill="#56a64b"/><circle cx="360.0" cy="72.1" r="2.2" fill="#56a64b"/><circle cx="396.0" cy="47.2" r="2.2" fill="#56a64b"/><circle cx="432.0" cy="79.5" r="2.2" fill="#56a64b"/><circle cx="468.0" cy="85.2" r="2.2" fill="#56a64b"/><circle cx="504.0" cy="63.1" r="2.2" fill="#56a64b"/><circle cx="540.0" cy="55.9" r="2.2" fill="#56a64b"/><circle cx="576.0" cy="42.2" r="2.2" fill="#56a64b"/><circle cx="612.0" cy="89.0" r="2.2" fill="#56a64b"/><circle cx="648.0" cy="45.1" r="2.2" fill="#56a64b"/><circle cx="684.0" cy="37.9" r="2.2" fill="#56a64b"/><circle cx="720.0" cy="37.8" r="2.2" fill="#56a64b"/><circle cx="756.0" cy="102.9" r="2.2" fill="#56a64b"/><circle cx="792.0" cy="83.8" r="2.2" fill="#56a64b"/><circle cx="828.0" cy="127.9" r="2.2" fill="#56a64b"/><path d="M0.0,115.2 L36.0,90.1 L72.0,87.5 L108.0,104.5 L144.0,129.2 L180.0,114.3 L216.0,136.5 L252.0,121.2 L288.0,112.7 L324.0,82.5 L360.0,100.3 L396.0,113.7 L432.0,126.5 L468.0,121.2 L504.0,94.1 L540.0,111.3 L576.0,132.1 L612.0,82.6 L648.0,101.4 L684.0,71.5 L720.0,104.4 L756.0,97.8 L792.0,112.7 L828.0,127.0" fill="none" stroke="#f2cc0c" stroke-width="1.3" stroke-linejoin="round"/><circle cx="0.0" cy="115.2" r="2.2" fill="#f2cc0c"/><circle cx="36.0" cy="90.1" r="2.2" fill="#f2cc0c"/><circle cx="72.0" cy="87.5" r="2.2" fill="#f2cc0c"/><circle cx="108.0" cy="104.5" r="2.2" fill="#f2cc0c"/><circle cx="144.0" cy="129.2" r="2.2" fill="#f2cc0c"/><circle cx="180.0" cy="114.3" r="2.2" fill="#f2cc0c"/><circle cx="216.0" cy="136.5" r="2.2" fill="#f2cc0c"/><circle cx="252.0" cy="121.2" r="2.2" fill="#f2cc0c"/><circle cx="288.0" cy="112.7" r="2.2" fill="#f2cc0c"/><circle cx="324.0" cy="82.5" r="2.2" fill="#f2cc0c"/><circle cx="360.0" cy="100.3" r="2.2" fill="#f2cc0c"/><circle cx="396.0" cy="113.7" r="2.2" fill="#f2cc0c"/><circle cx="432.0" cy="126.5" r="2.2" fill="#f2cc0c"/><circle cx="468.0" cy="121.2" r="2.2" fill="#f2cc0c"/><circle cx="504.0" cy="94.1" r="2.2" fill="#f2cc0c"/><circle cx="540.0" cy="111.3" r="2.2" fill="#f2cc0c"/><circle cx="576.0" cy="132.1" r="2.2" fill="#f2cc0c"/><circle cx="612.0" cy="82.6" r="2.2" fill="#f2cc0c"/><circle cx="648.0" cy="101.4" r="2.2" fill="#f2cc0c"/><circle cx="684.0" cy="71.5" r="2.2" fill="#f2cc0c"/><circle cx="720.0" cy="104.4" r="2.2" fill="#f2cc0c"/><circle cx="756.0" cy="97.8" r="2.2" fill="#f2cc0c"/><circle cx="792.0" cy="112.7" r="2.2" fill="#f2cc0c"/><circle cx="828.0" cy="127.0" r="2.2" fill="#f2cc0c"/><path d="M0.0,55.7 L36.0,73.3 L72.0,101.3 L108.0,42.0 L144.0,76.3 L180.0,76.9 L216.0,101.8 L252.0,103.5 L288.0,76.3 L324.0,32.5 L360.0,49.6 L396.0,52.1 L432.0,55.1 L468.0,85.3 L504.0,93.2 L540.0,60.2 L576.0,101.3 L612.0,61.3 L648.0,66.9 L684.0,64.7 L720.0,96.9 L756.0,101.0 L792.0,70.0 L828.0,129.9" fill="none" stroke="#3274d9" stroke-width="1.3" stroke-linejoin="round"/><circle cx="0.0" cy="55.7" r="2.2" fill="#3274d9"/><circle cx="36.0" cy="73.3" r="2.2" fill="#3274d9"/><circle cx="72.0" cy="101.3" r="2.2" fill="#3274d9"/><circle cx="108.0" cy="42.0" r="2.2" fill="#3274d9"/><circle cx="144.0" cy="76.3" r="2.2" fill="#3274d9"/><circle cx="180.0" cy="76.9" r="2.2" fill="#3274d9"/><circle cx="216.0" cy="101.8" r="2.2" fill="#3274d9"/><circle cx="252.0" cy="103.5" r="2.2" fill="#3274d9"/><circle cx="288.0" cy="76.3" r="2.2" fill="#3274d9"/><circle cx="324.0" cy="32.5" r="2.2" fill="#3274d9"/><circle cx="360.0" cy="49.6" r="2.2" fill="#3274d9"/><circle cx="396.0" cy="52.1" r="2.2" fill="#3274d9"/><circle cx="432.0" cy="55.1" r="2.2" fill="#3274d9"/><circle cx="468.0" cy="85.3" r="2.2" fill="#3274d9"/><circle cx="504.0" cy="93.2" r="2.2" fill="#3274d9"/><circle cx="540.0" cy="60.2" r="2.2" fill="#3274d9"/><circle cx="576.0" cy="101.3" r="2.2" fill="#3274d9"/><circle cx="612.0" cy="61.3" r="2.2" fill="#3274d9"/><circle cx="648.0" cy="66.9" r="2.2" fill="#3274d9"/><circle cx="684.0" cy="64.7" r="2.2" fill="#3274d9"/><circle cx="720.0" cy="96.9" r="2.2" fill="#3274d9"/><circle cx="756.0" cy="101.0" r="2.2" fill="#3274d9"/><circle cx="792.0" cy="70.0" r="2.2" fill="#3274d9"/><circle cx="828.0" cy="129.9" r="2.2" fill="#3274d9"/><path d="M0.0,86.7 L36.0,76.8 L72.0,87.8 L108.0,93.5 L144.0,119.0 L180.0,107.6 L216.0,59.5 L252.0,113.6 L288.0,112.4 L324.0,96.4 L360.0,92.4 L396.0,73.7 L432.0,111.5 L468.0,60.6 L504.0,132.4 L540.0,73.8 L576.0,90.6 L612.0,65.3 L648.0,122.4 L684.0,81.5 L720.0,61.8 L756.0,83.2 L792.0,125.5 L828.0,126.4" fill="none" stroke="#e0752d" stroke-width="1.3" stroke-linejoin="round"/><circle cx="0.0" cy="86.7" r="2.2" fill="#e0752d"/><circle cx="36.0" cy="76.8" r="2.2" fill="#e0752d"/><circle cx="72.0" cy="87.8" r="2.2" fill="#e0752d"/><circle cx="108.0" cy="93.5" r="2.2" fill="#e0752d"/><circle cx="144.0" cy="119.0" r="2.2" fill="#e0752d"/><circle cx="180.0" cy="107.6" r="2.2" fill="#e0752d"/><circle cx="216.0" cy="59.5" r="2.2" fill="#e0752d"/><circle cx="252.0" cy="113.6" r="2.2" fill="#e0752d"/><circle cx="288.0" cy="112.4" r="2.2" fill="#e0752d"/><circle cx="324.0" cy="96.4" r="2.2" fill="#e0752d"/><circle cx="360.0" cy="92.4" r="2.2" fill="#e0752d"/><circle cx="396.0" cy="73.7" r="2.2" fill="#e0752d"/><circle cx="432.0" cy="111.5" r="2.2" fill="#e0752d"/><circle cx="468.0" cy="60.6" r="2.2" fill="#e0752d"/><circle cx="504.0" cy="132.4" r="2.2" fill="#e0752d"/><circle cx="540.0" cy="73.8" r="2.2" fill="#e0752d"/><circle cx="576.0" cy="90.6" r="2.2" fill="#e0752d"/><circle cx="612.0" cy="65.3" r="2.2" fill="#e0752d"/><circle cx="648.0" cy="122.4" r="2.2" fill="#e0752d"/><circle cx="684.0" cy="81.5" r="2.2" fill="#e0752d"/><circle cx="720.0" cy="61.8" r="2.2" fill="#e0752d"/><circle cx="756.0" cy="83.2" r="2.2" fill="#e0752d"/><circle cx="792.0" cy="125.5" r="2.2" fill="#e0752d"/><circle cx="828.0" cy="126.4" r="2.2" fill="#e0752d"/></svg></div><div style="position:absolute;left:1206px;top:291px;font-size:11px;line-height:13px;color:#6e9fff;font-weight:500;white-space:nowrap;">Name</div><div style="position:absolute;left:1178px;top:310.0px;width:160px;height:1px;background:#25272c"></div><div style="position:absolute;left:1182px;top:318.0px;width:12px;height:4px;background:#73bf69;border-radius:2px"></div><div style="position:absolute;left:1198px;top:314.0px;font-size:9.6px;line-height:11.6px;color:#c4c6cf;font-weight:400;white-space:nowrap;font-family:'Liberation Mono',monospace;width:142px;overflow:hidden">&lt;_&gt; - &lt;_&gt; [&lt;_&gt; +0000] &quot;POST</div><div style="position:absolute;left:1178px;top:331.5px;width:160px;height:1px;background:#25272c"></div><div style="position:absolute;left:1182px;top:339.5px;width:12px;height:4px;background:#fade2a;border-radius:2px"></div><div style="position:absolute;left:1198px;top:335.5px;font-size:9.6px;line-height:11.6px;color:#c4c6cf;font-weight:400;white-space:nowrap;font-family:'Liberation Mono',monospace;width:142px;overflow:hidden">&lt;_&gt; - &lt;_&gt; [&lt;_&gt; +0000] &quot;PUT </div><div style="position:absolute;left:1178px;top:353.0px;width:160px;height:1px;background:#25272c"></div><div style="position:absolute;left:1182px;top:361.0px;width:12px;height:4px;background:#8ab8ff;border-radius:2px"></div><div style="position:absolute;left:1198px;top:357.0px;font-size:9.6px;line-height:11.6px;color:#c4c6cf;font-weight:400;white-space:nowrap;font-family:'Liberation Mono',monospace;width:142px;overflow:hidden">&lt;_&gt; - - [&lt;_&gt; +0000] &quot;DELETE</div><div style="position:absolute;left:1178px;top:374.5px;width:160px;height:1px;background:#25272c"></div><div style="position:absolute;left:1182px;top:382.5px;width:12px;height:4px;background:#ff9830;border-radius:2px"></div><div style="position:absolute;left:1198px;top:378.5px;font-size:9.6px;line-height:11.6px;color:#c4c6cf;font-weight:400;white-space:nowrap;font-family:'Liberation Mono',monospace;width:142px;overflow:hidden">&lt;_&gt; - &lt;_&gt; [&lt;_&gt; +0000] &quot;HEAD</div><div style="position:absolute;left:1178px;top:396.0px;width:160px;height:1px;background:#25272c"></div><div style="position:absolute;left:1182px;top:404.0px;width:12px;height:4px;background:#f2495c;border-radius:2px"></div><div style="position:absolute;left:1198px;top:400.0px;font-size:9.6px;line-height:11.6px;color:#c4c6cf;font-weight:400;white-space:nowrap;font-family:'Liberation Mono',monospace;width:142px;overflow:hidden">&lt;_&gt; - &lt;_&gt; [&lt;_&gt; +0000] &quot;PATC</div><div style="position:absolute;left:1178px;top:417.5px;width:160px;height:1px;background:#25272c"></div><div style="position:absolute;left:1182px;top:425.5px;width:12px;height:4px;background:#5794f2;border-radius:2px"></div><div style="position:absolute;left:1198px;top:421.5px;font-size:9.6px;line-height:11.6px;color:#c4c6cf;font-weight:400;white-space:nowrap;font-family:'Liberation Mono',monospace;width:142px;overflow:hidden">&lt;_&gt; - &lt;_&gt; [&lt;_&gt; +0000] &quot;DELE</div><div style="position:absolute;left:1178px;top:439.0px;width:160px;height:1px;background:#25272c"></div><div style="position:absolute;left:1182px;top:447.0px;width:12px;height:4px;background:#b877d9;border-radius:2px"></div><div style="position:absolute;left:1198px;top:443.0px;font-size:9.6px;line-height:11.6px;color:#c4c6cf;font-weight:400;white-space:nowrap;font-family:'Liberation Mono',monospace;width:142px;overflow:hidden">&lt;_&gt; - - [&lt;_&gt; +0000] &quot;GET &lt;_</div><div style="position:absolute;left:596px;top:460px;font-size:12.5px;line-height:14.5px;color:#ccccdc;font-weight:500;white-space:nowrap;">Count</div><div style="position:absolute;left:694px;top:460px;font-size:12.5px;line-height:14.5px;color:#ccccdc;font-weight:500;white-space:nowrap;">%</div><div style="position:absolute;left:760px;top:460px;font-size:12.5px;line-height:14.5px;color:#ccccdc;font-weight:500;white-space:nowrap;">Pattern</div><div style="position:absolute;left:263px;top:486px;width:1080px;height:1px;background:#202226"></div><div style="position:absolute;left:283px;top:486px;width:171px;height:39px"><svg width="171" height="39" viewBox="0 0 171 39" style="position:absolute;display:block;overflow:visible"><path d="M0.0,18.3 L10.1,23.0 L20.1,13.9 L30.2,12.4 L40.2,17.7 L50.3,13.7 L60.4,13.7 L70.4,18.0 L80.5,17.8 L90.5,16.0 L100.6,21.3 L110.6,17.9 L120.7,15.8 L130.8,12.7 L140.8,15.7 L150.9,13.8 L160.9,18.0 L171.0,18.0" fill="none" stroke="#73bf69" stroke-width="1.3" stroke-linejoin="round"/><circle cx="0.0" cy="18.3" r="2" fill="#73bf69"/><circle cx="10.1" cy="23.0" r="2" fill="#73bf69"/><circle cx="20.1" cy="13.9" r="2" fill="#73bf69"/><circle cx="30.2" cy="12.4" r="2" fill="#73bf69"/><circle cx="40.2" cy="17.7" r="2" fill="#73bf69"/><circle cx="50.3" cy="13.7" r="2" fill="#73bf69"/><circle cx="60.4" cy="13.7" r="2" fill="#73bf69"/><circle cx="70.4" cy="18.0" r="2" fill="#73bf69"/><circle cx="80.5" cy="17.8" r="2" fill="#73bf69"/><circle cx="90.5" cy="16.0" r="2" fill="#73bf69"/><circle cx="100.6" cy="21.3" r="2" fill="#73bf69"/><circle cx="110.6" cy="17.9" r="2" fill="#73bf69"/><circle cx="120.7" cy="15.8" r="2" fill="#73bf69"/><circle cx="130.8" cy="12.7" r="2" fill="#73bf69"/><circle cx="140.8" cy="15.7" r="2" fill="#73bf69"/><circle cx="150.9" cy="13.8" r="2" fill="#73bf69"/><circle cx="160.9" cy="18.0" r="2" fill="#73bf69"/><circle cx="171.0" cy="18.0" r="2" fill="#73bf69"/></svg></div><div style="position:absolute;left:640px;top:498px;font-size:11px;line-height:13px;color:#ccccdc;font-weight:400;white-space:nowrap;width:50px;text-align:right">180</div><div style="position:absolute;left:727px;top:498px;font-size:11px;line-height:13px;color:#ccccdc;font-weight:400;white-space:nowrap;">10%</div><div style="position:absolute;left:761px;top:499px;font-size:10.1px;line-height:12.1px;color:#d0d1d8;font-weight:400;white-space:nowrap;font-family:'Liberation Mono',monospace">&lt;_&gt; - &lt;_&gt; [&lt;_&gt; +0000] &quot;POST &lt;_&gt; &lt;_&gt;&quot; 200 &lt;_&gt;</div><div style="position:absolute;left:1238px;top:495px;width:101px;height:22px;border:1px solid #34363c;border-radius:2px;box-sizing:border-box"></div><div style="position:absolute;left:1246px;top:499px;font-size:11px;line-height:13px;color:#d8d9e0;font-weight:500;white-space:nowrap;">Include</div><div style="position:absolute;left:1292px;top:499px;font-size:11px;line-height:13px;color:#d8d9e0;font-weight:500;white-space:nowrap;">Exclude</div><div style="position:absolute;left:263px;top:525px;width:1080px;height:1px;background:#202226"></div><div style="position:absolute;left:283px;top:525px;width:171px;height:39px"><svg width="171" height="39" viewBox="0 0 171 39" style="position:absolute;display:block;overflow:visible"><path d="M0.0,14.7 L10.1,15.8 L20.1,21.3 L30.2,15.5 L40.2,15.8 L50.3,12.7 L60.4,21.4 L70.4,14.1 L80.5,16.4 L90.5,15.2 L100.6,16.6 L110.6,13.9 L120.7,12.7 L130.8,18.0 L140.8,13.4 L150.9,10.9 L160.9,19.4 L171.0,20.0" fill="none" stroke="#fade2a" stroke-width="1.3" stroke-linejoin="round"/><circle cx="0.0" cy="14.7" r="2" fill="#fade2a"/><circle cx="10.1" cy="15.8" r="2" fill="#fade2a"/><circle cx="20.1" cy="21.3" r="2" fill="#fade2a"/><circle cx="30.2" cy="15.5" r="2" fill="#fade2a"/><circle cx="40.2" cy="15.8" r="2" fill="#fade2a"/><circle cx="50.3" cy="12.7" r="2" fill="#fade2a"/><circle cx="60.4" cy="21.4" r="2" fill="#fade2a"/><circle cx="70.4" cy="14.1" r="2" fill="#fade2a"/><circle cx="80.5" cy="16.4" r="2" fill="#fade2a"/><circle cx="90.5" cy="15.2" r="2" fill="#fade2a"/><circle cx="100.6" cy="16.6" r="2" fill="#fade2a"/><circle cx="110.6" cy="13.9" r="2" fill="#fade2a"/><circle cx="120.7" cy="12.7" r="2" fill="#fade2a"/><circle cx="130.8" cy="18.0" r="2" fill="#fade2a"/><circle cx="140.8" cy="13.4" r="2" fill="#fade2a"/><circle cx="150.9" cy="10.9" r="2" fill="#fade2a"/><circle cx="160.9" cy="19.4" r="2" fill="#fade2a"/><circle cx="171.0" cy="20.0" r="2" fill="#fade2a"/></svg></div><div style="position:absolute;left:640px;top:537px;font-size:11px;line-height:13px;color:#ccccdc;font-weight:400;white-space:nowrap;width:50px;text-align:right">179</div><div style="position:absolute;left:727px;top:537px;font-size:11px;line-height:13px;color:#ccccdc;font-weight:400;white-space:nowrap;">10%</div><div style="position:absolute;left:761px;top:538px;font-size:10.1px;line-height:12.1px;color:#d0d1d8;font-weight:400;white-space:nowrap;font-family:'Liberation Mono',monospace">&lt;_&gt; - &lt;_&gt; [&lt;_&gt; +0000] &quot;PUT &lt;_&gt; &lt;_&gt;&quot; 200 &lt;_&gt;</div><div style="position:absolute;left:1238px;top:534px;width:101px;height:22px;border:1px solid #34363c;border-radius:2px;box-sizing:border-box"></div><div style="position:absolute;left:1246px;top:538px;font-size:11px;line-height:13px;color:#d8d9e0;font-weight:500;white-space:nowrap;">Include</div><div style="position:absolute;left:1292px;top:538px;font-size:11px;line-height:13px;color:#d8d9e0;font-weight:500;white-space:nowrap;">Exclude</div><div style="position:absolute;left:263px;top:564px;width:1080px;height:1px;background:#202226"></div><div style="position:absolute;left:283px;top:564px;width:171px;height:39px"><svg width="171" height="39" viewBox="0 0 171 39" style="position:absolute;display:block;overflow:visible"><path d="M0.0,14.4 L10.1,17.0 L20.1,19.4 L30.2,14.4 L40.2,19.1 L50.3,21.8 L60.4,13.9 L70.4,13.5 L80.5,19.1 L90.5,14.8 L100.6,19.7 L110.6,14.9 L120.7,14.9 L130.8,15.4 L140.8,20.3 L150.9,15.9 L160.9,16.9 L171.0,16.8" fill="none" stroke="#8ab8ff" stroke-width="1.3" stroke-linejoin="round"/><circle cx="0.0" cy="14.4" r="2" fill="#8ab8ff"/><circle cx="10.1" cy="17.0" r="2" fill="#8ab8ff"/><circle cx="20.1" cy="19.4" r="2" fill="#8ab8ff"/><circle cx="30.2" cy="14.4" r="2" fill="#8ab8ff"/><circle cx="40.2" cy="19.1" r="2" fill="#8ab8ff"/><circle cx="50.3" cy="21.8" r="2" fill="#8ab8ff"/><circle cx="60.4" cy="13.9" r="2" fill="#8ab8ff"/><circle cx="70.4" cy="13.5" r="2" fill="#8ab8ff"/><circle cx="80.5" cy="19.1" r="2" fill="#8ab8ff"/><circle cx="90.5" cy="14.8" r="2" fill="#8ab8ff"/><circle cx="100.6" cy="19.7" r="2" fill="#8ab8ff"/><circle cx="110.6" cy="14.9" r="2" fill="#8ab8ff"/><circle cx="120.7" cy="14.9" r="2" fill="#8ab8ff"/><circle cx="130.8" cy="15.4" r="2" fill="#8ab8ff"/><circle cx="140.8" cy="20.3" r="2" fill="#8ab8ff"/><circle cx="150.9" cy="15.9" r="2" fill="#8ab8ff"/><circle cx="160.9" cy="16.9" r="2" fill="#8ab8ff"/><circle cx="171.0" cy="16.8" r="2" fill="#8ab8ff"/></svg></div><div style="position:absolute;left:640px;top:576px;font-size:11px;line-height:13px;color:#ccccdc;font-weight:400;white-space:nowrap;width:50px;text-align:right">166</div><div style="position:absolute;left:727px;top:576px;font-size:11px;line-height:13px;color:#ccccdc;font-weight:400;white-space:nowrap;">9%</div><div style="position:absolute;left:761px;top:577px;font-size:10.1px;line-height:12.1px;color:#d0d1d8;font-weight:400;white-space:nowrap;font-family:'Liberation Mono',monospace">&lt;_&gt; - - [&lt;_&gt; +0000] &quot;DELETE &lt;_&gt; &lt;_&gt;&quot; 200 &lt;_&gt;</div><div style="position:absolute;left:1238px;top:573px;width:101px;height:22px;border:1px solid #34363c;border-radius:2px;box-sizing:border-box"></div><div style="position:absolute;left:1246px;top:577px;font-size:11px;line-height:13px;color:#d8d9e0;font-weight:500;white-space:nowrap;">Include</div><div style="position:absolute;left:1292px;top:577px;font-size:11px;line-height:13px;color:#d8d9e0;font-weight:500;white-space:nowrap;">Exclude</div><div style="position:absolute;left:263px;top:603px;width:1080px;height:1px;background:#202226"></div><div style="position:absolute;left:283px;top:603px;width:171px;height:39px"><svg width="171" height="39" viewBox="0 0 171 39" style="position:absolute;display:block;overflow:visible"><path d="M0.0,17.5 L10.1,16.4 L20.1,12.3 L30.2,17.2 L40.2,13.5 L50.3,13.2 L60.4,12.6 L70.4,15.1 L80.5,18.0 L90.5,14.5 L100.6,15.3 L110.6,13.5 L120.7,16.4 L130.8,16.8 L140.8,20.1 L150.9,21.9 L160.9,21.3 L171.0,18.2" fill="none" stroke="#ff9830" stroke-width="1.3" stroke-linejoin="round"/><circle cx="0.0" cy="17.5" r="2" fill="#ff9830"/><circle cx="10.1" cy="16.4" r="2" fill="#ff9830"/><circle cx="20.1" cy="12.3" r="2" fill="#ff9830"/><circle cx="30.2" cy="17.2" r="2" fill="#ff9830"/><circle cx="40.2" cy="13.5" r="2" fill="#ff9830"/><circle cx="50.3" cy="13.2" r="2" fill="#ff9830"/><circle cx="60.4" cy="12.6" r="2" fill="#ff9830"/><circle cx="70.4" cy="15.1" r="2" fill="#ff9830"/><circle cx="80.5" cy="18.0" r="2" fill="#ff9830"/><circle cx="90.5" cy="14.5" r="2" fill="#ff9830"/><circle cx="100.6" cy="15.3" r="2" fill="#ff9830"/><circle cx="110.6" cy="13.5" r="2" fill="#ff9830"/><circle cx="120.7" cy="16.4" r="2" fill="#ff9830"/><circle cx="130.8" cy="16.8" r="2" fill="#ff9830"/><circle cx="140.8" cy="20.1" r="2" fill="#ff9830"/><circle cx="150.9" cy="21.9" r="2" fill="#ff9830"/><circle cx="160.9" cy="21.3" r="2" fill="#ff9830"/><circle cx="171.0" cy="18.2" r="2" fill="#ff9830"/></svg></div><div style="position:absolute;left:640px;top:615px;font-size:11px;line-height:13px;color:#ccccdc;font-weight:400;white-space:nowrap;width:50px;text-align:right">162</div><div style="position:absolute;left:727px;top:615px;font-size:11px;line-height:13px;color:#ccccdc;font-weight:400;white-space:nowrap;">9%</div><div style="position:absolute;left:761px;top:616px;font-size:10.1px;line-height:12.1px;color:#d0d1d8;font-weight:400;white-space:nowrap;font-family:'Liberation Mono',monospace">&lt;_&gt; - &lt;_&gt; [&lt;_&gt; +0000] &quot;HEAD &lt;_&gt; &lt;_&gt;&quot; 200 &lt;_&gt;</div><div style="position:absolute;left:1238px;top:612px;width:101px;height:22px;border:1px solid #34363c;border-radius:2px;box-sizing:border-box"></div><div style="position:absolute;left:1246px;top:616px;font-size:11px;line-height:13px;color:#d8d9e0;font-weight:500;white-space:nowrap;">Include</div><div style="position:absolute;left:1292px;top:616px;font-size:11px;line-height:13px;color:#d8d9e0;font-weight:500;white-space:nowrap;">Exclude</div><div style="position:absolute;left:263px;top:642px;width:1080px;height:39px;background:#202226"></div><div style="position:absolute;left:263px;top:642px;width:1080px;height:1px;background:#202226"></div><div style="position:absolute;left:283px;top:642px;width:171px;height:39px"><svg width="171" height="39" viewBox="0 0 171 39" style="position:absolute;display:block;overflow:visible"><path d="M0.0,12.1 L10.1,13.4 L20.1,20.7 L30.2,17.8 L40.2,13.5 L50.3,14.8 L60.4,19.1 L70.4,17.1 L80.5,10.9 L90.5,12.5 L100.6,14.8 L110.6,13.4 L120.7,15.8 L130.8,15.9 L140.8,16.6 L150.9,18.6 L160.9,16.8 L171.0,22.3" fill="none" stroke="#f2495c" stroke-width="1.3" stroke-linejoin="round"/><circle cx="0.0" cy="12.1" r="2" fill="#f2495c"/><circle cx="10.1" cy="13.4" r="2" fill="#f2495c"/><circle cx="20.1" cy="20.7" r="2" fill="#f2495c"/><circle cx="30.2" cy="17.8" r="2" fill="#f2495c"/><circle cx="40.2" cy="13.5" r="2" fill="#f2495c"/><circle cx="50.3" cy="14.8" r="2" fill="#f2495c"/><circle cx="60.4" cy="19.1" r="2" fill="#f2495c"/><circle cx="70.4" cy="17.1" r="2" fill="#f2495c"/><circle cx="80.5" cy="10.9" r="2" fill="#f2495c"/><circle cx="90.5" cy="12.5" r="2" fill="#f2495c"/><circle cx="100.6" cy="14.8" r="2" fill="#f2495c"/><circle cx="110.6" cy="13.4" r="2" fill="#f2495c"/><circle cx="120.7" cy="15.8" r="2" fill="#f2495c"/><circle cx="130.8" cy="15.9" r="2" fill="#f2495c"/><circle cx="140.8" cy="16.6" r="2" fill="#f2495c"/><circle cx="150.9" cy="18.6" r="2" fill="#f2495c"/><circle cx="160.9" cy="16.8" r="2" fill="#f2495c"/><circle cx="171.0" cy="22.3" r="2" fill="#f2495c"/></svg></div><div style="position:absolute;left:640px;top:654px;font-size:11px;line-height:13px;color:#ccccdc;font-weight:400;white-space:nowrap;width:50px;text-align:right">158</div><div style="position:absolute;left:727px;top:654px;font-size:11px;line-height:13px;color:#ccccdc;font-weight:400;white-space:nowrap;">9%</div><div style="position:absolute;left:761px;top:655px;font-size:10.1px;line-height:12.1px;color:#d0d1d8;font-weight:400;white-space:nowrap;font-family:'Liberation Mono',monospace">&lt;_&gt; - &lt;_&gt; [&lt;_&gt; +0000] &quot;PATCH &lt;_&gt; &lt;_&gt;&quot; 200 &lt;_&gt;</div><div style="position:absolute;left:1238px;top:651px;width:101px;height:22px;border:1px solid #34363c;border-radius:2px;box-sizing:border-box"></div><div style="position:absolute;left:1246px;top:655px;font-size:11px;line-height:13px;color:#d8d9e0;font-weight:500;white-space:nowrap;">Include</div><div style="position:absolute;left:1292px;top:655px;font-size:11px;line-height:13px;color:#d8d9e0;font-weight:500;white-space:nowrap;">Exclude</div><div style="position:absolute;left:263px;top:681px;width:1080px;height:1px;background:#202226"></div><div style="position:absolute;left:283px;top:681px;width:171px;height:39px"><svg width="171" height="39" viewBox="0 0 171 39" style="position:absolute;display:block;overflow:visible"><path d="M0.0,20.4 L10.1,15.3 L20.1,18.9 L30.2,18.3 L40.2,15.5 L50.3,14.3 L60.4,12.6 L70.4,12.1 L80.5,18.3 L90.5,13.5 L100.6,13.1 L110.6,14.0 L120.7,18.0 L130.8,15.8 L140.8,11.8 L150.9,18.5 L160.9,13.1 L171.0,21.6" fill="none" stroke="#5794f2" stroke-width="1.3" stroke-linejoin="round"/><circle cx="0.0" cy="20.4" r="2" fill="#5794f2"/><circle cx="10.1" cy="15.3" r="2" fill="#5794f2"/><circle cx="20.1" cy="18.9" r="2" fill="#5794f2"/><circle cx="30.2" cy="18.3" r="2" fill="#5794f2"/><circle cx="40.2" cy="15.5" r="2" fill="#5794f2"/><circle cx="50.3" cy="14.3" r="2" fill="#5794f2"/><circle cx="60.4" cy="12.6" r="2" fill="#5794f2"/><circle cx="70.4" cy="12.1" r="2" fill="#5794f2"/><circle cx="80.5" cy="18.3" r="2" fill="#5794f2"/><circle cx="90.5" cy="13.5" r="2" fill="#5794f2"/><circle cx="100.6" cy="13.1" r="2" fill="#5794f2"/><circle cx="110.6" cy="14.0" r="2" fill="#5794f2"/><circle cx="120.7" cy="18.0" r="2" fill="#5794f2"/><circle cx="130.8" cy="15.8" r="2" fill="#5794f2"/><circle cx="140.8" cy="11.8" r="2" fill="#5794f2"/><circle cx="150.9" cy="18.5" r="2" fill="#5794f2"/><circle cx="160.9" cy="13.1" r="2" fill="#5794f2"/><circle cx="171.0" cy="21.6" r="2" fill="#5794f2"/></svg></div><div style="position:absolute;left:640px;top:693px;font-size:11px;line-height:13px;color:#ccccdc;font-weight:400;white-space:nowrap;width:50px;text-align:right">158</div><div style="position:absolute;left:727px;top:693px;font-size:11px;line-height:13px;color:#ccccdc;font-weight:400;white-space:nowrap;">9%</div><div style="position:absolute;left:761px;top:694px;font-size:10.1px;line-height:12.1px;color:#d0d1d8;font-weight:400;white-space:nowrap;font-family:'Liberation Mono',monospace">&lt;_&gt; - &lt;_&gt; [&lt;_&gt; +0000] &quot;DELETE &lt;_&gt; &lt;_&gt;&quot; 200 &lt;_&gt;</div><div style="position:absolute;left:1238px;top:690px;width:101px;height:22px;border:1px solid #34363c;border-radius:2px;box-sizing:border-box"></div><div style="position:absolute;left:1246px;top:694px;font-size:11px;line-height:13px;color:#d8d9e0;font-weight:500;white-space:nowrap;">Include</div><div style="position:absolute;left:1292px;top:694px;font-size:11px;line-height:13px;color:#d8d9e0;font-weight:500;white-space:nowrap;">Exclude</div><div style="position:absolute;left:263px;top:720px;width:1080px;height:1px;background:#202226"></div><div style="position:absolute;left:283px;top:720px;width:171px;height:39px"><svg width="171" height="39" viewBox="0 0 171 39" style="position:absolute;display:block;overflow:visible"><path d="M0.0,13.6 L10.1,17.1 L20.1,15.2 L30.2,15.8 L40.2,18.3 L50.3,16.4 L60.4,16.7 L70.4,19.7 L80.5,21.7 L90.5,11.9 L100.6,17.4 L110.6,20.8 L120.7,17.3 L130.8,21.5 L140.8,21.5 L150.9,16.6 L160.9,17.9 L171.0,17.9" fill="none" stroke="#b877d9" stroke-width="1.3" stroke-linejoin="round"/><circle cx="0.0" cy="13.6" r="2" fill="#b877d9"/><circle cx="10.1" cy="17.1" r="2" fill="#b877d9"/><circle cx="20.1" cy="15.2" r="2" fill="#b877d9"/><circle cx="30.2" cy="15.8" r="2" fill="#b877d9"/><circle cx="40.2" cy="18.3" r="2" fill="#b877d9"/><circle cx="50.3" cy="16.4" r="2" fill="#b877d9"/><circle cx="60.4" cy="16.7" r="2" fill="#b877d9"/><circle cx="70.4" cy="19.7" r="2" fill="#b877d9"/><circle cx="80.5" cy="21.7" r="2" fill="#b877d9"/><circle cx="90.5" cy="11.9" r="2" fill="#b877d9"/><circle cx="100.6" cy="17.4" r="2" fill="#b877d9"/><circle cx="110.6" cy="20.8" r="2" fill="#b877d9"/><circle cx="120.7" cy="17.3" r="2" fill="#b877d9"/><circle cx="130.8" cy="21.5" r="2" fill="#b877d9"/><circle cx="140.8" cy="21.5" r="2" fill="#b877d9"/><circle cx="150.9" cy="16.6" r="2" fill="#b877d9"/><circle cx="160.9" cy="17.9" r="2" fill="#b877d9"/><circle cx="171.0" cy="17.9" r="2" fill="#b877d9"/></svg></div><div style="position:absolute;left:640px;top:732px;font-size:11px;line-height:13px;color:#ccccdc;font-weight:400;white-space:nowrap;width:50px;text-align:right">153</div><div style="position:absolute;left:727px;top:732px;font-size:11px;line-height:13px;color:#ccccdc;font-weight:400;white-space:nowrap;">8%</div><div style="position:absolute;left:761px;top:733px;font-size:10.1px;line-height:12.1px;color:#d0d1d8;font-weight:400;white-space:nowrap;font-family:'Liberation Mono',monospace">&lt;_&gt; - - [&lt;_&gt; +0000] &quot;GET &lt;_&gt; &lt;_&gt;&quot; 200 &lt;_&gt;</div><div style="position:absolute;left:1238px;top:729px;width:101px;height:22px;border:1px solid #34363c;border-radius:2px;box-sizing:border-box"></div><div style="position:absolute;left:1246px;top:733px;font-size:11px;line-height:13px;color:#d8d9e0;font-weight:500;white-space:nowrap;">Include</div><div style="position:absolute;left:1292px;top:733px;font-size:11px;line-height:13px;color:#d8d9e0;font-weight:500;white-space:nowrap;">Exclude</div><div style="position:absolute;left:263px;top:759px;width:1080px;height:1px;background:#202226"></div><div style="position:absolute;left:283px;top:759px;width:171px;height:39px"><svg width="171" height="39" viewBox="0 0 171 39" style="position:absolute;display:block;overflow:visible"><path d="M0.0,16.7 L10.1,21.4 L20.1,18.9 L30.2,18.5 L40.2,15.2 L50.3,16.5 L60.4,21.6 L70.4,22.0 L80.5,22.5 L90.5,14.5 L100.6,16.7 L110.6,17.0 L120.7,19.4 L130.8,21.3 L140.8,14.6 L150.9,21.4 L160.9,18.5 L171.0,19.6" fill="none" stroke="#8f6ec7" stroke-width="1.3" stroke-linejoin="round"/><circle cx="0.0" cy="16.7" r="2" fill="#8f6ec7"/><circle cx="10.1" cy="21.4" r="2" fill="#8f6ec7"/><circle cx="20.1" cy="18.9" r="2" fill="#8f6ec7"/><circle cx="30.2" cy="18.5" r="2" fill="#8f6ec7"/><circle cx="40.2" cy="15.2" r="2" fill="#8f6ec7"/><circle cx="50.3" cy="16.5" r="2" fill="#8f6ec7"/><circle cx="60.4" cy="21.6" r="2" fill="#8f6ec7"/><circle cx="70.4" cy="22.0" r="2" fill="#8f6ec7"/><circle cx="80.5" cy="22.5" r="2" fill="#8f6ec7"/><circle cx="90.5" cy="14.5" r="2" fill="#8f6ec7"/><circle cx="100.6" cy="16.7" r="2" fill="#8f6ec7"/><circle cx="110.6" cy="17.0" r="2" fill="#8f6ec7"/><circle cx="120.7" cy="19.4" r="2" fill="#8f6ec7"/><circle cx="130.8" cy="21.3" r="2" fill="#8f6ec7"/><circle cx="140.8" cy="14.6" r="2" fill="#8f6ec7"/><circle cx="150.9" cy="21.4" r="2" fill="#8f6ec7"/><circle cx="160.9" cy="18.5" r="2" fill="#8f6ec7"/><circle cx="171.0" cy="19.6" r="2" fill="#8f6ec7"/></svg></div><div style="position:absolute;left:640px;top:771px;font-size:11px;line-height:13px;color:#ccccdc;font-weight:400;white-space:nowrap;width:50px;text-align:right">153</div><div style="position:absolute;left:727px;top:771px;font-size:11px;line-height:13px;color:#ccccdc;font-weight:400;white-space:nowrap;">8%</div><div style="position:absolute;left:761px;top:772px;font-size:10.1px;line-height:12.1px;color:#d0d1d8;font-weight:400;white-space:nowrap;font-family:'Liberation Mono',monospace">&lt;_&gt; - - [&lt;_&gt; +0000] &quot;PATCH &lt;_&gt; &lt;_&gt;&quot; 200 &lt;_&gt;</div><div style="position:absolute;left:1238px;top:768px;width:101px;height:22px;border:1px solid #34363c;border-radius:2px;box-sizing:border-box"></div><div style="position:absolute;left:1246px;top:772px;font-size:11px;line-height:13px;color:#d8d9e0;font-weight:500;white-space:nowrap;">Include</div><div style="position:absolute;left:1292px;top:772px;font-size:11px;line-height:13px;color:#d8d9e0;font-weight:500;white-space:nowrap;">Exclude</div><div style="position:absolute;left:263px;top:798px;width:1080px;height:1px;background:#202226"></div><div style="position:absolute;left:283px;top:798px;width:171px;height:39px"><svg width="171" height="39" viewBox="0 0 171 39" style="position:absolute;display:block;overflow:visible"><path d="M0.0,13.1 L10.1,13.4 L20.1,12.3 L30.2,19.0 L40.2,12.8 L50.3,16.1 L60.4,12.4 L70.4,16.5 L80.5,20.7 L90.5,16.5 L100.6,14.3 L110.6,15.0 L120.7,15.2 L130.8,19.8 L140.8,19.9 L150.9,22.6 L160.9,19.3 L171.0,19.4" fill="none" stroke="#56a64b" stroke-width="1.3" stroke-linejoin="round"/><circle cx="0.0" cy="13.1" r="2" fill="#56a64b"/><circle cx="10.1" cy="13.4" r="2" fill="#56a64b"/><circle cx="20.1" cy="12.3" r="2" fill="#56a64b"/><circle cx="30.2" cy="19.0" r="2" fill="#56a64b"/><circle cx="40.2" cy="12.8" r="2" fill="#56a64b"/><circle cx="50.3" cy="16.1" r="2" fill="#56a64b"/><circle cx="60.4" cy="12.4" r="2" fill="#56a64b"/><circle cx="70.4" cy="16.5" r="2" fill="#56a64b"/><circle cx="80.5" cy="20.7" r="2" fill="#56a64b"/><circle cx="90.5" cy="16.5" r="2" fill="#56a64b"/><circle cx="100.6" cy="14.3" r="2" fill="#56a64b"/><circle cx="110.6" cy="15.0" r="2" fill="#56a64b"/><circle cx="120.7" cy="15.2" r="2" fill="#56a64b"/><circle cx="130.8" cy="19.8" r="2" fill="#56a64b"/><circle cx="140.8" cy="19.9" r="2" fill="#56a64b"/><circle cx="150.9" cy="22.6" r="2" fill="#56a64b"/><circle cx="160.9" cy="19.3" r="2" fill="#56a64b"/><circle cx="171.0" cy="19.4" r="2" fill="#56a64b"/></svg></div><div style="position:absolute;left:640px;top:810px;font-size:11px;line-height:13px;color:#ccccdc;font-weight:400;white-space:nowrap;width:50px;text-align:right">152</div><div style="position:absolute;left:727px;top:810px;font-size:11px;line-height:13px;color:#ccccdc;font-weight:400;white-space:nowrap;">8%</div><div style="position:absolute;left:761px;top:811px;font-size:10.1px;line-height:12.1px;color:#d0d1d8;font-weight:400;white-space:nowrap;font-family:'Liberation Mono',monospace">&lt;_&gt; - - [&lt;_&gt; +0000] &quot;POST &lt;_&gt; &lt;_&gt;&quot; 200 &lt;_&gt;</div><div style="position:absolute;left:1238px;top:807px;width:101px;height:22px;border:1px solid #34363c;border-radius:2px;box-sizing:border-box"></div><div style="position:absolute;left:1246px;top:811px;font-size:11px;line-height:13px;color:#d8d9e0;font-weight:500;white-space:nowrap;">Include</div><div style="position:absolute;left:1292px;top:811px;font-size:11px;line-height:13px;color:#d8d9e0;font-weight:500;white-space:nowrap;">Exclude</div><div style="position:absolute;left:263px;top:837px;width:1080px;height:1px;background:#202226"></div><div style="position:absolute;left:283px;top:837px;width:171px;height:39px"><svg width="171" height="39" viewBox="0 0 171 39" style="position:absolute;display:block;overflow:visible"><path d="M0.0,18.6 L10.1,16.7 L20.1,16.0 L30.2,17.2 L40.2,12.5 L50.3,20.5 L60.4,16.5 L70.4,16.8 L80.5,12.3 L90.5,10.4 L100.6,18.0 L110.6,22.7 L120.7,18.6 L130.8,20.0 L140.8,15.3 L150.9,16.1 L160.9,16.9 L171.0,13.0" fill="none" stroke="#f2cc0c" stroke-width="1.3" stroke-linejoin="round"/><circle cx="0.0" cy="18.6" r="2" fill="#f2cc0c"/><circle cx="10.1" cy="16.7" r="2" fill="#f2cc0c"/><circle cx="20.1" cy="16.0" r="2" fill="#f2cc0c"/><circle cx="30.2" cy="17.2" r="2" fill="#f2cc0c"/><circle cx="40.2" cy="12.5" r="2" fill="#f2cc0c"/><circle cx="50.3" cy="20.5" r="2" fill="#f2cc0c"/><circle cx="60.4" cy="16.5" r="2" fill="#f2cc0c"/><circle cx="70.4" cy="16.8" r="2" fill="#f2cc0c"/><circle cx="80.5" cy="12.3" r="2" fill="#f2cc0c"/><circle cx="90.5" cy="10.4" r="2" fill="#f2cc0c"/><circle cx="100.6" cy="18.0" r="2" fill="#f2cc0c"/><circle cx="110.6" cy="22.7" r="2" fill="#f2cc0c"/><circle cx="120.7" cy="18.6" r="2" fill="#f2cc0c"/><circle cx="130.8" cy="20.0" r="2" fill="#f2cc0c"/><circle cx="140.8" cy="15.3" r="2" fill="#f2cc0c"/><circle cx="150.9" cy="16.1" r="2" fill="#f2cc0c"/><circle cx="160.9" cy="16.9" r="2" fill="#f2cc0c"/><circle cx="171.0" cy="13.0" r="2" fill="#f2cc0c"/></svg></div><div style="position:absolute;left:640px;top:849px;font-size:11px;line-height:13px;color:#ccccdc;font-weight:400;white-space:nowrap;width:50px;text-align:right">128</div><div style="position:absolute;left:727px;top:849px;font-size:11px;line-height:13px;color:#ccccdc;font-weight:400;white-space:nowrap;">7%</div><div style="position:absolute;left:761px;top:850px;font-size:10.1px;line-height:12.1px;color:#d0d1d8;font-weight:400;white-space:nowrap;font-family:'Liberation Mono',monospace">&lt;_&gt; - &lt;_&gt; [&lt;_&gt; +0000] &quot;GET &lt;_&gt; &lt;_&gt;&quot; 200 &lt;_&gt;</div><div style="position:absolute;left:1238px;top:846px;width:101px;height:22px;border:1px solid #34363c;border-radius:2px;box-sizing:border-box"></div><div style="position:absolute;left:1246px;top:850px;font-size:11px;line-height:13px;color:#d8d9e0;font-weight:500;white-space:nowrap;">Include</div><div style="position:absolute;left:1292px;top:850px;font-size:11px;line-height:13px;color:#d8d9e0;font-weight:500;white-space:nowrap;">Exclude</div><div style="position:absolute;left:263px;top:876px;width:1080px;height:1px;background:#202226"></div><div style="position:absolute;left:283px;top:876px;width:171px;height:39px"><svg width="171" height="39" viewBox="0 0 171 39" style="position:absolute;display:block;overflow:visible"><path d="M0.0,14.8 L10.1,18.7 L20.1,16.5 L30.2,11.3 L40.2,16.5 L50.3,11.8 L60.4,16.2 L70.4,16.4 L80.5,16.3 L90.5,13.2 L100.6,20.8 L110.6,19.6 L120.7,15.9 L130.8,18.7 L140.8,19.5 L150.9,19.5 L160.9,17.0 L171.0,17.8" fill="none" stroke="#3274d9" stroke-width="1.3" stroke-linejoin="round"/><circle cx="0.0" cy="14.8" r="2" fill="#3274d9"/><circle cx="10.1" cy="18.7" r="2" fill="#3274d9"/><circle cx="20.1" cy="16.5" r="2" fill="#3274d9"/><circle cx="30.2" cy="11.3" r="2" fill="#3274d9"/><circle cx="40.2" cy="16.5" r="2" fill="#3274d9"/><circle cx="50.3" cy="11.8" r="2" fill="#3274d9"/><circle cx="60.4" cy="16.2" r="2" fill="#3274d9"/><circle cx="70.4" cy="16.4" r="2" fill="#3274d9"/><circle cx="80.5" cy="16.3" r="2" fill="#3274d9"/><circle cx="90.5" cy="13.2" r="2" fill="#3274d9"/><circle cx="100.6" cy="20.8" r="2" fill="#3274d9"/><circle cx="110.6" cy="19.6" r="2" fill="#3274d9"/><circle cx="120.7" cy="15.9" r="2" fill="#3274d9"/><circle cx="130.8" cy="18.7" r="2" fill="#3274d9"/><circle cx="140.8" cy="19.5" r="2" fill="#3274d9"/><circle cx="150.9" cy="19.5" r="2" fill="#3274d9"/><circle cx="160.9" cy="17.0" r="2" fill="#3274d9"/><circle cx="171.0" cy="17.8" r="2" fill="#3274d9"/></svg></div><div style="position:absolute;left:640px;top:888px;font-size:11px;line-height:13px;color:#ccccdc;font-weight:400;white-space:nowrap;width:50px;text-align:right">128</div><div style="position:absolute;left:727px;top:888px;font-size:11px;line-height:13px;color:#ccccdc;font-weight:400;white-space:nowrap;">7%</div><div style="position:absolute;left:761px;top:889px;font-size:10.1px;line-height:12.1px;color:#d0d1d8;font-weight:400;white-space:nowrap;font-family:'Liberation Mono',monospace">&lt;_&gt; - - [&lt;_&gt; +0000] &quot;HEAD &lt;_&gt; &lt;_&gt;&quot; 200 &lt;_&gt;</div><div style="position:absolute;left:1238px;top:885px;width:101px;height:22px;border:1px solid #34363c;border-radius:2px;box-sizing:border-box"></div><div style="position:absolute;left:1246px;top:889px;font-size:11px;line-height:13px;color:#d8d9e0;font-weight:500;white-space:nowrap;">Include</div><div style="position:absolute;left:1292px;top:889px;font-size:11px;line-height:13px;color:#d8d9e0;font-weight:500;white-space:nowrap;">Exclude</div><div style="position:absolute;left:263px;top:915px;width:1080px;height:1px;background:#202226"></div><div style="position:absolute;left:283px;top:915px;width:171px;height:39px"><svg width="171" height="39" viewBox="0 0 171 39" style="position:absolute;display:block;overflow:visible"><path d="M0.0,15.4 L10.1,19.3 L20.1,18.7 L30.2,16.4 L40.2,15.4 L50.3,16.2 L60.4,17.8 L70.4,16.5 L80.5,14.1 L90.5,14.8 L100.6,22.2 L110.6,19.3 L120.7,19.4 L130.8,21.8 L140.8,19.1 L150.9,14.8 L160.9,15.8 L171.0,13.2" fill="none" stroke="#e0752d" stroke-width="1.3" stroke-linejoin="round"/><circle cx="0.0" cy="15.4" r="2" fill="#e0752d"/><circle cx="10.1" cy="19.3" r="2" fill="#e0752d"/><circle cx="20.1" cy="18.7" r="2" fill="#e0752d"/><circle cx="30.2" cy="16.4" r="2" fill="#e0752d"/><circle cx="40.2" cy="15.4" r="2" fill="#e0752d"/><circle cx="50.3" cy="16.2" r="2" fill="#e0752d"/><circle cx="60.4" cy="17.8" r="2" fill="#e0752d"/><circle cx="70.4" cy="16.5" r="2" fill="#e0752d"/><circle cx="80.5" cy="14.1" r="2" fill="#e0752d"/><circle cx="90.5" cy="14.8" r="2" fill="#e0752d"/><circle cx="100.6" cy="22.2" r="2" fill="#e0752d"/><circle cx="110.6" cy="19.3" r="2" fill="#e0752d"/><circle cx="120.7" cy="19.4" r="2" fill="#e0752d"/><circle cx="130.8" cy="21.8" r="2" fill="#e0752d"/><circle cx="140.8" cy="19.1" r="2" fill="#e0752d"/><circle cx="150.9" cy="14.8" r="2" fill="#e0752d"/><circle cx="160.9" cy="15.8" r="2" fill="#e0752d"/><circle cx="171.0" cy="13.2" r="2" fill="#e0752d"/></svg></div><div style="position:absolute;left:640px;top:927px;font-size:11px;line-height:13px;color:#ccccdc;font-weight:400;white-space:nowrap;width:50px;text-align:right">127</div><div style="position:absolute;left:727px;top:927px;font-size:11px;line-height:13px;color:#ccccdc;font-weight:400;white-space:nowrap;">7%</div><div style="position:absolute;left:761px;top:928px;font-size:10.1px;line-height:12.1px;color:#d0d1d8;font-weight:400;white-space:nowrap;font-family:'Liberation Mono',monospace">&lt;_&gt; - - [&lt;_&gt; +0000] &quot;PUT &lt;_&gt; &lt;_&gt;&quot; 200 &lt;_&gt;</div><div style="position:absolute;left:1238px;top:924px;width:101px;height:22px;border:1px solid #34363c;border-radius:2px;box-sizing:border-box"></div><div style="position:absolute;left:1246px;top:928px;font-size:11px;line-height:13px;color:#d8d9e0;font-weight:500;white-space:nowrap;">Include</div><div style="position:absolute;left:1292px;top:928px;font-size:11px;line-height:13px;color:#d8d9e0;font-weight:500;white-space:nowrap;">Exclude</div></div><svg style="position:absolute;left:0;top:0" width="1684" height="1190" viewBox="0 0 1684 1190" fill="none" stroke="#000" stroke-linecap="round" stroke-linejoin="round"><path stroke-width="4.2" d="M773.2,163.5 C776.8,161.4 782.6,154.4 794.7,150.8 C806.8,147.2 831.4,142.5 845.8,142.0 C860.2,141.5 872.5,143.8 880.9,147.6 C889.3,151.4 894.8,158.7 896.1,165.1 C897.4,171.5 893.5,178.4 888.9,185.9 C884.2,193.4 877.5,201.0 868.2,209.8 C858.9,218.6 844.2,229.5 833.0,238.6 C821.8,247.7 809.9,256.0 801.1,264.1 C792.3,272.2 785.3,280.4 780.0,287.0 C774.7,293.6 771.0,301.2 769.2,304.0"/><path stroke-width="4.2" d="M792.3,249.8 C790.4,253.2 783.8,264.4 781.0,270.0 C778.2,275.6 777.4,277.6 775.5,283.3 C773.6,289.0 770.5,300.6 769.5,304.0"/><path stroke-width="4.2" d="M834.6,260.1 C831.3,261.6 820.6,266.2 815.0,269.0 C809.4,271.8 806.1,273.6 801.1,276.9 C796.1,280.2 790.0,284.7 785.0,289.0 C780.0,293.3 773.2,300.2 770.8,302.5"/><path stroke-width="3.8" d="M1515.2,166.3 C1516.0,164.0 1516.1,156.2 1520.3,152.2 C1524.5,148.2 1534.7,142.4 1540.4,142.1 C1546.1,141.8 1551.9,143.8 1554.6,150.2 C1557.3,156.6 1557.6,166.9 1556.6,180.4 C1555.6,193.9 1551.6,216.0 1548.5,230.9 C1545.4,245.8 1540.6,256.8 1538.0,270.0 C1535.4,283.2 1533.9,296.7 1533.0,310.0 C1532.1,323.3 1532.7,343.3 1532.6,350.0"/><path stroke-width="4" d="M1514.2,291.4 C1515.8,295.8 1520.8,308.1 1524.0,318.0 C1527.2,327.9 1531.8,345.5 1533.4,351.0"/><path stroke-width="4" d="M1552.5,294.4 C1550.8,299.0 1545.2,312.6 1542.0,322.0 C1538.8,331.4 1534.8,346.2 1533.4,351.0"/><path stroke-width="4.2" d="M420.9,1063.0 C420.0,1066.5 416.8,1075.4 415.8,1083.8 C414.8,1092.2 413.6,1105.1 414.7,1113.2 C415.8,1121.3 415.7,1126.4 422.6,1132.4 C429.6,1138.4 445.1,1147.6 456.4,1149.3 C467.7,1151.0 477.1,1148.2 490.3,1142.5 C503.5,1136.8 521.5,1124.8 535.4,1115.4 C549.3,1106.0 567.4,1091.0 573.8,1086.1"/><path stroke-width="6.5" d="M508.3,1107.5 C512.8,1105.2 524.4,1097.8 535.4,1094.0 C546.4,1090.2 567.8,1086.1 574.3,1084.5"/><path stroke-width="4.2" d="M545.5,1140.3 C547.4,1137.7 552.1,1133.3 556.8,1124.5 C561.5,1115.7 571.0,1093.4 573.8,1087.2"/></svg></body></html>
